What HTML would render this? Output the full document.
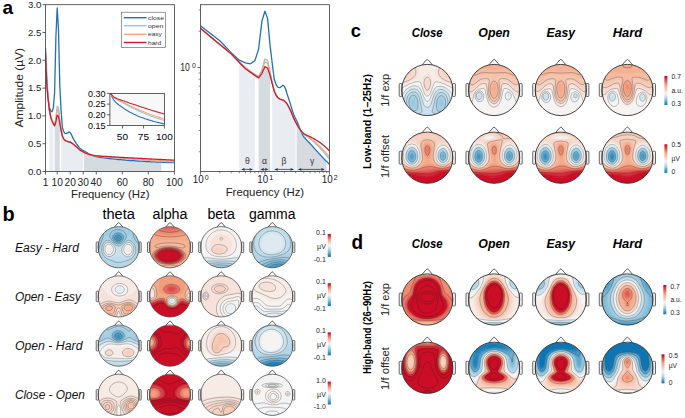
<!DOCTYPE html><html><head><meta charset="utf-8"><style>html,body{margin:0;padding:0;background:#fff;overflow:hidden;}svg{display:block;}text{font-family:"Liberation Sans", sans-serif;}</style></head><body>
<svg width="685" height="418" viewBox="0 0 685 418">
<rect width="685" height="418" fill="#fff"/>
<defs><filter id="sm" x="-10%" y="-10%" width="120%" height="120%"><feGaussianBlur stdDeviation="0.7"/></filter><linearGradient id="cbg" x1="0" y1="1" x2="0" y2="0"><stop offset="0.0" stop-color="#0571b0"/><stop offset="0.1" stop-color="#3d93c2"/><stop offset="0.2" stop-color="#76b4d5"/><stop offset="0.3" stop-color="#a6cfe3"/><stop offset="0.4" stop-color="#cfe3ed"/><stop offset="0.5" stop-color="#f7f7f7"/><stop offset="0.6" stop-color="#f6d6c8"/><stop offset="0.7" stop-color="#f5b599"/><stop offset="0.8" stop-color="#ec846e"/><stop offset="0.9" stop-color="#db4247"/><stop offset="1.0" stop-color="#ca0020"/></linearGradient><linearGradient id="cbg2" x1="0" y1="1" x2="0" y2="0"><stop offset="0.00" stop-color="#0571b0"/><stop offset="0.10" stop-color="#4f9dc8"/><stop offset="0.20" stop-color="#97c8df"/><stop offset="0.30" stop-color="#cce2ec"/><stop offset="0.40" stop-color="#f7f2ef"/><stop offset="0.50" stop-color="#f6d7ca"/><stop offset="0.60" stop-color="#f5bda4"/><stop offset="0.70" stop-color="#f3a07f"/><stop offset="0.80" stop-color="#e56a5f"/><stop offset="0.90" stop-color="#d83540"/><stop offset="1.00" stop-color="#ca0020"/></linearGradient></defs>
<path d="M49.4 110.1 L49.5 110.4 L49.5 110.8 L49.6 111.2 L49.7 111.5 L49.7 111.9 L49.8 112.3 L49.9 112.6 L49.9 113.0 L50.0 113.4 L50.1 113.7 L50.1 114.1 L50.2 114.5 L50.3 114.8 L50.3 115.2 L50.4 115.6 L50.5 115.9 L50.5 116.3 L50.6 116.7 L50.7 117.0 L50.7 117.4 L50.8 117.5 L50.9 117.7 L50.9 117.9 L51.0 118.1 L51.1 118.3 L51.1 118.5 L51.2 118.6 L51.3 118.8 L51.3 119.0 L51.4 119.2 L51.5 119.4 L51.5 119.6 L51.6 119.7 L51.7 119.9 L51.7 120.1 L51.8 120.3 L51.9 120.5 L51.9 120.7 L52.0 120.8 L52.1 121.0 L52.1 121.1 L52.2 121.3 L52.3 121.4 L52.3 121.6 L52.4 121.7 L52.5 121.8 L52.5 122.0 L52.6 122.1 L52.7 122.3 L52.7 122.4 L52.8 122.6 L52.8 122.7 L52.9 122.8 L53.0 123.0 L53.0 123.1 L53.1 123.3 L53.2 123.4 L53.2 123.5 L53.3 123.7 L53.3 171.5 L49.4 171.5 Z" fill="#e9edf1"/>
<path d="M54.6 125.9 L54.7 125.6 L54.8 125.3 L54.9 125.1 L55.0 124.8 L55.1 124.5 L55.1 124.2 L55.2 123.9 L55.3 123.6 L55.4 123.4 L55.5 123.1 L55.6 122.8 L55.7 122.5 L55.8 122.2 L55.8 122.0 L55.9 121.6 L56.0 121.2 L56.1 120.7 L56.2 120.3 L56.3 119.8 L56.4 119.4 L56.5 118.9 L56.6 118.5 L56.6 118.0 L56.7 117.6 L56.8 117.1 L56.9 116.6 L57.0 116.2 L57.1 115.7 L57.2 115.3 L57.3 115.1 L57.4 115.2 L57.4 115.3 L57.5 115.4 L57.6 115.5 L57.7 115.6 L57.8 115.7 L57.9 115.8 L58.0 115.9 L58.1 116.0 L58.1 116.1 L58.2 116.1 L58.3 116.2 L58.4 116.3 L58.5 116.4 L58.6 116.8 L58.7 117.3 L58.8 117.8 L58.9 118.2 L58.9 118.7 L59.0 119.2 L59.1 119.6 L59.2 120.1 L59.3 120.6 L59.4 121.1 L59.5 121.5 L59.6 122.0 L59.6 122.5 L59.7 122.9 L59.8 123.4 L59.8 171.5 L54.6 171.5 Z" fill="#d6dbe0"/>
<path d="M61.1 130.5 L61.5 132.2 L61.9 133.8 L62.2 135.4 L62.6 136.6 L63.0 137.4 L63.4 138.2 L63.8 138.9 L64.1 139.4 L64.5 139.8 L64.9 140.2 L65.3 140.5 L65.6 140.7 L66.0 140.9 L66.4 141.0 L66.8 141.2 L67.1 141.3 L67.5 141.4 L67.9 141.5 L68.3 141.6 L68.6 141.7 L69.0 141.8 L69.4 141.9 L69.8 142.0 L70.1 142.1 L70.5 142.3 L70.9 142.5 L71.3 142.7 L71.6 142.9 L72.0 143.2 L72.4 143.4 L72.8 143.6 L73.1 143.9 L73.5 144.3 L73.9 144.6 L74.3 144.9 L74.6 145.2 L75.0 145.6 L75.4 145.9 L75.8 146.2 L76.1 146.6 L76.5 146.9 L76.9 147.3 L77.3 147.6 L77.6 147.9 L78.0 148.3 L78.4 148.6 L78.8 148.9 L79.1 149.2 L79.5 149.5 L79.9 149.8 L80.3 150.1 L80.6 150.3 L81.0 150.6 L81.4 150.8 L81.8 151.1 L82.1 151.3 L82.5 151.5 L82.9 151.7 L83.3 151.9 L83.3 171.5 L61.1 171.5 Z" fill="#e9edf1"/>
<path d="M84.0 152.3 L85.4 152.9 L86.7 153.4 L88.0 153.9 L89.3 154.3 L90.6 154.7 L91.9 155.2 L93.2 155.8 L94.5 156.2 L95.8 156.5 L97.1 156.8 L98.5 157.1 L99.8 157.3 L101.1 157.5 L102.4 157.7 L103.7 157.8 L105.0 158.0 L106.3 158.1 L107.6 158.3 L108.9 158.4 L110.3 158.6 L111.6 158.7 L112.9 158.9 L114.2 159.0 L115.5 159.2 L116.8 159.3 L118.1 159.4 L119.4 159.6 L120.7 159.7 L122.1 159.8 L123.4 159.9 L124.7 160.0 L126.0 160.1 L127.3 160.2 L128.6 160.3 L129.9 160.4 L131.2 160.5 L132.5 160.6 L133.9 160.7 L135.2 160.8 L136.5 160.9 L137.8 161.0 L139.1 161.1 L140.4 161.2 L141.7 161.2 L143.0 161.3 L144.3 161.4 L145.6 161.5 L147.0 161.5 L148.3 161.6 L149.6 161.7 L150.9 161.7 L152.2 161.8 L153.5 161.9 L154.8 161.9 L156.1 162.0 L157.4 162.1 L158.8 162.1 L160.1 162.2 L161.4 162.2 L161.4 171.5 L84.0 171.5 Z" fill="#d6dbe0"/>
<clipPath id="clA"><rect x="45.5" y="4.7" width="128.9" height="166.8"/></clipPath>
<g clip-path="url(#clA)" fill="none" stroke-linejoin="round">
<path d="M45.5 48.1 L46.8 78.9 L48.1 97.6 L49.4 107.6 L50.7 110.7 L52.0 111.8 L53.3 108.1 L54.6 92.5 L55.9 36.9 L57.2 8.0 L58.5 29.7 L59.8 85.9 L61.1 110.9 L62.4 127.6 L63.7 131.7 L65.0 133.4 L66.3 133.7 L67.6 132.9 L68.9 131.9 L70.2 132.6 L71.5 134.8 L72.8 137.9 L74.1 140.1 L75.4 142.1 L76.7 144.2 L78.1 146.0 L79.4 147.6 L80.7 148.9 L82.0 149.8 L83.3 150.6 L84.6 151.4 L85.9 152.1 L87.2 152.8 L88.5 153.5 L89.8 154.2 L91.1 154.9 L92.4 155.4 L93.7 155.9 L95.0 156.3 L96.3 156.6 L97.6 156.9 L98.9 157.1 L100.2 157.3 L101.5 157.5 L102.8 157.7 L104.1 157.9 L105.4 158.0 L106.7 158.2 L108.0 158.3 L109.3 158.5 L110.6 158.6 L111.9 158.8 L113.2 158.9 L114.5 159.1 L115.8 159.2 L117.1 159.3 L118.4 159.5 L119.7 159.6 L121.0 159.7 L122.3 159.8 L123.6 159.9 L124.9 160.0 L126.2 160.2 L127.5 160.3 L128.8 160.4 L130.1 160.5 L131.4 160.6 L132.7 160.7 L134.0 160.7 L135.3 160.8 L136.6 160.9 L137.9 161.0 L139.2 161.1 L140.5 161.2 L141.8 161.2 L143.2 161.3 L144.5 161.4 L145.8 161.5 L147.1 161.5 L148.4 161.6 L149.7 161.7 L151.0 161.8 L152.3 161.8 L153.6 161.9 L154.9 161.9 L156.2 162.0 L157.5 162.1 L158.8 162.1 L160.1 162.2 L161.4 162.2 L162.7 162.3 L164.0 162.4 L165.3 162.4 L166.6 162.5 L167.9 162.5 L169.2 162.6 L170.5 162.6 L171.8 162.7 L173.1 162.7 L174.4 162.8" stroke="#1f71b5" stroke-width="1.3"/>
<path d="M45.5 53.6 L46.8 85.0 L48.1 99.2 L49.4 110.1 L50.7 116.0 L52.0 119.7 L53.3 122.6 L54.6 124.8 L55.9 118.2 L57.2 106.1 L58.5 107.7 L59.8 120.0 L61.1 129.6 L62.4 136.2 L63.7 138.9 L65.0 140.4 L66.3 141.0 L67.6 141.5 L68.9 141.8 L70.2 142.1 L71.5 142.9 L72.8 143.7 L74.1 144.8 L75.4 145.9 L76.7 147.1 L78.1 148.3 L79.4 149.4 L80.7 150.4 L82.0 151.2 L83.3 151.9 L84.6 152.5 L85.9 153.1 L87.2 153.6 L88.5 154.0 L89.8 154.5 L91.1 154.8 L92.4 155.2 L93.7 155.5 L95.0 155.7 L96.3 155.9 L97.6 156.1 L98.9 156.2 L100.2 156.4 L101.5 156.5 L102.8 156.6 L104.1 156.7 L105.4 156.9 L106.7 157.0 L108.0 157.1 L109.3 157.2 L110.6 157.3 L111.9 157.4 L113.2 157.6 L114.5 157.7 L115.8 157.8 L117.1 157.9 L118.4 158.0 L119.7 158.1 L121.0 158.3 L122.3 158.4 L123.6 158.5 L124.9 158.6 L126.2 158.7 L127.5 158.8 L128.8 158.9 L130.1 159.0 L131.4 159.1 L132.7 159.2 L134.0 159.3 L135.3 159.4 L136.6 159.5 L137.9 159.6 L139.2 159.7 L140.5 159.8 L141.8 159.9 L143.2 160.0 L144.5 160.1 L145.8 160.2 L147.1 160.3 L148.4 160.4 L149.7 160.4 L151.0 160.5 L152.3 160.6 L153.6 160.7 L154.9 160.8 L156.2 160.9 L157.5 160.9 L158.8 161.0 L160.1 161.1 L161.4 161.2 L162.7 161.2 L164.0 161.3 L165.3 161.4 L166.6 161.5 L167.9 161.5 L169.2 161.6 L170.5 161.7 L171.8 161.7 L173.1 161.8 L174.4 161.9" stroke="#92c5de" stroke-width="1.3"/>
<path d="M45.5 53.6 L46.8 85.0 L48.1 99.2 L49.4 110.1 L50.7 116.7 L52.0 120.3 L53.3 123.1 L54.6 125.4 L55.9 119.8 L57.2 109.5 L58.5 111.0 L59.8 121.5 L61.1 130.0 L62.4 136.2 L63.7 138.9 L65.0 140.4 L66.3 141.0 L67.6 141.5 L68.9 141.8 L70.2 142.1 L71.5 142.9 L72.8 143.7 L74.1 144.8 L75.4 145.9 L76.7 147.1 L78.1 148.3 L79.4 149.4 L80.7 150.4 L82.0 151.2 L83.3 151.9 L84.6 152.5 L85.9 153.1 L87.2 153.6 L88.5 154.0 L89.8 154.5 L91.1 154.8 L92.4 155.2 L93.7 155.5 L95.0 155.7 L96.3 155.9 L97.6 156.0 L98.9 156.2 L100.2 156.3 L101.5 156.4 L102.8 156.5 L104.1 156.7 L105.4 156.8 L106.7 156.9 L108.0 157.0 L109.3 157.1 L110.6 157.2 L111.9 157.3 L113.2 157.4 L114.5 157.5 L115.8 157.6 L117.1 157.7 L118.4 157.8 L119.7 157.9 L121.0 158.0 L122.3 158.1 L123.6 158.2 L124.9 158.3 L126.2 158.4 L127.5 158.5 L128.8 158.6 L130.1 158.7 L131.4 158.8 L132.7 158.9 L134.0 159.0 L135.3 159.1 L136.6 159.2 L137.9 159.3 L139.2 159.4 L140.5 159.5 L141.8 159.6 L143.2 159.6 L144.5 159.7 L145.8 159.8 L147.1 159.9 L148.4 160.0 L149.7 160.1 L151.0 160.2 L152.3 160.2 L153.6 160.3 L154.9 160.4 L156.2 160.5 L157.5 160.5 L158.8 160.6 L160.1 160.7 L161.4 160.8 L162.7 160.8 L164.0 160.9 L165.3 161.0 L166.6 161.1 L167.9 161.1 L169.2 161.2 L170.5 161.3 L171.8 161.3 L173.1 161.4 L174.4 161.4" stroke="#f4a582" stroke-width="1.3"/>
<path d="M45.5 53.6 L46.8 85.0 L48.1 99.2 L49.4 110.1 L50.7 117.3 L52.0 120.9 L53.3 123.7 L54.6 125.9 L55.9 121.7 L57.2 115.1 L58.5 116.5 L59.8 123.4 L61.1 130.5 L62.4 136.2 L63.7 138.9 L65.0 140.4 L66.3 141.0 L67.6 141.5 L68.9 141.8 L70.2 142.1 L71.5 142.9 L72.8 143.7 L74.1 144.8 L75.4 145.9 L76.7 147.1 L78.1 148.3 L79.4 149.4 L80.7 150.4 L82.0 151.2 L83.3 151.9 L84.6 152.6 L85.9 153.1 L87.2 153.6 L88.5 154.1 L89.8 154.5 L91.1 154.8 L92.4 155.1 L93.7 155.4 L95.0 155.6 L96.3 155.8 L97.6 155.9 L98.9 156.0 L100.2 156.1 L101.5 156.2 L102.8 156.3 L104.1 156.4 L105.4 156.4 L106.7 156.5 L108.0 156.6 L109.3 156.7 L110.6 156.7 L111.9 156.8 L113.2 156.9 L114.5 157.0 L115.8 157.1 L117.1 157.1 L118.4 157.2 L119.7 157.3 L121.0 157.4 L122.3 157.4 L123.6 157.5 L124.9 157.6 L126.2 157.6 L127.5 157.7 L128.8 157.8 L130.1 157.9 L131.4 157.9 L132.7 158.0 L134.0 158.1 L135.3 158.2 L136.6 158.2 L137.9 158.3 L139.2 158.4 L140.5 158.4 L141.8 158.5 L143.2 158.6 L144.5 158.7 L145.8 158.7 L147.1 158.8 L148.4 158.9 L149.7 158.9 L151.0 159.0 L152.3 159.1 L153.6 159.1 L154.9 159.2 L156.2 159.3 L157.5 159.3 L158.8 159.4 L160.1 159.5 L161.4 159.5 L162.7 159.6 L164.0 159.7 L165.3 159.7 L166.6 159.8 L167.9 159.9 L169.2 159.9 L170.5 160.0 L171.8 160.1 L173.1 160.1 L174.4 160.2" stroke="#ca1c2c" stroke-width="1.3"/>
</g>
<rect x="45.5" y="4.7" width="128.9" height="166.8" fill="none" stroke="#3a3a3a" stroke-width="0.8"/>
<line x1="42.5" y1="171.5" x2="45.5" y2="171.5" stroke="#3a3a3a" stroke-width="0.8"/>
<text x="41.3" y="174.8" font-size="9.3" text-anchor="end" textLength="13.4" lengthAdjust="spacingAndGlyphs" fill="#222">0.0</text>
<line x1="42.5" y1="143.7" x2="45.5" y2="143.7" stroke="#3a3a3a" stroke-width="0.8"/>
<text x="41.3" y="147" font-size="9.3" text-anchor="end" textLength="13.4" lengthAdjust="spacingAndGlyphs" fill="#222">0.5</text>
<line x1="42.5" y1="115.9" x2="45.5" y2="115.9" stroke="#3a3a3a" stroke-width="0.8"/>
<text x="41.3" y="119.2" font-size="9.3" text-anchor="end" textLength="13.4" lengthAdjust="spacingAndGlyphs" fill="#222">1.0</text>
<line x1="42.5" y1="88.1" x2="45.5" y2="88.1" stroke="#3a3a3a" stroke-width="0.8"/>
<text x="41.3" y="91.4" font-size="9.3" text-anchor="end" textLength="13.4" lengthAdjust="spacingAndGlyphs" fill="#222">1.5</text>
<line x1="42.5" y1="60.3" x2="45.5" y2="60.3" stroke="#3a3a3a" stroke-width="0.8"/>
<text x="41.3" y="63.6" font-size="9.3" text-anchor="end" textLength="13.4" lengthAdjust="spacingAndGlyphs" fill="#222">2.0</text>
<line x1="42.5" y1="32.5" x2="45.5" y2="32.5" stroke="#3a3a3a" stroke-width="0.8"/>
<text x="41.3" y="35.8" font-size="9.3" text-anchor="end" textLength="13.4" lengthAdjust="spacingAndGlyphs" fill="#222">2.5</text>
<line x1="42.5" y1="4.7" x2="45.5" y2="4.7" stroke="#3a3a3a" stroke-width="0.8"/>
<text x="41.3" y="8" font-size="9.3" text-anchor="end" textLength="13.4" lengthAdjust="spacingAndGlyphs" fill="#222">3.0</text>
<line x1="45.5" y1="171.5" x2="45.5" y2="174.5" stroke="#3a3a3a" stroke-width="0.8"/>
<text x="45.5" y="185.8" font-size="10" text-anchor="middle" textLength="5.65" lengthAdjust="spacingAndGlyphs" fill="#222">1</text>
<line x1="57.22" y1="171.5" x2="57.22" y2="174.5" stroke="#3a3a3a" stroke-width="0.8"/>
<text x="57.22" y="185.8" font-size="10" text-anchor="middle" textLength="11.3" lengthAdjust="spacingAndGlyphs" fill="#222">10</text>
<line x1="70.24" y1="171.5" x2="70.24" y2="174.5" stroke="#3a3a3a" stroke-width="0.8"/>
<text x="70.24" y="185.8" font-size="10" text-anchor="middle" textLength="11.3" lengthAdjust="spacingAndGlyphs" fill="#222">20</text>
<line x1="83.26" y1="171.5" x2="83.26" y2="174.5" stroke="#3a3a3a" stroke-width="0.8"/>
<text x="83.26" y="185.8" font-size="10" text-anchor="middle" textLength="11.3" lengthAdjust="spacingAndGlyphs" fill="#222">30</text>
<line x1="96.28" y1="171.5" x2="96.28" y2="174.5" stroke="#3a3a3a" stroke-width="0.8"/>
<text x="96.28" y="185.8" font-size="10" text-anchor="middle" textLength="11.3" lengthAdjust="spacingAndGlyphs" fill="#222">40</text>
<line x1="122.32" y1="171.5" x2="122.32" y2="174.5" stroke="#3a3a3a" stroke-width="0.8"/>
<text x="122.32" y="185.8" font-size="10" text-anchor="middle" textLength="11.3" lengthAdjust="spacingAndGlyphs" fill="#222">60</text>
<line x1="148.36" y1="171.5" x2="148.36" y2="174.5" stroke="#3a3a3a" stroke-width="0.8"/>
<text x="148.36" y="185.8" font-size="10" text-anchor="middle" textLength="11.3" lengthAdjust="spacingAndGlyphs" fill="#222">80</text>
<line x1="174.4" y1="171.5" x2="174.4" y2="174.5" stroke="#3a3a3a" stroke-width="0.8"/>
<text x="174.4" y="185.8" font-size="10" text-anchor="middle" textLength="16.95" lengthAdjust="spacingAndGlyphs" fill="#222">100</text>
<text x="110.2" y="197.9" font-size="10.6" text-anchor="middle" textLength="78.5" lengthAdjust="spacingAndGlyphs" fill="#222">Frequency (Hz)</text>
<text x="23.2" y="87.7" font-size="10.6" text-anchor="middle" textLength="79.5" lengthAdjust="spacingAndGlyphs" transform="rotate(-90 23.2 87.7)" fill="#222">Amplitude (µV)</text>
<rect x="109.9" y="93.4" width="54.5" height="32.1" fill="#f8f8f8"/>
<clipPath id="clI"><rect x="109.9" y="93.4" width="54.5" height="32.1"/></clipPath>
<g clip-path="url(#clI)" fill="none">
<path d="M109.9 91.1 L110.7 93.6 L111.6 95.8 L112.4 97.7 L113.3 99.2 L114.1 100.4 L114.9 101.4 L115.8 102.3 L116.6 103.1 L117.4 103.8 L118.3 104.5 L119.1 105.1 L120.0 105.7 L120.8 106.3 L121.6 106.9 L122.5 107.4 L123.3 108.0 L124.2 108.6 L125.0 109.2 L125.8 109.7 L126.7 110.2 L127.5 110.7 L128.3 111.2 L129.2 111.7 L130.0 112.2 L130.9 112.6 L131.7 113.1 L132.5 113.5 L133.4 113.9 L134.2 114.3 L135.1 114.7 L135.9 115.1 L136.7 115.5 L137.6 115.9 L138.4 116.2 L139.2 116.5 L140.1 116.9 L140.9 117.2 L141.8 117.5 L142.6 117.8 L143.4 118.1 L144.3 118.4 L145.1 118.7 L146.0 119.0 L146.8 119.3 L147.6 119.6 L148.5 119.8 L149.3 120.1 L150.1 120.3 L151.0 120.6 L151.8 120.8 L152.7 121.1 L153.5 121.3 L154.3 121.5 L155.2 121.7 L156.0 122.0 L156.9 122.2 L157.7 122.4 L158.5 122.6 L159.4 122.8 L160.2 123.0 L161.0 123.2 L161.9 123.4 L162.7 123.6 L163.6 123.8 L164.4 123.9" stroke="#1f71b5" stroke-width="1.1"/>
<path d="M109.9 92.0 L110.7 93.5 L111.6 94.8 L112.4 96.0 L113.3 96.9 L114.1 97.6 L114.9 98.3 L115.8 98.9 L116.6 99.4 L117.4 99.9 L118.3 100.4 L119.1 100.8 L120.0 101.2 L120.8 101.7 L121.6 102.1 L122.5 102.5 L123.3 103.0 L124.2 103.4 L125.0 103.9 L125.8 104.4 L126.7 104.8 L127.5 105.3 L128.3 105.7 L129.2 106.2 L130.0 106.6 L130.9 107.1 L131.7 107.5 L132.5 107.9 L133.4 108.3 L134.2 108.7 L135.1 109.1 L135.9 109.5 L136.7 109.9 L137.6 110.3 L138.4 110.7 L139.2 111.1 L140.1 111.5 L140.9 111.9 L141.8 112.2 L142.6 112.6 L143.4 113.0 L144.3 113.3 L145.1 113.7 L146.0 114.0 L146.8 114.4 L147.6 114.7 L148.5 115.0 L149.3 115.4 L150.1 115.7 L151.0 116.0 L151.8 116.3 L152.7 116.6 L153.5 116.9 L154.3 117.2 L155.2 117.5 L156.0 117.8 L156.9 118.1 L157.7 118.4 L158.5 118.7 L159.4 118.9 L160.2 119.2 L161.0 119.5 L161.9 119.7 L162.7 120.0 L163.6 120.2 L164.4 120.5" stroke="#92c5de" stroke-width="1.1"/>
<path d="M109.9 92.0 L110.7 93.5 L111.6 94.8 L112.4 95.9 L113.3 96.8 L114.1 97.5 L114.9 98.1 L115.8 98.7 L116.6 99.2 L117.4 99.6 L118.3 100.0 L119.1 100.4 L120.0 100.8 L120.8 101.2 L121.6 101.6 L122.5 102.0 L123.3 102.4 L124.2 102.8 L125.0 103.3 L125.8 103.7 L126.7 104.1 L127.5 104.5 L128.3 104.9 L129.2 105.4 L130.0 105.8 L130.9 106.1 L131.7 106.5 L132.5 106.9 L133.4 107.3 L134.2 107.7 L135.1 108.1 L135.9 108.4 L136.7 108.8 L137.6 109.2 L138.4 109.5 L139.2 109.9 L140.1 110.3 L140.9 110.6 L141.8 111.0 L142.6 111.3 L143.4 111.6 L144.3 112.0 L145.1 112.3 L146.0 112.6 L146.8 113.0 L147.6 113.3 L148.5 113.6 L149.3 113.9 L150.1 114.2 L151.0 114.5 L151.8 114.8 L152.7 115.1 L153.5 115.4 L154.3 115.7 L155.2 116.0 L156.0 116.3 L156.9 116.6 L157.7 116.8 L158.5 117.1 L159.4 117.4 L160.2 117.6 L161.0 117.9 L161.9 118.2 L162.7 118.4 L163.6 118.7 L164.4 118.9" stroke="#f4a582" stroke-width="1.1"/>
<path d="M109.9 92.1 L110.7 93.5 L111.6 94.7 L112.4 95.7 L113.3 96.4 L114.1 97.1 L114.9 97.6 L115.8 98.0 L116.6 98.4 L117.4 98.8 L118.3 99.1 L119.1 99.4 L120.0 99.7 L120.8 99.9 L121.6 100.2 L122.5 100.5 L123.3 100.8 L124.2 101.1 L125.0 101.4 L125.8 101.7 L126.7 102.0 L127.5 102.3 L128.3 102.6 L129.2 102.9 L130.0 103.2 L130.9 103.5 L131.7 103.7 L132.5 104.0 L133.4 104.3 L134.2 104.6 L135.1 104.8 L135.9 105.1 L136.7 105.4 L137.6 105.7 L138.4 105.9 L139.2 106.2 L140.1 106.5 L140.9 106.8 L141.8 107.1 L142.6 107.3 L143.4 107.6 L144.3 107.9 L145.1 108.2 L146.0 108.4 L146.8 108.7 L147.6 109.0 L148.5 109.2 L149.3 109.5 L150.1 109.8 L151.0 110.0 L151.8 110.3 L152.7 110.6 L153.5 110.8 L154.3 111.1 L155.2 111.3 L156.0 111.6 L156.9 111.8 L157.7 112.1 L158.5 112.3 L159.4 112.6 L160.2 112.8 L161.0 113.1 L161.9 113.3 L162.7 113.6 L163.6 113.8 L164.4 114.0" stroke="#ca1c2c" stroke-width="1.1"/>
</g>
<rect x="109.9" y="93.4" width="54.5" height="32.1" fill="none" stroke="#3a3a3a" stroke-width="0.8"/>
<line x1="106.9" y1="125.5" x2="109.9" y2="125.5" stroke="#3a3a3a" stroke-width="0.8"/>
<text x="105.4" y="128.6" font-size="8.4" text-anchor="end" textLength="17.4" lengthAdjust="spacingAndGlyphs">0.15</text>
<line x1="106.9" y1="114.8" x2="109.9" y2="114.8" stroke="#3a3a3a" stroke-width="0.8"/>
<text x="105.4" y="117.9" font-size="8.4" text-anchor="end" textLength="17.4" lengthAdjust="spacingAndGlyphs">0.20</text>
<line x1="106.9" y1="104.1" x2="109.9" y2="104.1" stroke="#3a3a3a" stroke-width="0.8"/>
<text x="105.4" y="107.2" font-size="8.4" text-anchor="end" textLength="17.4" lengthAdjust="spacingAndGlyphs">0.25</text>
<line x1="106.9" y1="93.4" x2="109.9" y2="93.4" stroke="#3a3a3a" stroke-width="0.8"/>
<text x="105.4" y="96.5" font-size="8.4" text-anchor="end" textLength="17.4" lengthAdjust="spacingAndGlyphs">0.30</text>
<line x1="122.48" y1="125.5" x2="122.48" y2="128.5" stroke="#3a3a3a" stroke-width="0.8"/>
<text x="122.48" y="139.6" font-size="8.6" text-anchor="middle" textLength="11.2" lengthAdjust="spacingAndGlyphs">50</text>
<line x1="143.44" y1="125.5" x2="143.44" y2="128.5" stroke="#3a3a3a" stroke-width="0.8"/>
<text x="143.44" y="139.6" font-size="8.6" text-anchor="middle" textLength="11.2" lengthAdjust="spacingAndGlyphs">75</text>
<line x1="164.4" y1="125.5" x2="164.4" y2="128.5" stroke="#3a3a3a" stroke-width="0.8"/>
<text x="164.4" y="139.6" font-size="8.6" text-anchor="middle" textLength="16.8" lengthAdjust="spacingAndGlyphs">100</text>
<rect x="121.4" y="12.2" width="44.2" height="35.4" fill="#fff" stroke="#555" stroke-width="0.6"/>
<line x1="123.8" y1="17.7" x2="146.5" y2="17.7" stroke="#1f71b5" stroke-width="1.4"/>
<text x="148" y="19.8" font-size="6.2" textLength="16" lengthAdjust="spacingAndGlyphs" fill="#333">close</text>
<line x1="123.8" y1="25.7" x2="146.5" y2="25.7" stroke="#92c5de" stroke-width="1.4"/>
<text x="148" y="27.8" font-size="6.2" textLength="15.5" lengthAdjust="spacingAndGlyphs" fill="#333">open</text>
<line x1="123.8" y1="34.3" x2="146.5" y2="34.3" stroke="#f4a582" stroke-width="1.4"/>
<text x="148" y="36.4" font-size="6.2" textLength="13.8" lengthAdjust="spacingAndGlyphs" fill="#333">easy</text>
<line x1="123.8" y1="42.5" x2="146.5" y2="42.5" stroke="#ca1c2c" stroke-width="1.4"/>
<text x="148" y="44.6" font-size="6.2" textLength="13.2" lengthAdjust="spacingAndGlyphs" fill="#333">hard</text>
<path d="M239.2 62.3 L239.6 62.6 L239.9 62.9 L240.3 63.2 L240.6 63.5 L241.0 63.9 L241.3 64.2 L241.6 64.5 L241.9 64.8 L242.3 65.2 L242.6 65.5 L242.9 65.8 L243.2 66.2 L243.5 66.5 L243.8 66.9 L244.1 67.2 L244.4 67.5 L244.7 67.9 L245.0 68.2 L245.3 68.6 L245.6 68.9 L245.9 69.1 L246.1 69.2 L246.4 69.4 L246.7 69.6 L247.0 69.8 L247.2 70.0 L247.5 70.1 L247.8 70.3 L248.0 70.5 L248.3 70.7 L248.5 70.9 L248.8 71.1 L249.0 71.2 L249.3 71.4 L249.5 71.6 L249.8 71.8 L250.0 72.0 L250.3 72.2 L250.5 72.4 L250.7 72.5 L251.0 72.7 L251.2 72.8 L251.4 73.0 L251.7 73.1 L251.9 73.3 L252.1 73.4 L252.4 73.6 L252.6 73.7 L252.8 73.9 L253.0 74.0 L253.2 74.2 L253.4 74.3 L253.7 74.5 L253.9 74.6 L254.1 74.8 L254.3 74.9 L254.5 75.1 L254.7 75.2 L254.9 75.4 L254.9 171.5 L239.2 171.5 Z" fill="#e9edf1"/>
<path d="M258.6 77.9 L258.9 77.6 L259.1 77.2 L259.4 76.9 L259.6 76.6 L259.8 76.3 L260.0 76.0 L260.3 75.7 L260.5 75.4 L260.7 75.0 L260.9 74.7 L261.1 74.4 L261.4 74.1 L261.6 73.8 L261.8 73.5 L262.0 73.2 L262.2 72.7 L262.4 72.2 L262.6 71.8 L262.8 71.3 L263.0 70.9 L263.2 70.4 L263.4 70.0 L263.6 69.5 L263.8 69.1 L264.0 68.6 L264.2 68.2 L264.4 67.8 L264.6 67.4 L264.8 66.9 L265.0 66.8 L265.2 66.9 L265.4 66.9 L265.6 67.0 L265.7 67.1 L265.9 67.2 L266.1 67.3 L266.3 67.4 L266.5 67.5 L266.6 67.6 L266.8 67.6 L267.0 67.7 L267.2 67.8 L267.4 67.9 L267.5 68.0 L267.7 68.4 L267.9 68.8 L268.0 69.3 L268.2 69.7 L268.4 70.2 L268.5 70.7 L268.7 71.1 L268.9 71.6 L269.0 72.1 L269.2 72.6 L269.4 73.1 L269.5 73.6 L269.7 74.1 L269.8 74.6 L270.0 75.1 L270.0 171.5 L258.6 171.5 Z" fill="#d6dbe0"/>
<path d="M272.2 83.5 L272.9 85.6 L273.5 87.8 L274.1 90.1 L274.6 91.9 L275.2 93.1 L275.7 94.3 L276.3 95.5 L276.8 96.2 L277.3 96.9 L277.9 97.6 L278.4 98.0 L278.9 98.4 L279.3 98.7 L279.8 99.0 L280.3 99.2 L280.8 99.4 L281.2 99.7 L281.7 99.8 L282.1 100.0 L282.5 100.1 L283.0 100.3 L283.4 100.5 L283.8 100.7 L284.2 100.9 L284.6 101.2 L285.0 101.6 L285.4 101.9 L285.8 102.3 L286.2 102.8 L286.5 103.2 L286.9 103.7 L287.3 104.2 L287.6 104.8 L288.0 105.4 L288.3 106.0 L288.7 106.7 L289.0 107.4 L289.4 108.1 L289.7 108.8 L290.0 109.5 L290.4 110.2 L290.7 110.9 L291.0 111.7 L291.3 112.4 L291.6 113.2 L291.9 113.9 L292.2 114.6 L292.5 115.4 L292.8 116.1 L293.1 116.7 L293.4 117.4 L293.7 118.1 L294.0 118.7 L294.3 119.3 L294.6 119.9 L294.9 120.5 L295.1 121.0 L295.4 121.6 L295.7 122.2 L295.7 171.5 L272.2 171.5 Z" fill="#e9edf1"/>
<path d="M296.6 123.9 L297.5 125.4 L298.3 126.9 L299.2 128.2 L300.0 129.5 L300.8 130.7 L301.5 132.5 L302.3 134.1 L303.0 135.5 L303.7 136.6 L304.4 137.5 L305.1 138.3 L305.8 139.1 L306.4 139.8 L307.0 140.4 L307.6 141.1 L308.3 141.7 L308.8 142.2 L309.4 142.8 L310.0 143.4 L310.5 144.0 L311.1 144.6 L311.6 145.2 L312.1 145.8 L312.7 146.4 L313.2 147.0 L313.7 147.5 L314.1 148.1 L314.6 148.6 L315.1 149.2 L315.6 149.7 L316.0 150.2 L316.5 150.7 L316.9 151.2 L317.3 151.6 L317.8 152.1 L318.2 152.6 L318.6 153.0 L319.0 153.5 L319.4 153.9 L319.8 154.3 L320.2 154.8 L320.6 155.2 L321.0 155.6 L321.3 156.0 L321.7 156.4 L322.1 156.8 L322.4 157.1 L322.8 157.5 L323.1 157.9 L323.5 158.2 L323.8 158.6 L324.2 159.0 L324.5 159.3 L324.8 159.7 L325.2 160.0 L325.5 160.3 L325.8 160.7 L326.1 161.0 L326.4 161.3 L326.4 171.5 L296.6 171.5 Z" fill="#d6dbe0"/>
<clipPath id="clB"><rect x="200.4" y="4.7" width="128.99999999999997" height="166.8"/></clipPath>
<g clip-path="url(#clB)" fill="none" stroke-linejoin="round">
<path d="M200.4 25.8 L219.8 40.8 L231.2 52.6 L239.2 60.2 L245.5 62.8 L250.6 63.8 L254.9 60.6 L258.6 49.1 L261.9 21.3 L264.9 11.1 L267.6 18.5 L270.0 44.9 L272.2 63.0 L274.3 79.8 L276.3 85.1 L278.1 87.3 L279.8 87.7 L281.4 86.5 L282.9 85.3 L284.3 86.2 L285.7 89.2 L287.0 93.8 L288.2 97.4 L289.4 100.9 L290.6 104.6 L291.7 108.4 L292.7 111.7 L293.7 114.5 L294.7 116.8 L295.7 118.8 L296.6 120.7 L297.5 122.5 L298.3 124.5 L299.2 126.6 L300.0 128.7 L300.8 130.7 L301.5 132.5 L302.3 134.1 L303.0 135.5 L303.7 136.6 L304.4 137.5 L305.1 138.3 L305.8 139.1 L306.4 139.8 L307.0 140.4 L307.6 141.1 L308.3 141.7 L308.8 142.2 L309.4 142.8 L310.0 143.4 L310.5 144.0 L311.1 144.6 L311.6 145.2 L312.1 145.8 L312.7 146.4 L313.2 147.0 L313.7 147.5 L314.1 148.1 L314.6 148.6 L315.1 149.2 L315.6 149.7 L316.0 150.2 L316.5 150.7 L316.9 151.2 L317.3 151.6 L317.8 152.1 L318.2 152.6 L318.6 153.0 L319.0 153.5 L319.4 153.9 L319.8 154.3 L320.2 154.8 L320.6 155.2 L321.0 155.6 L321.3 156.0 L321.7 156.4 L322.1 156.8 L322.4 157.1 L322.8 157.5 L323.1 157.9 L323.5 158.2 L323.8 158.6 L324.2 159.0 L324.5 159.3 L324.8 159.7 L325.2 160.0 L325.5 160.3 L325.8 160.7 L326.1 161.0 L326.4 161.3 L326.8 161.6 L327.1 161.9 L327.4 162.2 L327.7 162.6 L328.0 162.9 L328.3 163.1 L328.5 163.4 L328.8 163.7 L329.1 164.0 L329.4 164.3" stroke="#1f71b5" stroke-width="1.3"/>
<path d="M200.4 28.2 L219.8 44.4 L231.2 53.8 L239.2 62.3 L245.5 67.6 L250.6 71.2 L254.9 74.2 L258.6 76.7 L261.9 69.7 L264.9 59.0 L267.6 60.3 L270.0 71.5 L272.2 82.3 L274.3 91.3 L276.3 95.5 L278.1 97.8 L279.8 99.0 L281.4 99.7 L282.9 100.2 L284.3 100.9 L285.7 102.2 L287.0 103.8 L288.2 105.9 L289.4 108.2 L290.6 110.7 L291.7 113.3 L292.7 115.8 L293.7 118.1 L294.7 120.2 L295.7 122.1 L296.6 123.8 L297.5 125.3 L298.3 126.7 L299.2 128.1 L300.0 129.4 L300.8 130.6 L301.5 131.7 L302.3 132.6 L303.0 133.4 L303.7 134.1 L304.4 134.7 L305.1 135.2 L305.8 135.7 L306.4 136.1 L307.0 136.5 L307.6 136.9 L308.3 137.3 L308.8 137.7 L309.4 138.1 L310.0 138.5 L310.5 139.0 L311.1 139.4 L311.6 139.9 L312.1 140.3 L312.7 140.8 L313.2 141.2 L313.7 141.7 L314.1 142.1 L314.6 142.6 L315.1 143.0 L315.6 143.5 L316.0 143.9 L316.5 144.3 L316.9 144.8 L317.3 145.2 L317.8 145.7 L318.2 146.1 L318.6 146.5 L319.0 147.0 L319.4 147.4 L319.8 147.8 L320.2 148.3 L320.6 148.7 L321.0 149.1 L321.3 149.5 L321.7 149.9 L322.1 150.4 L322.4 150.8 L322.8 151.2 L323.1 151.6 L323.5 152.0 L323.8 152.4 L324.2 152.8 L324.5 153.2 L324.8 153.6 L325.2 154.0 L325.5 154.4 L325.8 154.8 L326.1 155.2 L326.4 155.5 L326.8 155.9 L327.1 156.3 L327.4 156.7 L327.7 157.0 L328.0 157.4 L328.3 157.8 L328.5 158.1 L328.8 158.5 L329.1 158.8 L329.4 159.2" stroke="#92c5de" stroke-width="1.3"/>
<path d="M200.4 28.2 L219.8 44.4 L231.2 53.8 L239.2 62.3 L245.5 68.2 L250.6 71.8 L254.9 74.8 L258.6 77.3 L261.9 71.3 L264.9 61.8 L267.6 63.1 L270.0 73.0 L272.2 82.9 L274.3 91.3 L276.3 95.5 L278.1 97.8 L279.8 99.0 L281.4 99.7 L282.9 100.2 L284.3 100.9 L285.7 102.2 L287.0 103.8 L288.2 105.9 L289.4 108.2 L290.6 110.7 L291.7 113.3 L292.7 115.8 L293.7 118.1 L294.7 120.2 L295.7 122.1 L296.6 123.8 L297.5 125.3 L298.3 126.7 L299.2 128.1 L300.0 129.4 L300.8 130.6 L301.5 131.6 L302.3 132.6 L303.0 133.3 L303.7 134.0 L304.4 134.5 L305.1 135.0 L305.8 135.4 L306.4 135.8 L307.0 136.2 L307.6 136.6 L308.3 137.0 L308.8 137.3 L309.4 137.7 L310.0 138.0 L310.5 138.4 L311.1 138.8 L311.6 139.3 L312.1 139.7 L312.7 140.1 L313.2 140.5 L313.7 140.9 L314.1 141.3 L314.6 141.7 L315.1 142.1 L315.6 142.5 L316.0 142.9 L316.5 143.3 L316.9 143.7 L317.3 144.1 L317.8 144.5 L318.2 144.9 L318.6 145.3 L319.0 145.7 L319.4 146.0 L319.8 146.4 L320.2 146.8 L320.6 147.2 L321.0 147.6 L321.3 148.0 L321.7 148.4 L322.1 148.8 L322.4 149.2 L322.8 149.5 L323.1 149.9 L323.5 150.3 L323.8 150.7 L324.2 151.0 L324.5 151.4 L324.8 151.8 L325.2 152.1 L325.5 152.5 L325.8 152.9 L326.1 153.2 L326.4 153.6 L326.8 153.9 L327.1 154.3 L327.4 154.6 L327.7 155.0 L328.0 155.3 L328.3 155.7 L328.5 156.0 L328.8 156.3 L329.1 156.7 L329.4 157.0" stroke="#f4a582" stroke-width="1.3"/>
<path d="M200.4 28.2 L219.8 44.4 L231.2 53.8 L239.2 62.3 L245.5 68.8 L250.6 72.4 L254.9 75.4 L258.6 77.9 L261.9 73.3 L264.9 66.7 L267.6 68.0 L270.0 75.1 L272.2 83.5 L274.3 91.3 L276.3 95.5 L278.1 97.8 L279.8 99.0 L281.4 99.7 L282.9 100.2 L284.3 100.9 L285.7 102.2 L287.0 103.8 L288.2 105.9 L289.4 108.2 L290.6 110.7 L291.7 113.3 L292.7 115.8 L293.7 118.1 L294.7 120.2 L295.7 122.2 L296.6 123.9 L297.5 125.4 L298.3 126.9 L299.2 128.2 L300.0 129.5 L300.8 130.6 L301.5 131.5 L302.3 132.4 L303.0 133.0 L303.7 133.6 L304.4 134.0 L305.1 134.4 L305.8 134.8 L306.4 135.1 L307.0 135.4 L307.6 135.6 L308.3 135.9 L308.8 136.1 L309.4 136.4 L310.0 136.6 L310.5 136.9 L311.1 137.2 L311.6 137.5 L312.1 137.8 L312.7 138.0 L313.2 138.3 L313.7 138.6 L314.1 138.9 L314.6 139.1 L315.1 139.4 L315.6 139.7 L316.0 140.0 L316.5 140.2 L316.9 140.5 L317.3 140.8 L317.8 141.1 L318.2 141.3 L318.6 141.6 L319.0 141.9 L319.4 142.2 L319.8 142.5 L320.2 142.7 L320.6 143.0 L321.0 143.3 L321.3 143.6 L321.7 143.9 L322.1 144.2 L322.4 144.5 L322.8 144.8 L323.1 145.0 L323.5 145.3 L323.8 145.6 L324.2 145.9 L324.5 146.2 L324.8 146.5 L325.2 146.8 L325.5 147.1 L325.8 147.4 L326.1 147.7 L326.4 147.9 L326.8 148.2 L327.1 148.5 L327.4 148.8 L327.7 149.1 L328.0 149.4 L328.3 149.7 L328.5 150.0 L328.8 150.2 L329.1 150.5 L329.4 150.8" stroke="#ca1c2c" stroke-width="1.3"/>
</g>
<rect x="200.4" y="4.7" width="129" height="166.8" fill="none" stroke="#3a3a3a" stroke-width="0.8"/>
<line x1="197.4" y1="67.5" x2="200.4" y2="67.5" stroke="#3a3a3a" stroke-width="0.8"/>
<line x1="198.6" y1="151.73" x2="200.4" y2="151.73" stroke="#3a3a3a" stroke-width="0.6"/>
<line x1="198.6" y1="130.51" x2="200.4" y2="130.51" stroke="#3a3a3a" stroke-width="0.6"/>
<line x1="198.6" y1="115.45" x2="200.4" y2="115.45" stroke="#3a3a3a" stroke-width="0.6"/>
<line x1="198.6" y1="103.77" x2="200.4" y2="103.77" stroke="#3a3a3a" stroke-width="0.6"/>
<line x1="198.6" y1="94.23" x2="200.4" y2="94.23" stroke="#3a3a3a" stroke-width="0.6"/>
<line x1="198.6" y1="86.17" x2="200.4" y2="86.17" stroke="#3a3a3a" stroke-width="0.6"/>
<line x1="198.6" y1="79.18" x2="200.4" y2="79.18" stroke="#3a3a3a" stroke-width="0.6"/>
<line x1="198.6" y1="73.01" x2="200.4" y2="73.01" stroke="#3a3a3a" stroke-width="0.6"/>
<line x1="198.6" y1="31.23" x2="200.4" y2="31.23" stroke="#3a3a3a" stroke-width="0.6"/>
<line x1="198.6" y1="10.01" x2="200.4" y2="10.01" stroke="#3a3a3a" stroke-width="0.6"/>
<text x="189.8" y="71.4" font-size="10" text-anchor="end" textLength="9.6" lengthAdjust="spacingAndGlyphs" fill="#222">10</text>
<text x="192.1" y="67.9" font-size="6.8" textLength="3.9" lengthAdjust="spacingAndGlyphs" fill="#222">0</text>
<line x1="200.4" y1="171.5" x2="200.4" y2="174.5" stroke="#3a3a3a" stroke-width="0.8"/>
<line x1="264.9" y1="171.5" x2="264.9" y2="174.5" stroke="#3a3a3a" stroke-width="0.8"/>
<line x1="329.4" y1="171.5" x2="329.4" y2="174.5" stroke="#3a3a3a" stroke-width="0.8"/>
<line x1="219.82" y1="171.5" x2="219.82" y2="173.3" stroke="#3a3a3a" stroke-width="0.6"/>
<line x1="231.17" y1="171.5" x2="231.17" y2="173.3" stroke="#3a3a3a" stroke-width="0.6"/>
<line x1="239.23" y1="171.5" x2="239.23" y2="173.3" stroke="#3a3a3a" stroke-width="0.6"/>
<line x1="245.48" y1="171.5" x2="245.48" y2="173.3" stroke="#3a3a3a" stroke-width="0.6"/>
<line x1="250.59" y1="171.5" x2="250.59" y2="173.3" stroke="#3a3a3a" stroke-width="0.6"/>
<line x1="254.91" y1="171.5" x2="254.91" y2="173.3" stroke="#3a3a3a" stroke-width="0.6"/>
<line x1="258.65" y1="171.5" x2="258.65" y2="173.3" stroke="#3a3a3a" stroke-width="0.6"/>
<line x1="261.95" y1="171.5" x2="261.95" y2="173.3" stroke="#3a3a3a" stroke-width="0.6"/>
<line x1="284.32" y1="171.5" x2="284.32" y2="173.3" stroke="#3a3a3a" stroke-width="0.6"/>
<line x1="295.67" y1="171.5" x2="295.67" y2="173.3" stroke="#3a3a3a" stroke-width="0.6"/>
<line x1="303.73" y1="171.5" x2="303.73" y2="173.3" stroke="#3a3a3a" stroke-width="0.6"/>
<line x1="309.98" y1="171.5" x2="309.98" y2="173.3" stroke="#3a3a3a" stroke-width="0.6"/>
<line x1="315.09" y1="171.5" x2="315.09" y2="173.3" stroke="#3a3a3a" stroke-width="0.6"/>
<line x1="319.41" y1="171.5" x2="319.41" y2="173.3" stroke="#3a3a3a" stroke-width="0.6"/>
<line x1="323.15" y1="171.5" x2="323.15" y2="173.3" stroke="#3a3a3a" stroke-width="0.6"/>
<line x1="326.45" y1="171.5" x2="326.45" y2="173.3" stroke="#3a3a3a" stroke-width="0.6"/>
<text x="192.8" y="183.3" font-size="10" textLength="10.9" lengthAdjust="spacingAndGlyphs" fill="#222">10</text>
<text x="204.8" y="179.9" font-size="6.8" textLength="3.9" lengthAdjust="spacingAndGlyphs" fill="#222">0</text>
<text x="257.3" y="183.3" font-size="10" textLength="10.9" lengthAdjust="spacingAndGlyphs" fill="#222">10</text>
<text x="269.3" y="179.9" font-size="6.8" textLength="3.9" lengthAdjust="spacingAndGlyphs" fill="#222">1</text>
<text x="321.8" y="183.3" font-size="10" textLength="10.9" lengthAdjust="spacingAndGlyphs" fill="#222">10</text>
<text x="333.8" y="179.9" font-size="6.8" textLength="3.9" lengthAdjust="spacingAndGlyphs" fill="#222">2</text>
<text x="264.9" y="195.7" font-size="10.6" text-anchor="middle" textLength="78.5" lengthAdjust="spacingAndGlyphs" fill="#222">Frequency (Hz)</text>
<line x1="242.7" y1="169.4" x2="251.5" y2="169.4" stroke="#2a2a2a" stroke-width="0.7"/>
<path d="M241.2 169.4 l3.6 -1.4 l-0.6 1.4 l0.6 1.4z M253.0 169.4 l-3.6 -1.4 l0.6 1.4 l-0.6 1.4z" fill="#1b3350"/>
<text x="247.4" y="164" font-size="8.6" text-anchor="middle" fill="#333">θ</text>
<line x1="261.9" y1="169.4" x2="267.1" y2="169.4" stroke="#2a2a2a" stroke-width="0.7"/>
<path d="M260.4 169.4 l3.6 -1.4 l-0.6 1.4 l0.6 1.4z M268.6 169.4 l-3.6 -1.4 l0.6 1.4 l-0.6 1.4z" fill="#1b3350"/>
<text x="264.6" y="164" font-size="8.6" text-anchor="middle" fill="#333">α</text>
<line x1="275.8" y1="169.4" x2="292.5" y2="169.4" stroke="#2a2a2a" stroke-width="0.7"/>
<path d="M274.3 169.4 l3.6 -1.4 l-0.6 1.4 l0.6 1.4z M294.0 169.4 l-3.6 -1.4 l0.6 1.4 l-0.6 1.4z" fill="#1b3350"/>
<text x="284.1" y="164" font-size="8.6" text-anchor="middle" fill="#333">β</text>
<line x1="299.4" y1="169.4" x2="323.3" y2="169.4" stroke="#2a2a2a" stroke-width="0.7"/>
<path d="M297.9 169.4 l3.6 -1.4 l-0.6 1.4 l0.6 1.4z M324.8 169.4 l-3.6 -1.4 l0.6 1.4 l-0.6 1.4z" fill="#1b3350"/>
<text x="312.2" y="164" font-size="8.6" text-anchor="middle" fill="#333">γ</text>
<text x="2.6" y="14.4" font-size="19" font-weight="bold" fill="#000">a</text>
<text x="2.5" y="221" font-size="20.8" font-weight="bold" textLength="12.2" lengthAdjust="spacingAndGlyphs" fill="#000">b</text>
<text x="350.7" y="37.4" font-size="18.4" font-weight="bold" fill="#000">c</text>
<text x="351.4" y="249" font-size="20.8" font-weight="bold" textLength="11.6" lengthAdjust="spacingAndGlyphs" fill="#000">d</text>
<text x="118.7" y="219" font-size="14" text-anchor="middle" textLength="32.6" lengthAdjust="spacingAndGlyphs" fill="#000">theta</text>
<text x="170" y="219" font-size="14" text-anchor="middle" textLength="35" lengthAdjust="spacingAndGlyphs" fill="#000">alpha</text>
<text x="221.2" y="219" font-size="14" text-anchor="middle" textLength="27.6" lengthAdjust="spacingAndGlyphs" fill="#000">beta</text>
<text x="272.2" y="219" font-size="14" text-anchor="middle" textLength="46.6" lengthAdjust="spacingAndGlyphs" fill="#000">gamma</text>
<text x="14.9" y="251.5" font-size="12" font-style="italic" textLength="64" lengthAdjust="spacingAndGlyphs" fill="#111">Easy - Hard</text>
<text x="14.9" y="300.7" font-size="12" font-style="italic" textLength="66" lengthAdjust="spacingAndGlyphs" fill="#111">Open - Easy</text>
<text x="14.9" y="349.9" font-size="12" font-style="italic" textLength="67.6" lengthAdjust="spacingAndGlyphs" fill="#111">Open - Hard</text>
<text x="14.9" y="399.1" font-size="12" font-style="italic" textLength="70" lengthAdjust="spacingAndGlyphs" fill="#111">Close - Open</text>
<text x="427.2" y="36.6" font-size="12.8" text-anchor="middle" font-weight="bold" font-style="italic" textLength="30.8" lengthAdjust="spacingAndGlyphs" fill="#000">Close</text>
<text x="427.2" y="247.8" font-size="12.8" text-anchor="middle" font-weight="bold" font-style="italic" textLength="30.8" lengthAdjust="spacingAndGlyphs" fill="#000">Close</text>
<text x="494.1" y="36.6" font-size="12.8" text-anchor="middle" font-weight="bold" font-style="italic" textLength="31.5" lengthAdjust="spacingAndGlyphs" fill="#000">Open</text>
<text x="494.1" y="247.8" font-size="12.8" text-anchor="middle" font-weight="bold" font-style="italic" textLength="31.5" lengthAdjust="spacingAndGlyphs" fill="#000">Open</text>
<text x="560.8" y="36.6" font-size="12.8" text-anchor="middle" font-weight="bold" font-style="italic" textLength="28.5" lengthAdjust="spacingAndGlyphs" fill="#000">Easy</text>
<text x="560.8" y="247.8" font-size="12.8" text-anchor="middle" font-weight="bold" font-style="italic" textLength="28.5" lengthAdjust="spacingAndGlyphs" fill="#000">Easy</text>
<text x="627.4" y="36.6" font-size="12.8" text-anchor="middle" font-weight="bold" font-style="italic" textLength="29.5" lengthAdjust="spacingAndGlyphs" fill="#000">Hard</text>
<text x="627.4" y="247.8" font-size="12.8" text-anchor="middle" font-weight="bold" font-style="italic" textLength="29.5" lengthAdjust="spacingAndGlyphs" fill="#000">Hard</text>
<text x="371" y="121.5" font-size="10.8" text-anchor="middle" font-weight="bold" textLength="95" lengthAdjust="spacingAndGlyphs" transform="rotate(-90 371 121.5)" fill="#000">Low-band (1–25Hz)</text>
<text x="371" y="327.5" font-size="10.8" text-anchor="middle" font-weight="bold" textLength="93" lengthAdjust="spacingAndGlyphs" transform="rotate(-90 371 327.5)" fill="#000">High-band (26–90Hz)</text>
<text x="388.6" y="90.3" font-size="10.4" text-anchor="middle" textLength="33" lengthAdjust="spacingAndGlyphs" transform="rotate(-90 388.6 90.3)" fill="#222">1/f exp</text>
<text x="388.6" y="156.4" font-size="10.4" text-anchor="middle" textLength="43" lengthAdjust="spacingAndGlyphs" transform="rotate(-90 388.6 156.4)" fill="#222">1/f offset</text>
<text x="388.6" y="299.5" font-size="10.4" text-anchor="middle" textLength="33" lengthAdjust="spacingAndGlyphs" transform="rotate(-90 388.6 299.5)" fill="#222">1/f exp</text>
<text x="388.6" y="368.5" font-size="10.4" text-anchor="middle" textLength="43" lengthAdjust="spacingAndGlyphs" transform="rotate(-90 388.6 368.5)" fill="#222">1/f offset</text>
<g transform="translate(118.7 247.2)"><clipPath id="cpb00"><circle r="20.6"/></clipPath><g clip-path="url(#cpb00)"><g filter="url(#sm)"><rect x="-24.7" y="-24.7" width="49.4" height="49.4" fill="#368ec0"/><path d="M23.1 23.1 -23.1 23.1 -23.1 -23.1 23.1 -23.1 23.1 23.1ZM0.1 -8.1 0.7 -8.8 0.3 -10.1 -1.0 -10.3 -1.6 -10.0 -2.0 -9.4 -1.6 -8.3 -1.0 -8.0 0.1 -8.1Z" fill="#4497c5"/><path d="M23.1 23.1 -23.1 23.1 -23.1 -23.1 23.1 -23.1 23.1 23.1ZM0.9 -7.5 1.8 -8.8 1.7 -10.1 1.2 -10.7 -0.3 -11.4 -2.4 -10.7 -3.1 -9.4 -2.9 -8.4 -2.3 -7.5 -1.0 -7.0 0.9 -7.5Z" fill="#539fc9"/><path d="M23.1 23.1 -23.1 23.1 -23.1 -23.1 23.1 -23.1 23.1 23.1ZM1.2 -6.8 2.0 -7.5 2.7 -8.8 2.6 -10.1 1.7 -11.4 -0.3 -12.2 -1.6 -12.1 -2.9 -11.4 -4.0 -9.4 -3.2 -7.5 -2.3 -6.7 -1.0 -6.3 1.2 -6.8Z" fill="#61a8ce"/><path d="M23.1 23.1 -23.1 23.1 -23.1 -23.1 23.1 -23.1 23.1 23.1ZM1.3 -6.2 2.9 -7.5 3.4 -8.8 3.4 -10.1 2.7 -11.4 1.6 -12.3 -0.3 -12.9 -2.3 -12.6 -3.6 -11.8 -4.4 -10.7 -4.7 -9.4 -4.4 -8.1 -3.6 -6.9 -2.3 -6.1 -1.0 -5.7 1.3 -6.2Z" fill="#6fb0d2"/><path d="M23.1 23.1 -23.1 23.1 -23.1 -23.1 23.1 -23.1 23.1 23.1ZM1.3 -5.5 2.9 -6.6 4.0 -8.1 4.1 -10.1 3.6 -11.4 2.3 -12.8 0.3 -13.6 -1.6 -13.6 -3.6 -12.8 -4.9 -11.5 -5.4 -10.1 -5.4 -8.8 -4.8 -7.5 -3.6 -6.2 -2.3 -5.5 -0.3 -5.2 1.3 -5.5Z" fill="#7db8d7"/><path d="M23.1 23.1 -23.1 23.1 -23.1 -23.1 23.1 -23.1 23.1 23.1ZM1.1 -4.9 2.9 -5.8 4.4 -7.5 5.0 -9.4 4.6 -11.4 2.9 -13.3 1.0 -14.2 -1.6 -14.4 -3.6 -13.7 -5.0 -12.7 -5.9 -11.4 -6.2 -10.1 -5.9 -8.1 -4.4 -6.2 -2.9 -5.2 -1.0 -4.6 1.1 -4.9Z" fill="#8bc1dc"/><path d="M23.1 23.1 -23.1 23.1 -23.1 -23.1 23.1 -23.1 23.1 23.1ZM0.8 -4.2 2.9 -5.1 4.7 -6.8 5.8 -9.4 5.6 -11.4 4.4 -13.3 2.3 -14.8 -0.3 -15.4 -2.9 -15.1 -4.9 -14.0 -6.2 -12.7 -7.1 -10.7 -6.9 -8.8 -5.7 -6.8 -3.6 -4.9 -1.6 -4.2 0.8 -4.2Z" fill="#97c8df"/><path d="M23.1 23.1 -23.1 23.1 -23.1 3.3 -21.8 2.0 -19.8 -1.7 -18.2 -6.2 -17.7 -9.4 -18.1 -13.3 -19.2 -16.8 -21.1 -19.0 -23.1 -19.2 -23.1 -23.1 23.1 -23.1 23.1 -17.4 20.5 -17.6 18.6 -16.6 17.4 -14.6 16.9 -12.0 17.3 -9.4 18.5 -7.3 20.5 -5.8 23.1 -5.4 23.1 23.1ZM0.4 -3.6 2.9 -4.5 5.5 -6.8 6.9 -9.4 6.9 -11.4 5.6 -14.0 3.6 -15.7 0.3 -16.7 -2.9 -16.5 -4.9 -15.7 -7.0 -14.0 -8.1 -12.0 -8.2 -10.1 -7.0 -7.5 -4.2 -4.8 -2.3 -3.8 0.4 -3.6Z" fill="#a1cde2"/><path d="M9.4 23.1 -9.5 23.1 -13.3 21.2 -16.2 18.5 -17.3 15.9 -17.5 11.4 -18.8 5.5 -18.8 1.6 -18.0 -1.6 -16.7 -4.9 -14.6 -8.4 -12.7 -10.6 -11.4 -11.0 -10.7 -10.6 -4.2 -4.2 -2.3 -3.2 -0.3 -2.9 2.3 -3.4 4.2 -4.7 6.9 -7.5 10.1 -11.9 10.7 -11.9 12.7 -10.1 18.5 -2.7 23.1 1.4 23.1 8.1 19.5 16.6 17.8 18.5 15.3 20.4 12.0 22.1 9.4 23.1Z" fill="#abd2e4"/><path d="M1.0 19.8 -4.9 19.3 -9.4 17.5 -12.0 15.0 -16.2 8.8 -17.7 4.2 -17.4 -0.3 -15.5 -4.9 -14.0 -6.9 -12.7 -7.9 -11.4 -8.2 -9.4 -7.8 -3.6 -3.1 -2.3 -2.5 -0.3 -2.2 1.6 -2.5 2.9 -3.1 8.1 -7.4 9.4 -8.1 10.7 -8.2 12.0 -7.8 14.0 -6.3 15.7 -4.2 17.6 -1.0 18.8 2.9 18.6 5.5 16.9 9.4 14.0 13.5 11.4 16.3 8.8 18.0 4.9 19.3 1.0 19.8Z" fill="#b5d6e7"/><path d="M2.9 15.3 -0.3 15.7 -3.0 15.3 -11.4 12.0 -14.6 9.3 -16.5 5.5 -16.9 1.6 -15.8 -2.9 -13.3 -6.1 -11.4 -7.1 -9.4 -6.8 -2.9 -2.0 -0.3 -1.3 2.3 -1.9 7.5 -6.0 9.4 -6.9 10.7 -7.0 12.0 -6.5 14.6 -4.1 16.4 -1.0 17.2 2.3 16.9 5.5 15.8 8.1 14.0 10.5 11.4 12.4 2.9 15.3Z" fill="#bfdce9"/><path d="M10.1 11.4 7.5 11.5 2.3 10.0 -2.9 9.9 -8.8 11.1 -12.0 10.3 -14.6 7.9 -16.1 4.2 -16.2 0.3 -15.0 -2.9 -12.7 -5.6 -11.4 -6.2 -10.1 -6.2 -7.5 -5.0 -2.3 -0.6 -1.0 -0.0 0.3 0.1 2.3 -0.8 8.1 -5.6 10.1 -6.1 12.0 -5.5 14.0 -3.8 15.3 -1.6 16.2 1.0 16.3 3.6 15.7 6.2 14.2 8.8 12.0 10.6 10.1 11.4Z" fill="#cae0ec"/><path d="M-6.8 9.6 -9.4 10.0 -12.0 9.3 -14.1 7.5 -15.4 4.9 -15.7 1.6 -15.0 -1.6 -13.3 -4.2 -11.4 -5.4 -9.4 -5.3 -6.8 -3.9 -3.3 -0.3 -1.8 2.3 -1.7 4.2 -2.6 6.2 -4.5 8.1 -6.8 9.6ZM10.7 10.2 8.1 10.4 4.9 8.9 2.4 6.2 1.5 3.6 1.9 1.6 4.2 -1.6 6.8 -4.1 9.4 -5.3 11.4 -5.0 13.3 -3.6 14.9 -1.0 15.6 1.6 15.5 4.2 14.6 6.8 12.7 9.1 10.7 10.2Z" fill="#d4e6ee"/><path d="M-7.5 8.8 -10.1 9.1 -12.0 8.4 -13.7 6.8 -14.9 4.2 -15.2 1.6 -14.6 -1.1 -13.3 -3.3 -11.4 -4.6 -9.4 -4.7 -7.5 -3.7 -5.1 -1.6 -3.6 1.0 -3.3 2.9 -4.0 5.5 -5.5 7.5 -7.5 8.8ZM10.1 9.5 7.5 9.2 5.5 8.0 3.7 5.5 3.2 2.9 3.7 0.3 5.0 -1.6 7.5 -3.9 9.4 -4.6 11.4 -4.2 13.3 -2.6 14.6 -0.3 15.0 2.3 14.7 4.9 13.8 6.8 12.0 8.7 10.1 9.5Z" fill="#deeaf1"/><path d="M-8.8 8.3 -10.7 8.2 -12.7 7.0 -14.0 5.1 -14.6 2.9 -14.4 0.3 -13.7 -1.6 -12.7 -3.0 -10.7 -4.0 -8.8 -3.8 -6.8 -2.5 -5.0 -0.3 -4.3 1.6 -4.5 4.2 -5.5 6.2 -6.8 7.5 -8.8 8.3ZM11.4 8.2 9.4 8.7 7.1 8.1 5.5 6.8 4.3 4.2 4.2 1.6 4.8 -0.3 6.8 -2.7 8.8 -3.8 10.7 -3.7 12.0 -3.0 13.3 -1.5 14.3 1.0 14.4 2.9 14.0 5.0 13.0 6.8 11.4 8.2Z" fill="#e8f0f3"/><path d="M-9.4 7.5 -11.4 7.0 -12.7 5.9 -13.6 4.2 -14.0 2.3 -13.8 0.3 -12.9 -1.6 -11.5 -2.9 -10.1 -3.3 -8.5 -2.9 -6.8 -1.8 -5.7 -0.3 -5.1 1.6 -5.2 3.6 -6.2 5.7 -7.5 6.9 -9.4 7.5ZM10.7 7.6 8.8 7.9 6.8 7.0 5.6 5.5 5.0 3.6 4.9 1.6 5.6 -0.3 6.8 -1.9 8.8 -3.0 10.1 -3.1 11.7 -2.3 12.9 -1.0 13.6 1.0 13.8 2.9 13.3 4.9 12.0 6.8 10.7 7.6Z" fill="#f2f4f6"/><path d="M-8.1 6.3 -9.4 6.6 -11.1 6.2 -12.0 5.4 -13.0 3.6 -13.2 1.6 -12.7 -0.3 -11.7 -1.6 -10.7 -2.3 -9.4 -2.4 -8.1 -1.9 -6.8 -0.7 -6.0 1.0 -5.8 2.3 -6.2 4.0 -6.8 5.2 -8.1 6.3ZM10.1 6.9 8.8 6.9 7.2 6.2 6.2 4.8 5.6 2.9 5.8 1.0 6.4 -0.3 7.7 -1.6 9.4 -2.2 10.7 -1.9 12.0 -0.8 12.7 0.4 13.0 2.3 12.7 4.2 12.0 5.5 10.1 6.9Z" fill="#f7f3f1"/><path d="M-8.1 5.0 -10.1 5.3 -10.9 4.9 -11.8 3.6 -11.9 1.0 -11.2 -0.3 -10.1 -1.1 -8.1 -0.7 -6.9 1.0 -6.8 3.0 -8.1 5.0ZM10.1 5.6 8.1 5.5 7.0 4.2 6.6 2.9 6.8 0.9 7.5 -0.1 8.8 -0.9 10.7 -0.4 11.9 1.6 11.9 2.9 11.5 4.2 10.1 5.6Z" fill="#f7ebe5"/></g><path d="M1.5 -6.8 2.3 -7.6 2.8 -8.8 2.7 -10.1 1.9 -11.4 1.0 -12.0 -0.3 -12.3 -1.6 -12.2 -3.1 -11.4 -3.7 -10.7 -4.1 -9.4 -3.4 -7.5 -2.3 -6.6 -1.0 -6.2 0.3 -6.3 1.5 -6.8M0.6 -4.9 2.3 -5.5 3.8 -6.8 4.7 -8.8 4.6 -10.7 3.6 -12.5 1.6 -13.8 -0.3 -14.3 -2.9 -13.8 -4.7 -12.7 -5.7 -11.4 -6.1 -10.1 -5.7 -8.1 -4.3 -6.2 -2.9 -5.3 -1.0 -4.8 0.6 -4.9M-20.0 23.1 -22.5 19.2 -22.9 16.6 -20.5 10.7 -20.1 2.9 -18.9 -1.6 -15.9 -9.4 -14.6 -18.5 -13.7 -21.1 -12.5 -23.1M13.1 -23.1 14.2 -20.5 14.5 -12.7 15.7 -8.8 17.2 -6.4 18.6 -4.9 20.5 -3.6 23.1 -2.6M1.6 -3.6 2.9 -4.2 4.7 -5.5 7.2 -8.8 7.7 -10.7 7.1 -13.3 4.9 -15.9 1.6 -17.5 -1.6 -17.8 -4.9 -16.9 -7.1 -15.3 -8.5 -13.3 -9.1 -11.4 -8.6 -9.4 -6.1 -6.2 -3.6 -4.1 -1.0 -3.3 1.6 -3.6M23.1 22.5 22.4 23.1M1.6 15.3 -2.3 15.2 -6.8 13.3 -10.7 12.2 -13.3 10.6 -15.3 8.3 -16.3 6.2 -16.8 4.2 -16.8 0.3 -16.3 -1.6 -15.3 -3.7 -14.0 -5.5 -12.7 -6.5 -11.4 -7.0 -9.4 -6.8 -7.5 -5.6 -2.9 -2.0 -1.0 -1.2 1.0 -1.3 2.3 -1.8 7.5 -6.0 9.4 -6.9 10.7 -6.9 12.0 -6.4 13.3 -5.5 15.0 -3.6 16.6 -0.3 17.2 2.9 16.8 5.5 15.3 8.8 13.3 11.0 11.4 12.3 1.6 15.3M-9.4 9.4 -11.4 9.0 -13.3 7.6 -14.7 5.5 -15.3 2.9 -15.2 0.3 -14.3 -2.3 -12.7 -4.2 -10.7 -5.0 -8.8 -4.7 -6.2 -2.9 -3.9 -0.3 -3.0 2.3 -3.3 4.9 -4.9 7.3 -6.8 8.8 -9.4 9.4M10.7 9.6 8.1 9.7 5.5 8.4 3.7 6.2 2.9 3.6 3.2 1.0 4.7 -1.6 6.8 -3.7 9.4 -4.8 11.4 -4.5 13.3 -2.9 14.5 -1.0 15.2 1.6 15.0 4.2 14.0 6.8 12.7 8.5 10.7 9.6M-8.1 7.0 -10.1 7.2 -11.4 6.7 -12.7 5.5 -13.6 3.6 -13.7 1.6 -13.3 -0.4 -12.0 -2.3 -10.7 -3.0 -9.2 -2.9 -7.5 -2.1 -6.2 -0.7 -5.4 1.0 -5.3 2.3 -5.6 4.2 -6.8 6.1 -8.1 7.0M10.1 7.6 8.1 7.4 6.8 6.6 5.6 4.9 5.1 2.9 5.3 1.0 6.2 -0.9 7.7 -2.3 9.4 -2.8 10.7 -2.6 12.1 -1.6 13.2 0.3 13.6 2.3 13.3 4.2 12.7 5.6 11.4 7.0 10.1 7.6" fill="none" stroke="#222" stroke-opacity="0.62" stroke-width="0.45"/></g><path d="M-4.2 -20.2 L-0.8 -24.1 Q0 -25.0 0.8 -24.1 L4.2 -20.2" fill="#fff" stroke="#333" stroke-width="0.8"/><rect x="-22.5" y="-5.2" width="2.3" height="10.5" rx="0.7" fill="#f0f0f0" stroke="#3a3a3a" stroke-width="0.75"/><rect x="20.2" y="-5.2" width="2.3" height="10.5" rx="0.7" fill="#f0f0f0" stroke="#3a3a3a" stroke-width="0.75"/><circle r="20.6" fill="none" stroke="#454545" stroke-width="0.75"/></g><g transform="translate(170.0 247.2)"><clipPath id="cpb01"><circle r="20.6"/></clipPath><g clip-path="url(#cpb01)"><g filter="url(#sm)"><rect x="-24.7" y="-24.7" width="49.4" height="49.4" fill="#f5c2ab"/><path d="M23.1 23.1 -23.1 23.1 -23.1 -23.1 23.1 -23.1 23.1 23.1ZM1.0 22.4 4.3 21.8 5.3 21.1 5.6 20.5 5.1 19.8 3.6 19.2 0.3 18.8 -3.5 19.2 -5.0 19.8 -5.6 20.5 -5.3 21.1 -3.6 22.0 1.0 22.4Z" fill="#f5ba9f"/><path d="M23.1 23.1 5.4 23.1 8.5 21.8 9.0 21.1 8.9 19.8 6.2 18.4 1.6 18.0 -5.5 18.3 -7.5 18.9 -8.9 19.8 -9.0 21.1 -8.5 21.8 -5.4 23.1 -23.1 23.1 -23.1 -23.1 23.1 -23.1 23.1 23.1ZM12.6 0.3 13.5 -0.3 13.7 -1.0 12.4 -2.3 8.1 -3.5 2.9 -4.0 -2.9 -4.0 -8.1 -3.5 -12.4 -2.3 -13.7 -1.0 -13.3 -0.3 -12.0 -0.2 -4.2 -1.2 0.3 -1.3 5.5 -0.7 10.3 0.3 12.6 0.3Z" fill="#f4b194"/><path d="M23.1 -7.0 -23.1 -7.0 -23.1 -23.1 23.1 -23.1 23.1 -7.0ZM3.6 17.3 -6.8 17.3 -10.7 16.9 -15.9 15.7 -19.2 14.3 -20.2 13.3 -20.9 11.4 -20.7 8.8 -18.7 5.5 -14.6 2.5 -10.1 0.6 -3.6 -0.5 1.6 -0.5 8.1 0.7 13.2 2.9 15.1 4.2 17.1 6.2 18.3 8.1 18.8 10.7 18.3 12.7 17.2 14.0 15.3 15.0 10.7 16.3 3.6 17.3Z" fill="#f4a988"/><path d="M5.5 -10.0 -1.6 -9.8 -8.8 -10.4 -14.6 -11.5 -19.2 -13.2 -23.1 -15.6 -23.1 -23.1 23.1 -23.1 23.1 -15.6 22.4 -15.1 19.2 -13.2 15.3 -11.7 10.7 -10.7 5.5 -10.0ZM4.9 16.6 0.3 17.0 -4.9 16.9 -8.8 16.3 -12.0 15.1 -15.3 13.0 -17.1 10.7 -17.7 8.1 -17.1 6.2 -15.6 4.2 -13.3 2.6 -10.1 1.2 -5.5 0.1 -1.6 -0.2 2.9 0.0 6.2 0.7 10.1 2.0 12.7 3.6 14.6 5.5 15.5 7.5 15.3 10.1 14.0 12.2 11.4 14.4 8.8 15.6 4.9 16.6Z" fill="#f29d7d"/><path d="M5.5 -12.6 1.0 -12.3 -4.2 -12.5 -8.8 -13.1 -12.7 -14.2 -16.2 -15.9 -18.5 -17.9 -19.4 -19.8 -19.3 -21.8 -18.7 -23.1 18.7 -23.1 19.3 -21.8 19.4 -19.8 18.5 -17.9 17.1 -16.6 15.0 -15.3 12.0 -14.0 5.5 -12.6ZM1.6 16.6 -2.9 16.7 -6.8 16.2 -9.4 15.6 -12.7 14.1 -15.2 12.0 -16.4 10.1 -16.8 8.1 -16.2 6.2 -14.6 4.2 -11.4 2.1 -7.5 0.8 -2.9 0.2 1.6 0.3 6.2 1.1 10.1 2.5 12.6 4.2 14.2 6.2 14.7 8.1 14.4 10.1 13.1 12.0 11.4 13.6 8.8 15.0 4.9 16.2 1.6 16.6Z" fill="#ee8c73"/><path d="M3.6 -14.5 -3.6 -14.5 -6.8 -15.1 -10.1 -16.1 -12.3 -17.2 -13.7 -18.5 -14.5 -19.8 -14.3 -21.8 -13.4 -23.1 13.4 -23.1 13.9 -22.4 14.5 -21.1 14.5 -19.8 13.7 -18.5 12.7 -17.5 8.8 -15.6 3.6 -14.5ZM4.2 15.9 0.3 16.4 -4.2 16.2 -8.1 15.5 -11.4 14.3 -13.8 12.7 -15.4 10.7 -16.1 8.1 -15.6 6.2 -14.0 4.2 -11.4 2.6 -8.1 1.3 -4.9 0.7 -1.0 0.4 2.9 0.7 6.2 1.4 9.4 2.6 11.9 4.2 13.5 6.2 14.0 8.1 13.7 10.1 12.4 12.0 10.1 13.8 7.5 15.1 4.2 15.9Z" fill="#ea7c69"/><path d="M1.6 -16.5 -2.9 -16.7 -6.8 -17.7 -9.0 -19.2 -9.5 -19.8 -9.6 -21.1 -8.8 -22.3 -7.7 -23.1 7.7 -23.1 9.2 -21.8 9.6 -21.1 9.5 -19.8 8.3 -18.5 5.5 -17.2 1.6 -16.5ZM1.6 16.0 -5.5 15.8 -8.8 14.9 -11.4 13.8 -13.8 12.0 -15.1 10.1 -15.5 8.1 -14.9 6.2 -13.3 4.2 -10.7 2.6 -7.5 1.5 -2.9 0.8 1.0 0.8 4.9 1.4 8.8 2.7 11.2 4.2 12.4 5.5 13.3 7.5 13.3 9.4 12.3 11.4 10.7 12.9 8.1 14.4 4.9 15.5 1.6 16.0Z" fill="#e56b60"/><path d="M4.2 15.3 0.3 15.8 -3.6 15.7 -6.8 15.2 -10.1 14.0 -12.4 12.7 -14.2 10.7 -14.9 8.8 -14.7 6.8 -13.4 4.9 -11.7 3.6 -8.9 2.3 -5.5 1.4 -1.6 1.0 1.6 1.2 4.9 1.7 8.1 2.8 10.5 4.2 11.8 5.5 12.8 7.5 12.7 9.4 11.7 11.4 10.1 12.8 7.5 14.3 4.2 15.3Z" fill="#e15b56"/><path d="M2.3 15.3 -4.6 15.3 -7.6 14.6 -10.7 13.3 -12.5 12.0 -14.0 10.1 -14.4 8.1 -13.8 6.2 -12.0 4.3 -10.1 3.1 -7.5 2.2 -4.2 1.5 -1.0 1.3 2.8 1.6 5.7 2.3 8.8 3.6 10.7 5.0 12.0 6.8 12.3 8.8 11.5 10.7 10.1 12.3 8.1 13.6 5.5 14.6 2.3 15.3Z" fill="#dd4a4c"/><path d="M4.2 14.6 -2.3 15.2 -6.2 14.7 -8.8 13.8 -10.9 12.7 -13.0 10.7 -13.8 8.8 -13.5 6.8 -12.0 4.9 -10.1 3.6 -4.9 2.0 -1.6 1.7 1.6 1.8 4.4 2.3 7.5 3.3 9.9 4.9 11.1 6.2 11.6 7.5 11.6 9.4 10.4 11.4 8.9 12.7 4.2 14.6Z" fill="#d93a42"/><path d="M2.3 14.6 -1.0 14.9 -4.4 14.6 -7.2 14.0 -10.1 12.7 -11.7 11.4 -12.7 10.1 -13.1 8.1 -12.7 6.5 -11.2 4.9 -9.4 3.7 -4.2 2.3 2.3 2.3 5.2 2.9 8.1 4.2 9.9 5.5 10.8 6.8 11.1 8.1 10.6 10.1 9.7 11.4 8.0 12.7 5.1 14.0 2.3 14.6Z" fill="#d42938"/><path d="M2.9 14.1 -0.3 14.4 -3.6 14.3 -5.6 14.0 -8.8 12.8 -10.9 11.4 -11.9 10.1 -12.4 8.8 -12.0 6.8 -11.1 5.5 -9.2 4.2 -4.2 2.8 2.3 2.8 7.1 4.2 9.0 5.5 10.0 6.8 10.3 8.1 10.1 9.6 9.4 10.7 8.0 12.0 5.6 13.3 2.9 14.1Z" fill="#d0192f"/><path d="M3.6 13.4 -2.3 13.9 -5.5 13.4 -7.6 12.7 -9.7 11.4 -10.7 10.3 -11.4 8.8 -11.3 7.5 -10.5 6.2 -8.9 4.9 -5.1 3.6 0.3 3.3 5.3 4.2 8.4 6.2 9.2 7.5 9.3 8.8 8.8 10.1 7.7 11.4 5.6 12.7 3.6 13.4Z" fill="#cc0825"/></g><path d="M14.2 0.3 14.9 -0.3 15.1 -1.0 14.8 -1.6 13.3 -2.6 9.9 -3.6 3.6 -4.3 -3.6 -4.3 -9.9 -3.6 -13.9 -2.3 -14.8 -1.6 -15.1 -1.0 -14.6 -0.1 -13.3 0.3 -6.8 -0.8 -1.0 -1.2 4.9 -0.7 12.0 0.8 13.3 0.7 14.2 0.3M6.0 23.1 8.9 21.8 9.4 21.1 9.5 20.5 9.3 19.8 8.1 18.9 6.2 18.2 1.6 17.9 -5.5 18.2 -8.5 19.2 -9.3 19.8 -9.5 20.5 -9.4 21.1 -8.1 22.3 -6.0 23.1M23.1 -17.0 19.8 -14.4 14.6 -12.2 8.1 -10.8 0.3 -10.3 -7.5 -10.7 -14.0 -12.0 -19.2 -14.0 -21.2 -15.3 -23.1 -17.0M4.2 16.6 -0.3 17.0 -4.9 16.8 -8.8 16.2 -12.0 15.0 -15.3 12.8 -16.9 10.7 -17.5 8.1 -17.0 6.2 -15.4 4.2 -12.7 2.3 -10.1 1.2 -5.5 0.2 -1.6 -0.1 2.9 0.1 6.2 0.7 10.1 2.1 12.5 3.6 14.5 5.5 15.4 8.1 15.1 10.1 13.9 12.0 11.4 14.2 8.1 15.7 4.2 16.6M12.1 -23.1 13.1 -21.8 13.4 -20.5 12.9 -19.2 11.4 -17.6 9.5 -16.6 6.8 -15.7 0.3 -14.9 -6.2 -15.5 -9.4 -16.5 -11.4 -17.6 -12.9 -19.2 -13.4 -20.5 -13.1 -21.8 -12.1 -23.1M3.6 16.0 -0.3 16.3 -4.9 16.1 -8.1 15.4 -11.4 14.1 -14.0 12.3 -15.6 10.1 -15.9 8.1 -15.4 6.2 -13.8 4.2 -11.4 2.7 -8.1 1.4 -4.9 0.8 -1.0 0.5 2.9 0.8 6.2 1.5 9.4 2.7 11.7 4.2 13.3 6.2 13.9 8.1 13.5 10.1 12.2 12.0 10.1 13.7 7.5 15.0 3.6 16.0M3.6 15.3 -0.3 15.7 -4.2 15.5 -8.1 14.7 -10.7 13.6 -12.9 12.0 -14.4 10.1 -14.7 8.1 -14.2 6.2 -12.4 4.2 -10.2 2.9 -7.5 1.9 -4.2 1.3 -1.0 1.1 2.9 1.4 6.2 2.2 8.8 3.3 10.7 4.6 12.1 6.2 12.7 8.1 12.3 10.1 10.9 12.0 9.1 13.3 6.2 14.6 3.6 15.3M2.9 14.7 -0.3 15.1 -3.6 14.9 -6.8 14.3 -9.5 13.3 -11.5 12.0 -13.1 10.1 -13.5 8.8 -13.2 6.8 -12.0 5.2 -10.1 3.8 -8.1 2.9 -4.9 2.1 -1.6 1.8 1.6 2.0 4.9 2.6 7.6 3.6 9.6 4.9 11.1 6.8 11.4 8.8 11.0 10.1 10.1 11.4 8.1 12.9 5.9 14.0 2.9 14.7M1.6 14.0 -4.2 14.0 -8.4 12.7 -10.4 11.4 -11.4 10.1 -11.9 8.1 -11.5 6.8 -10.5 5.5 -8.5 4.2 -6.7 3.6 -3.2 2.9 0.3 2.9 2.9 3.2 4.9 3.7 7.6 4.9 9.0 6.2 9.7 7.5 9.8 8.8 9.4 10.1 8.3 11.4 6.4 12.7 1.6 14.0" fill="none" stroke="#222" stroke-opacity="0.62" stroke-width="0.45"/></g><path d="M-4.2 -20.2 L-0.8 -24.1 Q0 -25.0 0.8 -24.1 L4.2 -20.2" fill="#fff" stroke="#333" stroke-width="0.8"/><rect x="-22.5" y="-5.2" width="2.3" height="10.5" rx="0.7" fill="#f0f0f0" stroke="#3a3a3a" stroke-width="0.75"/><rect x="20.2" y="-5.2" width="2.3" height="10.5" rx="0.7" fill="#f0f0f0" stroke="#3a3a3a" stroke-width="0.75"/><circle r="20.6" fill="none" stroke="#454545" stroke-width="0.75"/></g><g transform="translate(221.2 247.2)"><clipPath id="cpb02"><circle r="20.6"/></clipPath><g clip-path="url(#cpb02)"><g filter="url(#sm)"><rect x="-24.7" y="-24.7" width="49.4" height="49.4" fill="#8bc1dc"/><path d="M23.1 23.1 9.5 23.1 8.7 21.8 6.2 20.6 2.3 19.9 -1.6 19.7 -4.9 19.8 -7.8 20.5 -9.8 21.8 -9.7 23.1 -23.1 23.1 -23.1 -23.1 23.1 -23.1 23.1 23.1Z" fill="#97c8df"/><path d="M23.1 23.1 13.6 23.1 13.0 21.8 12.2 21.1 9.2 19.8 4.2 18.8 -1.6 18.4 -6.8 18.7 -11.0 19.8 -12.9 21.1 -13.2 21.8 -13.1 23.1 -23.1 23.1 -23.1 -23.1 23.1 -23.1 23.1 23.1Z" fill="#a1cce2"/><path d="M23.1 23.1 16.9 23.1 16.5 21.8 14.9 20.5 9.6 18.5 4.2 17.7 -2.3 17.4 -8.1 17.8 -12.7 18.9 -15.3 20.5 -16.0 21.8 -15.9 23.1 -23.1 23.1 -23.1 -23.1 23.1 -23.1 23.1 23.1Z" fill="#abd2e4"/><path d="M23.1 23.1 20.0 23.1 19.6 21.8 17.9 20.1 15.3 18.8 12.2 17.9 5.5 16.8 -2.9 16.5 -8.8 16.8 -13.6 17.9 -16.4 19.2 -17.9 20.4 -18.5 21.8 -18.4 23.1 -23.1 23.1 -23.1 -23.1 23.1 -23.1 23.1 23.1Z" fill="#b5d6e7"/><path d="M23.1 23.1 22.3 21.1 20.9 19.8 18.5 18.5 14.7 17.2 7.5 16.0 -4.2 15.6 -10.7 16.0 -15.9 17.4 -18.3 18.5 -19.9 19.8 -20.8 21.1 -20.9 23.1 -23.1 23.1 -23.1 -23.1 23.1 -23.1 23.1 23.1Z" fill="#bfdce9"/><path d="M-23.1 20.6 -23.1 -23.1 23.1 -23.1 23.1 18.9 17.9 16.7 10.7 15.2 -8.1 14.7 -13.3 15.4 -17.6 16.6 -21.2 18.5 -23.1 20.6Z" fill="#cae0ec"/><path d="M-23.1 17.6 -23.1 -23.1 23.1 -23.1 23.1 16.9 17.2 15.1 11.4 14.1 -8.8 13.7 -12.7 14.0 -16.6 14.8 -20.5 16.2 -23.1 17.6Z" fill="#d4e6ee"/><path d="M-23.1 15.4 -23.1 -23.1 23.1 -23.1 23.1 14.9 17.9 13.6 12.7 12.8 0.3 13.1 -10.7 12.6 -17.2 13.5 -23.1 15.4Z" fill="#deeaf1"/><path d="M-21.8 12.7 -23.1 13.1 -23.1 -23.1 23.1 -23.1 23.1 12.6 14.6 11.2 0.3 12.3 -13.3 11.2 -17.2 11.6 -21.8 12.7Z" fill="#e8f0f3"/><path d="M6.8 10.7 1.6 11.3 -3.6 11.1 -16.6 8.6 -23.1 9.7 -23.1 -23.1 23.1 -23.1 23.1 9.1 18.5 8.4 15.9 8.4 6.8 10.7Z" fill="#f2f4f6"/><path d="M2.9 10.1 -4.2 9.9 -10.1 8.4 -12.7 6.9 -14.2 5.5 -15.6 3.6 -16.4 1.6 -16.8 -1.0 -16.7 -4.2 -16.0 -7.5 -14.5 -10.7 -12.6 -13.3 -10.1 -15.6 -6.8 -17.5 -4.2 -18.4 -1.0 -18.9 2.3 -18.8 5.5 -18.0 8.8 -16.5 11.4 -14.5 13.6 -12.0 15.5 -8.8 16.4 -6.2 16.9 -2.9 16.7 -0.3 16.1 2.3 14.6 4.9 12.6 6.8 10.1 8.3 6.8 9.5 2.9 10.1Z" fill="#f7f3f1"/><path d="M1.6 8.8 -4.9 8.5 -9.4 6.9 -12.2 4.2 -13.1 2.3 -13.8 -0.3 -13.9 -2.9 -13.5 -5.5 -11.4 -10.1 -9.7 -12.0 -7.5 -13.8 -4.9 -15.1 -2.3 -15.8 0.3 -16.0 2.9 -15.6 5.5 -14.8 8.1 -13.3 10.1 -11.6 11.8 -9.4 13.1 -6.8 13.7 -4.2 13.9 -1.6 13.5 1.0 12.7 2.9 11.4 4.9 10.0 6.2 7.7 7.5 4.9 8.3 1.6 8.8Z" fill="#f7ebe5"/><path d="M0.3 7.5 -4.2 7.5 -8.0 6.2 -10.1 4.2 -10.7 2.9 -10.9 1.0 -10.6 -4.2 -10.1 -6.2 -8.8 -8.5 -6.8 -10.5 -4.9 -11.8 -2.3 -12.7 -0.3 -12.9 2.3 -12.7 4.2 -12.1 7.5 -9.9 9.0 -8.1 10.1 -6.2 10.8 -2.3 10.1 1.5 8.1 4.2 4.9 6.3 0.3 7.5Z" fill="#f6e2da"/><path d="M0.3 -8.1 -0.4 -8.1 -0.3 -9.0 0.5 -8.8 0.3 -8.1ZM1.0 6.2 -2.9 6.6 -6.8 5.5 -8.7 3.6 -8.9 2.3 -8.5 1.0 -6.8 -0.7 -4.2 -1.5 -0.3 -1.5 2.3 -0.7 4.4 1.0 4.9 2.9 3.7 4.9 1.0 6.2Z" fill="#f6dace"/><path d="M-1.6 5.6 -4.2 5.3 -6.2 4.3 -7.0 2.9 -6.7 1.6 -4.9 0.3 -2.9 -0.0 -0.3 0.2 1.3 1.0 2.4 2.3 2.3 3.6 1.0 4.9 -1.6 5.6Z" fill="#f6d2c2"/></g><path d="M15.9 23.1 15.4 21.8 14.8 21.1 12.7 19.9 10.5 19.2 4.9 18.1 -2.3 17.7 -7.5 18.0 -12.1 19.2 -13.4 19.8 -14.9 21.1 -15.2 21.8 -15.1 23.1M22.7 23.1 21.9 21.1 20.5 19.8 18.1 18.5 14.6 17.4 7.5 16.1 -3.6 15.7 -10.7 16.1 -16.6 17.8 -18.9 19.2 -20.2 20.5 -20.7 21.8 -20.6 23.1M23.1 16.7 17.2 14.9 11.4 14.0 -9.4 13.7 -13.3 14.0 -17.2 14.9 -20.5 16.0 -23.1 17.4M23.1 11.8 15.3 10.6 12.7 10.7 4.9 11.8 0.3 12.0 -4.9 11.7 -14.0 10.6 -17.9 11.0 -23.1 12.3M2.9 9.4 -1.0 9.6 -4.2 9.3 -6.8 8.8 -9.4 7.8 -11.4 6.6 -13.1 4.9 -14.2 2.9 -14.9 1.0 -15.2 -1.6 -15.0 -4.9 -14.3 -7.5 -13.0 -10.1 -11.0 -12.7 -8.8 -14.5 -6.2 -16.0 -3.6 -16.9 -0.3 -17.3 2.3 -17.1 5.5 -16.3 8.1 -15.0 10.7 -12.9 12.5 -10.7 14.0 -8.1 14.9 -5.5 15.2 -2.3 15.0 0.3 14.2 2.9 13.0 4.9 10.9 6.8 8.8 8.0 6.2 8.9 2.9 9.4M0.3 -7.1 -0.3 -7.1 -1.4 -8.1 -1.4 -8.8 -0.3 -9.8 1.0 -9.4 1.4 -8.8 1.4 -8.1 0.3 -7.1M-0.3 6.8 -2.9 6.9 -4.9 6.6 -6.8 5.9 -8.3 4.9 -9.2 3.6 -9.5 2.3 -9.2 1.0 -8.1 -0.7 -6.2 -2.0 -4.2 -2.6 -2.3 -2.7 2.3 -1.9 4.9 -0.3 5.9 1.6 5.8 2.9 5.1 4.2 2.9 5.9 -0.3 6.8" fill="none" stroke="#222" stroke-opacity="0.62" stroke-width="0.45"/></g><path d="M-4.2 -20.2 L-0.8 -24.1 Q0 -25.0 0.8 -24.1 L4.2 -20.2" fill="#fff" stroke="#333" stroke-width="0.8"/><rect x="-22.5" y="-5.2" width="2.3" height="10.5" rx="0.7" fill="#f0f0f0" stroke="#3a3a3a" stroke-width="0.75"/><rect x="20.2" y="-5.2" width="2.3" height="10.5" rx="0.7" fill="#f0f0f0" stroke="#3a3a3a" stroke-width="0.75"/><circle r="20.6" fill="none" stroke="#454545" stroke-width="0.75"/></g><g transform="translate(272.3 247.2)"><clipPath id="cpb03"><circle r="20.6"/></clipPath><g clip-path="url(#cpb03)"><g filter="url(#sm)"><rect x="-24.7" y="-24.7" width="49.4" height="49.4" fill="#4497c5"/><path d="M23.1 23.1 9.7 23.1 11.3 21.8 11.5 20.5 11.3 19.8 9.4 18.5 6.2 18.1 3.2 18.5 0.4 19.8 -0.3 20.6 -0.6 21.8 0.7 23.1 -23.1 23.1 -23.1 -23.1 23.1 -23.1 23.1 23.1Z" fill="#539fc9"/><path d="M23.1 23.1 12.7 23.1 13.9 21.1 13.3 19.1 10.7 17.4 6.8 16.8 2.3 17.4 -1.7 19.2 -3.5 21.1 -3.4 22.4 -2.9 23.1 -23.1 23.1 -23.1 -23.1 23.1 -23.1 23.1 23.1Z" fill="#61a8ce"/><path d="M23.1 23.1 15.0 23.1 15.8 21.8 16.0 20.5 15.6 19.2 14.5 17.9 11.4 16.3 6.8 15.7 1.6 16.4 -3.5 18.5 -5.2 19.8 -6.1 21.1 -6.2 22.4 -5.8 23.1 -23.1 23.1 -23.1 -23.1 23.1 -23.1 23.1 23.1Z" fill="#6fb0d2"/><path d="M23.1 23.1 17.1 23.1 17.7 21.8 17.8 19.8 17.2 18.5 16.0 17.2 12.2 15.3 7.5 14.6 1.6 15.3 -4.2 17.4 -7.0 19.2 -8.3 20.5 -8.8 21.8 -8.6 23.1 -23.1 23.1 -23.1 -23.1 23.1 -23.1 23.1 23.1Z" fill="#7db8d7"/><path d="M23.1 23.1 19.1 23.1 19.7 21.1 19.5 19.2 18.3 17.2 16.6 15.8 12.7 14.2 7.5 13.5 0.3 14.5 -6.2 17.0 -10.3 19.8 -11.4 21.8 -11.3 23.1 -23.1 23.1 -23.1 -23.1 23.1 -23.1 23.1 23.1Z" fill="#8bc1dc"/><path d="M23.1 23.1 21.2 23.1 21.8 21.1 21.6 19.2 20.5 17.2 18.5 15.3 14.0 13.2 8.8 12.5 0.3 13.5 -3.6 14.5 -7.1 15.9 -10.7 17.9 -13.1 19.8 -14.2 21.8 -14.1 23.1 -23.1 23.1 -23.1 -23.1 23.1 -23.1 23.1 23.1Z" fill="#97c8df"/><path d="M-17.9 23.1 -23.1 23.1 -23.1 -23.1 23.1 -23.1 23.1 17.3 21.8 15.7 19.8 14.1 15.3 12.1 10.7 11.3 4.9 11.7 -4.2 13.4 -10.7 15.9 -15.7 19.2 -17.0 21.1 -17.2 23.1 -17.9 23.1Z" fill="#a1cde2"/><path d="M-21.1 23.1 -23.1 23.1 -23.1 -23.1 23.1 -23.1 23.1 13.7 17.9 10.9 12.7 9.8 9.4 10.0 -6.8 12.5 -12.0 14.3 -17.9 17.6 -20.5 20.5 -21.1 23.1Z" fill="#abd2e4"/><path d="M-22.4 16.0 -23.1 16.5 -23.1 -23.1 23.1 -23.1 23.1 9.5 18.5 7.8 15.3 7.4 1.6 10.3 -11.4 11.0 -16.6 12.8 -22.4 16.0Z" fill="#b5d6e7"/><path d="M1.0 9.4 -2.9 9.7 -6.2 9.4 -9.4 8.6 -12.0 7.3 -14.0 5.5 -15.8 2.9 -16.8 0.3 -17.3 -2.9 -17.1 -6.2 -16.2 -9.4 -14.9 -12.0 -12.8 -14.6 -10.1 -16.9 -7.5 -18.4 -4.2 -19.5 -1.0 -19.9 2.9 -19.7 6.2 -18.9 8.8 -17.7 11.4 -15.9 14.0 -13.3 15.6 -10.7 16.9 -7.5 17.3 -4.9 17.2 -1.6 16.5 1.0 15.4 2.9 13.6 4.9 11.8 6.2 8.8 7.6 4.9 8.8 1.0 9.4Z" fill="#bfdce9"/><path d="M2.3 8.1 -4.2 8.3 -8.8 6.9 -10.8 5.5 -12.5 3.6 -13.7 1.6 -14.5 -1.0 -14.8 -3.6 -14.6 -6.2 -13.8 -8.8 -12.3 -11.4 -8.8 -14.9 -6.2 -16.3 -3.6 -17.2 -1.0 -17.5 2.3 -17.4 4.9 -16.8 7.5 -15.7 10.0 -14.0 11.9 -12.0 13.5 -9.4 14.4 -6.8 14.8 -3.6 14.5 -1.0 13.5 1.6 12.2 3.6 10.7 4.9 8.1 6.5 2.3 8.1Z" fill="#cae0ec"/><path d="M1.6 6.9 -3.6 6.9 -7.7 5.5 -10.7 2.8 -12.0 0.4 -12.6 -1.6 -12.8 -4.2 -12.5 -6.2 -11.6 -8.8 -10.4 -10.7 -6.8 -13.9 -2.3 -15.5 0.3 -15.7 2.9 -15.4 5.3 -14.6 7.5 -13.5 9.2 -12.0 10.9 -10.1 12.0 -7.9 12.7 -5.5 12.8 -2.9 12.4 -1.0 11.7 1.0 10.3 2.9 8.8 4.3 6.6 5.5 1.6 6.9Z" fill="#d4e6ee"/><path d="M3.6 4.2 -0.3 4.8 -4.2 4.4 -7.1 2.9 -9.2 0.3 -10.2 -2.9 -9.6 -6.8 -7.6 -10.1 -5.0 -12.0 -1.0 -13.2 2.9 -12.8 6.2 -11.3 7.6 -10.1 9.0 -8.1 9.8 -6.2 10.2 -4.2 10.1 -2.3 9.4 -0.3 7.4 2.3 3.6 4.2Z" fill="#deeaf1"/></g><path d="M12.8 23.1 14.0 21.1 13.9 19.8 13.3 19.0 12.0 17.9 10.7 17.3 6.8 16.7 2.3 17.3 -1.8 19.2 -3.6 21.1 -3.5 22.4 -3.0 23.1M17.0 23.1 17.6 21.8 17.7 19.8 17.1 18.5 15.9 17.2 14.0 16.0 12.0 15.3 7.5 14.6 1.6 15.3 -4.2 17.5 -6.9 19.2 -8.2 20.5 -8.7 21.8 -8.5 23.1M20.9 23.1 21.5 21.1 21.3 19.2 20.3 17.2 19.0 15.9 17.1 14.6 14.6 13.6 12.0 12.9 8.8 12.6 4.9 12.8 0.3 13.6 -3.5 14.6 -6.8 15.9 -10.4 17.9 -12.8 19.8 -13.9 21.8 -13.8 23.1M23.1 14.3 21.1 12.9 18.5 11.6 15.3 10.5 12.7 10.1 8.8 10.3 -5.5 12.5 -10.7 14.2 -16.6 17.3 -19.3 19.8 -20.0 21.1 -20.2 23.1M2.3 9.5 -1.6 9.9 -5.5 9.9 -8.8 9.3 -12.1 8.1 -14.1 6.8 -16.0 4.9 -17.5 2.3 -18.3 -0.3 -18.7 -3.6 -18.2 -7.5 -17.1 -10.7 -15.6 -13.3 -13.3 -15.9 -10.7 -18.0 -8.1 -19.4 -4.2 -20.7 -0.3 -21.2 2.9 -21.0 6.2 -20.2 9.4 -18.8 12.7 -16.5 15.1 -14.0 17.1 -10.7 18.2 -7.5 18.6 -4.2 18.4 -1.0 17.4 1.6 16.0 3.6 13.8 5.5 10.7 7.2 6.8 8.5 2.3 9.5M0.3 7.5 -2.3 7.6 -4.9 7.2 -7.5 6.3 -9.4 5.1 -11.4 3.0 -12.5 1.0 -13.2 -1.0 -13.5 -3.6 -13.2 -6.2 -12.4 -8.8 -11.2 -10.7 -9.5 -12.7 -7.5 -14.2 -5.4 -15.3 -2.9 -16.0 -0.3 -16.3 2.3 -16.1 4.9 -15.5 7.5 -14.2 9.4 -12.7 11.2 -10.7 12.4 -8.8 13.1 -6.8 13.5 -4.2 13.3 -1.6 12.7 0.3 11.7 2.3 10.1 4.0 8.1 5.4 6.2 6.3 0.3 7.5" fill="none" stroke="#222" stroke-opacity="0.62" stroke-width="0.45"/></g><path d="M-4.2 -20.2 L-0.8 -24.1 Q0 -25.0 0.8 -24.1 L4.2 -20.2" fill="#fff" stroke="#333" stroke-width="0.8"/><rect x="-22.5" y="-5.2" width="2.3" height="10.5" rx="0.7" fill="#f0f0f0" stroke="#3a3a3a" stroke-width="0.75"/><rect x="20.2" y="-5.2" width="2.3" height="10.5" rx="0.7" fill="#f0f0f0" stroke="#3a3a3a" stroke-width="0.75"/><circle r="20.6" fill="none" stroke="#454545" stroke-width="0.75"/></g><g transform="translate(118.7 296.4)"><clipPath id="cpb10"><circle r="20.6"/></clipPath><g clip-path="url(#cpb10)"><g filter="url(#sm)"><rect x="-24.7" y="-24.7" width="49.4" height="49.4" fill="#deeaf1"/><path d="M23.1 23.1 -23.1 23.1 -23.1 -23.1 23.1 -23.1 23.1 23.1ZM1.7 -5.5 2.9 -6.8 2.3 -8.1 1.0 -8.6 -0.3 -8.1 -0.7 -7.5 -0.5 -6.2 0.3 -5.5 1.7 -5.5Z" fill="#e8f0f3"/><path d="M23.1 23.1 -23.1 23.1 -23.1 -23.1 23.1 -23.1 23.1 23.1ZM3.2 -4.2 4.5 -5.5 4.9 -6.8 4.6 -8.1 3.6 -9.4 2.3 -10.0 0.3 -10.1 -1.0 -9.7 -2.2 -8.8 -2.8 -6.8 -2.5 -5.5 -1.6 -4.5 -0.3 -3.9 1.0 -3.6 3.2 -4.2Z" fill="#f2f4f6"/><path d="M23.1 23.1 -23.1 23.1 -23.1 -23.1 23.1 -23.1 23.1 23.1ZM2.6 -2.3 4.9 -3.3 6.3 -4.9 6.8 -6.8 6.3 -8.8 4.9 -10.3 2.3 -11.4 -0.3 -11.4 -2.3 -10.6 -3.7 -9.4 -4.5 -8.1 -4.7 -6.2 -4.3 -4.9 -3.2 -3.6 -1.6 -2.6 0.3 -2.1 2.6 -2.3Z" fill="#f7f3f1"/><path d="M23.1 23.1 1.6 23.1 1.3 21.8 0.3 21.0 -1.0 21.4 -1.6 22.4 -1.6 23.1 -23.1 23.1 -23.1 -23.1 23.1 -23.1 23.1 23.1ZM3.9 -1.0 6.8 -2.5 8.6 -4.9 8.8 -7.5 7.6 -10.1 4.9 -12.1 1.6 -12.9 -2.3 -12.3 -4.9 -10.7 -6.3 -8.8 -6.8 -6.8 -6.5 -4.9 -5.2 -2.9 -3.5 -1.6 -1.0 -0.7 1.6 -0.5 3.9 -1.0Z" fill="#f7ebe5"/><path d="M23.1 23.1 5.0 23.1 2.9 21.4 0.3 18.7 -0.3 18.7 -2.9 21.4 -5.0 23.1 -23.1 23.1 -23.1 -23.1 -17.9 -23.1 -21.1 -19.8 -21.8 -18.5 -21.6 -16.6 -18.9 -12.0 -15.9 -8.6 -13.0 -4.2 -9.1 -1.0 -0.5 3.6 9.0 -0.3 13.3 -2.9 15.8 -5.5 17.2 -8.0 20.2 -11.4 23.1 -15.9 23.1 23.1ZM23.1 -19.8 19.8 -23.1 23.1 -23.1 23.1 -19.8Z" fill="#f6e2da"/><path d="M9.4 21.2 6.2 21.4 3.6 20.5 1.9 18.5 1.0 15.3 0.3 14.4 -0.3 14.4 -1.0 15.2 -2.3 19.2 -3.6 20.5 -4.9 21.1 -7.5 21.4 -11.4 21.0 -19.2 19.2 -23.1 17.6 -23.1 10.4 -15.3 6.3 -12.0 5.2 -8.1 5.1 -1.6 6.4 0.3 6.5 8.1 4.1 10.1 3.8 12.0 4.0 14.0 4.6 23.1 10.4 23.1 17.6 17.9 19.6 9.4 21.2Z" fill="#f6dace"/><path d="M10.7 19.9 6.8 20.3 4.2 19.8 2.9 18.5 1.6 14.0 0.3 12.6 -1.0 13.0 -1.6 13.9 -2.7 17.9 -3.4 19.2 -4.9 20.1 -6.2 20.3 -12.7 19.6 -18.5 17.9 -21.6 15.9 -22.5 14.6 -22.5 13.3 -21.7 12.0 -19.2 10.1 -15.3 7.7 -12.0 6.5 -8.1 6.3 0.3 7.8 7.5 5.6 11.4 5.4 14.6 6.6 19.5 10.1 21.7 12.0 22.6 14.0 21.6 15.9 19.2 17.5 15.3 19.0 10.7 19.9Z" fill="#f6d2c2"/><path d="M8.1 19.2 5.5 19.2 4.2 18.5 3.5 17.2 2.3 13.1 0.3 10.2 -0.1 10.1 2.8 8.1 6.8 6.7 10.1 6.2 12.7 6.7 15.2 8.1 18.2 10.7 19.5 12.7 19.6 14.6 18.5 15.9 15.9 17.4 12.5 18.5 8.1 19.2ZM-5.5 19.2 -10.7 18.9 -16.4 17.2 -19.1 15.3 -19.7 14.0 -19.4 12.7 -18.5 11.4 -16.2 9.4 -14.0 8.1 -11.4 7.3 -6.8 7.3 -1.9 8.8 -0.4 10.1 -2.4 13.3 -3.7 17.9 -4.2 18.5 -5.5 19.2Z" fill="#f5cab7"/><path d="M9.4 17.9 6.2 18.0 4.9 17.3 2.6 11.4 2.5 10.1 3.6 8.8 5.5 7.8 8.1 7.1 10.7 7.0 13.3 7.9 15.5 9.4 17.0 11.4 17.4 13.3 16.9 14.6 15.3 16.1 12.7 17.2 9.4 17.9ZM-6.2 18.0 -8.1 18.1 -11.4 17.6 -15.5 15.9 -17.1 14.0 -17.1 12.7 -16.5 11.4 -14.0 9.1 -10.7 7.9 -6.8 8.1 -3.6 9.3 -2.8 10.1 -2.8 11.4 -4.5 16.6 -4.9 17.3 -6.2 18.0Z" fill="#f5c2ab"/><path d="M12.0 15.9 8.8 16.5 6.2 15.9 4.9 14.1 4.0 12.0 3.8 10.7 4.4 9.4 6.8 8.2 9.4 7.7 12.0 8.1 14.2 9.4 15.5 11.4 15.4 13.3 14.0 15.0 12.0 15.9ZM-6.8 16.2 -8.8 16.5 -10.7 16.2 -14.0 14.8 -14.7 14.0 -15.1 12.7 -14.4 10.7 -12.7 9.4 -10.1 8.6 -7.5 8.8 -4.9 9.9 -4.3 10.7 -4.5 12.7 -5.5 15.0 -6.8 16.2Z" fill="#f5ba9f"/><path d="M10.7 14.7 8.1 14.6 6.2 13.4 5.2 11.4 5.5 10.1 6.1 9.4 8.1 8.6 10.1 8.4 12.0 8.9 13.5 10.1 14.1 11.4 13.9 12.7 12.7 14.0 10.7 14.7ZM-8.1 14.2 -10.1 14.5 -12.0 13.8 -13.1 12.7 -13.1 11.4 -12.7 10.7 -11.8 10.1 -10.1 9.5 -8.1 9.6 -6.8 10.2 -6.2 10.7 -6.0 12.0 -6.8 13.4 -8.1 14.2Z" fill="#f4b194"/><path d="M11.4 12.9 10.1 13.2 8.1 12.8 7.2 12.0 6.9 10.7 7.5 9.9 8.8 9.3 10.1 9.2 11.4 9.6 12.0 10.1 12.6 11.4 12.4 12.0 11.4 12.9Z" fill="#f4a988"/></g><path d="M3.3 -3.6 4.9 -4.9 5.5 -6.2 5.3 -8.1 4.4 -9.4 2.9 -10.3 1.0 -10.7 -1.0 -10.3 -2.3 -9.4 -3.3 -8.1 -3.5 -6.8 -3.2 -5.5 -2.3 -4.3 -1.0 -3.5 0.3 -3.1 1.6 -3.1 3.3 -3.6M4.5 -1.0 6.2 -1.8 7.6 -2.9 8.5 -4.2 9.0 -5.5 8.9 -8.1 8.3 -9.4 7.2 -10.7 4.2 -12.5 1.0 -13.0 -2.3 -12.5 -5.2 -10.7 -6.6 -8.8 -7.1 -6.8 -6.7 -4.9 -5.5 -2.9 -3.6 -1.5 -1.0 -0.5 1.6 -0.4 4.5 -1.0M1.9 23.1 1.6 21.8 0.3 20.7 -1.0 21.1 -1.9 22.4 -1.9 23.1M-23.1 10.0 -14.6 5.7 -12.0 4.9 -8.8 4.8 -2.2 6.2 0.3 6.4 3.5 5.5 7.5 3.9 10.1 3.5 12.7 3.8 14.6 4.6 18.7 7.5 23.1 10.0M23.1 18.0 19.2 19.5 14.6 20.6 8.8 21.5 5.5 21.5 3.6 20.7 2.6 19.8 1.7 18.5 0.7 15.3 0.3 14.8 -0.3 14.8 -1.0 15.7 -1.7 18.5 -2.5 19.8 -4.2 21.1 -6.8 21.6 -10.7 21.3 -16.6 20.2 -23.1 18.0M11.4 19.2 6.8 19.7 5.5 19.6 4.2 19.1 3.3 17.9 2.0 13.3 1.0 11.9 0.3 11.5 -0.3 11.5 -1.0 11.8 -1.7 12.7 -3.7 18.5 -4.9 19.4 -6.2 19.7 -12.0 19.1 -17.2 17.5 -18.9 16.6 -20.3 15.3 -20.7 14.6 -20.7 13.3 -20.0 12.0 -17.8 10.1 -14.6 8.1 -12.0 7.1 -10.1 6.8 -7.5 6.9 -0.3 8.7 7.5 6.2 9.4 5.9 11.4 6.0 14.0 6.9 17.5 9.4 20.1 12.0 20.8 14.0 19.8 15.8 17.9 17.2 14.6 18.4 11.4 19.2M10.7 17.2 7.5 17.6 5.5 17.1 4.7 15.9 3.1 11.4 3.0 10.1 3.4 9.4 6.2 7.9 9.4 7.2 12.7 7.8 15.0 9.4 16.1 10.7 16.6 12.0 16.5 14.0 15.4 15.3 14.5 15.9 10.7 17.2M-6.2 17.4 -8.1 17.6 -10.7 17.3 -14.4 15.9 -15.3 15.3 -16.2 14.0 -16.4 12.7 -15.9 11.4 -13.9 9.4 -10.7 8.2 -7.5 8.3 -4.1 9.4 -3.3 10.7 -3.5 12.0 -4.9 16.2 -6.2 17.4M12.0 14.1 9.4 14.6 7.2 14.0 6.2 13.1 5.5 12.0 5.4 10.7 5.6 10.1 6.8 9.1 8.8 8.5 10.7 8.5 12.7 9.4 13.8 10.7 13.9 12.0 13.3 13.2 12.0 14.1M-8.1 14.0 -9.4 14.3 -11.4 13.9 -12.8 12.7 -12.9 11.4 -12.0 10.4 -10.7 9.8 -8.8 9.6 -7.3 10.1 -6.5 10.7 -6.3 12.0 -6.8 13.1 -8.1 14.0" fill="none" stroke="#222" stroke-opacity="0.62" stroke-width="0.45"/></g><path d="M-4.2 -20.2 L-0.8 -24.1 Q0 -25.0 0.8 -24.1 L4.2 -20.2" fill="#fff" stroke="#333" stroke-width="0.8"/><rect x="-22.5" y="-5.2" width="2.3" height="10.5" rx="0.7" fill="#f0f0f0" stroke="#3a3a3a" stroke-width="0.75"/><rect x="20.2" y="-5.2" width="2.3" height="10.5" rx="0.7" fill="#f0f0f0" stroke="#3a3a3a" stroke-width="0.75"/><circle r="20.6" fill="none" stroke="#454545" stroke-width="0.75"/></g><g transform="translate(170.0 296.4)"><clipPath id="cpb11"><circle r="20.6"/></clipPath><g clip-path="url(#cpb11)"><g filter="url(#sm)"><rect x="-24.7" y="-24.7" width="49.4" height="49.4" fill="#cae0ec"/><path d="M23.1 23.1 -23.1 23.1 -23.1 -23.1 23.1 -23.1 23.1 23.1ZM2.5 4.2 2.3 3.8 1.8 4.2 2.5 4.2Z" fill="#d4e6ee"/><path d="M23.1 23.1 -23.1 23.1 -23.1 -23.1 23.1 -23.1 23.1 23.1ZM3.7 4.9 3.9 4.2 3.7 3.6 2.7 2.9 1.0 3.2 0.3 4.2 0.7 4.9 1.6 5.2 3.7 4.9Z" fill="#deeaf1"/><path d="M23.1 23.1 -23.1 23.1 -23.1 -23.1 23.1 -23.1 23.1 23.1ZM4.0 5.5 4.6 4.2 3.6 2.8 1.6 2.5 0.5 2.9 -0.1 3.6 -0.2 4.9 0.4 5.5 2.3 5.9 4.0 5.5Z" fill="#e8f0f3"/><path d="M23.1 23.1 -23.1 23.1 -23.1 -23.1 23.1 -23.1 23.1 23.1ZM4.1 6.2 4.9 5.3 5.1 4.2 4.4 2.9 3.6 2.4 1.0 2.2 -0.6 3.6 -0.7 4.9 0.3 6.2 2.3 6.6 4.1 6.2Z" fill="#f2f4f6"/><path d="M23.1 23.1 -23.1 23.1 -23.1 -23.1 23.1 -23.1 23.1 23.1ZM4.0 6.8 4.9 6.1 5.5 4.9 5.3 3.6 4.2 2.3 1.6 1.8 0.3 2.2 -0.6 2.9 -1.2 4.9 -0.3 6.4 1.6 7.2 4.0 6.8Z" fill="#f7f3f1"/><path d="M23.1 23.1 -23.1 23.1 -23.1 -23.1 23.1 -23.1 23.1 23.1ZM3.7 7.5 4.9 6.7 5.6 5.5 5.8 4.2 5.3 2.9 4.2 2.0 2.9 1.5 1.0 1.6 -0.4 2.3 -1.5 4.2 -1.0 6.3 1.0 7.6 3.7 7.5Z" fill="#f7ebe5"/><path d="M23.1 23.1 -23.1 23.1 -23.1 -23.1 23.1 -23.1 23.1 23.1ZM-17.6 -0.3 -17.1 -1.0 -17.1 -2.3 -17.2 -3.3 -17.9 -4.2 -18.5 -4.1 -19.2 -1.6 -18.7 -0.3 -17.6 -0.3ZM3.0 8.1 4.5 7.5 5.5 6.5 6.1 4.9 6.0 3.6 5.2 2.3 3.6 1.4 1.6 1.2 0.3 1.5 -0.9 2.3 -1.6 3.3 -1.9 4.2 -1.6 5.7 -1.0 6.8 0.3 7.8 3.0 8.1Z" fill="#f6e2da"/><path d="M23.1 23.1 -23.1 23.1 -23.1 -23.1 23.1 -23.1 23.1 23.1ZM-17.2 1.0 -15.9 -0.9 -15.9 -4.1 -17.1 -6.8 -18.5 -7.3 -19.6 -6.2 -20.1 -4.9 -20.3 -1.0 -19.9 0.3 -19.2 1.0 -17.9 1.2 -17.2 1.0ZM4.0 8.1 5.5 7.0 6.3 5.5 6.3 3.6 5.6 2.3 4.2 1.3 2.3 0.9 0.3 1.2 -1.0 1.9 -1.8 2.9 -2.2 4.2 -2.0 5.5 -1.4 6.8 -0.3 7.8 1.0 8.4 2.3 8.5 4.0 8.1Z" fill="#f6dace"/><path d="M23.1 23.1 -23.1 23.1 -23.1 -23.1 23.1 -23.1 23.1 23.1ZM-16.9 1.6 -15.9 0.7 -15.4 -0.3 -15.3 -4.3 -15.7 -6.2 -16.6 -7.7 -17.2 -8.3 -18.5 -8.5 -19.8 -7.5 -20.5 -6.2 -21.0 -3.6 -21.0 -1.0 -20.5 0.7 -19.6 1.6 -18.5 2.0 -16.9 1.6ZM19.7 1.0 20.1 -0.3 19.9 -2.3 19.2 -3.3 18.5 -3.6 17.9 -3.3 17.2 -2.4 17.1 0.3 17.9 1.3 18.5 1.5 19.7 1.0ZM3.0 8.8 4.9 8.0 6.2 6.5 6.7 4.9 6.4 2.9 5.4 1.6 3.6 0.8 1.6 0.7 -0.3 1.1 -1.6 2.1 -2.2 2.9 -2.4 4.2 -2.1 6.2 -0.3 8.2 1.2 8.8 3.0 8.8Z" fill="#f6d2c2"/><path d="M23.1 23.1 -23.1 23.1 -23.1 -23.1 23.1 -23.1 23.1 23.1ZM-17.0 2.3 -15.9 1.5 -15.1 0.3 -14.7 -1.6 -14.7 -4.2 -15.3 -6.7 -16.0 -8.1 -17.2 -9.3 -18.5 -9.5 -19.8 -8.7 -21.1 -6.2 -21.6 -3.6 -21.5 -1.0 -21.0 1.0 -19.8 2.2 -18.5 2.6 -17.0 2.3ZM19.0 2.3 19.8 1.9 20.5 1.1 20.8 -1.0 20.5 -2.8 19.8 -4.2 18.5 -4.9 17.9 -4.7 16.9 -3.6 16.3 -0.3 17.2 1.7 19.0 2.3ZM3.9 8.8 5.5 7.8 6.6 6.2 7.0 4.2 6.4 2.3 5.5 1.3 3.6 0.5 1.0 0.4 -1.0 1.1 -2.2 2.3 -2.7 3.6 -2.6 5.5 -2.0 6.8 -1.0 8.0 0.3 8.8 2.3 9.1 3.9 8.8Z" fill="#f5cab7"/><path d="M23.1 23.1 -23.1 23.1 -23.1 -23.1 23.1 -23.1 23.1 23.1ZM-17.3 2.9 -15.9 2.2 -14.5 0.3 -14.2 -1.6 -14.3 -4.2 -14.8 -6.8 -15.9 -9.2 -17.2 -10.2 -18.5 -10.4 -19.8 -9.7 -21.3 -7.5 -22.0 -4.2 -22.0 -1.0 -21.6 1.0 -20.5 2.4 -19.2 3.0 -17.3 2.9ZM20.3 2.3 21.2 0.3 21.0 -2.9 19.8 -5.3 19.2 -5.7 17.9 -5.7 17.0 -4.9 16.3 -3.6 15.8 -1.6 15.9 0.3 16.6 1.7 17.9 2.7 19.2 2.9 20.3 2.3ZM4.5 8.8 6.1 7.5 7.1 5.5 7.3 3.6 6.4 1.6 4.9 0.6 2.9 0.1 0.3 0.2 -1.6 1.1 -2.6 2.3 -3.0 4.2 -2.6 6.2 -1.9 7.5 -0.3 8.8 1.0 9.2 2.9 9.3 4.5 8.8Z" fill="#f5c2ab"/><path d="M23.1 23.1 -23.1 23.1 -23.1 -23.1 23.1 -23.1 23.1 23.1ZM-18.4 3.6 -16.6 3.1 -14.8 1.6 -14.0 0.3 -13.7 -1.6 -13.8 -4.9 -14.7 -8.1 -15.9 -10.2 -17.9 -11.3 -19.8 -10.7 -21.1 -9.1 -22.2 -6.2 -22.6 -2.9 -22.4 -0.3 -21.8 1.6 -20.5 3.0 -18.4 3.6ZM20.3 2.9 21.6 1.0 21.5 -2.9 20.8 -4.9 19.8 -6.2 19.2 -6.6 17.9 -6.6 16.7 -5.5 15.9 -4.1 15.4 -1.6 15.4 0.3 16.0 1.6 17.3 2.9 18.5 3.4 20.3 2.9ZM3.5 9.4 5.8 8.1 7.2 6.2 7.6 3.6 6.9 1.6 5.5 0.4 3.6 -0.2 0.3 -0.1 -1.6 0.6 -2.7 1.6 -3.2 2.9 -3.2 4.9 -2.6 6.8 -1.6 8.1 -0.3 9.0 1.6 9.6 3.5 9.4Z" fill="#f5ba9f"/><path d="M23.1 23.1 -23.1 23.1 -23.1 -0.7 -22.8 1.0 -21.8 2.6 -20.5 3.6 -18.5 4.0 -16.6 3.5 -14.8 2.3 -13.4 0.3 -13.1 -1.6 -13.5 -6.2 -14.2 -8.8 -15.9 -11.4 -17.9 -12.4 -19.8 -11.8 -21.4 -10.1 -22.6 -6.8 -23.1 -3.4 -23.1 -23.1 23.1 -23.1 23.1 23.1ZM20.1 3.6 21.5 2.3 22.1 1.0 22.1 -2.3 20.7 -6.2 19.8 -7.1 18.5 -7.6 17.2 -7.1 16.0 -5.5 15.1 -2.9 14.8 -0.3 15.5 1.6 16.6 2.9 18.5 3.8 20.1 3.6ZM4.2 9.4 6.2 8.1 7.4 6.2 7.9 3.6 7.8 2.3 7.1 1.0 5.5 -0.1 2.9 -0.7 -0.3 -0.4 -2.3 0.4 -3.2 1.6 -3.6 3.6 -3.3 5.5 -2.4 7.5 -1.2 8.8 0.3 9.5 2.3 9.8 4.2 9.4Z" fill="#f4b194"/><path d="M23.1 23.1 -23.1 23.1 -23.1 2.1 -21.8 3.4 -20.5 4.2 -19.2 4.4 -17.2 4.2 -15.3 3.1 -13.6 1.6 -12.6 0.3 -12.2 -1.0 -13.2 -8.1 -14.2 -10.7 -15.9 -12.9 -17.9 -13.7 -19.8 -13.2 -21.7 -11.4 -23.1 -8.2 -23.1 -23.1 23.1 -23.1 23.1 23.1ZM19.5 4.2 21.0 3.6 22.3 2.3 22.9 1.0 22.9 -1.0 22.2 -4.9 21.3 -6.8 19.8 -8.3 18.5 -8.7 16.6 -7.8 15.5 -6.2 14.4 -2.9 14.1 -0.3 14.9 1.6 16.1 2.9 17.9 4.1 19.5 4.2ZM4.7 9.4 6.8 7.7 7.9 5.5 8.3 2.3 7.7 0.3 6.2 -0.6 2.9 -1.1 -1.0 -0.8 -2.9 -0.1 -3.7 1.0 -3.9 3.6 -3.4 6.2 -2.3 8.1 -1.0 9.2 1.0 9.9 2.9 10.0 4.7 9.4Z" fill="#f4a988"/><path d="M6.8 -1.6 -4.2 -1.5 -8.4 -2.9 -10.3 -4.2 -11.1 -7.5 -11.0 -11.4 -9.4 -17.6 -7.3 -21.8 -8.1 -23.1 23.1 -23.1 23.1 -19.8 21.8 -21.0 19.8 -21.7 17.2 -21.7 15.3 -21.0 14.9 -19.8 15.3 -15.9 15.2 -12.0 13.3 -4.6 12.7 -3.6 11.7 -2.9 8.8 -1.9 6.8 -1.6ZM23.1 23.1 -23.1 23.1 -23.1 3.5 -20.5 4.7 -17.9 4.8 -15.3 3.6 -11.4 0.8 -8.1 0.2 -6.2 0.2 -4.9 1.1 -3.9 5.5 -2.5 8.1 -0.3 9.7 2.3 10.2 4.9 9.6 6.8 8.0 7.9 6.2 9.2 1.6 10.1 0.8 12.0 0.6 13.3 1.0 16.6 3.8 18.5 4.6 20.5 4.4 23.1 2.8 23.1 23.1Z" fill="#f29d7d"/><path d="M4.2 -2.2 -1.6 -2.3 -5.3 -3.6 -6.8 -4.9 -7.5 -6.2 -7.7 -7.5 -6.9 -9.4 -4.2 -11.6 0.3 -12.8 4.9 -12.5 8.8 -10.8 10.2 -9.4 10.9 -8.1 11.0 -6.8 10.6 -5.5 9.5 -4.2 8.1 -3.3 4.2 -2.2ZM23.1 23.1 -23.1 23.1 -23.1 4.6 -19.8 5.3 -17.9 5.2 -11.4 1.8 -8.1 1.5 -6.2 1.6 -4.9 2.8 -3.9 6.2 -2.3 8.7 -0.3 9.9 2.3 10.4 4.9 9.8 6.8 8.3 8.2 6.2 9.4 2.9 10.7 2.0 13.3 2.1 17.2 4.6 18.5 5.1 19.8 5.1 23.1 4.2 23.1 23.1Z" fill="#ee8c73"/><path d="M4.2 -2.9 -0.3 -2.8 -2.3 -3.2 -4.2 -4.1 -6.0 -6.2 -6.2 -7.5 -5.8 -8.8 -3.6 -10.7 -0.3 -11.8 3.6 -11.8 6.9 -10.7 9.1 -8.8 9.5 -7.5 9.3 -6.2 7.5 -4.1 4.2 -2.9ZM23.1 23.1 -23.1 23.1 -23.1 5.6 -17.9 5.6 -12.0 2.7 -6.8 2.3 -5.5 2.9 -3.9 6.8 -2.3 8.9 -0.3 10.2 2.3 10.6 4.7 10.1 6.7 8.8 8.2 6.8 9.4 4.0 10.7 2.8 12.0 2.7 14.0 3.1 18.5 5.5 23.1 5.4 23.1 23.1Z" fill="#ea7c6a"/><path d="M3.6 -3.5 -0.3 -3.5 -3.6 -4.8 -4.4 -5.5 -5.0 -6.8 -4.5 -8.8 -2.3 -10.4 0.3 -11.1 3.6 -11.0 6.3 -10.1 8.1 -8.1 8.1 -6.2 6.2 -4.3 3.6 -3.5ZM21.1 23.1 -21.8 23.1 -23.1 22.5 -23.1 6.5 -17.9 6.0 -11.4 3.2 -6.8 2.9 -5.5 3.7 -3.8 7.5 -2.3 9.2 -0.3 10.4 2.3 10.8 4.2 10.5 6.2 9.4 8.1 7.5 10.1 4.0 11.4 3.4 14.0 3.7 18.5 5.9 22.4 6.2 23.1 6.4 23.1 22.5 21.1 23.1Z" fill="#e56b60"/><path d="M3.6 -4.2 0.3 -4.1 -2.1 -4.9 -3.5 -6.2 -3.5 -8.1 -2.3 -9.4 0.3 -10.3 2.9 -10.4 5.5 -9.5 6.8 -8.1 6.8 -6.3 5.5 -5.0 3.6 -4.2ZM19.2 23.1 -19.6 23.1 -23.1 21.4 -23.1 7.5 -17.2 6.2 -12.0 3.9 -8.1 3.4 -6.8 3.5 -5.8 4.2 -4.0 7.5 -2.4 9.4 -1.0 10.3 1.0 10.9 3.6 10.9 6.2 9.7 7.9 8.1 10.1 4.7 11.4 4.0 14.0 4.3 17.9 6.1 21.8 6.8 23.1 7.4 23.1 21.4 19.2 23.1Z" fill="#e15b56"/><path d="M3.6 -5.3 1.6 -5.0 -0.8 -5.5 -2.0 -6.8 -1.8 -8.1 -1.0 -8.8 1.0 -9.4 2.4 -9.4 4.2 -8.8 5.1 -8.1 5.3 -6.8 4.9 -6.1 3.6 -5.3ZM17.2 23.1 -17.9 23.0 -23.1 20.4 -23.1 8.5 -21.1 7.6 -17.2 6.7 -12.0 4.4 -7.5 3.9 -6.2 4.5 -3.9 8.1 -2.3 9.8 0.3 11.0 2.9 11.2 4.9 10.7 6.8 9.5 10.7 4.8 12.0 4.5 14.6 5.1 17.9 6.6 21.3 7.5 23.1 8.4 23.1 20.4 19.8 22.2 17.2 23.1Z" fill="#dd4a4c"/><path d="M15.3 23.1 -15.5 23.1 -16.6 22.7 -20.3 21.1 -23.1 19.3 -23.1 9.6 -21.1 8.4 -17.2 7.2 -12.7 5.2 -8.1 4.4 -6.2 5.1 -3.7 8.8 -1.6 10.5 0.3 11.2 2.9 11.4 4.9 10.9 6.8 9.8 10.7 5.5 12.0 5.1 14.6 5.6 20.9 8.1 23.1 9.5 23.1 19.3 19.8 21.4 15.3 23.1Z" fill="#d93a42"/><path d="M12.7 23.1 -13.3 23.1 -15.4 22.4 -19.9 20.5 -23.1 18.0 -23.1 10.9 -20.1 8.8 -12.7 5.7 -9.4 5.0 -6.8 5.2 -2.6 10.1 -1.0 11.0 1.6 11.6 4.2 11.3 6.2 10.5 8.1 9.0 10.1 6.7 11.4 5.8 12.7 5.7 14.6 6.2 20.5 8.8 23.1 10.9 23.1 18.0 20.9 19.8 18.6 21.1 15.3 22.5 12.7 23.1Z" fill="#d42938"/><path d="M10.7 23.1 -10.7 23.1 -13.3 22.4 -17.9 20.7 -21.1 18.5 -23.0 15.9 -23.1 13.1 -21.8 11.0 -19.7 9.4 -13.3 6.5 -10.1 5.7 -8.1 5.5 -6.8 5.9 -2.9 10.2 -1.0 11.3 1.6 11.9 4.2 11.6 6.2 10.8 11.4 6.4 14.0 6.7 18.8 8.8 21.6 10.7 23.1 13.1 23.1 15.8 21.8 17.9 19.2 20.0 15.3 21.8 10.7 23.1Z" fill="#d0192f"/><path d="M6.8 23.1 -7.4 23.1 -13.3 21.7 -17.8 19.8 -20.4 17.9 -21.7 15.9 -21.8 13.3 -20.7 11.4 -18.0 9.4 -12.7 7.0 -8.8 6.1 -6.8 6.5 -2.3 11.0 1.0 12.1 2.9 12.1 5.5 11.4 7.5 10.3 10.7 7.4 12.0 7.0 14.3 7.5 17.2 8.8 20.7 11.4 21.8 13.3 21.9 15.3 20.9 17.2 19.7 18.5 17.2 20.1 14.0 21.5 6.8 23.1Z" fill="#cc0825"/></g><path d="M3.9 6.8 4.9 6.1 5.4 4.9 5.3 3.6 4.9 2.9 3.6 2.0 2.3 1.8 0.3 2.2 -0.6 2.9 -1.0 3.6 -1.1 4.9 -0.3 6.3 1.6 7.2 3.9 6.8M-17.0 1.6 -15.9 0.7 -15.4 -0.3 -15.3 -4.2 -15.8 -6.2 -16.6 -7.7 -17.2 -8.2 -18.5 -8.5 -19.8 -7.5 -20.5 -6.2 -21.0 -3.6 -20.9 -1.0 -20.5 0.6 -19.6 1.6 -18.5 2.0 -17.0 1.6M19.6 1.0 20.1 -0.3 20.0 -1.6 19.2 -3.3 18.5 -3.5 17.9 -3.2 17.2 -2.3 17.0 -1.0 17.1 0.3 17.9 1.2 18.5 1.4 19.6 1.0M3.0 8.8 4.9 7.9 6.2 6.5 6.7 4.9 6.4 2.9 5.3 1.6 3.6 0.8 1.6 0.7 -0.3 1.2 -1.6 2.1 -2.3 3.3 -2.4 4.9 -2.1 6.2 -0.3 8.2 1.3 8.8 3.0 8.8M-23.1 -1.3 -22.8 1.0 -22.1 2.3 -21.1 3.2 -19.8 3.8 -18.5 4.0 -16.6 3.5 -14.8 2.3 -13.8 1.0 -13.1 -1.6 -13.6 -6.8 -14.9 -10.1 -16.6 -11.8 -17.9 -12.3 -19.2 -12.1 -21.1 -10.4 -22.6 -6.8 -23.1 -2.6M20.0 3.6 21.5 2.3 22.1 1.0 22.1 -2.3 21.4 -4.9 20.7 -6.2 19.8 -7.1 18.5 -7.5 17.2 -7.1 16.0 -5.5 15.1 -2.9 14.8 -0.3 15.5 1.6 16.6 2.9 18.5 3.8 20.0 3.6M4.2 9.4 6.1 8.1 7.4 6.2 7.9 3.6 7.7 2.3 7.1 1.0 5.5 -0.1 2.9 -0.6 -0.3 -0.4 -2.3 0.5 -3.2 1.6 -3.6 3.6 -3.3 5.5 -2.4 7.5 -1.1 8.8 0.3 9.5 2.3 9.8 4.2 9.4M4.2 -2.9 -0.3 -2.8 -2.3 -3.2 -4.2 -4.1 -5.2 -4.9 -6.1 -6.2 -6.2 -7.5 -5.8 -8.8 -4.9 -9.9 -3.6 -10.8 -0.3 -11.8 3.6 -11.8 7.0 -10.7 9.1 -8.8 9.5 -7.5 9.4 -6.2 8.5 -4.9 7.5 -4.0 4.2 -2.9M-23.1 5.5 -19.8 5.8 -17.9 5.6 -12.0 2.7 -6.8 2.2 -5.5 2.9 -3.8 6.8 -2.3 8.9 -0.3 10.2 2.3 10.6 4.7 10.1 6.7 8.8 8.2 6.8 9.4 3.9 10.7 2.8 12.0 2.7 14.0 3.0 17.2 5.0 18.5 5.4 23.1 5.3M-23.1 9.5 -21.1 8.4 -17.2 7.2 -12.7 5.1 -8.1 4.4 -6.8 4.6 -6.2 5.1 -3.7 8.8 -2.3 10.0 -1.0 10.8 1.0 11.3 3.6 11.3 6.2 10.2 7.9 8.8 10.1 6.0 10.7 5.5 12.0 5.1 14.6 5.6 20.5 7.9 23.1 9.5M-15.6 23.1 -19.8 21.4 -23.1 19.3M23.1 19.3 19.8 21.4 15.6 23.1M7.5 22.4 2.3 23.0 -2.9 22.9 -7.5 22.4 -12.9 21.1 -16.0 19.8 -18.8 17.9 -20.2 15.9 -20.5 14.6 -20.4 13.3 -19.2 11.4 -16.4 9.4 -12.7 7.7 -8.8 6.7 -6.8 7.2 -3.9 10.1 -2.3 11.3 1.0 12.3 3.6 12.3 5.5 11.7 7.5 10.7 10.7 8.0 12.0 7.7 15.5 8.8 17.7 10.1 19.2 11.4 20.1 12.7 20.5 14.6 19.9 16.6 18.8 17.9 17.1 19.2 14.6 20.5 10.7 21.8 7.5 22.4" fill="none" stroke="#222" stroke-opacity="0.62" stroke-width="0.45"/></g><path d="M-4.2 -20.2 L-0.8 -24.1 Q0 -25.0 0.8 -24.1 L4.2 -20.2" fill="#fff" stroke="#333" stroke-width="0.8"/><rect x="-22.5" y="-5.2" width="2.3" height="10.5" rx="0.7" fill="#f0f0f0" stroke="#3a3a3a" stroke-width="0.75"/><rect x="20.2" y="-5.2" width="2.3" height="10.5" rx="0.7" fill="#f0f0f0" stroke="#3a3a3a" stroke-width="0.75"/><circle r="20.6" fill="none" stroke="#454545" stroke-width="0.75"/></g><g transform="translate(221.2 296.4)"><clipPath id="cpb12"><circle r="20.6"/></clipPath><g clip-path="url(#cpb12)"><g filter="url(#sm)"><rect x="-24.7" y="-24.7" width="49.4" height="49.4" fill="#e8f0f3"/><path d="M23.1 23.1 -23.1 23.1 -23.1 -23.1 23.1 -23.1 23.1 23.1ZM10.8 15.3 11.7 14.6 12.5 13.3 12.7 12.0 12.4 10.7 10.7 9.2 9.4 9.0 7.8 9.4 6.8 10.1 6.1 11.4 6.0 12.7 6.4 14.0 8.1 15.5 9.4 15.7 10.8 15.3Z" fill="#f2f4f6"/><path d="M23.1 23.1 -23.1 23.1 -23.1 -23.1 23.1 -23.1 23.1 23.1ZM11.9 18.5 14.5 16.6 15.9 14.0 16.4 9.4 15.9 6.2 14.6 5.6 10.7 5.6 6.8 6.1 4.7 7.5 3.3 9.4 2.6 12.0 3.0 14.6 4.2 16.8 6.7 18.5 9.4 19.0 11.9 18.5Z" fill="#f7f3f1"/><path d="M23.1 23.1 -23.1 23.1 -23.1 -23.1 23.1 -23.1 23.1 23.1ZM-14.2 1.6 -13.6 0.3 -13.8 -1.6 -14.6 -2.8 -15.9 -3.0 -17.2 -1.6 -17.2 0.6 -16.7 1.6 -15.9 2.2 -15.3 2.3 -14.2 1.6ZM11.8 21.8 14.6 20.5 16.6 18.8 18.1 16.6 19.0 14.0 19.8 7.5 19.8 4.2 18.7 1.6 17.2 0.7 15.9 0.7 12.0 2.1 7.5 2.7 4.9 3.6 1.6 6.3 0.5 8.1 -0.2 10.1 -0.5 12.7 -0.0 15.3 0.8 17.2 2.3 19.2 4.2 20.7 6.8 21.8 9.4 22.1 11.8 21.8Z" fill="#f7ebe5"/><path d="M-0.3 23.1 -23.1 23.1 -23.1 -23.1 23.1 -23.1 23.1 5.2 22.5 2.3 21.4 -0.3 19.8 -2.1 17.9 -3.0 15.9 -3.1 11.4 -2.0 6.2 -1.3 3.3 -0.3 1.0 1.0 -1.1 2.9 -3.0 5.5 -4.1 8.1 -4.7 11.4 -4.6 14.6 -3.9 17.2 -2.2 20.5 0.2 23.1 -0.3 23.1ZM-15.0 3.6 -14.0 3.1 -13.3 2.3 -12.5 -0.3 -13.2 -2.9 -14.0 -3.9 -15.3 -4.5 -16.6 -4.2 -17.3 -3.6 -18.0 -2.3 -18.4 -0.3 -18.0 1.6 -17.2 2.8 -15.9 3.6 -15.0 3.6ZM23.1 23.1 18.4 23.1 21.6 19.2 23.1 15.1 23.1 23.1Z" fill="#f6e2da"/><path d="M-1.0 -2.9 -4.9 -3.2 -7.9 -4.9 -8.9 -6.2 -9.1 -7.5 -8.8 -8.8 -7.9 -10.1 -4.9 -11.8 -1.0 -12.3 2.3 -11.8 5.3 -10.1 6.3 -8.1 6.2 -6.8 5.4 -5.5 2.9 -3.9 -1.0 -2.9Z" fill="#f6dace"/><path d="M0.3 -4.9 -2.3 -4.7 -4.8 -5.5 -5.9 -6.8 -5.5 -8.7 -4.2 -9.7 -2.3 -10.3 0.3 -10.2 2.1 -9.4 3.2 -8.1 3.2 -6.8 1.9 -5.5 0.3 -4.9Z" fill="#f6d2c2"/></g><path d="M10.4 17.2 12.0 16.5 13.8 14.6 14.4 12.7 14.3 10.1 13.7 8.8 12.0 7.7 10.1 7.3 8.1 7.5 6.6 8.1 5.2 9.4 4.4 11.4 4.4 13.3 5.2 15.3 6.6 16.6 8.1 17.2 10.4 17.2M-14.7 0.3 -14.6 -1.0 -15.3 -1.7 -15.9 -1.5 -16.3 -0.3 -15.9 0.6 -15.3 0.8 -14.7 0.3M10.7 19.8 12.7 19.2 14.5 17.9 15.6 16.6 16.6 14.6 17.2 12.0 17.7 6.2 17.3 4.2 16.6 3.7 15.9 3.6 12.7 4.4 8.1 4.8 6.2 5.4 3.6 7.3 2.0 10.1 1.7 12.0 1.8 14.0 2.6 15.9 3.6 17.4 4.9 18.6 6.8 19.6 8.8 20.0 10.7 19.8M-14.7 2.3 -13.6 1.0 -13.4 -1.0 -13.9 -2.3 -14.4 -2.9 -15.3 -3.3 -15.9 -3.2 -16.6 -2.8 -17.2 -1.9 -17.4 0.3 -16.6 2.0 -15.9 2.4 -14.7 2.3M11.5 22.4 14.0 21.5 16.6 19.6 18.4 17.2 19.4 14.6 20.2 8.1 20.3 4.2 19.2 1.4 18.5 0.7 17.2 0.1 15.3 0.3 11.7 1.6 6.8 2.3 4.2 3.4 2.3 4.8 1.0 6.2 -0.1 8.1 -0.8 10.1 -1.0 12.7 -0.6 15.3 0.6 17.9 2.2 19.8 4.2 21.3 6.2 22.2 8.8 22.7 11.5 22.4M-14.9 3.6 -13.8 2.9 -12.9 1.6 -12.5 -1.0 -12.8 -2.3 -13.6 -3.6 -14.6 -4.3 -15.9 -4.5 -17.2 -3.6 -17.7 -2.9 -18.3 -1.6 -18.3 0.3 -18.0 1.6 -17.2 2.8 -15.9 3.6 -14.9 3.6M23.1 4.8 22.3 1.6 21.1 -0.8 19.2 -2.6 17.2 -3.2 15.3 -3.1 12.0 -2.2 5.5 -1.2 2.9 -0.2 0.3 1.4 -1.8 3.6 -3.4 6.2 -4.4 8.8 -4.8 12.0 -4.6 15.3 -3.7 17.9 -2.3 20.5 0.1 23.1M18.5 23.1 21.3 19.8 22.3 17.9 23.1 15.4M0.3 -2.8 -2.3 -2.6 -4.2 -2.7 -6.2 -3.3 -7.9 -4.2 -9.2 -5.5 -9.7 -6.8 -9.7 -8.1 -9.1 -9.4 -7.9 -10.7 -6.2 -11.7 -2.9 -12.6 1.6 -12.4 4.9 -11.0 6.0 -10.1 6.7 -8.8 6.9 -7.5 6.4 -6.2 4.2 -4.2 0.3 -2.8M-0.3 -4.2 -2.9 -4.2 -5.5 -5.3 -6.8 -6.8 -6.7 -8.1 -6.4 -8.8 -4.8 -10.1 -2.3 -10.8 0.3 -10.7 2.9 -9.7 4.1 -8.1 4.0 -6.8 3.7 -6.2 2.0 -4.9 -0.3 -4.2" fill="none" stroke="#222" stroke-opacity="0.62" stroke-width="0.45"/></g><path d="M-4.2 -20.2 L-0.8 -24.1 Q0 -25.0 0.8 -24.1 L4.2 -20.2" fill="#fff" stroke="#333" stroke-width="0.8"/><rect x="-22.5" y="-5.2" width="2.3" height="10.5" rx="0.7" fill="#f0f0f0" stroke="#3a3a3a" stroke-width="0.75"/><rect x="20.2" y="-5.2" width="2.3" height="10.5" rx="0.7" fill="#f0f0f0" stroke="#3a3a3a" stroke-width="0.75"/><circle r="20.6" fill="none" stroke="#454545" stroke-width="0.75"/></g><g transform="translate(272.3 296.4)"><clipPath id="cpb13"><circle r="20.6"/></clipPath><g clip-path="url(#cpb13)"><g filter="url(#sm)"><rect x="-24.7" y="-24.7" width="49.4" height="49.4" fill="#deeaf1"/><path d="M23.1 23.1 -23.1 23.1 -23.1 -23.1 23.1 -23.1 23.1 23.1ZM5.2 22.4 8.1 21.1 8.7 19.8 8.2 19.2 5.0 17.9 1.0 17.6 -3.1 18.5 -4.6 19.8 -4.0 21.1 -1.1 22.4 2.3 22.8 5.2 22.4Z" fill="#e8f0f3"/><path d="M23.1 23.1 13.5 23.1 16.2 21.1 17.2 19.2 16.9 16.6 16.0 15.3 15.3 14.9 10.1 15.3 2.3 14.9 -7.7 15.3 -10.1 14.5 -14.0 10.8 -15.9 9.9 -17.9 10.5 -19.0 12.0 -19.4 14.6 -18.9 17.2 -17.9 18.9 -16.1 20.5 -10.1 23.1 -23.1 23.1 -23.1 -23.1 23.1 -23.1 23.1 23.1Z" fill="#f2f4f6"/><path d="M23.1 23.1 20.8 23.1 22.3 20.5 22.2 17.2 19.8 9.4 18.5 7.4 17.2 6.5 15.9 6.4 15.0 6.8 11.2 10.7 8.8 11.9 -3.6 12.2 -5.5 12.0 -7.5 11.3 -13.3 6.0 -15.3 5.2 -17.2 5.1 -19.2 5.8 -21.1 7.5 -22.3 9.4 -23.1 12.0 -23.1 -23.1 23.1 -23.1 23.1 23.1ZM-19.8 23.1 -23.1 23.1 -23.1 17.5 -21.9 20.5 -19.6 23.1 -19.8 23.1Z" fill="#f7f3f1"/><path d="M6.2 5.6 2.3 6.1 -2.3 5.5 -4.9 4.3 -9.1 1.0 -12.7 -1.0 -17.9 -2.8 -23.1 -3.7 -23.1 -23.1 23.1 -23.1 23.1 -2.4 19.8 -2.7 16.6 -1.8 13.3 0.1 8.1 4.6 6.2 5.6Z" fill="#f7ebe5"/><path d="M-1.0 -4.8 -6.2 -5.2 -10.7 -6.8 -13.0 -8.8 -13.4 -10.1 -13.1 -11.4 -11.0 -13.3 -7.5 -14.4 -3.6 -14.3 0.3 -12.9 2.2 -11.4 3.1 -10.1 3.5 -8.8 3.5 -7.5 2.7 -6.2 1.8 -5.5 -1.0 -4.8Z" fill="#f6e2da"/></g><path d="M7.4 23.1 9.1 22.4 11.2 21.1 12.0 19.8 11.9 19.2 10.7 18.2 8.8 17.5 5.5 16.8 2.3 16.6 -3.5 17.2 -6.8 18.3 -8.2 19.2 -8.3 19.8 -7.3 21.1 -5.1 22.4 -3.3 23.1M14.1 23.1 16.6 21.1 17.6 19.2 17.4 16.6 16.8 15.3 15.9 14.5 14.6 14.3 9.4 15.0 2.3 14.7 -7.5 15.0 -10.2 14.0 -14.6 10.0 -15.9 9.5 -17.2 9.7 -18.6 10.7 -19.5 12.7 -19.7 15.3 -18.9 17.9 -17.9 19.4 -16.6 20.5 -14.3 21.8 -10.9 23.1M19.4 23.1 20.5 21.8 21.2 20.5 21.3 17.9 19.2 10.5 18.5 9.3 17.2 8.0 16.6 7.9 15.3 8.1 11.8 11.4 9.4 12.5 6.8 12.8 -4.9 12.8 -8.1 11.9 -13.3 7.0 -14.6 6.3 -16.6 6.0 -18.5 6.4 -20.6 8.1 -22.0 10.7 -22.5 13.3 -22.4 16.6 -21.6 19.2 -20.4 21.1 -18.1 23.1M23.1 10.3 21.9 6.8 20.5 4.3 19.2 3.1 17.2 2.5 15.3 2.8 13.9 3.6 8.8 9.0 7.5 9.5 5.5 9.8 -1.6 9.9 -4.9 9.4 -7.1 8.1 -12.0 3.4 -15.3 2.0 -17.9 2.0 -19.8 2.6 -21.8 3.8 -23.1 5.2M6.2 1.8 2.3 2.2 -1.6 1.4 -15.7 -4.9 -18.2 -6.8 -19.5 -8.8 -19.7 -10.7 -19.1 -12.7 -17.4 -14.6 -14.6 -16.4 -11.4 -17.5 -8.1 -18.0 -4.9 -18.1 -1.0 -17.6 2.3 -16.6 5.5 -15.1 9.0 -12.7 11.6 -10.1 13.0 -8.1 13.7 -6.2 13.4 -4.2 11.5 -1.6 8.8 0.6 6.2 1.8M-1.6 -4.8 -6.8 -5.4 -10.7 -6.8 -12.9 -8.8 -13.3 -10.1 -13.0 -11.4 -12.0 -12.6 -10.9 -13.3 -7.5 -14.3 -3.6 -14.2 0.3 -12.8 2.1 -11.4 3.0 -10.1 3.4 -8.8 3.3 -7.5 2.5 -6.2 1.6 -5.6 -1.6 -4.8" fill="none" stroke="#222" stroke-opacity="0.62" stroke-width="0.45"/></g><path d="M-4.2 -20.2 L-0.8 -24.1 Q0 -25.0 0.8 -24.1 L4.2 -20.2" fill="#fff" stroke="#333" stroke-width="0.8"/><rect x="-22.5" y="-5.2" width="2.3" height="10.5" rx="0.7" fill="#f0f0f0" stroke="#3a3a3a" stroke-width="0.75"/><rect x="20.2" y="-5.2" width="2.3" height="10.5" rx="0.7" fill="#f0f0f0" stroke="#3a3a3a" stroke-width="0.75"/><circle r="20.6" fill="none" stroke="#454545" stroke-width="0.75"/></g><g transform="translate(118.7 345.6)"><clipPath id="cpb20"><circle r="20.6"/></clipPath><g clip-path="url(#cpb20)"><g filter="url(#sm)"><rect x="-24.7" y="-24.7" width="49.4" height="49.4" fill="#368ec0"/><path d="M23.1 23.1 -23.1 23.1 -23.1 -23.1 23.1 -23.1 23.1 23.1ZM0.8 -8.1 1.4 -9.4 1.0 -10.3 -0.3 -10.9 -2.0 -10.1 -2.2 -8.8 -1.7 -8.1 -0.3 -7.8 0.8 -8.1Z" fill="#4497c5"/><path d="M23.1 23.1 -23.1 23.1 -23.1 -23.1 23.1 -23.1 23.1 23.1ZM1.1 -7.5 2.3 -8.8 2.2 -10.1 1.6 -10.9 -0.3 -11.7 -1.6 -11.4 -2.6 -10.7 -3.0 -10.1 -3.1 -8.8 -2.3 -7.7 -0.3 -7.1 1.1 -7.5Z" fill="#539fc9"/><path d="M23.1 23.1 -23.1 23.1 -23.1 -23.1 23.1 -23.1 23.1 23.1ZM1.0 -6.8 2.3 -7.6 3.1 -8.8 3.0 -10.1 2.3 -11.3 1.0 -12.1 -0.3 -12.4 -1.6 -12.2 -2.9 -11.4 -3.8 -10.1 -3.6 -8.1 -1.6 -6.8 1.0 -6.8Z" fill="#61a8ce"/><path d="M23.1 23.1 -23.1 23.1 -23.1 -23.1 23.1 -23.1 23.1 23.1ZM0.0 -6.2 1.6 -6.6 3.0 -7.5 3.8 -8.8 3.7 -10.1 2.3 -12.2 1.0 -12.8 -1.0 -13.0 -2.9 -12.3 -3.9 -11.4 -4.6 -10.1 -4.6 -8.8 -3.9 -7.5 -3.0 -6.8 -1.6 -6.3 0.0 -6.2Z" fill="#6fb0d2"/><path d="M23.1 23.1 -23.1 23.1 -23.1 -23.1 23.1 -23.1 23.1 23.1ZM1.8 -6.2 3.8 -7.5 4.5 -8.8 4.3 -10.7 3.4 -12.0 1.6 -13.3 -0.3 -13.7 -2.3 -13.4 -4.2 -12.1 -5.1 -10.7 -5.4 -9.4 -4.6 -7.5 -3.6 -6.6 -1.6 -5.9 0.3 -5.8 1.8 -6.2Z" fill="#7db8d7"/><path d="M23.1 23.1 -23.1 23.1 -23.1 -23.1 23.1 -23.1 23.1 23.1ZM1.1 -5.5 3.6 -6.6 4.9 -8.1 5.3 -9.4 4.8 -11.4 3.6 -12.9 1.6 -14.1 -1.0 -14.4 -2.9 -13.9 -4.7 -12.7 -5.6 -11.4 -6.1 -9.4 -5.8 -8.1 -4.7 -6.8 -2.9 -5.8 -1.0 -5.4 1.1 -5.5Z" fill="#8bc1dc"/><path d="M23.1 23.1 -23.1 23.1 -23.1 -23.1 23.1 -23.1 23.1 23.1ZM2.4 -5.5 4.7 -6.8 6.0 -8.8 5.7 -11.4 4.3 -13.3 2.3 -14.6 -0.3 -15.2 -2.9 -14.7 -5.1 -13.3 -6.2 -12.0 -6.9 -10.1 -6.9 -8.8 -6.2 -7.5 -4.6 -6.2 -2.3 -5.2 0.3 -5.0 2.4 -5.5Z" fill="#97c8df"/><path d="M23.1 23.1 -23.1 23.1 -23.1 -6.3 -21.8 -5.9 -19.8 -6.2 -18.0 -7.5 -17.5 -8.8 -18.0 -10.7 -19.8 -12.3 -21.8 -12.1 -23.1 -10.9 -23.1 -23.1 23.1 -23.1 23.1 23.1ZM1.6 -4.9 4.7 -6.2 6.7 -8.1 7.1 -10.1 6.1 -12.7 3.6 -15.1 1.0 -16.0 -2.3 -15.9 -4.9 -14.8 -6.5 -13.3 -7.7 -11.4 -8.0 -9.4 -7.6 -8.1 -6.4 -6.8 -3.6 -5.2 -1.0 -4.7 1.6 -4.9ZM20.7 -6.2 21.8 -6.5 22.6 -7.5 22.8 -9.4 21.4 -12.0 20.5 -12.7 19.2 -12.9 17.9 -12.2 17.2 -11.4 16.6 -10.1 16.5 -8.8 17.1 -7.5 17.9 -6.8 19.2 -6.3 20.7 -6.2Z" fill="#a1cde2"/><path d="M23.1 23.1 -23.1 23.1 -23.1 -4.2 -19.8 -4.6 -16.7 -6.2 -14.6 -8.1 -14.1 -10.1 -15.6 -14.0 -17.9 -16.7 -20.5 -17.7 -23.1 -16.9 -23.1 -23.1 23.1 -23.1 23.1 -15.2 21.8 -16.3 20.5 -16.9 19.2 -17.0 17.8 -16.6 16.6 -15.7 15.1 -14.0 14.1 -12.0 13.7 -10.1 13.9 -8.8 14.7 -7.5 17.2 -5.6 20.5 -4.7 23.1 -5.1 23.1 23.1ZM3.0 -4.9 6.6 -6.8 7.9 -8.1 8.6 -9.4 8.6 -10.7 7.8 -12.7 6.3 -14.6 4.9 -15.8 1.6 -17.2 -2.3 -17.2 -5.5 -15.9 -8.4 -13.3 -9.7 -10.7 -9.7 -9.4 -9.0 -8.1 -7.5 -6.8 -4.9 -5.3 -2.3 -4.5 0.3 -4.3 3.0 -4.9Z" fill="#abd2e4"/><path d="M10.1 -17.2 8.8 -17.3 4.2 -19.6 0.3 -20.4 -2.9 -20.2 -8.8 -18.3 -10.1 -18.3 -11.4 -19.4 -13.9 -23.1 16.1 -23.1 14.0 -21.5 11.4 -18.3 10.1 -17.2ZM23.1 23.1 -23.1 23.1 -23.1 -3.0 -19.2 -3.7 -12.0 -7.2 -10.1 -7.2 -4.2 -4.6 -0.3 -3.9 3.6 -4.7 8.8 -7.2 10.7 -7.7 12.0 -7.4 18.5 -4.1 20.5 -3.7 23.1 -3.8 23.1 23.1Z" fill="#b5d6e7"/><path d="M1.0 21.8 -2.3 21.7 -5.6 21.1 -7.2 20.5 -11.3 17.9 -23.1 14.8 -23.1 -1.9 -19.8 -2.5 -13.3 -5.5 -10.7 -6.0 -8.8 -5.7 -3.6 -3.9 -0.3 -3.5 2.9 -4.0 8.8 -6.1 10.7 -6.3 12.7 -5.8 18.5 -3.2 23.1 -2.7 23.1 15.3 11.8 17.9 6.2 20.9 1.0 21.8Z" fill="#bfdce9"/><path d="M2.9 17.2 -1.6 17.4 -9.4 16.3 -15.9 15.0 -23.1 13.2 -23.1 -0.8 -19.8 -1.5 -13.3 -4.5 -10.7 -5.1 -8.1 -4.8 -2.9 -3.4 -0.3 -3.1 2.9 -3.6 8.1 -5.2 10.7 -5.3 19.2 -2.2 23.1 -1.7 23.1 13.6 14.0 15.7 2.9 17.2Z" fill="#cae0ec"/><path d="M10.1 15.3 0.3 15.8 -8.1 15.3 -14.6 14.3 -23.1 11.8 -23.1 0.4 -19.8 -0.5 -13.3 -3.6 -10.1 -4.3 -0.3 -2.7 2.9 -3.1 8.1 -4.4 10.1 -4.5 12.7 -3.9 19.2 -1.3 23.1 -0.7 23.1 12.3 15.9 14.3 10.1 15.3Z" fill="#d4e6ee"/><path d="M8.1 14.7 -1.6 14.8 -10.1 14.3 -15.3 13.2 -22.1 10.7 -23.1 10.3 -23.1 2.0 -19.8 0.8 -13.3 -2.7 -9.4 -3.6 -0.3 -2.2 2.3 -2.5 7.5 -3.7 10.1 -3.7 12.7 -3.1 19.2 -0.3 23.1 0.5 23.1 11.1 14.6 13.8 8.1 14.7Z" fill="#deeaf1"/><path d="M13.3 13.3 8.8 13.9 -0.3 13.9 -8.8 13.6 -12.7 13.0 -18.7 10.7 -22.9 8.1 -23.1 4.5 -14.6 -1.1 -10.7 -2.6 -8.1 -2.8 -0.3 -1.7 8.1 -3.0 11.4 -2.6 19.2 0.8 23.1 2.0 23.1 9.6 17.5 12.0 13.3 13.3Z" fill="#e8f0f3"/><path d="M12.7 12.8 8.1 13.3 -11.4 12.6 -14.6 11.5 -17.1 10.1 -19.2 8.1 -19.7 6.2 -18.6 4.2 -15.5 1.0 -13.3 -0.6 -10.9 -1.6 -8.1 -1.9 -0.3 -1.0 7.5 -2.1 10.1 -2.0 14.0 -0.6 21.7 3.6 23.1 4.7 23.1 7.0 21.2 8.8 16.7 11.4 12.7 12.8Z" fill="#f2f4f6"/><path d="M12.7 12.2 8.8 12.7 0.3 12.0 -8.8 12.1 -11.4 11.9 -14.0 10.9 -15.8 9.4 -16.6 8.1 -16.9 6.2 -16.1 4.2 -14.0 1.7 -12.2 0.3 -10.1 -0.6 -7.5 -0.8 -0.3 -0.1 6.8 -1.1 10.1 -0.9 13.3 0.3 16.3 2.3 18.6 4.2 19.7 6.2 19.4 7.5 17.9 9.4 15.3 11.2 12.7 12.2Z" fill="#f7f3f1"/><path d="M9.4 12.0 -1.0 10.4 -3.6 10.4 -8.8 11.4 -11.4 11.1 -12.7 10.6 -14.2 9.4 -15.0 8.1 -15.0 6.2 -14.0 4.2 -12.7 2.8 -10.7 1.6 -9.0 1.0 -6.8 0.8 -0.3 1.4 6.8 0.3 10.1 0.5 12.7 1.5 15.3 3.3 16.7 4.9 17.4 6.8 16.7 8.8 14.6 10.7 12.0 11.7 9.4 12.0Z" fill="#f7ebe5"/><path d="M10.1 11.4 8.1 11.3 5.8 10.7 2.9 8.8 2.3 7.5 2.5 6.2 3.1 4.9 4.9 3.2 7.5 2.2 10.7 2.3 13.3 3.4 15.4 5.5 15.8 7.5 14.9 9.4 12.7 10.8 10.1 11.4ZM-7.5 10.2 -10.7 10.5 -12.9 9.4 -13.8 7.5 -13.6 6.2 -12.7 4.8 -10.7 3.6 -8.8 3.3 -6.8 3.9 -5.7 4.9 -4.7 6.8 -4.9 8.1 -6.0 9.4 -7.5 10.2Z" fill="#f6e2da"/><path d="M10.1 10.8 6.7 10.1 5.7 9.4 4.9 8.1 4.9 6.8 5.5 5.5 6.8 4.3 8.1 3.7 10.1 3.5 12.0 4.0 14.0 5.5 14.6 6.8 14.5 8.1 13.6 9.4 12.0 10.4 10.1 10.8ZM-8.8 9.6 -10.7 9.6 -12.1 8.8 -12.5 8.1 -12.5 6.8 -11.4 5.4 -9.4 5.0 -8.1 5.5 -7.4 6.2 -7.1 8.1 -7.5 8.8 -8.8 9.6Z" fill="#f6dace"/><path d="M12.0 9.5 9.4 10.1 7.5 9.4 6.5 8.1 6.8 6.2 8.1 5.1 9.4 4.7 12.0 5.2 13.1 6.2 13.5 7.5 13.0 8.8 12.0 9.5ZM-9.4 8.3 -10.8 8.1 -11.0 7.5 -10.7 6.9 -10.1 6.7 -9.3 6.8 -9.0 7.5 -9.4 8.3Z" fill="#f6d2c2"/><path d="M11.4 8.8 10.1 9.1 8.6 8.8 8.0 8.1 8.1 6.8 9.4 5.9 11.4 6.2 12.2 7.5 11.4 8.8Z" fill="#f5cab7"/></g><path d="M1.4 -6.8 2.5 -7.5 3.3 -8.8 3.2 -10.1 2.3 -11.6 1.0 -12.4 -0.3 -12.6 -2.3 -12.2 -3.3 -11.4 -4.2 -9.4 -3.8 -8.1 -3.3 -7.5 -2.3 -6.8 -1.0 -6.5 1.4 -6.8M1.9 -5.5 4.3 -6.8 5.6 -8.8 5.5 -10.7 4.4 -12.7 2.3 -14.3 0.3 -14.8 -2.3 -14.6 -4.6 -13.3 -5.8 -12.0 -6.5 -10.1 -6.5 -8.8 -5.8 -7.5 -4.2 -6.2 -2.3 -5.4 -0.3 -5.2 1.9 -5.5M-22.9 -23.1 -23.1 -23.0M23.1 -20.4 20.5 -21.5 18.5 -21.4 17.2 -21.0 14.6 -19.2 11.4 -14.9 10.7 -14.5 9.4 -14.8 6.8 -16.8 4.2 -18.4 0.3 -19.3 -1.6 -19.2 -4.2 -18.7 -9.4 -15.9 -10.7 -15.5 -12.0 -16.3 -15.5 -21.1 -18.3 -23.1M-23.1 -3.2 -20.5 -3.5 -18.5 -4.2 -12.0 -7.7 -10.1 -7.5 -3.6 -4.5 -0.3 -4.0 3.6 -4.8 9.4 -7.9 10.7 -8.2 12.0 -7.9 15.8 -5.5 18.5 -4.3 20.5 -3.9 23.1 -4.0M-23.1 0.5 -19.8 -0.4 -13.3 -3.6 -10.1 -4.3 -8.1 -4.2 -2.9 -2.9 -0.3 -2.7 2.9 -3.1 8.1 -4.4 10.1 -4.5 12.7 -3.9 19.2 -1.3 23.1 -0.6M23.1 12.3 16.6 14.1 12.0 15.0 6.8 15.6 -0.3 15.8 -6.2 15.5 -12.0 14.8 -17.2 13.6 -23.1 11.8M12.0 12.8 8.1 13.1 -11.4 12.4 -14.4 11.4 -17.4 9.4 -18.8 7.5 -18.9 6.2 -17.9 4.2 -15.6 1.6 -13.2 -0.3 -10.7 -1.4 -7.5 -1.7 -0.3 -0.8 7.5 -1.9 10.7 -1.6 13.9 -0.3 20.5 3.6 22.1 4.9 22.4 5.5 22.5 6.2 21.8 7.5 19.6 9.4 15.9 11.5 12.0 12.8M12.0 10.8 10.1 11.1 8.1 11.0 6.2 10.4 4.7 9.4 3.8 7.5 4.0 6.2 4.7 4.9 6.8 3.3 8.8 2.8 11.4 3.1 13.6 4.2 15.1 6.2 15.1 8.1 14.0 9.7 12.0 10.8M-8.8 10.1 -11.4 9.9 -12.2 9.4 -13.2 8.1 -13.2 6.8 -12.7 5.7 -10.7 4.3 -9.4 4.2 -8.1 4.4 -6.7 5.5 -6.0 6.8 -6.1 8.1 -6.5 8.8 -7.5 9.6 -8.8 10.1" fill="none" stroke="#222" stroke-opacity="0.62" stroke-width="0.45"/></g><path d="M-4.2 -20.2 L-0.8 -24.1 Q0 -25.0 0.8 -24.1 L4.2 -20.2" fill="#fff" stroke="#333" stroke-width="0.8"/><rect x="-22.5" y="-5.2" width="2.3" height="10.5" rx="0.7" fill="#f0f0f0" stroke="#3a3a3a" stroke-width="0.75"/><rect x="20.2" y="-5.2" width="2.3" height="10.5" rx="0.7" fill="#f0f0f0" stroke="#3a3a3a" stroke-width="0.75"/><circle r="20.6" fill="none" stroke="#454545" stroke-width="0.75"/></g><g transform="translate(170.0 345.6)"><clipPath id="cpb21"><circle r="20.6"/></clipPath><g clip-path="url(#cpb21)"><g filter="url(#sm)"><rect x="-24.7" y="-24.7" width="49.4" height="49.4" fill="#f4b194"/><path d="M23.1 23.1 -23.1 23.1 -23.1 -23.1 23.1 -23.1 23.1 23.1ZM-18.9 -1.0 -17.9 -1.9 -17.6 -3.6 -18.5 -5.1 -19.8 -5.4 -21.3 -4.2 -21.4 -2.3 -20.5 -1.1 -18.9 -1.0ZM20.7 -1.6 21.0 -2.3 20.6 -3.6 19.4 -3.6 19.0 -2.9 19.2 -1.7 19.8 -1.2 20.7 -1.6Z" fill="#f4a988"/><path d="M23.1 23.1 -23.1 23.1 -23.1 -23.1 23.1 -23.1 23.1 23.1ZM-18.0 -0.3 -16.8 -2.3 -16.7 -3.6 -17.1 -4.9 -18.5 -6.3 -20.5 -6.3 -21.6 -5.5 -22.3 -4.2 -22.5 -2.9 -22.2 -1.6 -20.5 0.0 -19.2 0.2 -18.0 -0.3ZM21.1 -0.3 22.0 -1.6 21.9 -3.6 20.8 -4.9 19.2 -4.9 18.1 -3.6 18.0 -1.6 19.2 -0.2 19.8 0.0 21.1 -0.3Z" fill="#f29d7d"/><path d="M23.1 23.1 -23.1 23.1 -23.1 -2.1 -21.8 0.2 -20.5 0.9 -19.2 1.0 -17.9 0.5 -16.9 -0.3 -16.0 -2.9 -16.6 -5.5 -17.9 -6.8 -19.2 -7.3 -20.5 -7.2 -21.8 -6.4 -23.1 -4.1 -23.1 -23.1 23.1 -23.1 23.1 23.1ZM21.6 0.3 22.7 -1.6 22.4 -4.2 21.1 -5.7 19.2 -5.8 17.9 -4.9 17.3 -3.6 17.5 -1.0 18.4 0.3 19.2 0.8 20.5 0.9 21.6 0.3Z" fill="#ee8c73"/><path d="M23.1 23.1 -23.1 23.1 -23.1 -0.3 -21.1 1.4 -19.8 1.7 -18.5 1.6 -17.2 0.9 -16.1 -0.3 -15.3 -2.9 -15.6 -4.9 -16.2 -6.2 -17.2 -7.2 -18.5 -7.9 -19.8 -8.0 -21.1 -7.7 -23.1 -5.9 -23.1 -23.1 23.1 -23.1 23.1 -4.3 21.6 -6.2 20.5 -6.6 19.2 -6.6 17.2 -5.0 16.6 -2.3 17.2 -0.1 19.2 1.5 20.5 1.6 21.8 1.0 23.1 -0.8 23.1 23.1Z" fill="#ea7c69"/><path d="M23.1 23.1 -23.1 23.1 -23.1 0.7 -21.8 1.8 -20.5 2.3 -17.9 2.0 -15.8 0.3 -15.1 -1.0 -14.7 -2.9 -15.5 -6.2 -16.6 -7.5 -17.9 -8.4 -20.5 -8.6 -21.8 -8.1 -23.1 -7.0 -23.1 -23.1 23.1 -23.1 23.1 -5.5 21.1 -7.1 19.8 -7.3 18.5 -7.0 17.4 -6.2 16.6 -5.0 16.0 -2.3 16.8 0.3 18.5 1.9 19.8 2.3 21.1 2.1 23.1 0.5 23.1 23.1Z" fill="#e56b60"/><path d="M23.1 23.1 -23.1 23.1 -23.1 1.6 -20.5 3.0 -18.5 2.9 -17.2 2.4 -15.1 0.3 -14.2 -2.9 -14.9 -6.2 -15.9 -7.7 -17.2 -8.7 -18.5 -9.3 -20.5 -9.3 -23.1 -7.9 -23.1 -23.1 23.1 -23.1 23.1 -6.4 21.8 -7.5 20.5 -7.9 18.2 -7.5 16.3 -5.5 15.5 -2.3 15.9 -0.3 16.6 0.9 18.5 2.6 19.8 2.9 21.1 2.7 23.1 1.4 23.1 23.1Z" fill="#e15b56"/><path d="M23.1 23.1 -23.1 23.1 -23.1 2.4 -20.5 3.6 -18.5 3.5 -17.2 3.0 -15.9 2.1 -14.6 0.5 -13.6 -2.9 -14.2 -6.2 -15.3 -7.9 -16.6 -9.1 -17.9 -9.7 -19.8 -10.0 -21.8 -9.5 -23.1 -8.7 -23.1 -23.1 23.1 -23.1 23.1 -7.2 21.8 -8.2 20.5 -8.5 17.9 -8.0 16.6 -6.9 15.7 -5.5 15.0 -2.3 15.9 0.8 17.9 2.8 20.5 3.4 21.8 3.1 23.1 2.2 23.1 23.1Z" fill="#dd4a4c"/><path d="M23.1 23.1 -23.1 23.1 -23.1 3.1 -21.8 3.8 -19.8 4.2 -17.9 3.9 -16.6 3.3 -15.3 2.3 -14.0 0.5 -13.1 -2.9 -13.2 -4.9 -13.9 -6.8 -15.3 -8.7 -16.6 -9.8 -17.9 -10.4 -19.8 -10.6 -21.8 -10.2 -23.1 -9.4 -23.1 -23.1 23.1 -23.1 23.1 -8.0 20.5 -9.1 18.5 -8.9 17.2 -8.2 15.9 -6.9 15.1 -5.5 14.5 -2.3 15.4 1.0 16.6 2.5 17.9 3.5 20.5 4.0 23.1 2.9 23.1 23.1Z" fill="#d93a42"/><path d="M23.1 23.1 -23.1 23.1 -23.1 3.8 -21.8 4.5 -19.8 4.8 -17.9 4.5 -16.0 3.6 -13.6 1.0 -12.8 -1.0 -12.5 -2.9 -12.6 -4.9 -13.3 -6.8 -14.5 -8.8 -15.9 -10.1 -17.2 -10.8 -19.2 -11.2 -21.1 -11.1 -23.1 -10.2 -23.1 -23.1 23.1 -23.1 23.1 -8.7 20.5 -9.7 18.5 -9.5 17.2 -8.9 15.9 -7.8 14.9 -6.2 14.1 -2.9 14.2 -1.0 14.9 1.0 17.1 3.6 19.8 4.6 21.8 4.3 23.1 3.6 23.1 23.1Z" fill="#d42938"/><path d="M23.1 23.1 -23.1 23.1 -23.1 4.5 -21.1 5.3 -19.2 5.4 -17.2 4.9 -15.3 3.7 -13.8 2.3 -12.7 0.3 -11.9 -3.6 -12.9 -7.5 -14.3 -9.4 -15.9 -10.8 -19.2 -11.9 -21.1 -11.7 -23.1 -10.9 -23.1 -23.1 23.1 -23.1 23.1 -9.4 21.8 -10.0 19.8 -10.4 17.0 -9.4 14.6 -6.8 13.8 -4.9 13.5 -2.9 13.7 -1.0 14.3 1.0 16.6 3.9 17.9 4.6 19.8 5.1 21.8 4.9 23.1 4.3 23.1 23.1Z" fill="#d0192f"/><path d="M23.1 23.1 -23.1 23.1 -23.1 5.2 -21.1 5.9 -19.2 6.0 -17.2 5.5 -15.3 4.4 -13.7 2.9 -12.3 1.0 -11.6 -1.0 -11.3 -3.6 -11.7 -6.2 -12.6 -8.1 -15.3 -11.2 -17.2 -12.2 -19.2 -12.6 -21.1 -12.4 -23.1 -11.7 -23.1 -23.1 23.1 -23.1 23.1 -10.1 21.8 -10.7 19.8 -11.0 17.9 -10.6 16.6 -9.9 15.3 -8.7 14.0 -6.8 13.0 -2.9 13.8 1.0 14.9 2.9 16.2 4.2 17.9 5.2 19.8 5.7 21.8 5.5 23.1 4.9 23.1 23.1Z" fill="#cc0825"/></g><path d="M-23.1 -0.9 -22.2 0.3 -21.1 1.1 -19.8 1.5 -18.5 1.3 -17.2 0.6 -16.4 -0.3 -15.6 -2.9 -15.9 -4.9 -16.6 -6.2 -18.5 -7.6 -19.8 -7.7 -21.1 -7.4 -22.4 -6.4 -23.1 -5.3M23.1 -3.4 22.5 -4.9 21.8 -5.7 19.8 -6.4 18.5 -6.0 17.5 -4.9 16.9 -3.6 16.8 -2.3 17.1 -1.0 17.8 0.3 18.7 1.0 19.8 1.3 21.8 0.7 22.6 -0.3 23.1 -1.6M-23.1 2.5 -21.8 3.3 -19.8 3.7 -18.5 3.6 -16.9 2.9 -15.3 1.6 -14.4 0.3 -13.5 -2.9 -14.1 -6.2 -15.3 -8.0 -16.6 -9.2 -17.9 -9.8 -19.8 -10.1 -21.8 -9.6 -23.1 -8.8M23.1 -7.3 21.8 -8.2 20.5 -8.6 19.2 -8.6 17.9 -8.1 16.6 -7.0 15.6 -5.5 15.0 -2.3 15.3 -0.3 15.9 1.0 17.9 2.9 19.2 3.4 20.5 3.5 21.8 3.2 23.1 2.3M-23.1 5.0 -21.1 5.7 -19.2 5.8 -17.2 5.3 -15.3 4.2 -13.9 2.9 -12.5 1.0 -11.8 -1.0 -11.5 -3.6 -11.7 -5.5 -12.4 -7.5 -13.7 -9.4 -15.3 -10.9 -17.2 -12.0 -19.2 -12.4 -21.1 -12.2 -23.1 -11.4M23.1 -9.9 21.8 -10.5 19.8 -10.8 17.9 -10.4 16.6 -9.7 15.3 -8.5 14.2 -6.8 13.5 -4.9 13.2 -2.9 13.3 -1.0 13.9 1.0 15.1 2.9 16.4 4.2 17.9 5.1 19.8 5.5 21.8 5.3 23.1 4.7M-23.1 7.7 -21.1 8.2 -18.5 8.0 -15.9 7.0 -14.0 5.8 -11.6 3.6 -9.8 1.0 -8.9 -1.0 -8.5 -3.6 -8.9 -6.2 -10.1 -8.8 -12.0 -11.4 -14.0 -13.2 -15.9 -14.3 -18.5 -15.0 -21.1 -15.0 -23.1 -14.4M23.1 -12.6 21.1 -13.2 19.2 -13.3 17.2 -12.8 15.3 -11.7 13.6 -10.1 12.3 -8.1 11.3 -5.5 10.9 -2.9 11.1 -1.0 12.0 1.6 13.1 3.6 14.9 5.5 17.2 7.1 19.2 7.7 21.1 7.8 23.1 7.3M23.1 -17.4 19.2 -17.8 15.9 -17.1 13.3 -15.6 8.8 -11.8 7.5 -11.3 6.2 -11.6 2.9 -13.2 1.0 -13.7 -1.0 -13.9 -4.9 -13.5 -6.2 -13.7 -8.1 -14.7 -12.7 -18.1 -15.9 -19.5 -19.8 -20.0 -23.1 -19.5M-23.1 11.7 -19.8 11.5 -16.6 10.3 -8.1 4.2 -6.2 3.2 -4.2 2.9 1.0 3.0 6.2 1.8 8.1 2.5 13.2 7.5 16.6 9.7 19.8 10.9 23.1 11.0M3.6 21.8 -0.3 22.1 -4.2 21.9 -8.1 21.3 -10.7 20.4 -12.7 19.3 -14.1 17.9 -14.7 15.9 -14.4 14.0 -13.2 12.0 -11.3 10.1 -9.4 8.7 -6.8 7.7 -4.2 7.5 4.2 8.1 7.5 8.9 10.1 10.4 12.6 12.7 13.8 14.6 13.9 16.6 12.7 18.4 10.6 19.8 7.5 21.0 3.6 21.8" fill="none" stroke="#222" stroke-opacity="0.62" stroke-width="0.45"/></g><path d="M-4.2 -20.2 L-0.8 -24.1 Q0 -25.0 0.8 -24.1 L4.2 -20.2" fill="#fff" stroke="#333" stroke-width="0.8"/><rect x="-22.5" y="-5.2" width="2.3" height="10.5" rx="0.7" fill="#f0f0f0" stroke="#3a3a3a" stroke-width="0.75"/><rect x="20.2" y="-5.2" width="2.3" height="10.5" rx="0.7" fill="#f0f0f0" stroke="#3a3a3a" stroke-width="0.75"/><circle r="20.6" fill="none" stroke="#454545" stroke-width="0.75"/></g><g transform="translate(221.2 345.6)"><clipPath id="cpb22"><circle r="20.6"/></clipPath><g clip-path="url(#cpb22)"><g filter="url(#sm)"><rect x="-24.7" y="-24.7" width="49.4" height="49.4" fill="#6fb0d2"/><path d="M23.1 23.1 7.9 23.1 8.4 22.4 8.3 21.8 6.8 20.7 4.2 20.0 1.0 19.7 -2.9 20.1 -5.5 21.1 -6.1 21.8 -6.0 22.4 -5.2 23.1 -23.1 23.1 -23.1 -23.1 23.1 -23.1 23.1 23.1Z" fill="#7db8d7"/><path d="M23.1 23.1 11.0 23.1 11.3 22.4 10.8 21.1 8.8 19.9 5.5 19.1 1.0 18.8 -3.6 19.2 -6.8 20.1 -8.4 21.1 -8.7 21.8 -8.0 23.1 -23.1 23.1 -23.1 -23.1 23.1 -23.1 23.1 23.1Z" fill="#8bc1dc"/><path d="M23.1 23.1 13.4 23.1 13.5 21.8 13.2 21.1 10.7 19.5 6.8 18.4 1.6 18.0 -4.6 18.5 -8.8 19.7 -10.5 21.1 -10.7 21.9 -10.2 23.1 -23.1 23.1 -23.1 -23.1 23.1 -23.1 23.1 23.1Z" fill="#97c8df"/><path d="M23.1 23.1 15.5 23.1 15.6 21.8 15.3 21.1 14.0 19.8 12.7 19.1 8.1 17.8 1.6 17.3 -4.9 17.8 -9.9 19.2 -11.4 20.0 -12.4 21.1 -12.5 21.8 -12.1 23.1 -23.1 23.1 -23.1 -23.1 23.1 -23.1 23.1 23.1Z" fill="#a1cce2"/><path d="M23.1 23.1 17.4 23.1 17.5 21.8 16.6 20.2 14.6 18.9 12.1 17.9 7.5 16.9 2.3 16.6 -4.9 17.1 -10.6 18.5 -13.7 20.5 -14.2 21.8 -13.8 23.1 -23.1 23.1 -23.1 -23.1 23.1 -23.1 23.1 23.1Z" fill="#abd2e4"/><path d="M23.1 23.1 19.3 23.1 19.2 21.1 18.2 19.8 16.4 18.5 14.0 17.5 8.8 16.4 2.3 16.0 -6.2 16.7 -12.0 18.2 -13.9 19.2 -15.3 20.5 -15.8 21.8 -15.4 23.1 -23.1 23.1 -23.1 -23.1 23.1 -23.1 23.1 23.1Z" fill="#b5d6e7"/><path d="M23.1 23.1 21.2 23.1 21.1 21.1 20.2 19.8 18.6 18.5 16.0 17.2 10.1 15.8 2.9 15.3 -4.9 15.8 -11.4 17.1 -14.6 18.4 -16.5 19.8 -17.3 21.1 -17.0 23.1 -23.1 23.1 -23.1 -23.1 23.1 -23.1 23.1 23.1Z" fill="#bfdce9"/><path d="M-19.2 23.1 -23.1 23.1 -23.1 -23.1 23.1 -23.1 23.1 21.4 22.3 19.8 20.9 18.5 15.9 16.2 8.8 14.8 1.0 14.6 -8.1 15.6 -14.2 17.2 -16.7 18.5 -18.2 19.8 -18.9 21.1 -18.7 23.1 -19.2 23.1Z" fill="#cae0ec"/><path d="M-20.5 23.1 -23.1 23.1 -23.1 -23.1 23.1 -23.1 23.1 18.5 18.5 16.0 12.0 14.4 4.9 13.8 -3.6 14.3 -11.4 15.5 -16.6 17.3 -18.6 18.5 -20.0 19.8 -20.6 21.1 -20.5 23.1Z" fill="#d4e6ee"/><path d="M-22.4 23.1 -23.1 23.1 -23.1 -23.1 23.1 -23.1 23.1 16.7 17.2 14.4 9.4 13.1 1.6 13.1 -8.8 14.1 -15.3 15.7 -19.8 17.9 -21.3 19.2 -22.2 20.5 -22.4 23.1Z" fill="#deeaf1"/><path d="M-23.1 18.6 -23.1 -23.1 23.1 -23.1 23.1 15.1 18.5 13.5 12.7 12.4 7.5 12.0 1.6 12.2 -9.4 13.3 -14.0 14.2 -19.8 16.3 -23.1 18.6Z" fill="#e8f0f3"/><path d="M-22.4 16.0 -23.1 16.4 -23.1 -23.1 23.1 -23.1 23.1 13.3 14.6 11.3 6.8 10.9 -12.0 12.5 -17.2 13.8 -22.4 16.0Z" fill="#f2f4f6"/><path d="M-21.8 13.4 -23.1 14.0 -23.1 -23.1 23.1 -23.1 23.1 11.0 16.6 9.6 10.7 9.1 -3.6 11.1 -12.7 10.9 -16.6 11.7 -21.8 13.4Z" fill="#f7f3f1"/><path d="M-2.9 10.1 -7.5 9.9 -14.6 7.0 -17.2 7.3 -23.1 8.9 -23.1 -23.1 23.1 -23.1 23.1 6.0 14.6 5.0 6.8 8.1 -2.9 10.1Z" fill="#f7ebe5"/><path d="M-1.0 8.8 -3.6 9.3 -5.5 9.3 -7.5 8.7 -9.4 7.5 -10.9 5.5 -11.7 3.6 -12.4 0.3 -12.4 -2.9 -11.9 -6.2 -11.1 -8.8 -9.6 -11.4 -8.1 -13.1 -4.2 -15.7 -1.6 -16.4 1.0 -16.5 2.9 -16.1 5.5 -15.1 9.1 -12.0 10.4 -10.1 11.6 -7.5 12.1 -4.9 12.2 -2.3 11.3 1.6 8.9 4.9 5.6 6.8 -1.0 8.8Z" fill="#f6e2da"/><path d="M-2.9 8.3 -4.9 8.4 -6.8 7.9 -8.3 6.8 -9.3 5.5 -10.6 1.6 -10.3 -3.6 -8.8 -8.4 -6.2 -11.9 -4.2 -13.2 -2.3 -14.0 1.6 -14.1 3.6 -13.5 5.5 -12.4 8.4 -9.4 10.0 -5.5 10.1 -1.6 8.9 1.6 6.8 3.7 -0.6 7.5 -2.9 8.3Z" fill="#f6dace"/><path d="M-2.3 6.9 -4.9 7.4 -6.2 7.0 -7.5 6.2 -8.4 4.9 -9.2 2.9 -9.2 -1.0 -7.2 -6.8 -5.3 -10.1 -2.3 -12.0 1.0 -12.3 4.2 -11.1 6.8 -8.6 8.5 -5.5 8.7 -2.3 7.9 -0.3 6.8 0.9 5.5 1.5 2.3 2.2 -0.4 5.5 -2.3 6.9Z" fill="#f6d2c2"/><path d="M-4.2 6.2 -6.2 5.8 -7.6 4.2 -8.1 1.6 -7.7 -1.0 -4.9 -7.5 -3.6 -9.4 -1.0 -10.7 1.6 -10.5 3.7 -9.4 6.2 -6.8 7.3 -4.2 7.1 -2.3 5.5 -0.8 1.6 -1.1 0.3 -0.6 -0.4 0.3 -1.2 3.6 -1.9 4.9 -2.9 5.8 -4.2 6.2Z" fill="#f5cab7"/><path d="M-1.0 -2.9 -2.3 -2.7 -3.0 -2.9 -3.5 -4.9 -3.2 -6.8 -2.5 -8.1 -1.0 -9.1 0.3 -9.2 1.6 -8.8 2.9 -7.9 4.3 -6.2 5.0 -4.9 4.9 -3.7 4.2 -3.4 -1.0 -2.9ZM-4.2 4.6 -5.8 4.2 -6.7 2.3 -6.2 0.0 -4.2 -1.5 -3.6 -1.5 -3.3 -1.0 -2.7 1.6 -3.1 3.6 -4.2 4.6Z" fill="#f5c2ab"/></g><path d="M13.8 23.1 13.9 21.8 13.6 21.1 12.0 19.8 10.7 19.2 6.8 18.3 1.6 17.9 -4.2 18.3 -8.8 19.5 -10.9 21.1 -11.0 22.4 -10.6 23.1M19.3 23.1 19.4 21.8 18.8 20.5 17.4 19.2 14.9 17.9 9.4 16.5 2.3 16.0 -6.2 16.7 -12.0 18.2 -13.9 19.2 -15.3 20.5 -15.8 21.8 -15.4 23.1M23.1 18.9 21.7 17.9 19.2 16.5 13.3 14.8 6.2 14.0 -2.3 14.3 -10.7 15.5 -16.6 17.5 -18.5 18.8 -19.8 20.3 -20.3 21.8 -20.0 23.1M23.1 14.1 18.5 12.7 13.3 11.8 8.8 11.4 4.2 11.5 -12.7 13.2 -18.5 14.9 -23.1 17.3M-1.0 9.5 -4.2 9.9 -6.8 9.7 -9.2 8.8 -11.7 6.8 -13.1 4.9 -14.2 1.6 -14.6 -1.0 -14.5 -4.2 -14.1 -6.8 -13.0 -10.1 -11.6 -12.7 -9.4 -15.2 -7.5 -16.7 -4.9 -18.1 -2.3 -18.8 1.0 -19.0 4.2 -18.3 6.2 -17.5 8.8 -15.8 11.1 -13.3 12.4 -11.4 13.8 -8.1 14.3 -5.5 14.4 -2.3 14.2 -0.3 13.2 2.3 11.9 4.2 10.5 5.5 8.4 6.8 6.2 7.7 -1.0 9.5M-2.9 7.0 -4.9 7.2 -6.2 6.9 -8.1 5.1 -9.1 2.3 -8.8 -1.6 -6.6 -7.5 -4.9 -10.1 -3.6 -11.1 -1.6 -11.9 1.6 -11.9 4.2 -10.7 6.8 -8.1 8.2 -5.5 8.6 -3.6 8.4 -2.3 8.0 -1.0 6.8 0.5 5.5 1.1 2.0 1.6 -0.7 5.5 -2.9 7.0" fill="none" stroke="#222" stroke-opacity="0.62" stroke-width="0.45"/></g><path d="M-4.2 -20.2 L-0.8 -24.1 Q0 -25.0 0.8 -24.1 L4.2 -20.2" fill="#fff" stroke="#333" stroke-width="0.8"/><rect x="-22.5" y="-5.2" width="2.3" height="10.5" rx="0.7" fill="#f0f0f0" stroke="#3a3a3a" stroke-width="0.75"/><rect x="20.2" y="-5.2" width="2.3" height="10.5" rx="0.7" fill="#f0f0f0" stroke="#3a3a3a" stroke-width="0.75"/><circle r="20.6" fill="none" stroke="#454545" stroke-width="0.75"/></g><g transform="translate(272.3 345.6)"><clipPath id="cpb23"><circle r="20.6"/></clipPath><g clip-path="url(#cpb23)"><g filter="url(#sm)"><rect x="-24.7" y="-24.7" width="49.4" height="49.4" fill="#0c75b2"/><path d="M23.1 23.1 -23.1 23.1 -23.1 -23.1 23.1 -23.1 23.1 23.1ZM5.8 22.4 6.4 21.8 6.2 21.1 3.6 20.3 0.3 20.6 -0.9 21.1 -1.1 21.8 -0.4 22.4 1.6 22.9 3.6 22.9 5.8 22.4Z" fill="#1a7eb7"/><path d="M23.1 23.1 9.5 23.1 10.1 22.4 10.3 21.1 9.0 19.8 6.2 19.0 2.9 18.7 -1.3 19.2 -4.2 20.4 -5.0 21.8 -4.0 23.1 -23.1 23.1 -23.1 -23.1 23.1 -23.1 23.1 23.1Z" fill="#2886bc"/><path d="M23.1 23.1 12.3 23.1 12.7 22.4 12.8 21.1 12.0 19.9 11.0 19.2 7.5 18.0 3.6 17.6 -1.0 18.0 -5.1 19.2 -6.2 19.8 -7.2 21.1 -7.1 22.4 -6.6 23.1 -23.1 23.1 -23.1 -23.1 23.1 -23.1 23.1 23.1Z" fill="#368ec0"/><path d="M23.1 23.1 14.4 23.1 14.9 21.8 14.6 20.5 12.6 18.5 9.0 17.2 4.2 16.7 -1.6 17.2 -6.3 18.5 -8.8 20.5 -9.1 21.8 -8.6 23.1 -23.1 23.1 -23.1 -23.1 23.1 -23.1 23.1 23.1Z" fill="#4497c5"/><path d="M23.1 23.1 16.3 23.1 16.7 21.8 16.4 20.5 15.6 19.2 13.9 17.9 9.4 16.3 4.2 15.9 -2.3 16.4 -7.5 18.0 -9.4 19.2 -10.4 20.5 -10.7 21.8 -10.2 23.1 -23.1 23.1 -23.1 -23.1 23.1 -23.1 23.1 23.1Z" fill="#539fc9"/><path d="M23.1 23.1 18.1 23.1 18.3 21.1 17.9 19.8 16.1 17.9 14.0 16.7 10.1 15.5 4.9 15.1 -2.3 15.6 -8.1 17.3 -10.3 18.5 -11.5 19.8 -12.1 21.1 -11.8 23.1 -23.1 23.1 -23.1 -23.1 23.1 -23.1 23.1 23.1Z" fill="#61a8ce"/><path d="M23.1 23.1 19.8 23.1 20.0 21.1 19.3 19.2 18.1 17.9 15.9 16.4 11.4 14.8 5.5 14.2 -2.9 14.9 -6.8 15.8 -9.4 16.8 -11.4 18.0 -13.0 19.8 -13.5 21.1 -13.2 23.1 -23.1 23.1 -23.1 -23.1 23.1 -23.1 23.1 23.1Z" fill="#6fb0d3"/><path d="M23.1 23.1 21.5 23.1 21.7 21.1 21.1 19.2 19.4 17.2 17.5 15.9 12.7 14.1 6.2 13.4 -3.6 14.2 -10.1 16.1 -12.7 17.7 -14.1 19.2 -14.9 21.1 -14.7 23.1 -23.1 23.1 -23.1 -23.1 23.1 -23.1 23.1 23.1Z" fill="#7db8d7"/><path d="M-16.6 23.1 -23.1 23.1 -23.1 -23.1 23.1 -23.1 23.1 19.4 22.1 17.9 20.5 16.4 17.9 14.8 15.3 13.8 8.8 12.6 2.3 12.8 -6.2 13.9 -12.0 16.0 -14.0 17.3 -15.7 19.2 -16.4 21.1 -16.2 23.1 -16.6 23.1Z" fill="#8bc1dc"/><path d="M-17.9 23.1 -23.1 23.1 -23.1 -23.1 23.1 -23.1 23.1 16.6 20.5 14.7 17.9 13.4 11.4 11.8 6.2 11.7 -6.2 13.0 -11.4 14.5 -15.3 16.8 -16.9 18.5 -17.6 19.8 -17.9 23.1Z" fill="#97c8df"/><path d="M-19.8 23.1 -23.1 23.1 -23.1 -23.1 23.1 -23.1 23.1 14.4 20.5 13.0 17.2 11.7 10.7 10.5 -8.8 12.4 -13.3 14.0 -17.2 16.6 -18.4 17.9 -19.4 19.8 -19.7 21.1 -19.6 23.1 -19.8 23.1Z" fill="#a1cde2"/><path d="M-21.8 23.1 -23.1 23.1 -23.1 -23.1 23.1 -23.1 23.1 12.2 17.9 10.2 12.0 9.1 0.3 10.9 -8.8 11.3 -11.4 11.7 -15.9 13.6 -19.8 16.6 -21.7 19.8 -21.8 23.1Z" fill="#abd2e4"/><path d="M-23.1 16.2 -23.1 -23.1 23.1 -23.1 23.1 9.2 17.9 7.6 14.0 7.1 4.9 9.4 0.3 10.2 -4.2 10.4 -12.7 10.0 -15.3 10.7 -18.5 12.4 -21.1 14.2 -23.1 16.2Z" fill="#b5d7e7"/><path d="M1.0 9.5 -6.2 9.5 -12.0 7.9 -16.9 4.9 -18.9 2.9 -20.7 0.3 -22.2 -2.9 -22.9 -5.5 -23.0 -13.3 -21.4 -18.5 -18.5 -23.1 15.8 -23.1 17.6 -20.5 19.6 -15.9 20.3 -11.4 20.1 -7.5 19.5 -4.9 18.2 -1.6 15.6 2.3 11.9 5.5 6.7 8.1 1.0 9.5Z" fill="#bfdce9"/><path d="M0.3 8.8 -2.9 9.0 -6.2 8.6 -8.8 7.9 -11.4 6.6 -13.3 4.9 -14.7 2.9 -15.8 0.3 -16.4 -2.3 -16.5 -5.5 -15.8 -8.8 -14.7 -11.4 -13.0 -14.0 -11.1 -15.9 -8.8 -17.5 -6.2 -18.7 -2.9 -19.5 0.3 -19.6 3.6 -18.9 6.2 -17.8 8.8 -16.1 10.7 -14.2 12.3 -12.0 13.5 -9.4 14.3 -6.2 14.4 -2.9 13.9 -0.3 12.7 2.3 11.2 4.2 9.4 5.7 6.8 7.2 3.6 8.3 0.3 8.8Z" fill="#cae1ec"/><path d="M-0.3 8.1 -3.6 8.1 -6.2 7.7 -8.7 6.8 -10.8 5.5 -12.7 3.6 -13.8 1.6 -14.7 -1.0 -15.1 -3.6 -15.0 -6.2 -14.3 -8.8 -13.1 -11.4 -11.4 -13.7 -9.4 -15.4 -6.8 -16.9 -4.2 -17.8 -1.6 -18.2 1.0 -18.0 3.6 -17.4 6.2 -16.2 8.3 -14.6 10.1 -12.7 11.7 -10.1 12.6 -7.5 13.0 -4.9 12.9 -2.3 12.2 0.3 11.2 2.3 9.6 4.2 8.0 5.5 5.5 6.8 -0.3 8.1Z" fill="#d4e6ee"/><path d="M2.3 6.9 -2.9 7.3 -5.5 6.9 -7.7 6.2 -9.4 5.2 -11.2 3.6 -13.3 -0.3 -13.8 -2.9 -13.8 -5.5 -12.4 -10.1 -11.2 -12.0 -9.3 -14.0 -7.5 -15.3 -4.9 -16.4 -2.3 -16.9 0.3 -16.9 4.9 -15.6 6.8 -14.3 8.8 -12.5 10.1 -10.6 11.2 -8.1 11.8 -5.5 11.8 -2.9 11.2 -0.3 10.3 1.6 8.8 3.6 7.2 4.9 4.9 6.1 2.3 6.9Z" fill="#deebf1"/><path d="M0.3 6.2 -4.9 6.0 -8.7 4.2 -11.4 1.1 -12.6 -2.9 -12.2 -7.5 -10.1 -11.4 -6.8 -14.2 -4.3 -15.3 -2.3 -15.7 2.3 -15.3 6.2 -13.3 9.0 -10.1 10.1 -7.6 10.5 -5.5 10.5 -2.9 10.1 -1.0 8.3 2.3 5.0 4.9 0.3 6.2Z" fill="#e8f0f3"/><path d="M-1.0 4.9 -4.9 4.5 -8.1 2.7 -10.3 -0.3 -11.1 -4.2 -10.3 -8.1 -8.1 -11.3 -4.9 -13.4 -1.0 -14.2 2.9 -13.4 6.2 -11.2 8.2 -8.1 9.0 -4.2 8.2 -0.3 6.2 2.3 2.9 4.2 -1.0 4.9Z" fill="#f2f5f6"/><path d="M1.6 1.1 -1.6 1.6 -4.2 1.1 -6.2 -0.0 -7.3 -1.6 -7.9 -4.2 -7.5 -6.6 -6.2 -8.8 -4.5 -10.1 -1.6 -11.0 1.0 -10.7 3.4 -9.4 5.0 -7.5 5.8 -4.9 5.4 -2.3 4.1 -0.3 1.6 1.1Z" fill="#f7f3f1"/></g><path d="M13.8 23.1 14.2 21.8 13.9 20.5 12.0 18.7 8.1 17.4 3.6 17.0 -2.3 17.6 -6.2 18.9 -7.6 19.8 -8.5 21.1 -8.4 22.4 -8.0 23.1M18.8 23.1 19.1 21.1 18.6 19.8 17.7 18.5 16.1 17.2 14.0 16.2 11.4 15.4 4.9 14.7 -2.9 15.4 -6.2 16.2 -9.0 17.2 -11.0 18.5 -12.2 19.8 -12.7 21.1 -12.4 23.1M23.1 18.8 21.8 17.1 19.3 15.3 16.6 14.0 13.3 13.0 7.5 12.4 -1.6 13.1 -8.1 14.2 -11.0 15.3 -13.4 16.6 -14.9 17.9 -16.3 19.8 -16.6 21.1 -16.4 23.1M23.1 12.3 17.9 10.3 12.0 9.2 9.4 9.4 0.3 10.9 -10.7 11.6 -13.3 12.5 -15.9 13.7 -19.6 16.6 -20.6 17.9 -21.5 19.8 -21.8 21.1 -21.6 23.1M1.6 8.9 -2.3 9.2 -5.5 9.0 -8.8 8.2 -11.4 7.0 -13.4 5.5 -15.0 3.6 -16.2 1.0 -16.9 -1.6 -17.1 -4.9 -16.8 -7.5 -15.7 -10.7 -14.2 -13.3 -12.0 -15.8 -9.4 -17.8 -6.2 -19.4 -3.6 -20.0 -0.3 -20.2 2.9 -19.7 5.5 -18.8 8.1 -17.3 10.5 -15.3 12.6 -12.7 14.1 -9.4 14.8 -6.8 15.0 -4.2 14.8 -1.6 13.7 1.6 12.4 3.6 10.3 5.5 8.1 6.8 4.9 8.1 1.6 8.9M-0.3 6.9 -2.9 6.9 -5.5 6.5 -7.5 5.8 -9.4 4.5 -11.0 2.9 -12.2 1.0 -12.9 -1.0 -13.4 -3.6 -13.2 -6.2 -12.7 -8.2 -11.5 -10.7 -10.1 -12.5 -8.1 -14.2 -6.2 -15.3 -4.2 -16.0 -1.6 -16.4 1.0 -16.3 2.9 -15.8 5.4 -14.6 7.2 -13.3 8.8 -11.6 10.1 -9.4 10.8 -7.5 11.3 -4.9 11.1 -2.3 10.6 -0.3 9.7 1.6 8.1 3.5 4.9 5.6 2.3 6.5 -0.3 6.9" fill="none" stroke="#222" stroke-opacity="0.62" stroke-width="0.45"/></g><path d="M-4.2 -20.2 L-0.8 -24.1 Q0 -25.0 0.8 -24.1 L4.2 -20.2" fill="#fff" stroke="#333" stroke-width="0.8"/><rect x="-22.5" y="-5.2" width="2.3" height="10.5" rx="0.7" fill="#f0f0f0" stroke="#3a3a3a" stroke-width="0.75"/><rect x="20.2" y="-5.2" width="2.3" height="10.5" rx="0.7" fill="#f0f0f0" stroke="#3a3a3a" stroke-width="0.75"/><circle r="20.6" fill="none" stroke="#454545" stroke-width="0.75"/></g><g transform="translate(118.7 394.8)"><clipPath id="cpb30"><circle r="20.6"/></clipPath><g clip-path="url(#cpb30)"><g filter="url(#sm)"><rect x="-24.7" y="-24.7" width="49.4" height="49.4" fill="#f7f3f1"/><path d="M23.1 23.1 -23.1 23.1 -23.1 -23.1 23.1 -23.1 23.1 23.1ZM0.6 18.5 1.2 16.6 1.1 14.0 0.3 12.1 -0.3 12.1 -1.0 14.0 -1.0 17.2 -0.3 18.8 0.3 18.9 0.6 18.5Z" fill="#f7ebe5"/><path d="M12.7 23.1 10.1 22.9 8.1 22.3 6.2 21.4 4.3 19.8 3.3 17.9 1.6 10.4 1.0 9.3 0.3 8.7 -0.3 8.7 -1.0 9.2 -1.8 10.7 -2.9 18.4 -4.2 21.2 -7.3 23.1 -15.9 22.8 -19.2 20.6 -21.5 17.2 -22.3 14.6 -23.1 9.0 -22.8 6.8 -21.7 5.5 -19.2 3.8 -16.6 2.6 -14.0 1.8 -9.4 1.9 -0.3 4.9 1.6 4.3 7.5 1.1 10.1 0.0 14.0 -0.3 17.2 0.6 19.8 2.0 23.1 4.7 23.1 16.2 21.1 19.2 18.5 21.3 15.3 22.7 12.7 23.1Z" fill="#f6e2da"/><path d="M15.3 19.3 12.7 19.8 10.1 19.5 7.5 18.3 5.7 16.6 4.3 14.0 3.2 8.8 3.6 6.8 4.9 5.5 8.8 3.4 12.7 2.7 16.6 3.6 18.5 4.9 19.9 6.2 20.6 7.5 21.0 9.4 20.4 14.0 18.4 17.2 15.3 19.3ZM-9.4 20.0 -12.0 20.2 -14.6 19.5 -16.8 17.9 -18.4 15.3 -18.9 12.0 -18.5 8.8 -17.3 6.8 -14.6 5.2 -11.4 4.6 -8.1 5.0 -4.9 6.6 -3.7 8.1 -4.0 13.3 -4.9 16.5 -6.8 18.7 -9.4 20.0Z" fill="#f6dace"/><path d="M12.7 17.9 10.1 17.5 7.7 15.9 6.3 14.0 5.5 10.7 5.4 8.8 6.4 6.8 8.8 5.1 11.4 4.4 14.0 4.6 16.6 5.7 18.3 7.5 19.1 10.1 18.8 12.7 17.6 15.3 15.3 17.2 12.7 17.9ZM-10.7 17.9 -12.7 17.8 -14.9 16.6 -16.2 14.6 -16.6 12.7 -16.2 10.1 -15.3 8.3 -13.3 7.0 -11.4 6.6 -9.4 6.8 -7.5 7.8 -6.4 9.4 -6.0 11.4 -6.2 14.0 -7.2 15.9 -8.8 17.3 -10.7 17.9Z" fill="#f6d2c2"/><path d="M14.0 16.0 12.0 16.3 10.1 15.7 8.6 14.6 7.5 12.7 7.1 10.7 7.3 8.8 8.1 7.4 10.1 6.2 12.0 5.8 14.4 6.2 15.9 7.1 17.1 8.8 17.5 10.7 16.9 13.3 15.9 14.8 14.0 16.0ZM-10.1 15.4 -11.4 15.7 -12.7 15.4 -13.6 14.6 -14.3 13.3 -13.9 10.7 -13.3 9.8 -12.0 9.1 -10.7 9.0 -9.6 9.4 -8.4 11.4 -8.6 14.0 -10.1 15.4Z" fill="#f5cab7"/><path d="M14.0 14.2 12.7 14.6 11.4 14.5 10.1 13.7 9.3 12.7 8.8 10.7 9.0 9.4 9.8 8.1 10.7 7.6 12.0 7.3 13.5 7.5 14.7 8.1 15.6 9.4 15.7 12.0 15.0 13.3 14.0 14.2Z" fill="#f5c2ab"/><path d="M12.7 12.1 12.0 12.1 11.3 11.4 11.4 10.2 12.0 9.7 13.1 10.1 13.4 10.7 13.3 11.5 12.7 12.1Z" fill="#f5ba9f"/></g><path d="M2.0 1.6 4.9 -0.3 7.9 -3.6 8.7 -5.5 8.5 -7.5 6.8 -10.1 5.5 -11.2 3.6 -12.2 0.3 -12.9 -1.6 -12.7 -3.6 -12.2 -6.2 -10.7 -8.4 -8.1 -9.2 -5.5 -8.9 -3.6 -7.0 -1.0 -3.0 1.6 -0.3 2.3 2.0 1.6M1.2 23.1 2.1 19.8 2.0 14.6 1.6 12.6 1.0 10.9 0.3 10.3 -0.3 10.3 -1.0 10.9 -1.4 12.0 -1.9 15.3 -1.8 19.8 -0.9 23.1M13.3 21.1 10.7 21.1 8.8 20.5 6.8 19.5 5.0 17.9 3.6 15.3 1.6 7.5 1.7 6.8 2.3 5.9 5.5 3.7 8.8 2.1 12.0 1.4 15.9 2.0 19.2 3.7 21.7 6.2 22.6 8.8 22.1 13.3 21.4 15.3 20.3 17.2 19.1 18.5 17.2 19.9 15.3 20.8 13.3 21.1M-11.4 21.8 -13.3 21.6 -15.3 20.9 -16.9 19.8 -18.3 18.5 -20.0 15.3 -20.5 10.7 -20.2 8.1 -19.6 6.8 -18.5 5.8 -15.3 4.0 -11.4 3.3 -8.1 3.7 -4.9 4.9 -2.5 6.2 -1.8 7.5 -3.4 15.9 -4.2 18.2 -5.5 19.7 -7.5 20.9 -9.4 21.6 -11.4 21.8M14.6 18.6 12.0 19.0 9.4 18.4 6.8 16.6 5.4 14.6 4.4 11.4 4.2 8.1 5.4 6.2 8.1 4.4 11.4 3.5 14.6 3.7 17.9 5.3 19.6 7.5 20.1 8.8 20.2 10.7 19.9 12.7 19.3 14.6 17.2 17.2 14.6 18.6M-10.7 19.3 -13.3 19.0 -15.4 17.9 -17.0 15.9 -17.9 13.3 -17.7 10.1 -17.0 8.1 -15.9 7.0 -14.7 6.2 -12.0 5.5 -9.4 5.6 -6.8 6.5 -5.5 7.5 -4.7 9.4 -4.8 13.3 -5.6 15.9 -7.5 18.0 -8.8 18.8 -10.7 19.3M13.3 17.3 10.7 17.1 8.8 16.2 7.3 14.6 6.2 12.0 6.0 9.4 6.6 7.5 8.1 6.0 10.7 5.0 13.3 4.9 15.9 5.8 17.7 7.5 18.4 9.4 18.4 12.0 17.4 14.6 15.9 16.2 13.3 17.3M-10.7 17.2 -12.7 17.1 -14.6 15.9 -15.4 14.6 -15.9 12.7 -15.7 10.7 -14.7 8.8 -13.3 7.8 -11.4 7.3 -9.4 7.5 -8.1 8.3 -7.3 9.4 -6.7 11.4 -6.8 13.3 -7.6 15.3 -8.9 16.6 -10.7 17.2M14.6 15.3 12.7 15.9 10.7 15.6 9.2 14.6 8.2 13.3 7.6 11.4 7.6 9.4 8.1 8.1 9.4 6.9 11.4 6.2 13.3 6.2 14.9 6.8 16.3 8.1 17.0 10.1 16.9 12.0 16.1 14.0 14.6 15.3M-10.7 14.9 -12.0 14.8 -12.7 14.5 -13.3 13.7 -13.6 12.7 -13.0 10.7 -12.3 10.1 -11.4 9.8 -10.1 10.2 -9.4 10.9 -9.0 12.0 -9.4 13.9 -10.7 14.9M13.3 14.1 12.0 14.3 11.1 14.0 10.1 13.2 9.4 12.0 9.1 10.7 9.3 9.4 10.1 8.4 11.4 7.7 12.7 7.6 14.0 8.0 14.8 8.8 15.4 10.1 15.5 11.4 15.0 12.7 13.3 14.1" fill="none" stroke="#222" stroke-opacity="0.62" stroke-width="0.45"/></g><path d="M-4.2 -20.2 L-0.8 -24.1 Q0 -25.0 0.8 -24.1 L4.2 -20.2" fill="#fff" stroke="#333" stroke-width="0.8"/><rect x="-22.5" y="-5.2" width="2.3" height="10.5" rx="0.7" fill="#f0f0f0" stroke="#3a3a3a" stroke-width="0.75"/><rect x="20.2" y="-5.2" width="2.3" height="10.5" rx="0.7" fill="#f0f0f0" stroke="#3a3a3a" stroke-width="0.75"/><circle r="20.6" fill="none" stroke="#454545" stroke-width="0.75"/></g><g transform="translate(170.0 394.8)"><clipPath id="cpb31"><circle r="20.6"/></clipPath><g clip-path="url(#cpb31)"><g filter="url(#sm)"><rect x="-24.7" y="-24.7" width="49.4" height="49.4" fill="#f4a988"/><path d="M23.1 23.1 -23.1 23.1 -23.1 -23.1 23.1 -23.1 23.1 23.1ZM16.6 -1.0 16.8 -1.6 15.9 -1.6 16.6 -1.0ZM-15.9 -1.0 -16.6 -1.4 -16.9 -1.0 -16.6 -0.7 -15.9 -1.0Z" fill="#f29d7d"/><path d="M23.1 23.1 -23.1 23.1 -23.1 -23.1 23.1 -23.1 23.1 23.1ZM18.2 1.0 19.2 0.1 19.7 -1.0 19.6 -2.3 18.7 -3.6 16.6 -4.3 15.3 -4.2 14.0 -3.4 13.1 -1.6 13.8 0.3 15.9 1.4 18.2 1.0ZM-15.3 1.6 -14.1 1.0 -13.3 -0.0 -13.1 -1.0 -13.4 -2.3 -15.3 -3.8 -16.6 -3.9 -18.0 -3.6 -18.9 -2.9 -19.6 -1.6 -19.3 0.3 -17.5 1.6 -15.3 1.6Z" fill="#ee8c73"/><path d="M23.1 23.1 -23.1 23.1 -23.1 -23.1 23.1 -23.1 23.1 23.1ZM18.1 2.3 19.8 1.4 20.9 -0.3 21.1 -1.6 20.5 -3.5 19.2 -4.8 17.2 -5.5 15.3 -5.5 13.8 -4.9 12.3 -3.6 11.7 -2.3 11.7 -1.0 12.1 0.3 13.3 1.6 14.6 2.2 18.1 2.3ZM-14.0 2.3 -12.3 1.0 -11.7 -0.3 -11.9 -2.3 -12.7 -3.6 -14.0 -4.6 -15.9 -5.2 -17.9 -5.0 -19.8 -3.9 -20.9 -2.3 -21.1 -1.0 -20.9 0.3 -20.0 1.6 -19.0 2.3 -17.2 2.7 -14.0 2.3Z" fill="#ea7c69"/><path d="M23.1 23.1 -23.1 23.1 -23.1 -23.1 23.1 -23.1 23.1 23.1ZM-13.6 2.9 -11.4 1.6 -10.7 0.3 -10.6 -2.3 -11.8 -4.2 -13.5 -5.5 -15.9 -6.2 -18.5 -5.8 -20.5 -4.7 -21.8 -3.1 -22.2 -1.6 -22.0 0.3 -21.1 1.9 -19.7 2.9 -17.9 3.3 -13.6 2.9ZM18.8 2.9 20.5 2.2 21.9 0.3 22.2 -2.3 21.3 -4.2 19.8 -5.6 17.2 -6.5 14.6 -6.3 12.7 -5.4 11.4 -4.2 10.5 -2.3 10.6 -0.3 11.2 1.0 12.7 2.3 14.4 2.9 16.6 3.2 18.8 2.9Z" fill="#e56b60"/><path d="M23.1 23.1 -23.1 23.1 -23.1 0.4 -22.1 2.3 -20.5 3.3 -17.9 3.9 -15.3 3.8 -12.7 3.2 -10.9 2.3 -9.8 1.0 -9.4 -1.0 -9.7 -2.9 -11.0 -4.9 -12.8 -6.2 -15.3 -7.0 -17.9 -6.9 -20.0 -6.2 -21.8 -4.8 -23.1 -2.5 -23.1 -23.1 23.1 -23.1 23.1 -2.9 22.1 -4.9 20.5 -6.3 18.5 -7.2 15.9 -7.5 13.3 -6.9 11.4 -5.6 9.8 -3.6 9.4 -1.6 9.7 0.3 10.7 1.9 12.4 2.9 15.3 3.6 18.5 3.6 20.8 2.9 22.3 1.6 23.1 -0.0 23.1 23.1Z" fill="#e15b56"/><path d="M23.1 23.1 -23.1 23.1 -23.1 2.4 -21.6 3.6 -19.3 4.2 -15.9 4.3 -13.3 3.9 -9.7 2.3 -8.7 1.0 -8.3 -1.0 -8.6 -2.9 -9.8 -4.9 -11.4 -6.4 -14.0 -7.6 -16.6 -7.9 -19.2 -7.5 -21.6 -6.2 -23.1 -4.6 -23.1 -23.1 23.1 -23.1 23.1 -5.0 21.3 -6.8 19.2 -7.9 17.2 -8.3 14.6 -8.2 12.0 -7.2 10.1 -5.6 8.7 -3.6 8.3 -1.6 8.6 0.3 9.3 1.6 11.0 2.9 12.7 3.6 15.9 4.1 19.2 4.0 21.1 3.5 23.1 2.1 23.1 23.1Z" fill="#dd4a4c"/><path d="M23.1 23.1 -23.1 23.1 -23.1 3.5 -21.4 4.2 -18.5 4.7 -12.7 4.2 -10.7 3.6 -8.6 2.3 -7.6 1.0 -7.3 -1.0 -7.8 -3.6 -9.1 -5.5 -10.7 -7.0 -13.3 -8.2 -15.9 -8.7 -18.5 -8.5 -21.1 -7.5 -23.1 -6.0 -23.1 -23.1 23.1 -23.1 23.1 -6.4 21.1 -7.9 18.5 -8.9 15.9 -9.1 13.3 -8.7 10.7 -7.4 8.8 -5.5 7.7 -3.6 7.3 -1.6 7.5 0.3 8.2 1.6 9.8 2.9 11.4 3.6 14.6 4.4 17.9 4.6 20.7 4.2 23.1 3.2 23.1 23.1Z" fill="#d93a42"/><path d="M23.1 23.1 -23.1 23.1 -23.1 4.2 -20.6 4.9 -17.9 5.1 -14.6 4.9 -11.4 4.2 -9.6 3.6 -7.4 2.3 -6.5 1.0 -6.2 -1.0 -6.7 -3.6 -7.9 -5.5 -10.1 -7.6 -12.7 -8.9 -15.3 -9.5 -18.0 -9.4 -20.5 -8.7 -23.1 -7.2 -23.1 -23.1 23.1 -23.1 23.1 -7.6 20.5 -9.2 17.9 -9.8 15.3 -9.9 12.7 -9.3 10.1 -7.9 8.1 -6.2 6.8 -4.2 6.2 -1.6 6.4 0.3 7.1 1.6 8.6 2.9 10.7 3.8 14.0 4.6 17.2 4.9 20.5 4.7 23.1 3.9 23.1 23.1Z" fill="#d42938"/><path d="M23.1 23.1 -23.1 23.1 -23.1 4.7 -20.5 5.3 -17.2 5.4 -13.3 5.0 -10.2 4.2 -6.3 2.3 -5.3 1.0 -4.9 -1.0 -5.5 -3.6 -7.2 -6.2 -9.4 -8.1 -12.0 -9.5 -14.6 -10.2 -17.9 -10.2 -20.5 -9.6 -23.1 -8.2 -23.1 -23.1 23.1 -23.1 23.1 -8.7 20.5 -10.0 17.9 -10.7 14.6 -10.6 12.0 -9.9 9.4 -8.5 6.9 -6.2 5.3 -3.6 4.9 -1.6 5.2 0.3 5.9 1.6 7.4 2.9 10.1 4.0 13.4 4.9 17.2 5.3 20.5 5.1 23.1 4.5 23.1 23.1Z" fill="#d0192f"/><path d="M23.1 23.1 -23.1 23.1 -23.1 5.2 -19.8 5.7 -16.6 5.8 -9.4 4.4 -5.0 2.3 -3.9 1.0 -3.4 -1.0 -4.0 -3.6 -5.8 -6.2 -8.1 -8.3 -11.4 -10.2 -14.0 -10.9 -17.2 -11.1 -20.5 -10.5 -23.1 -9.3 -23.1 -23.1 23.1 -23.1 23.1 -9.7 20.5 -10.9 17.2 -11.5 14.0 -11.3 11.4 -10.6 8.8 -9.2 6.1 -6.8 4.2 -4.2 3.4 -1.6 3.7 0.3 4.5 1.6 6.2 2.9 9.4 4.3 12.7 5.1 17.2 5.6 23.1 5.0 23.1 23.1Z" fill="#cc0825"/></g><path d="M23.1 -4.0 21.8 -5.8 19.8 -7.1 17.9 -7.7 15.3 -7.8 12.7 -7.0 10.7 -5.6 9.3 -3.6 8.9 -1.6 9.2 0.3 9.9 1.6 11.8 2.9 14.0 3.6 17.2 3.9 19.9 3.6 21.8 2.7 23.1 1.1M-23.1 1.5 -21.9 2.9 -20.5 3.6 -17.9 4.1 -14.6 3.9 -12.0 3.2 -10.3 2.3 -9.3 1.0 -8.9 -1.0 -9.2 -2.9 -10.4 -4.9 -12.0 -6.2 -14.6 -7.3 -17.2 -7.4 -19.6 -6.8 -21.6 -5.5 -23.1 -3.6M23.1 -9.6 20.5 -10.8 17.2 -11.5 14.0 -11.3 11.4 -10.5 8.8 -9.1 6.2 -6.8 4.3 -4.2 3.6 -1.6 3.9 0.3 4.6 1.6 6.3 2.9 9.5 4.2 12.7 5.0 16.6 5.5 19.8 5.5 23.1 5.0M-23.1 5.1 -19.8 5.6 -16.6 5.7 -12.7 5.2 -9.1 4.2 -5.1 2.3 -4.0 1.0 -3.6 -1.0 -4.2 -3.6 -5.9 -6.2 -8.8 -8.7 -11.4 -10.1 -14.0 -10.9 -17.2 -11.1 -20.5 -10.4 -23.1 -9.2M23.1 -14.7 18.5 -15.8 13.3 -15.7 8.8 -14.4 2.3 -11.2 -0.3 -10.7 -2.9 -11.3 -9.4 -14.3 -13.3 -15.3 -18.5 -15.4 -23.1 -14.3M-23.1 6.8 -18.5 7.1 -14.6 6.8 -3.6 4.3 0.3 3.9 3.6 4.3 14.6 6.6 18.5 6.9 23.1 6.7M-23.1 8.5 -15.3 8.3 -4.2 6.0 0.3 5.6 4.9 6.0 15.3 8.2 23.1 8.3M-10.5 23.1 -15.3 21.8 -23.1 20.3M23.1 20.4 15.6 21.8 10.7 23.1M-23.1 10.9 -15.3 10.5 -4.2 7.6 0.3 7.2 4.2 7.5 15.3 10.2 23.1 10.6M23.1 17.2 8.8 19.9 -0.3 20.6 -10.1 19.7 -23.1 17.1M5.5 18.6 -1.0 18.9 -6.8 18.4 -11.7 17.2 -14.2 15.9 -14.5 15.3 -14.2 14.6 -13.2 14.0 -10.0 12.7 -4.2 10.7 -0.3 9.9 2.3 10.1 5.0 10.7 12.5 13.3 14.9 14.6 15.2 15.3 14.7 15.9 13.6 16.6 9.6 17.9 5.5 18.6" fill="none" stroke="#222" stroke-opacity="0.62" stroke-width="0.45"/></g><path d="M-4.2 -20.2 L-0.8 -24.1 Q0 -25.0 0.8 -24.1 L4.2 -20.2" fill="#fff" stroke="#333" stroke-width="0.8"/><rect x="-22.5" y="-5.2" width="2.3" height="10.5" rx="0.7" fill="#f0f0f0" stroke="#3a3a3a" stroke-width="0.75"/><rect x="20.2" y="-5.2" width="2.3" height="10.5" rx="0.7" fill="#f0f0f0" stroke="#3a3a3a" stroke-width="0.75"/><circle r="20.6" fill="none" stroke="#454545" stroke-width="0.75"/></g><g transform="translate(221.2 394.8)"><clipPath id="cpb32"><circle r="20.6"/></clipPath><g clip-path="url(#cpb32)"><g filter="url(#sm)"><rect x="-24.7" y="-24.7" width="49.4" height="49.4" fill="#f7ebe5"/><path d="M23.1 23.1 -23.1 23.1 -23.1 6.2 -18.5 4.3 -12.7 2.7 -7.5 1.7 -1.0 1.1 6.2 1.0 11.4 1.4 17.2 2.5 21.8 3.9 23.1 4.4 23.1 23.1Z" fill="#f6e2da"/><path d="M21.1 23.1 -17.3 23.1 -18.7 21.8 -20.1 19.8 -20.6 17.9 -20.5 16.6 -19.3 14.0 -17.4 12.0 -14.3 10.1 -10.7 8.6 -5.5 7.3 3.6 6.1 8.1 5.8 11.4 6.0 14.6 6.8 17.9 8.4 21.0 10.7 23.1 12.9 23.1 21.6 21.1 23.1Z" fill="#f6dace"/><path d="M11.4 23.1 -7.1 23.1 -9.8 21.8 -11.4 20.5 -12.6 18.5 -12.6 16.6 -11.5 14.6 -10.1 13.5 -5.5 11.4 -0.3 10.6 2.6 9.4 6.2 8.6 9.4 8.4 12.0 8.8 14.8 10.1 16.9 12.0 18.0 14.0 18.4 16.6 17.8 18.5 16.3 20.5 14.0 22.1 11.4 23.1Z" fill="#f6d2c2"/><path d="M4.9 20.5 2.3 20.2 1.5 19.2 2.3 14.6 2.9 13.1 4.9 11.8 8.1 10.9 10.7 11.2 12.7 12.2 13.6 13.3 13.9 14.6 13.8 15.9 12.7 17.6 9.4 19.6 4.9 20.5Z" fill="#f5cab7"/></g><path d="M-23.1 8.5 -18.5 6.2 -13.3 4.5 -6.8 3.2 0.3 2.5 7.5 2.4 12.7 2.9 17.2 3.9 23.1 6.2M-19.7 23.1 -21.5 21.1 -22.4 19.2 -22.6 16.6 -21.9 14.6 -20.5 12.7 -17.9 10.6 -14.6 8.8 -10.7 7.5 -6.2 6.4 -1.0 5.7 6.2 5.1 10.7 5.2 14.0 5.8 17.2 7.0 20.3 8.8 23.1 10.9M-13.9 23.1 -16.7 20.5 -17.7 17.9 -17.2 15.3 -16.3 14.0 -14.6 12.5 -11.4 10.6 -6.8 9.1 4.2 7.1 8.8 6.8 12.7 7.3 15.9 8.6 18.9 10.7 21.0 13.3 22.1 15.9 22.0 18.5 20.5 21.1 18.1 23.1M-7.8 23.1 -11.3 21.1 -12.5 19.8 -13.1 18.5 -13.3 17.2 -12.9 15.9 -11.3 14.0 -8.8 12.4 -5.5 11.1 -0.3 10.3 4.9 8.7 8.8 8.2 12.0 8.6 15.1 10.1 17.2 12.0 18.5 14.6 18.6 17.2 17.8 19.2 15.9 21.2 12.4 23.1M5.5 22.5 -0.1 22.4 -2.9 22.0 -5.4 21.1 -8.0 19.2 -8.6 17.9 -8.4 16.6 -7.5 15.3 -6.2 14.3 -4.2 13.4 -2.9 13.2 -2.3 13.7 -1.2 16.6 -0.3 17.4 0.3 17.2 1.0 16.1 1.7 12.0 2.9 11.0 6.2 9.9 8.8 9.6 11.4 10.0 13.3 10.8 14.7 12.0 15.8 14.0 16.0 15.9 15.3 17.9 13.4 19.8 11.4 21.0 8.8 21.9 5.5 22.5M6.2 19.9 3.6 19.9 2.2 19.2 2.3 16.2 3.2 13.3 5.3 12.0 8.1 11.3 10.1 11.3 12.0 12.2 13.1 13.3 13.5 14.6 13.2 15.9 12.7 16.9 11.7 17.9 10.1 18.8 6.2 19.9" fill="none" stroke="#222" stroke-opacity="0.62" stroke-width="0.45"/></g><path d="M-4.2 -20.2 L-0.8 -24.1 Q0 -25.0 0.8 -24.1 L4.2 -20.2" fill="#fff" stroke="#333" stroke-width="0.8"/><rect x="-22.5" y="-5.2" width="2.3" height="10.5" rx="0.7" fill="#f0f0f0" stroke="#3a3a3a" stroke-width="0.75"/><rect x="20.2" y="-5.2" width="2.3" height="10.5" rx="0.7" fill="#f0f0f0" stroke="#3a3a3a" stroke-width="0.75"/><circle r="20.6" fill="none" stroke="#454545" stroke-width="0.75"/></g><g transform="translate(272.3 394.8)"><clipPath id="cpb33"><circle r="20.6"/></clipPath><g clip-path="url(#cpb33)"><g filter="url(#sm)"><rect x="-24.7" y="-24.7" width="49.4" height="49.4" fill="#f2f4f6"/><path d="M12.7 -14.6 2.9 -14.3 -7.9 -14.6 -12.8 -15.3 -13.9 -15.9 -13.9 -16.6 -13.0 -19.8 -11.5 -23.1 13.7 -23.1 15.3 -19.6 16.2 -15.9 15.9 -15.3 12.7 -14.6ZM3.6 8.8 0.3 9.1 -2.9 8.4 -5.5 7.2 -7.8 5.5 -11.4 1.3 -15.3 1.5 -17.9 0.7 -20.3 -1.6 -21.0 -3.6 -20.9 -6.2 -19.4 -7.5 -16.6 -8.0 -14.0 -7.6 -10.1 -6.0 1.6 -6.6 13.3 -6.2 16.6 -6.4 18.5 -6.0 19.2 -5.4 20.2 -3.6 20.4 -1.6 19.7 0.3 18.5 1.6 16.6 2.7 12.7 2.7 8.3 6.8 5.9 8.1 3.6 8.8Z" fill="#f7f3f1"/></g><path d="M3.6 -8.8 4.2 -9.4 1.6 -10.2 -2.3 -10.1 -4.3 -9.4 -3.7 -8.8 -1.6 -8.4 1.0 -8.4 3.6 -8.8M4.1 20.5 5.6 19.8 6.3 19.2 6.6 18.5 6.3 17.9 5.5 17.2 2.9 16.4 -0.3 16.2 -3.6 16.5 -5.5 17.2 -6.3 17.9 -6.6 18.5 -6.3 19.2 -5.6 19.8 -2.9 20.7 0.3 21.0 4.1 20.5M4.4 -8.1 6.4 -8.8 6.7 -9.4 5.9 -10.1 4.2 -10.5 -0.3 -10.9 -4.9 -10.4 -6.8 -9.4 -6.2 -8.6 -2.9 -7.9 1.0 -7.8 4.4 -8.1M13.3 23.1 16.6 21.1 17.9 19.2 17.6 17.2 16.5 15.9 15.3 15.0 12.0 13.6 8.2 12.7 -4.2 12.3 -8.1 12.6 -12.0 13.5 -15.3 15.0 -17.2 16.6 -17.9 17.9 -17.6 19.8 -15.7 21.8 -13.3 23.1M6.2 -7.5 9.0 -8.1 10.0 -8.8 10.2 -9.4 9.4 -10.2 6.8 -11.1 -0.3 -11.8 -3.6 -11.6 -7.5 -11.0 -9.7 -10.1 -10.3 -9.4 -10.1 -8.8 -9.1 -8.1 -5.5 -7.3 0.3 -7.1 6.2 -7.5M23.1 11.1 17.9 9.3 13.3 8.4 10.1 8.4 4.2 9.8 1.0 10.0 -2.3 9.7 -7.5 8.3 -10.1 8.0 -16.6 9.0 -23.1 11.1M-13.3 -1.0 -14.0 -0.6 -15.3 -0.5 -17.0 -1.6 -17.4 -3.6 -16.6 -5.0 -14.6 -5.7 -12.9 -4.9 -12.4 -4.2 -12.2 -2.9 -12.7 -1.6 -13.3 -1.0M2.3 8.1 -1.0 8.0 -3.6 6.9 -5.8 4.9 -6.7 2.9 -6.8 0.3 -5.8 -2.3 -4.1 -4.2 -1.6 -5.5 2.3 -5.7 4.9 -5.1 7.4 -2.9 8.7 -0.3 8.9 2.3 7.9 4.9 5.5 7.0 2.3 8.1M15.9 1.2 14.6 1.1 14.0 0.7 13.1 -1.0 13.5 -2.3 14.2 -2.9 15.3 -3.3 16.6 -3.0 17.7 -1.6 17.6 -0.3 17.3 0.3 15.9 1.2M-14.6 -2.2 -15.3 -2.2 -15.7 -2.9 -15.3 -3.9 -14.6 -4.0 -14.0 -3.6 -13.9 -2.9 -14.6 -2.2M2.9 6.3 1.0 6.6 -1.0 6.3 -2.9 5.0 -3.9 3.6 -4.3 1.6 -3.8 -0.3 -2.9 -1.6 -1.0 -3.0 1.0 -3.4 2.9 -3.0 4.9 -1.7 5.9 -0.3 6.3 1.6 6.0 3.6 4.9 5.1 2.9 6.3M15.3 -0.2 14.6 -1.0 15.3 -1.8 15.9 -1.7 16.2 -1.0 15.9 -0.4 15.3 -0.2M1.6 5.0 0.3 5.0 -1.0 4.4 -1.8 3.6 -2.3 2.3 -2.2 1.0 -1.6 -0.1 0.3 -1.3 1.6 -1.3 2.9 -0.8 4.3 1.0 4.4 2.3 3.9 3.6 2.9 4.5 1.6 5.0" fill="none" stroke="#222" stroke-opacity="0.62" stroke-width="0.45"/></g><path d="M-4.2 -20.2 L-0.8 -24.1 Q0 -25.0 0.8 -24.1 L4.2 -20.2" fill="#fff" stroke="#333" stroke-width="0.8"/><rect x="-22.5" y="-5.2" width="2.3" height="10.5" rx="0.7" fill="#f0f0f0" stroke="#3a3a3a" stroke-width="0.75"/><rect x="20.2" y="-5.2" width="2.3" height="10.5" rx="0.7" fill="#f0f0f0" stroke="#3a3a3a" stroke-width="0.75"/><circle r="20.6" fill="none" stroke="#454545" stroke-width="0.75"/></g><g transform="translate(427.3 90.0)"><clipPath id="cpc00"><circle r="25.6"/></clipPath><g clip-path="url(#cpc00)"><g filter="url(#sm)"><rect x="-30.7" y="-30.7" width="61.4" height="61.4" fill="#97c8df"/><path d="M28.7 28.7 -28.7 28.7 -28.7 -28.7 28.7 -28.7 28.7 28.7ZM-12.9 14.9 -12.3 13.3 -12.5 10.9 -13.3 9.7 -14.1 9.5 -14.9 9.9 -15.5 10.9 -15.5 13.3 -14.9 14.7 -14.1 15.4 -13.3 15.4 -12.9 14.9ZM14.8 15.7 15.6 14.1 15.7 12.3 14.9 10.3 14.1 9.9 13.3 10.1 12.5 11.2 12.1 14.1 12.5 15.7 13.3 16.4 14.8 15.7Z" fill="#a1cce2"/><path d="M28.7 28.7 -28.7 28.7 -28.7 -28.7 28.7 -28.7 28.7 28.7ZM-12.2 19.0 -11.3 18.2 -10.6 16.6 -10.6 10.9 -11.7 7.9 -12.5 7.1 -14.1 6.6 -15.7 7.3 -16.7 8.5 -17.4 10.9 -17.4 13.3 -16.8 15.7 -15.7 17.6 -14.1 19.0 -12.2 19.0ZM13.9 19.8 15.2 19.0 16.6 17.1 17.6 12.5 16.6 8.7 15.7 7.7 14.1 7.1 12.5 7.6 11.2 9.3 10.2 14.1 10.9 18.7 12.1 19.8 13.9 19.8Z" fill="#abd2e4"/><path d="M28.7 28.7 -28.7 28.7 -28.7 -28.7 28.7 -28.7 28.7 28.7ZM-11.2 21.4 -9.9 20.6 -9.0 18.2 -9.4 10.1 -10.1 7.7 -11.7 5.5 -13.3 4.7 -14.9 4.8 -16.8 6.1 -18.2 8.5 -18.8 11.7 -18.5 14.9 -17.4 18.1 -15.7 20.2 -13.3 21.5 -11.2 21.4ZM12.6 22.2 14.9 21.5 16.6 20.0 18.0 17.4 18.8 14.1 18.7 10.9 17.7 7.7 15.7 5.6 14.1 5.1 11.7 6.0 10.4 7.7 9.4 10.1 8.8 14.1 8.7 18.2 9.2 20.6 10.9 21.9 12.6 22.2Z" fill="#b5d6e7"/><path d="M28.7 28.7 -28.7 28.7 -28.7 -28.7 28.7 -28.7 28.7 28.7ZM-9.4 23.0 -7.7 21.6 -7.1 19.8 -8.5 8.5 -9.5 6.1 -10.9 4.2 -12.5 3.2 -14.9 3.1 -17.4 4.6 -19.2 7.7 -19.9 11.7 -19.3 16.6 -17.9 19.8 -15.7 22.3 -12.5 23.5 -9.4 23.0ZM13.4 23.8 15.7 22.8 17.8 20.6 19.3 17.4 20.0 13.3 19.6 9.3 18.2 6.1 16.6 4.3 14.1 3.5 11.7 4.1 9.3 6.9 8.1 10.9 6.8 19.8 7.0 21.4 8.5 23.0 10.9 23.9 13.4 23.8Z" fill="#bfdce9"/><path d="M28.7 28.7 -28.7 28.7 -28.7 -28.7 28.7 -28.7 28.7 28.7ZM-8.4 24.6 -5.3 23.0 -4.5 21.4 -6.1 16.0 -7.6 7.7 -8.5 5.2 -10.4 2.8 -12.5 1.7 -14.9 1.6 -18.2 3.6 -20.2 6.9 -21.0 11.7 -20.3 17.4 -18.5 21.4 -15.7 24.0 -12.5 25.1 -8.4 24.6ZM12.8 25.4 15.7 24.5 18.3 22.2 20.2 18.2 21.0 13.3 20.6 8.7 19.1 5.2 16.7 2.8 14.1 1.9 12.5 2.1 10.9 2.9 8.5 5.8 7.3 9.3 6.0 15.7 4.1 21.4 4.8 23.0 6.9 24.4 10.1 25.4 12.8 25.4Z" fill="#cae0ec"/><path d="M28.7 28.7 -28.7 28.7 -28.7 -28.7 28.7 -28.7 28.7 28.7ZM15.4 26.2 17.9 24.6 19.8 22.2 21.4 18.4 22.1 14.1 22.0 10.1 21.2 6.9 19.5 3.6 17.4 1.6 15.7 0.8 13.3 0.5 10.9 1.2 9.3 2.4 6.9 6.7 4.1 16.6 2.8 18.3 0.4 19.6 -2.0 19.1 -4.2 16.6 -7.0 6.1 -8.5 3.0 -10.1 1.2 -12.5 0.1 -15.7 0.4 -18.2 1.8 -20.3 4.4 -22.0 9.3 -21.8 15.7 -20.0 21.4 -18.2 23.8 -16.6 25.2 -14.1 26.3 -11.7 26.6 -0.4 24.6 10.1 26.9 13.3 26.8 15.4 26.2Z" fill="#d4e6ee"/><path d="M28.7 28.7 -28.7 28.7 -28.7 -28.7 28.7 -28.7 28.7 28.7ZM15.4 27.9 18.2 26.3 20.6 23.6 22.3 19.8 23.3 14.9 23.2 10.1 22.2 6.1 20.5 2.8 18.2 0.6 15.7 -0.6 13.3 -1.0 10.9 -0.5 9.3 0.5 6.6 4.4 3.4 14.1 2.0 16.1 0.4 16.8 -1.2 16.6 -3.0 14.9 -6.9 3.5 -8.5 0.8 -10.1 -0.5 -12.5 -1.4 -15.7 -1.0 -18.4 0.4 -20.8 2.8 -22.1 5.2 -23.0 8.5 -23.3 11.7 -23.1 15.7 -21.1 22.2 -19.5 24.6 -17.4 26.5 -14.9 27.6 -11.7 28.1 -0.4 26.8 10.9 28.4 15.4 27.9Z" fill="#deeaf1"/><path d="M28.7 28.7 17.7 28.7 20.6 26.2 22.7 23.0 24.0 19.0 24.7 14.1 24.5 9.3 23.4 5.2 21.6 2.0 19.1 -0.4 16.6 -1.8 14.1 -2.5 11.7 -2.4 9.3 -1.5 6.9 1.4 2.2 12.5 1.2 13.6 -0.4 14.0 -2.0 12.8 -2.8 11.4 -6.1 2.8 -7.7 -0.4 -10.1 -2.4 -13.3 -2.9 -17.4 -1.8 -21.2 1.2 -23.2 4.4 -24.5 9.3 -24.5 15.7 -23.1 21.4 -20.6 25.8 -16.9 28.7 -28.7 28.7 -28.7 -28.7 28.7 -28.7 28.7 28.7ZM2.0 28.7 -2.9 28.7 2.0 28.7Z" fill="#e8f0f3"/><path d="M28.7 28.7 21.1 28.7 23.5 25.4 25.0 22.2 26.1 17.4 26.4 12.5 26.1 8.5 24.8 4.4 22.9 1.2 20.6 -1.0 18.2 -2.6 14.9 -3.8 11.7 -4.2 9.3 -3.6 7.7 -2.3 6.9 -1.1 2.0 9.5 1.2 10.4 -0.4 10.8 -1.2 10.4 -2.8 8.1 -7.7 -2.8 -9.3 -4.0 -12.5 -4.6 -15.7 -4.0 -19.7 -2.0 -22.5 0.4 -24.6 3.6 -25.8 6.9 -26.3 10.1 -26.0 17.4 -24.1 23.8 -22.8 26.2 -20.6 28.7 -28.7 28.7 -28.7 -28.7 28.7 -28.7 28.7 28.7Z" fill="#f2f4f6"/><path d="M28.7 8.7 28.0 6.1 26.5 2.8 22.9 -1.2 19.8 -3.4 16.6 -4.9 10.9 -6.1 9.3 -6.0 7.7 -5.1 2.8 5.7 1.2 7.8 -0.4 8.2 -1.2 7.7 -2.8 5.5 -7.5 -5.2 -8.5 -6.1 -10.9 -6.5 -14.1 -6.0 -17.4 -4.9 -23.3 -1.2 -26.7 2.8 -28.7 8.4 -28.7 -28.7 28.7 -28.7 28.7 8.7ZM-25.4 28.7 -28.7 28.7 -28.7 17.6 -27.3 23.8 -24.7 28.7 -25.4 28.7ZM28.7 28.7 25.0 28.7 27.4 23.8 28.7 18.3 28.7 28.7Z" fill="#f7f3f1"/><path d="M1.2 5.4 -0.4 5.9 -2.0 4.5 -3.7 1.2 -6.5 -7.7 -7.7 -9.1 -10.1 -9.0 -16.6 -6.9 -28.7 -0.5 -28.7 -28.7 -1.5 -28.7 -0.4 -28.2 1.5 -28.7 28.7 -28.7 28.7 -0.4 16.6 -6.6 10.1 -8.7 7.7 -8.8 6.4 -6.9 3.6 1.5 1.2 5.4Z" fill="#f7ebe5"/><path d="M-26.2 -5.1 -28.7 -5.2 -28.7 -28.7 -13.8 -28.7 -10.4 -25.4 -8.5 -22.2 -7.7 -18.2 -8.4 -14.9 -10.2 -12.5 -13.8 -10.1 -21.4 -6.6 -26.2 -5.1ZM28.7 -5.1 26.2 -5.0 23.8 -5.5 16.6 -8.5 12.0 -10.9 8.7 -14.1 7.7 -17.4 8.2 -21.4 10.3 -25.4 13.8 -28.7 28.7 -28.7 28.7 -5.1ZM1.2 2.9 -0.4 3.3 -2.0 1.8 -3.6 -2.0 -4.6 -6.9 -4.6 -10.9 -3.9 -13.3 -2.7 -14.9 -0.4 -16.0 2.0 -15.5 3.5 -14.1 4.3 -12.5 4.8 -10.1 4.6 -6.1 3.7 -2.0 2.8 0.4 1.2 2.9Z" fill="#f6e2da"/><path d="M-23.0 -8.3 -26.2 -8.2 -28.7 -9.2 -28.7 -24.6 -24.6 -26.8 -20.6 -27.1 -17.4 -26.2 -14.2 -23.8 -12.2 -20.6 -11.8 -17.4 -13.0 -14.1 -14.9 -12.1 -19.0 -9.7 -23.0 -8.3ZM27.1 -8.3 23.8 -8.0 19.8 -9.1 15.1 -11.7 12.8 -14.1 11.7 -17.4 12.2 -20.6 14.1 -23.8 16.6 -25.8 19.8 -27.0 23.0 -27.1 26.2 -26.2 28.7 -24.6 28.7 -9.2 27.1 -8.3ZM1.2 -1.0 0.4 -0.5 -1.2 -1.1 -2.0 -2.3 -2.9 -5.2 -3.0 -7.7 -2.5 -10.1 -1.4 -11.7 -0.4 -12.3 1.2 -12.0 2.0 -11.1 3.0 -8.5 2.8 -4.3 1.2 -1.0Z" fill="#f6dace"/><path d="M-20.6 -11.5 -23.0 -11.0 -25.4 -11.3 -27.2 -12.5 -28.7 -15.3 -28.7 -18.3 -27.7 -20.6 -25.4 -22.7 -23.0 -23.6 -20.6 -23.6 -18.2 -22.7 -16.6 -21.2 -15.4 -19.0 -15.4 -16.6 -16.1 -14.9 -18.2 -12.8 -20.6 -11.5ZM23.8 -10.9 21.4 -11.1 19.0 -12.1 16.6 -14.1 15.6 -15.7 15.2 -18.2 16.1 -20.6 17.5 -22.2 19.8 -23.4 22.2 -23.7 24.9 -23.0 27.1 -21.4 28.5 -19.0 28.7 -15.3 27.9 -13.3 26.2 -11.7 23.8 -10.9Z" fill="#f6d2c2"/></g><path d="M-11.3 20.6 -10.1 19.4 -9.5 17.4 -9.4 13.3 -9.8 10.1 -10.6 7.7 -11.7 6.2 -13.3 5.3 -14.9 5.4 -16.9 6.9 -18.1 9.3 -18.4 11.7 -18.1 14.9 -17.2 17.4 -15.4 19.8 -13.3 20.8 -11.3 20.6M13.6 21.4 15.2 20.6 16.7 19.0 17.8 16.6 18.4 13.3 18.2 10.2 17.4 8.0 15.7 6.2 14.1 5.7 12.6 6.1 11.7 6.7 10.5 8.5 9.7 10.9 9.2 14.9 9.3 18.4 10.1 20.5 11.7 21.5 13.6 21.4M-10.8 24.6 -8.5 24.1 -6.5 23.0 -5.4 21.4 -5.5 19.8 -7.7 8.6 -9.0 5.2 -10.1 3.7 -11.7 2.4 -13.3 1.9 -14.9 2.0 -17.7 3.6 -19.8 6.8 -20.7 10.9 -20.5 14.9 -19.4 19.0 -17.3 22.2 -15.7 23.5 -14.1 24.3 -10.8 24.6M14.4 24.6 17.0 23.0 19.0 20.4 20.3 16.6 20.7 11.7 19.9 7.7 18.2 4.5 15.7 2.8 13.3 2.4 10.6 3.6 8.4 6.9 5.0 21.4 5.9 23.0 8.5 24.5 11.7 25.1 14.4 24.6M13.8 27.9 17.4 26.4 19.8 24.1 21.7 20.6 22.7 16.6 23.0 11.7 22.4 7.7 20.7 3.6 18.2 1.0 15.7 -0.3 13.3 -0.6 10.9 -0.1 9.3 1.0 7.7 3.0 6.6 5.2 3.5 14.9 2.0 16.8 0.4 17.5 -2.0 16.9 -3.6 14.9 -6.9 4.1 -8.5 1.4 -10.1 -0.1 -12.5 -1.0 -15.7 -0.7 -18.2 0.6 -20.4 2.8 -21.7 5.2 -22.7 8.5 -22.9 14.9 -22.2 18.2 -21.1 21.4 -19.6 23.8 -17.4 26.0 -14.9 27.2 -12.5 27.7 -9.3 27.6 -0.4 26.3 2.8 26.6 10.1 28.0 13.8 27.9M20.4 28.7 22.5 26.2 24.2 23.0 25.4 19.0 26.0 14.1 25.9 10.1 25.0 6.1 23.6 2.8 21.7 0.4 19.0 -1.8 15.7 -3.3 12.5 -3.8 9.3 -3.2 7.7 -1.8 6.9 -0.5 2.0 10.1 1.2 11.0 -0.4 11.5 -1.3 10.9 -2.8 8.7 -6.1 0.8 -7.7 -2.2 -9.5 -3.6 -12.5 -4.2 -14.9 -3.9 -17.4 -3.0 -21.2 -0.4 -24.2 3.6 -25.6 7.7 -26.0 13.3 -25.1 19.8 -23.2 24.6 -21.5 27.1 -19.9 28.7M28.7 0.6 23.5 -2.8 18.2 -5.6 13.3 -7.4 8.5 -8.3 7.7 -8.0 6.9 -7.1 2.8 3.7 1.2 5.9 -0.4 6.3 -1.7 5.2 -2.8 3.5 -6.9 -7.6 -8.5 -8.6 -12.5 -8.0 -18.2 -5.9 -22.5 -3.6 -28.7 0.5M-28.7 -25.2 -26.2 -26.7 -23.0 -27.6 -19.8 -27.5 -17.4 -26.7 -14.9 -25.2 -12.9 -23.0 -11.7 -20.6 -11.3 -18.2 -11.7 -15.7 -12.5 -14.1 -14.9 -11.7 -17.4 -10.2 -20.6 -8.7 -23.8 -7.8 -26.2 -7.8 -28.7 -8.6M28.7 -8.6 26.2 -7.7 23.8 -7.7 20.6 -8.5 17.1 -10.1 14.6 -11.7 12.9 -13.3 11.6 -15.7 11.2 -18.2 11.7 -20.6 12.9 -23.0 14.9 -25.3 17.4 -26.7 19.8 -27.5 23.0 -27.6 26.2 -26.7 28.7 -25.2M1.2 -0.3 0.4 0.2 -0.4 0.2 -1.2 -0.4 -2.5 -2.8 -3.1 -5.2 -3.3 -7.7 -2.8 -10.2 -2.0 -11.7 -0.4 -12.8 1.2 -12.5 2.0 -11.8 2.8 -10.3 3.3 -8.5 2.9 -3.6 1.2 -0.3" fill="none" stroke="#222" stroke-opacity="0.62" stroke-width="0.45"/></g><path d="M-5.2 -25.1 L-1.0 -30.0 Q0 -31.1 1.0 -30.0 L5.2 -25.1" fill="#fff" stroke="#333" stroke-width="0.8"/><rect x="-28.1" y="-6.5" width="2.9" height="13.0" rx="0.9" fill="#f0f0f0" stroke="#3a3a3a" stroke-width="0.75"/><rect x="25.2" y="-6.5" width="2.9" height="13.0" rx="0.9" fill="#f0f0f0" stroke="#3a3a3a" stroke-width="0.75"/><circle r="25.6" fill="none" stroke="#2e2e2e" stroke-width="0.9"/></g><g transform="translate(494.1 90.0)"><clipPath id="cpc01"><circle r="25.6"/></clipPath><g clip-path="url(#cpc01)"><g filter="url(#sm)"><rect x="-30.7" y="-30.7" width="61.4" height="61.4" fill="#bfdce9"/><path d="M28.7 28.7 -28.7 28.7 -28.7 -28.7 28.7 -28.7 28.7 28.7ZM-14.6 6.9 -14.1 5.7 -14.9 5.6 -15.2 6.9 -14.6 6.9Z" fill="#cae0ec"/><path d="M28.7 28.7 -28.7 28.7 -28.7 -28.7 28.7 -28.7 28.7 28.7ZM-14.2 8.5 -12.9 6.9 -12.8 5.2 -13.3 3.9 -14.9 3.1 -16.8 4.4 -17.1 6.9 -15.7 8.6 -14.2 8.5Z" fill="#d4e6ee"/><path d="M28.7 28.7 -28.7 28.7 -28.7 -28.7 28.7 -28.7 28.7 28.7ZM-13.8 9.3 -12.4 7.7 -12.0 5.2 -13.2 2.8 -14.9 2.2 -16.6 2.8 -17.4 3.8 -17.8 6.9 -16.6 9.1 -14.9 9.6 -13.8 9.3Z" fill="#deeaf1"/><path d="M28.7 28.7 -28.7 28.7 -28.7 -28.7 28.7 -28.7 28.7 28.7ZM-13.4 10.1 -11.5 7.7 -11.4 4.4 -12.2 2.8 -13.3 1.8 -15.7 1.6 -17.4 2.7 -18.2 4.1 -18.5 6.1 -18.3 7.7 -16.6 10.0 -14.9 10.5 -13.4 10.1ZM15.8 6.9 16.2 5.2 15.7 3.8 14.9 3.2 13.3 3.6 12.6 5.2 13.1 6.9 14.1 7.7 14.9 7.6 15.8 6.9Z" fill="#e8f0f3"/><path d="M28.7 28.7 -28.7 28.7 -28.7 -28.7 28.7 -28.7 28.7 28.7ZM-13.7 11.7 -12.1 10.9 -10.9 9.3 -10.4 7.7 -10.4 5.2 -11.8 2.0 -13.3 1.0 -14.9 0.7 -16.6 1.3 -18.1 2.8 -18.8 4.4 -19.1 6.9 -18.7 8.5 -17.4 10.6 -15.7 11.6 -13.7 11.7ZM15.6 9.3 17.1 6.9 17.0 4.4 15.7 2.5 14.9 2.1 13.3 2.2 12.3 2.8 11.3 4.4 11.2 7.7 12.2 9.3 13.3 9.9 15.6 9.3Z" fill="#f2f4f6"/><path d="M28.7 28.7 -28.7 28.7 -28.7 -28.7 28.7 -28.7 28.7 28.7ZM-12.6 17.4 -10.1 15.9 -8.8 14.1 -8.2 11.7 -8.5 8.2 -9.3 4.0 -10.1 2.0 -12.2 0.4 -14.9 -0.0 -17.4 1.1 -18.8 2.8 -19.6 5.2 -19.7 7.7 -16.6 15.7 -14.9 17.1 -12.6 17.4ZM14.2 17.4 15.8 16.6 17.4 14.1 18.2 6.1 17.6 3.6 16.6 2.0 14.9 1.0 13.3 0.7 10.9 1.4 9.8 2.8 8.5 8.1 8.2 11.7 8.8 14.1 10.1 15.9 11.7 17.1 14.2 17.4Z" fill="#f7f3f1"/><path d="M2.0 16.9 0.4 17.3 -2.0 16.9 -3.6 15.9 -5.1 14.1 -6.8 10.1 -9.3 -0.4 -10.9 -1.6 -15.7 -0.7 -18.4 1.2 -20.2 4.4 -21.4 10.9 -23.0 13.9 -23.8 14.4 -25.4 14.2 -28.7 11.6 -28.7 -28.7 28.7 -28.7 28.7 11.6 25.4 14.2 23.8 14.4 23.0 13.9 17.8 2.0 14.9 -0.4 10.9 -1.6 9.9 -1.2 9.0 0.4 7.2 8.5 5.5 13.3 3.6 15.9 2.0 16.9Z" fill="#f7ebe5"/><path d="M0.4 15.1 -1.2 14.9 -2.8 14.1 -5.2 11.2 -6.8 6.9 -8.5 -2.6 -9.3 -3.8 -10.1 -4.2 -13.2 -3.6 -17.4 -0.9 -19.4 1.2 -21.4 4.5 -23.0 6.3 -23.8 6.6 -25.4 6.2 -28.5 2.8 -28.7 -28.7 28.7 -28.7 28.7 2.5 25.4 6.2 23.8 6.6 23.0 6.3 21.4 4.8 18.1 0.4 14.9 -2.5 12.5 -3.9 10.1 -4.2 9.3 -3.8 8.5 -2.6 6.8 6.9 5.2 11.2 2.8 14.1 0.4 15.1Z" fill="#f6e2da"/><path d="M1.2 13.6 -0.4 13.8 -2.0 13.2 -3.6 11.9 -4.8 10.1 -6.4 5.2 -7.6 -4.4 -8.5 -6.1 -10.9 -6.6 -14.1 -5.4 -21.4 1.3 -23.0 2.2 -24.6 1.9 -26.9 -0.4 -28.7 -3.4 -28.7 -28.7 28.7 -28.7 28.7 -3.4 27.1 -0.7 24.6 1.9 23.0 2.2 20.6 0.7 14.1 -5.4 10.9 -6.6 8.5 -6.1 7.6 -4.4 6.7 3.6 5.6 8.5 3.6 11.9 1.2 13.6Z" fill="#f6dace"/><path d="M0.4 12.6 -1.2 12.4 -2.8 11.4 -5.1 7.7 -6.3 2.0 -6.7 -6.9 -7.7 -8.5 -10.1 -8.8 -13.3 -8.1 -15.7 -6.6 -20.6 -2.2 -22.2 -1.3 -23.8 -1.5 -25.4 -3.0 -28.7 -8.7 -28.7 -28.7 28.7 -28.7 28.7 -8.7 25.4 -3.0 23.8 -1.5 22.2 -1.3 20.6 -2.2 15.7 -6.6 13.3 -8.1 10.1 -8.8 7.7 -8.5 6.7 -6.9 6.3 2.0 5.2 7.2 3.3 10.9 2.0 12.0 0.4 12.6Z" fill="#f6d2c2"/><path d="M1.2 11.3 -0.4 11.5 -2.0 10.8 -3.6 9.0 -4.6 6.9 -5.8 -0.4 -5.1 -9.3 -5.2 -10.1 -6.1 -10.9 -10.1 -11.2 -13.3 -10.4 -21.4 -4.8 -23.0 -4.9 -24.6 -6.5 -28.7 -14.2 -28.7 -28.7 28.7 -28.7 28.7 -14.2 24.6 -6.5 23.0 -4.9 21.4 -4.8 13.3 -10.4 10.1 -11.2 6.1 -10.9 5.2 -10.1 5.1 -9.3 5.8 -2.0 5.2 4.6 3.6 9.0 1.2 11.3Z" fill="#f5cab7"/><path d="M0.4 10.2 -1.2 10.0 -2.9 8.5 -4.3 5.2 -5.0 1.2 -4.7 -5.2 -3.6 -8.3 -1.7 -11.7 -1.7 -12.5 -3.0 -13.3 -5.2 -13.8 -10.9 -13.7 -14.9 -12.2 -19.8 -8.8 -21.4 -8.5 -22.2 -8.8 -24.6 -12.2 -28.2 -21.4 -28.4 -25.4 -26.7 -28.7 26.7 -28.7 27.3 -27.9 28.5 -24.6 28.0 -20.6 24.6 -12.2 22.2 -8.8 21.4 -8.5 19.8 -8.8 14.9 -12.2 10.9 -13.7 5.2 -13.8 3.0 -13.3 1.7 -12.5 1.7 -11.7 4.5 -6.1 5.1 0.4 4.5 4.4 3.6 7.1 2.0 9.4 0.4 10.2Z" fill="#f5c2ab"/><path d="M20.6 -13.8 19.0 -13.8 14.1 -16.1 10.9 -16.8 -0.4 -16.5 -9.3 -16.9 -13.3 -16.4 -19.0 -13.8 -20.6 -13.8 -22.2 -15.5 -23.3 -18.2 -24.0 -21.4 -23.8 -23.8 -22.7 -26.2 -20.3 -28.7 20.3 -28.7 23.0 -25.8 24.0 -22.2 23.0 -17.2 21.8 -14.9 20.6 -13.8ZM0.4 8.6 -1.2 8.3 -2.8 6.3 -3.7 3.6 -4.3 -0.4 -4.1 -3.6 -3.4 -6.1 -2.0 -8.3 -0.4 -9.2 1.2 -8.9 2.8 -7.2 3.7 -5.2 4.3 -2.0 4.0 2.0 3.2 5.2 2.0 7.6 0.4 8.6Z" fill="#f5ba9f"/><path d="M6.1 -20.6 0.4 -20.0 -6.1 -20.6 -13.2 -22.2 -14.5 -23.0 -14.8 -23.8 -13.2 -26.2 -8.9 -28.7 8.9 -28.7 12.1 -27.1 14.6 -24.6 14.5 -23.0 13.2 -22.2 6.1 -20.6ZM0.4 6.2 -1.2 5.6 -2.0 4.3 -3.2 -0.4 -2.8 -4.4 -2.0 -6.1 -0.4 -7.3 1.2 -6.9 2.0 -6.0 2.8 -4.3 3.2 -2.0 2.3 3.6 1.2 5.6 0.4 6.2Z" fill="#f4b194"/><path d="M0.4 0.6 -0.4 0.6 -1.2 -1.2 -1.2 -3.1 -0.4 -4.4 0.4 -4.4 1.3 -2.8 1.2 -1.0 0.4 0.6Z" fill="#f4a988"/></g><path d="M-13.9 9.3 -12.4 7.7 -12.0 5.2 -12.5 3.7 -13.2 2.8 -14.9 2.2 -16.6 2.8 -17.4 3.8 -17.8 5.2 -17.8 6.9 -16.6 9.0 -14.9 9.6 -13.9 9.3M-13.7 11.7 -12.1 10.9 -10.9 9.3 -10.4 7.7 -10.3 5.2 -10.8 3.6 -11.8 2.0 -13.3 1.0 -14.9 0.7 -16.6 1.3 -18.1 2.8 -18.9 4.4 -19.1 6.9 -18.7 8.5 -17.4 10.6 -15.7 11.6 -13.7 11.7M15.6 9.3 16.6 8.2 17.1 6.9 17.0 4.4 15.7 2.5 14.9 2.1 13.3 2.1 12.3 2.8 11.3 4.4 11.2 7.7 12.2 9.3 13.3 10.0 14.9 9.8 15.6 9.3M28.7 10.9 25.4 13.6 23.8 13.8 23.0 13.3 21.4 10.5 18.8 3.6 17.4 1.4 14.1 -0.9 10.9 -1.7 10.1 -1.5 9.2 -0.4 7.2 8.5 5.5 13.3 3.6 15.7 1.2 17.0 -0.4 17.1 -2.0 16.7 -3.6 15.7 -5.0 14.1 -6.7 10.1 -9.2 -0.4 -10.1 -1.5 -10.9 -1.7 -15.7 -0.7 -18.4 1.2 -20.2 4.4 -21.4 10.4 -23.0 13.3 -23.8 13.8 -25.4 13.6 -28.7 10.9M28.7 -3.8 25.4 1.0 24.6 1.6 23.0 1.9 20.6 0.4 14.1 -5.6 10.9 -6.7 8.5 -6.3 7.5 -4.4 6.5 4.4 5.2 9.3 2.8 12.6 1.2 13.5 -0.4 13.7 -2.9 12.5 -4.3 10.9 -5.2 9.1 -6.5 4.4 -7.5 -4.4 -8.5 -6.3 -10.9 -6.7 -14.1 -5.6 -21.4 1.1 -23.0 1.9 -24.6 1.6 -25.4 1.0 -28.7 -3.8M28.7 -14.9 24.6 -7.1 23.8 -6.0 22.2 -5.1 19.8 -5.9 14.9 -9.8 12.5 -11.0 8.5 -11.6 5.4 -10.9 4.8 -9.3 5.7 -0.4 5.0 5.2 4.2 7.7 2.8 9.9 1.2 11.1 -0.4 11.3 -2.0 10.7 -3.3 9.3 -4.4 7.1 -5.2 4.4 -5.7 -2.0 -4.8 -9.3 -5.4 -10.9 -8.5 -11.6 -12.5 -11.0 -14.9 -9.8 -19.8 -5.9 -22.2 -5.1 -23.8 -6.0 -24.6 -7.1 -28.7 -14.9M19.0 -28.7 21.7 -26.2 23.1 -23.0 23.1 -20.6 22.6 -18.2 21.4 -15.8 20.4 -14.9 19.0 -14.8 14.1 -16.8 10.9 -17.4 -0.4 -17.0 -9.3 -17.4 -13.3 -17.0 -18.2 -15.0 -19.8 -14.7 -21.4 -15.7 -22.2 -17.2 -23.0 -19.8 -23.2 -22.2 -22.2 -25.6 -21.0 -27.1 -19.0 -28.7M1.2 8.0 -0.4 8.3 -2.0 7.2 -3.6 3.6 -4.1 0.4 -4.0 -2.8 -3.5 -5.2 -2.0 -7.9 -0.4 -8.9 1.2 -8.6 2.2 -7.7 3.5 -5.2 4.0 -2.8 4.1 0.4 3.6 3.4 2.7 6.1 1.2 8.0" fill="none" stroke="#222" stroke-opacity="0.62" stroke-width="0.45"/></g><path d="M-5.2 -25.1 L-1.0 -30.0 Q0 -31.1 1.0 -30.0 L5.2 -25.1" fill="#fff" stroke="#333" stroke-width="0.8"/><rect x="-28.1" y="-6.5" width="2.9" height="13.0" rx="0.9" fill="#f0f0f0" stroke="#3a3a3a" stroke-width="0.75"/><rect x="25.2" y="-6.5" width="2.9" height="13.0" rx="0.9" fill="#f0f0f0" stroke="#3a3a3a" stroke-width="0.75"/><circle r="25.6" fill="none" stroke="#2e2e2e" stroke-width="0.9"/></g><g transform="translate(560.8 90.0)"><clipPath id="cpc02"><circle r="25.6"/></clipPath><g clip-path="url(#cpc02)"><g filter="url(#sm)"><rect x="-30.7" y="-30.7" width="61.4" height="61.4" fill="#bfdce9"/><path d="M28.7 28.7 -28.7 28.7 -28.7 -28.7 28.7 -28.7 28.7 28.7ZM-14.2 6.9 -14.9 6.3 -15.3 6.9 -14.9 7.4 -14.2 6.9Z" fill="#cae0ec"/><path d="M28.7 28.7 -28.7 28.7 -28.7 -28.7 28.7 -28.7 28.7 28.7ZM-13.6 8.5 -12.8 6.9 -13.3 4.5 -14.1 3.8 -15.7 3.9 -16.9 5.2 -17.0 7.7 -15.7 9.0 -14.9 9.2 -13.6 8.5Z" fill="#d4e6ee"/><path d="M28.7 28.7 -28.7 28.7 -28.7 -28.7 28.7 -28.7 28.7 28.7ZM-14.8 10.1 -13.3 9.5 -12.5 8.5 -12.0 6.1 -13.0 3.6 -14.9 2.7 -16.6 3.4 -17.4 4.3 -17.9 6.9 -16.9 9.3 -14.8 10.1ZM15.3 7.7 16.2 6.9 16.4 5.2 15.7 4.2 14.1 4.0 13.0 5.2 13.2 6.9 14.1 7.7 15.3 7.7Z" fill="#deeaf1"/><path d="M28.7 28.7 -28.7 28.7 -28.7 -28.7 28.7 -28.7 28.7 28.7ZM-14.1 10.9 -12.1 9.3 -11.3 6.1 -12.5 3.0 -14.9 2.0 -16.6 2.5 -17.6 3.6 -18.5 6.9 -18.2 8.5 -17.1 10.1 -15.7 10.9 -14.1 10.9ZM16.4 8.5 17.3 6.9 17.0 4.4 15.7 3.1 13.3 3.1 11.8 5.2 12.1 7.7 14.1 9.2 16.4 8.5Z" fill="#e8f0f3"/><path d="M28.7 28.7 -28.7 28.7 -28.7 -28.7 28.7 -28.7 28.7 28.7ZM-12.6 11.7 -11.1 10.1 -10.5 8.5 -10.5 5.2 -11.1 3.6 -12.5 2.0 -14.1 1.3 -15.7 1.5 -17.4 2.4 -18.7 4.4 -19.1 6.1 -18.9 8.5 -17.4 11.1 -15.7 12.2 -14.1 12.3 -12.6 11.7ZM15.6 10.9 17.8 8.5 18.1 5.2 16.6 2.7 14.9 2.0 13.3 2.0 11.8 2.8 10.6 4.4 10.3 6.1 10.5 8.5 11.4 10.1 12.5 11.1 14.1 11.4 15.6 10.9Z" fill="#f2f4f6"/><path d="M28.7 28.7 -28.7 28.7 -28.7 -28.7 28.7 -28.7 28.7 28.7ZM-11.4 17.4 -9.6 15.7 -8.4 13.3 -8.3 10.1 -9.3 4.9 -10.2 2.8 -11.7 1.3 -13.3 0.6 -15.7 0.7 -17.8 2.0 -19.3 4.4 -19.7 6.9 -19.5 9.3 -16.4 16.6 -14.1 17.9 -11.4 17.4ZM15.4 17.4 16.6 16.4 17.7 14.1 19.1 8.5 19.2 6.1 18.4 3.6 16.6 1.7 14.9 1.0 12.5 0.9 10.3 2.0 9.3 4.0 8.3 9.3 8.4 13.3 9.6 15.7 11.7 17.5 13.3 18.0 15.4 17.4Z" fill="#f7f3f1"/><path d="M2.8 16.6 1.2 17.3 -1.2 17.3 -2.8 16.6 -4.4 15.2 -6.6 10.9 -9.3 0.6 -10.9 -0.6 -15.7 -0.1 -18.6 2.0 -20.3 5.2 -21.4 11.0 -23.0 14.0 -23.8 14.6 -25.4 14.5 -28.7 12.1 -28.7 -28.7 28.7 -28.7 28.7 12.1 25.4 14.5 23.8 14.6 23.0 14.0 21.4 10.7 20.1 5.2 18.2 2.0 14.9 -0.2 10.9 -0.9 10.0 -0.4 9.0 1.2 7.1 9.3 5.6 13.3 4.4 15.2 2.8 16.6Z" fill="#f7ebe5"/><path d="M1.2 15.0 -0.4 15.2 -2.0 14.7 -3.6 13.6 -5.1 11.7 -6.7 7.7 -8.5 -1.2 -9.3 -2.7 -10.1 -3.2 -12.5 -3.0 -17.4 -0.2 -19.6 2.0 -22.2 6.0 -23.8 7.0 -26.2 6.1 -28.7 3.3 -28.7 -28.7 28.7 -28.7 28.7 3.3 26.2 6.1 23.8 6.9 22.2 5.8 19.6 2.0 16.6 -0.8 12.5 -3.1 10.1 -3.2 9.3 -2.7 8.5 -1.2 6.8 6.9 5.5 10.9 3.6 13.6 1.2 15.0Z" fill="#f6e2da"/><path d="M2.0 13.4 0.4 13.9 -1.2 13.7 -2.8 12.8 -4.5 10.9 -6.4 6.1 -8.0 -3.6 -8.5 -4.8 -9.3 -5.4 -11.7 -5.5 -14.1 -4.5 -21.4 1.9 -23.0 2.8 -24.6 2.5 -27.1 0.2 -28.7 -2.3 -28.7 -28.7 28.7 -28.7 28.7 -2.3 28.0 -1.2 25.4 2.0 23.8 2.8 23.0 2.7 14.1 -4.5 11.7 -5.5 9.3 -5.4 8.5 -4.8 7.7 -2.8 6.7 4.4 5.7 8.5 3.9 11.7 2.0 13.4Z" fill="#f6dace"/><path d="M1.2 12.6 -0.4 12.8 -2.0 12.2 -4.5 9.3 -6.3 3.6 -7.2 -6.1 -7.7 -7.1 -8.5 -7.6 -10.9 -7.8 -13.8 -6.9 -20.6 -1.4 -22.2 -0.6 -23.8 -0.7 -26.0 -2.8 -28.7 -7.4 -28.7 -28.7 28.7 -28.7 28.7 -7.4 26.2 -3.2 24.6 -1.2 22.2 -0.6 20.6 -1.5 15.7 -5.6 13.3 -7.1 10.9 -7.8 8.5 -7.6 7.7 -7.1 7.2 -6.1 6.4 2.8 5.2 7.7 3.6 10.7 1.2 12.6Z" fill="#f6d2c2"/><path d="M2.0 11.0 0.4 11.7 -1.2 11.5 -2.8 10.3 -4.4 7.8 -6.0 1.2 -5.9 -8.5 -6.9 -9.8 -10.1 -10.1 -13.3 -9.3 -21.4 -3.8 -23.0 -3.9 -24.6 -5.2 -28.7 -12.6 -28.7 -28.7 28.7 -28.7 28.7 -12.6 25.2 -6.1 23.0 -3.9 21.4 -3.8 13.3 -9.3 10.1 -10.1 6.9 -9.8 5.9 -8.5 6.1 -0.4 5.3 5.2 3.7 9.3 2.0 11.0Z" fill="#f5cab7"/><path d="M1.2 10.3 -0.4 10.5 -2.0 9.8 -3.6 7.7 -4.8 4.4 -5.4 -2.8 -3.8 -10.1 -3.9 -11.7 -5.2 -12.5 -6.9 -12.7 -11.7 -12.3 -14.9 -11.0 -19.8 -7.5 -21.4 -7.1 -22.8 -7.7 -24.6 -10.2 -28.7 -19.3 -28.7 -28.0 -28.3 -28.7 28.3 -28.7 28.7 -28.0 28.7 -19.3 24.6 -10.2 22.8 -7.7 21.4 -7.1 19.8 -7.5 14.9 -11.0 11.7 -12.3 6.9 -12.7 5.2 -12.5 3.9 -11.7 3.8 -10.1 5.3 -3.6 5.2 1.8 3.6 7.7 1.2 10.3Z" fill="#f5c2ab"/><path d="M20.6 -11.5 19.0 -11.8 14.1 -14.6 10.9 -15.4 -0.4 -15.0 -8.5 -15.6 -13.3 -14.9 -19.0 -11.8 -20.6 -11.5 -22.2 -12.6 -24.1 -16.6 -25.3 -21.4 -25.0 -24.6 -23.9 -27.1 -22.5 -28.7 22.5 -28.7 24.8 -25.4 25.3 -21.4 24.6 -18.2 23.1 -14.1 22.1 -12.5 20.6 -11.5ZM1.2 8.8 0.4 9.1 -1.2 8.8 -2.8 7.1 -3.9 4.4 -4.6 0.4 -4.5 -3.6 -3.6 -6.8 -2.0 -9.4 -0.4 -10.3 1.2 -10.0 2.8 -8.4 3.9 -6.1 4.6 -2.8 4.5 1.2 3.6 5.2 2.8 7.0 1.2 8.8Z" fill="#f5ba9f"/><path d="M18.2 -18.9 10.9 -19.3 0.4 -18.4 -11.7 -19.3 -17.4 -18.8 -19.2 -19.8 -19.8 -22.2 -18.3 -25.4 -14.0 -28.7 14.0 -28.7 17.6 -26.2 19.3 -23.8 19.8 -22.2 19.6 -20.6 18.2 -18.9ZM0.4 7.1 -0.8 6.9 -2.0 5.7 -2.9 3.6 -3.7 -0.4 -3.6 -3.3 -2.8 -6.0 -2.0 -7.2 -0.4 -8.3 1.2 -7.9 2.3 -6.9 3.4 -4.4 3.7 -2.0 3.6 0.6 2.8 3.9 1.7 6.1 0.4 7.1Z" fill="#f4b194"/><path d="M0.4 3.4 -0.4 3.4 -1.2 2.5 -2.4 -1.2 -2.0 -4.4 -0.4 -6.2 1.2 -5.7 2.4 -2.8 2.0 0.7 0.4 3.4Z" fill="#f4a988"/></g><path d="M-14.6 10.1 -13.3 9.5 -12.5 8.5 -12.0 6.1 -12.9 3.6 -14.1 2.8 -14.9 2.7 -16.6 3.3 -17.4 4.3 -17.9 6.9 -16.9 9.3 -15.7 10.1 -14.6 10.1M15.5 7.7 16.3 6.9 16.5 5.2 15.7 4.2 14.1 3.9 13.3 4.4 12.9 5.2 13.1 6.9 14.1 7.8 15.5 7.7M-13.4 12.5 -11.7 11.5 -10.8 10.1 -10.3 8.5 -10.2 6.1 -10.6 4.4 -11.7 2.6 -13.3 1.4 -14.9 1.2 -16.6 1.7 -18.2 3.3 -19.0 5.2 -19.1 7.7 -18.7 9.3 -17.4 11.4 -15.7 12.4 -13.4 12.5M15.0 11.7 16.6 10.6 17.6 9.3 18.2 7.7 18.3 5.2 17.6 3.6 16.6 2.5 14.9 1.8 13.3 1.8 11.7 2.6 10.8 3.6 10.0 6.1 10.1 8.2 10.8 10.1 11.7 11.3 13.3 12.0 15.0 11.7M28.7 9.0 26.2 11.2 24.6 11.8 23.8 11.7 22.2 10.1 20.1 4.4 18.6 2.0 15.7 -0.2 11.7 -1.5 10.1 -1.2 9.3 -0.4 6.6 10.1 5.2 13.1 3.6 15.2 1.2 16.5 -0.4 16.6 -2.0 16.2 -3.6 15.2 -5.1 13.3 -6.6 10.1 -9.0 0.4 -10.1 -1.1 -10.9 -1.4 -14.9 -0.6 -16.6 0.0 -18.2 1.3 -20.2 4.4 -21.4 8.6 -22.2 10.2 -23.8 11.7 -24.6 11.8 -26.2 11.2 -28.7 9.0M28.7 -4.2 25.4 0.5 24.4 1.2 23.0 1.5 21.4 0.7 15.7 -4.2 13.3 -5.8 10.9 -6.4 8.5 -5.9 7.7 -4.4 6.5 4.4 5.1 9.3 2.8 12.4 1.2 13.3 -0.4 13.5 -2.8 12.4 -4.1 10.9 -5.2 8.8 -6.5 4.4 -7.7 -4.4 -8.5 -5.9 -10.9 -6.4 -13.3 -5.8 -15.7 -4.2 -20.6 0.3 -23.0 1.5 -24.4 1.2 -25.4 0.5 -28.7 -4.2M28.7 -15.3 24.6 -7.4 23.5 -6.1 22.2 -5.3 19.8 -5.9 14.9 -9.6 12.5 -10.8 8.5 -11.3 5.9 -10.9 5.2 -10.3 5.0 -9.3 5.8 -1.2 4.9 5.2 4.1 7.7 2.8 9.7 1.2 10.9 -0.4 11.1 -2.0 10.5 -3.1 9.3 -4.4 6.9 -5.2 4.4 -5.8 -2.0 -5.0 -9.3 -5.2 -10.3 -5.9 -10.9 -8.5 -11.3 -12.5 -10.8 -14.9 -9.6 -19.8 -5.9 -22.2 -5.3 -23.5 -6.1 -24.6 -7.4 -28.7 -15.3M18.2 -28.7 21.4 -25.7 22.6 -22.2 22.4 -19.8 21.7 -17.4 20.7 -15.7 19.8 -15.2 18.2 -15.3 14.1 -16.9 10.9 -17.5 -0.4 -16.9 -10.1 -17.5 -13.3 -17.1 -19.0 -15.2 -20.6 -15.7 -21.4 -16.7 -22.3 -19.0 -22.6 -22.2 -21.4 -25.7 -18.2 -28.7M1.2 7.7 -0.4 8.0 -2.0 6.9 -3.5 3.6 -4.1 0.4 -4.1 -2.8 -3.6 -5.2 -2.0 -8.1 -0.4 -9.1 1.2 -8.8 2.4 -7.7 3.6 -5.2 4.1 -2.8 3.6 3.1 2.8 5.5 1.2 7.7" fill="none" stroke="#222" stroke-opacity="0.62" stroke-width="0.45"/></g><path d="M-5.2 -25.1 L-1.0 -30.0 Q0 -31.1 1.0 -30.0 L5.2 -25.1" fill="#fff" stroke="#333" stroke-width="0.8"/><rect x="-28.1" y="-6.5" width="2.9" height="13.0" rx="0.9" fill="#f0f0f0" stroke="#3a3a3a" stroke-width="0.75"/><rect x="25.2" y="-6.5" width="2.9" height="13.0" rx="0.9" fill="#f0f0f0" stroke="#3a3a3a" stroke-width="0.75"/><circle r="25.6" fill="none" stroke="#2e2e2e" stroke-width="0.9"/></g><g transform="translate(627.4 90.0)"><clipPath id="cpc03"><circle r="25.6"/></clipPath><g clip-path="url(#cpc03)"><g filter="url(#sm)"><rect x="-30.7" y="-30.7" width="61.4" height="61.4" fill="#cae0ec"/><path d="M28.7 28.7 -28.7 28.7 -28.7 -28.7 28.7 -28.7 28.7 28.7ZM-14.1 8.5 -13.5 6.9 -13.7 6.1 -14.1 5.2 -14.9 5.1 -16.3 6.1 -16.6 7.7 -15.7 8.8 -14.9 8.9 -14.1 8.5ZM15.8 8.5 15.9 7.7 15.3 6.9 14.1 7.2 14.3 8.5 14.9 8.9 15.8 8.5Z" fill="#d4e6ee"/><path d="M28.7 28.7 -28.7 28.7 -28.7 -28.7 28.7 -28.7 28.7 28.7ZM-14.6 10.1 -13.3 9.3 -12.5 6.9 -13.2 4.4 -14.9 3.5 -16.8 4.4 -17.7 6.9 -17.4 8.5 -16.6 9.6 -15.7 10.1 -14.6 10.1ZM16.2 10.1 17.3 8.5 17.3 6.9 16.6 5.3 14.9 4.5 13.3 5.6 13.0 8.5 14.1 10.2 14.9 10.5 16.2 10.1Z" fill="#deeaf1"/><path d="M28.7 28.7 -28.7 28.7 -28.7 -28.7 28.7 -28.7 28.7 28.7ZM-13.9 10.9 -12.9 10.1 -12.0 8.5 -12.0 5.2 -13.3 3.1 -14.1 2.7 -15.7 2.7 -17.2 3.6 -18.1 5.2 -18.2 8.4 -16.6 10.8 -14.9 11.2 -13.9 10.9ZM16.7 10.9 18.0 8.5 17.8 6.1 16.6 4.1 15.6 3.6 14.1 3.7 13.2 4.4 12.3 6.1 12.4 9.3 14.1 11.3 15.7 11.4 16.7 10.9Z" fill="#e8f0f3"/><path d="M28.7 28.7 -28.7 28.7 -28.7 -28.7 28.7 -28.7 28.7 28.7ZM-13.1 11.7 -11.3 9.3 -11.2 5.2 -11.9 3.6 -13.3 2.2 -15.7 1.9 -17.4 2.9 -18.4 4.4 -18.9 6.1 -18.8 8.5 -18.2 10.3 -16.6 11.9 -14.9 12.4 -13.1 11.7ZM15.6 12.5 16.6 12.2 17.8 10.9 18.7 7.7 18.2 5.2 17.4 3.9 14.9 2.8 13.3 3.3 12.2 4.4 11.5 6.1 11.3 8.5 11.8 10.1 12.9 11.7 14.1 12.5 15.6 12.5Z" fill="#f2f4f6"/><path d="M28.7 28.7 -28.7 28.7 -28.7 -28.7 28.7 -28.7 28.7 28.7ZM-12.5 15.7 -10.9 14.9 -9.3 12.5 -9.2 10.1 -9.7 6.9 -10.4 4.4 -12.2 2.0 -14.1 1.1 -15.7 1.2 -17.4 2.0 -19.1 4.4 -19.7 6.9 -19.5 9.3 -18.6 11.7 -16.6 14.3 -14.9 15.5 -12.5 15.7ZM14.1 15.7 15.7 15.0 17.4 13.7 18.7 11.7 19.4 8.5 19.1 6.1 18.2 4.0 16.6 2.5 14.9 2.0 12.5 2.8 11.1 4.4 9.7 7.7 9.1 10.9 9.6 13.3 10.9 14.9 12.5 15.8 14.1 15.7Z" fill="#f7f3f1"/><path d="M1.2 16.6 -2.0 16.4 -4.4 14.7 -6.3 11.7 -9.6 2.8 -11.3 1.2 -13.3 0.4 -15.7 0.4 -18.3 2.0 -20.2 5.2 -21.4 10.1 -23.0 12.3 -23.8 12.8 -25.4 12.8 -28.7 11.1 -28.7 -28.7 28.7 -28.7 28.7 11.1 25.4 12.8 23.8 12.8 23.0 12.3 21.4 10.3 19.7 5.2 18.2 2.9 15.7 1.3 13.3 1.2 10.9 2.0 9.8 2.8 5.5 13.3 3.6 15.5 1.2 16.6Z" fill="#f7ebe5"/><path d="M2.0 14.4 -1.2 14.7 -2.8 14.0 -4.4 12.5 -6.6 8.5 -9.2 0.4 -10.1 -0.7 -13.3 -0.9 -16.6 -0.2 -18.6 1.2 -22.2 5.6 -23.8 6.2 -26.2 5.7 -28.7 3.7 -28.7 -28.7 28.7 -28.7 28.7 3.7 26.2 5.7 23.8 6.2 21.4 5.0 18.6 2.0 16.6 0.5 12.5 -0.7 10.1 -0.7 9.3 0.1 8.5 2.0 5.5 10.9 3.6 13.3 2.0 14.4Z" fill="#f6e2da"/><path d="M1.2 13.5 -0.4 13.6 -2.0 13.2 -4.5 10.9 -6.4 6.9 -8.5 -1.4 -9.3 -2.8 -10.1 -3.2 -12.5 -3.1 -14.9 -2.3 -21.4 1.9 -23.0 2.4 -25.4 1.9 -28.7 -1.3 -28.7 -28.7 28.7 -28.7 28.7 -1.3 25.4 1.9 23.0 2.4 20.6 1.5 13.3 -2.9 10.9 -3.3 9.4 -2.8 8.5 -1.4 6.7 6.1 5.4 9.3 3.6 11.9 1.2 13.5Z" fill="#f6dace"/><path d="M0.4 12.6 -2.0 12.1 -4.6 9.3 -6.5 4.4 -8.0 -3.6 -9.3 -5.4 -10.9 -5.5 -13.3 -5.1 -19.8 -1.5 -22.2 -0.7 -24.6 -1.2 -28.2 -5.2 -28.7 -6.0 -28.7 -28.7 28.7 -28.7 28.7 -6.0 25.4 -1.9 23.0 -0.7 20.6 -1.1 13.3 -5.1 10.9 -5.5 9.3 -5.4 8.0 -3.6 6.5 4.4 5.1 8.5 2.8 11.5 0.4 12.6Z" fill="#f6d2c2"/><path d="M2.0 11.1 0.4 11.7 -1.2 11.5 -2.8 10.5 -4.4 8.3 -6.3 2.8 -7.4 -6.1 -8.5 -7.6 -10.9 -7.8 -13.3 -7.3 -21.4 -3.5 -23.8 -4.2 -25.4 -5.8 -28.7 -10.9 -28.7 -28.7 28.7 -28.7 28.7 -10.9 26.2 -6.9 23.8 -4.2 21.4 -3.5 13.3 -7.3 10.9 -7.8 8.5 -7.6 7.4 -6.1 6.5 1.2 5.4 6.1 3.8 9.3 2.0 11.1Z" fill="#f5cab7"/><path d="M1.2 10.5 -0.4 10.7 -2.0 10.0 -3.6 8.3 -4.7 6.1 -6.1 0.4 -6.2 -8.5 -6.9 -10.0 -9.3 -10.4 -12.5 -10.0 -20.6 -6.6 -22.2 -6.8 -24.1 -8.5 -28.7 -17.7 -28.7 -28.0 -28.2 -28.7 28.2 -28.7 28.7 -28.0 28.7 -17.7 24.6 -9.2 23.0 -7.3 20.6 -6.6 12.5 -10.0 9.3 -10.4 6.9 -10.0 6.2 -8.5 6.2 -1.2 5.3 4.4 3.6 8.3 1.2 10.5Z" fill="#f5c2ab"/><path d="M1.2 9.4 -0.4 9.6 -2.0 8.9 -3.6 6.8 -4.8 3.6 -5.6 -2.8 -5.3 -6.1 -4.1 -10.9 -4.4 -12.5 -6.9 -13.3 -10.9 -13.3 -19.8 -10.4 -21.4 -10.9 -23.0 -12.7 -24.9 -17.4 -25.5 -22.2 -24.8 -25.4 -22.6 -28.7 22.6 -28.7 23.9 -27.1 25.3 -23.8 25.4 -19.8 23.8 -14.3 21.4 -10.9 19.0 -10.5 13.3 -12.8 10.9 -13.3 6.9 -13.3 4.4 -12.5 4.1 -10.9 5.6 -3.6 5.3 1.2 3.6 6.8 1.2 9.4Z" fill="#f5ba9f"/><path d="M4.4 -16.5 -0.4 -16.1 -11.7 -17.2 -18.2 -16.8 -19.2 -17.4 -20.1 -19.0 -20.2 -22.2 -18.7 -25.4 -14.8 -28.7 14.8 -28.7 18.0 -26.2 19.7 -23.8 20.4 -21.4 20.3 -19.8 19.8 -18.2 19.0 -17.2 17.4 -16.7 11.7 -17.2 4.4 -16.5ZM1.2 8.1 0.4 8.4 -1.2 8.1 -2.8 6.4 -4.3 2.8 -4.9 -0.4 -4.8 -4.4 -3.9 -7.7 -2.0 -10.6 -0.4 -11.5 1.2 -11.2 2.8 -9.6 4.2 -6.9 4.9 -3.6 4.9 -0.4 4.0 3.6 2.8 6.4 1.2 8.1Z" fill="#f4b194"/><path d="M2.0 -21.3 -1.2 -21.2 -4.4 -21.9 -6.3 -23.0 -6.8 -24.6 -5.2 -26.3 -1.2 -27.4 3.4 -27.1 6.4 -25.4 6.8 -23.8 6.3 -23.0 4.4 -21.9 2.0 -21.3ZM1.2 6.3 -0.4 6.7 -2.0 5.4 -3.5 2.0 -4.1 -1.2 -4.0 -4.4 -3.2 -6.9 -2.0 -8.6 -0.4 -9.5 1.2 -9.2 2.8 -7.7 4.1 -3.6 3.6 1.7 2.6 4.4 1.2 6.3Z" fill="#f4a988"/><path d="M0.4 4.1 -1.1 3.6 -2.0 2.3 -3.2 -2.0 -2.4 -6.1 -1.2 -7.6 -0.4 -7.9 1.0 -7.7 2.0 -6.7 2.8 -5.1 3.2 -2.8 2.9 -0.4 2.1 2.0 0.4 4.1Z" fill="#f29d7d"/><path d="M0.4 0.1 -0.4 0.1 -1.5 -2.0 -1.4 -4.4 -0.4 -5.7 1.0 -5.2 1.6 -3.6 1.3 -1.2 0.4 0.1Z" fill="#ee8c73"/></g><path d="M-14.5 10.9 -13.3 10.3 -12.5 9.3 -11.9 6.9 -12.5 4.3 -13.3 3.3 -14.9 2.7 -16.6 3.2 -17.4 4.1 -18.3 6.9 -18.0 8.5 -17.1 10.1 -15.7 10.9 -14.5 10.9M16.4 10.9 17.4 9.9 17.9 8.5 17.7 6.1 16.6 4.3 14.9 3.7 14.1 3.9 13.3 4.5 12.4 6.1 12.5 9.1 14.1 11.1 14.9 11.3 16.4 10.9M-10.9 15.7 -9.4 14.1 -8.8 12.5 -8.9 10.1 -9.7 6.1 -10.7 3.6 -12.1 2.0 -14.1 1.1 -15.7 1.1 -17.4 2.0 -19.1 4.4 -19.7 6.9 -19.4 10.1 -18.2 12.8 -15.7 15.6 -13.3 16.6 -10.9 15.7M15.6 15.7 17.4 14.1 18.8 11.7 19.3 10.1 19.5 7.7 18.9 5.2 18.0 3.6 16.6 2.4 14.9 1.9 12.5 2.8 11.0 4.4 9.5 7.7 8.8 11.7 9.3 13.9 10.9 15.8 13.3 16.6 15.6 15.7M28.7 1.9 26.2 4.1 23.8 4.8 21.4 3.9 18.2 1.1 15.7 -0.3 12.5 -1.5 10.1 -1.6 9.3 -0.9 8.5 0.9 6.6 7.7 5.1 10.9 2.8 13.5 0.4 14.4 -2.0 14.0 -4.6 11.7 -6.6 7.7 -8.7 0.4 -9.3 -0.9 -10.1 -1.6 -12.5 -1.6 -16.6 -0.6 -19.0 1.2 -21.4 3.7 -23.8 4.8 -26.2 4.1 -28.7 1.9M28.7 -8.8 25.0 -3.6 23.8 -2.8 22.2 -2.3 19.8 -2.9 13.3 -6.4 10.1 -6.9 8.5 -6.5 7.7 -5.2 6.5 2.8 5.0 7.7 2.8 10.9 0.4 12.1 -1.2 11.9 -2.8 10.9 -5.0 7.7 -6.5 2.8 -7.7 -5.2 -8.5 -6.5 -10.1 -6.9 -13.3 -6.4 -19.8 -2.9 -22.2 -2.3 -23.8 -2.8 -25.0 -3.6 -28.7 -8.8M23.5 -28.7 25.6 -25.4 26.2 -21.4 25.2 -16.6 23.1 -11.7 21.4 -10.1 19.8 -9.7 11.7 -12.7 7.7 -12.9 5.2 -12.4 4.5 -10.9 5.7 -3.6 5.2 2.3 4.4 5.2 3.2 7.7 2.0 9.1 0.4 9.8 -1.2 9.6 -2.8 8.2 -4.1 6.1 -5.1 2.8 -5.7 -3.6 -4.5 -10.9 -5.2 -12.4 -7.7 -12.9 -11.7 -12.7 -19.8 -9.7 -21.4 -10.1 -23.1 -11.7 -25.2 -16.6 -26.2 -21.4 -25.6 -25.4 -23.5 -28.7M0.4 -22.2 -1.2 -22.2 -3.6 -23.0 -4.5 -23.8 -4.5 -24.6 -2.8 -26.0 -0.4 -26.4 2.8 -26.0 4.5 -24.6 4.5 -23.8 3.7 -23.0 0.4 -22.2M1.2 6.1 -0.4 6.5 -2.0 5.2 -3.4 2.0 -4.0 -1.2 -3.9 -4.4 -3.1 -6.9 -2.0 -8.4 -0.4 -9.4 1.2 -9.1 2.6 -7.7 3.6 -5.5 4.0 -3.6 3.6 1.3 2.8 3.7 1.2 6.1" fill="none" stroke="#222" stroke-opacity="0.62" stroke-width="0.45"/></g><path d="M-5.2 -25.1 L-1.0 -30.0 Q0 -31.1 1.0 -30.0 L5.2 -25.1" fill="#fff" stroke="#333" stroke-width="0.8"/><rect x="-28.1" y="-6.5" width="2.9" height="13.0" rx="0.9" fill="#f0f0f0" stroke="#3a3a3a" stroke-width="0.75"/><rect x="25.2" y="-6.5" width="2.9" height="13.0" rx="0.9" fill="#f0f0f0" stroke="#3a3a3a" stroke-width="0.75"/><circle r="25.6" fill="none" stroke="#2e2e2e" stroke-width="0.9"/></g><g transform="translate(427.3 157.7)"><clipPath id="cpc10"><circle r="25.6"/></clipPath><g clip-path="url(#cpc10)"><g filter="url(#sm)"><rect x="-30.7" y="-30.7" width="61.4" height="61.4" fill="#539fc9"/><path d="M28.7 28.8 -28.8 28.7 -28.7 -28.8 28.8 -28.7 28.7 28.8ZM-15.3 1.2 -14.2 0.4 -13.9 -1.2 -14.4 -2.8 -15.7 -3.3 -16.7 -2.0 -16.8 -0.4 -16.6 0.4 -15.3 1.2Z" fill="#61a8ce"/><path d="M28.7 28.8 -28.8 28.7 -28.7 -28.7 28.7 -28.7 28.7 28.8ZM-14.6 2.0 -13.4 0.4 -13.3 -2.0 -14.1 -3.9 -15.7 -4.5 -17.3 -2.8 -17.5 -0.4 -16.6 1.7 -15.7 2.2 -14.6 2.0ZM16.1 -1.2 15.7 -2.3 15.2 -1.2 15.7 -0.6 16.1 -1.2Z" fill="#6fb0d2"/><path d="M28.7 28.8 -28.8 28.7 -28.7 -28.7 28.7 -28.7 28.7 28.8ZM-14.7 2.8 -13.1 1.2 -12.7 -2.0 -13.7 -4.4 -14.9 -5.3 -15.7 -5.3 -17.6 -3.6 -18.1 -0.4 -17.6 1.2 -16.6 2.6 -14.7 2.8ZM16.6 0.4 17.1 -1.2 16.9 -2.8 15.7 -3.9 14.9 -3.7 14.1 -2.1 14.3 -0.4 14.9 0.6 15.7 0.9 16.6 0.4Z" fill="#7db8d7"/><path d="M28.7 28.8 -28.8 28.7 -28.7 -28.7 28.7 -28.7 28.7 28.8ZM-13.6 2.8 -12.3 0.4 -12.3 -2.8 -13.6 -5.2 -15.7 -6.1 -17.2 -5.2 -18.2 -3.7 -18.6 -2.0 -18.4 0.4 -17.8 2.0 -16.6 3.2 -14.9 3.5 -13.6 2.8ZM16.7 1.2 17.6 -0.4 17.6 -2.8 16.6 -4.5 14.9 -4.7 13.7 -2.8 13.6 -0.4 14.9 1.5 15.7 1.7 16.7 1.2Z" fill="#8bc1dc"/><path d="M28.7 28.8 -28.8 28.7 -28.7 -28.7 28.7 -28.7 28.7 28.8ZM-13.8 3.6 -12.1 1.2 -11.9 -2.8 -13.3 -5.9 -14.1 -6.5 -15.7 -6.8 -17.4 -5.9 -18.4 -4.4 -19.0 -2.0 -18.9 0.4 -18.2 2.3 -16.9 3.6 -15.7 4.1 -13.8 3.6ZM16.7 2.0 18.1 -0.4 18.1 -2.8 16.7 -5.2 14.9 -5.5 13.4 -3.6 13.1 -0.4 14.6 2.0 15.7 2.3 16.7 2.0Z" fill="#97c8df"/><path d="M28.7 28.8 -28.8 28.7 -28.7 -28.7 28.7 -28.7 28.7 28.8ZM-14.4 4.4 -13.1 3.6 -12.0 2.0 -11.3 -2.0 -11.9 -4.4 -12.8 -6.1 -14.1 -7.2 -15.7 -7.4 -17.4 -6.7 -18.5 -5.2 -19.4 -2.8 -19.5 -0.4 -18.8 2.0 -17.6 3.6 -15.7 4.6 -14.4 4.4ZM16.1 2.8 18.0 1.2 18.7 -2.0 17.6 -5.2 15.7 -6.3 14.1 -5.8 13.3 -4.7 12.6 -1.2 13.8 2.0 14.9 2.8 16.1 2.8Z" fill="#a1cde2"/><path d="M28.7 28.8 -28.8 28.7 -28.7 -28.7 28.7 -28.7 28.7 28.8ZM-13.4 4.4 -11.9 2.8 -11.2 1.2 -11.0 -2.8 -12.5 -6.5 -14.1 -7.8 -15.7 -8.1 -17.4 -7.4 -19.1 -5.2 -19.8 -2.8 -19.8 0.4 -18.8 2.8 -17.4 4.4 -15.7 5.1 -13.4 4.4ZM17.2 2.8 18.8 0.4 18.9 -3.6 17.4 -6.3 16.6 -6.8 14.9 -6.9 13.3 -5.7 12.5 -4.0 12.2 -2.0 12.4 0.4 14.1 2.9 15.7 3.4 17.2 2.8Z" fill="#abd2e4"/><path d="M28.7 28.8 -28.8 28.7 -28.7 -28.7 28.7 -28.7 28.7 28.8ZM-14.0 5.2 -12.5 4.3 -11.1 2.0 -10.5 -0.4 -10.6 -2.8 -11.2 -5.2 -12.5 -7.3 -14.1 -8.4 -15.7 -8.7 -17.4 -8.1 -19.2 -6.1 -20.1 -3.6 -20.3 -0.4 -19.7 2.0 -18.2 4.3 -15.7 5.5 -14.0 5.2ZM16.7 3.6 17.8 2.8 18.9 1.2 19.5 -2.8 18.2 -6.2 16.6 -7.5 14.9 -7.5 13.3 -6.5 12.5 -5.2 11.8 -2.8 11.9 -0.4 13.3 2.8 14.9 3.8 16.7 3.6Z" fill="#b5d6e7"/><path d="M28.7 28.8 -28.8 28.7 -28.7 -28.7 28.7 -28.7 28.7 28.8ZM-13.1 5.2 -11.5 3.6 -10.4 1.2 -10.3 -3.6 -11.1 -6.1 -12.5 -8.0 -14.1 -9.1 -15.7 -9.3 -18.2 -8.1 -19.7 -6.1 -20.7 -2.8 -20.6 0.4 -19.3 3.6 -17.6 5.2 -14.9 5.9 -13.1 5.2ZM17.5 3.6 19.0 2.0 19.6 0.4 19.8 -3.6 18.2 -7.0 16.6 -8.1 14.9 -8.1 13.3 -7.2 12.0 -5.2 11.4 -2.8 11.6 0.4 12.5 2.4 14.1 3.9 15.7 4.3 17.5 3.6Z" fill="#bfdce9"/><path d="M28.7 28.7 -28.7 28.7 -28.7 -28.7 28.7 -28.7 28.7 28.7ZM-13.8 6.1 -11.7 4.6 -10.6 2.8 -9.8 0.4 -9.8 -2.8 -10.3 -5.2 -11.7 -7.9 -13.3 -9.3 -15.7 -9.9 -18.2 -8.8 -19.8 -6.9 -21.0 -3.6 -21.1 -0.4 -20.2 2.8 -18.3 5.2 -15.7 6.3 -13.8 6.1ZM16.9 4.4 18.2 3.6 19.8 1.2 20.3 -1.2 20.2 -3.6 19.4 -6.1 18.2 -7.7 16.6 -8.7 14.9 -8.7 13.1 -7.7 11.7 -5.6 11.0 -2.8 11.1 -0.4 11.8 2.0 13.3 3.9 14.9 4.6 16.9 4.4Z" fill="#cae0ec"/><path d="M28.7 28.7 -28.7 28.7 -28.7 -28.7 28.7 -28.7 28.7 28.7ZM-12.9 6.1 -11.1 4.4 -9.8 2.0 -9.3 -1.2 -9.6 -4.4 -10.9 -7.6 -12.5 -9.5 -14.1 -10.3 -16.6 -10.3 -19.0 -8.8 -20.8 -6.1 -21.6 -2.8 -21.4 0.4 -20.2 3.6 -18.2 5.8 -15.7 6.7 -12.9 6.1ZM17.7 4.4 19.0 3.3 20.2 1.2 20.7 -1.2 20.6 -3.6 19.8 -6.3 18.2 -8.4 16.6 -9.3 14.9 -9.3 13.2 -8.5 11.4 -6.1 10.7 -3.6 10.7 -0.4 11.7 2.5 13.3 4.4 15.7 5.1 17.7 4.4Z" fill="#d4e6ee"/><path d="M28.7 28.7 -28.7 28.7 -28.7 -28.7 28.7 -28.7 28.7 28.7ZM-13.8 6.9 -11.7 5.7 -10.1 3.6 -9.0 0.4 -9.0 -2.8 -10.0 -6.9 -11.6 -9.3 -13.3 -10.6 -15.7 -11.1 -18.2 -10.2 -20.5 -7.7 -21.8 -4.4 -22.0 -0.4 -21.1 2.8 -19.0 5.6 -16.6 7.0 -13.8 6.9ZM16.9 5.2 19.0 3.9 20.2 2.0 21.0 -0.4 21.1 -3.6 20.4 -6.1 19.0 -8.4 17.4 -9.6 14.9 -9.9 12.5 -8.6 11.3 -6.9 10.3 -3.6 10.3 -0.4 11.0 2.0 12.8 4.4 14.9 5.4 16.9 5.2Z" fill="#deeaf1"/><path d="M28.7 28.7 -28.7 28.7 -28.7 -28.7 28.7 -28.7 28.7 28.7ZM-12.8 6.9 -10.8 5.2 -9.0 2.0 -8.5 -1.2 -8.8 -4.4 -9.9 -7.7 -11.7 -10.2 -14.1 -11.6 -16.6 -11.6 -19.2 -10.1 -21.4 -7.0 -22.4 -3.6 -22.3 0.4 -21.1 3.6 -19.0 6.1 -15.7 7.5 -12.8 6.9ZM17.8 5.2 19.7 3.6 21.0 1.2 21.6 -1.2 21.4 -4.4 20.6 -6.9 19.0 -9.1 17.4 -10.2 14.9 -10.6 12.5 -9.3 10.9 -7.1 9.9 -3.6 9.9 -0.4 10.9 2.7 12.5 4.7 14.9 5.8 17.8 5.2Z" fill="#e8f0f3"/><path d="M28.7 28.7 -28.7 28.7 -28.7 -28.7 28.7 -28.7 28.7 28.7ZM-13.8 7.7 -11.0 6.1 -9.2 3.6 -8.2 0.4 -8.1 -2.8 -9.0 -6.9 -10.8 -10.1 -13.3 -12.0 -15.7 -12.4 -19.0 -11.1 -21.3 -8.5 -22.8 -4.4 -22.9 -0.4 -22.0 2.8 -19.7 6.1 -16.6 7.7 -13.8 7.7ZM16.7 6.1 19.0 4.9 20.7 2.8 21.9 -0.4 22.0 -3.6 21.2 -6.9 19.6 -9.3 17.4 -10.9 14.9 -11.2 12.5 -10.1 10.9 -8.1 9.7 -5.2 9.4 -1.2 10.1 2.0 11.7 4.4 14.1 6.0 16.7 6.1Z" fill="#f2f4f6"/><path d="M28.7 28.7 -28.7 28.7 -28.7 -28.7 28.7 -28.7 28.7 28.7ZM-12.7 7.7 -10.1 5.7 -8.4 2.8 -7.7 -0.4 -7.9 -4.4 -9.2 -8.5 -10.9 -11.1 -13.3 -12.8 -16.6 -13.0 -19.8 -11.3 -21.9 -8.5 -23.3 -4.4 -23.3 0.4 -21.6 4.4 -19.3 6.9 -15.7 8.2 -12.7 7.7ZM17.7 6.1 20.0 4.4 21.6 2.0 22.5 -1.2 22.4 -4.4 21.4 -7.7 19.8 -10.0 17.4 -11.6 14.9 -11.9 12.5 -10.9 10.5 -8.5 9.1 -4.4 9.0 -0.4 10.1 2.8 12.0 5.2 14.9 6.5 17.7 6.1Z" fill="#f7f3f1"/><path d="M28.7 28.7 -28.7 28.7 -28.7 -28.7 28.7 -28.7 28.7 28.7ZM-14.1 8.5 -10.9 7.0 -8.7 4.4 -7.5 1.2 -7.3 -2.8 -8.3 -7.7 -10.1 -11.1 -12.5 -13.2 -15.7 -13.9 -19.0 -12.8 -21.7 -10.1 -23.6 -6.1 -24.1 -1.2 -23.0 2.8 -20.8 6.1 -17.4 8.2 -14.1 8.5ZM16.1 6.9 19.0 5.8 21.2 3.6 22.7 0.4 23.1 -2.8 22.6 -6.1 21.1 -9.3 19.0 -11.5 15.7 -12.7 13.3 -12.2 10.9 -10.1 9.0 -6.1 8.5 -2.0 8.9 1.2 10.7 4.4 13.3 6.5 16.1 6.9Z" fill="#f7ebe5"/><path d="M28.7 28.7 -28.7 28.7 -28.7 -28.7 28.7 -28.7 28.7 28.7ZM-12.7 8.5 -10.1 6.8 -7.8 3.6 -6.9 0.4 -7.1 -4.4 -8.4 -9.3 -10.3 -12.5 -13.3 -14.5 -16.6 -14.7 -19.8 -13.1 -23.0 -9.3 -24.4 -5.2 -24.6 -0.4 -23.2 3.6 -20.5 6.9 -16.6 8.8 -12.7 8.5ZM17.6 6.9 20.3 5.2 22.7 2.0 23.6 -1.2 23.6 -4.4 22.8 -7.7 20.6 -11.1 18.2 -12.9 14.9 -13.5 11.7 -12.0 9.6 -9.3 8.3 -5.2 8.1 -0.4 9.1 2.8 11.7 6.0 14.9 7.2 17.6 6.9Z" fill="#f6e2da"/><path d="M28.7 28.7 -28.7 28.7 -28.7 -28.7 28.7 -28.7 28.7 28.7ZM-14.7 9.3 -11.7 8.5 -8.7 6.1 -6.9 2.8 -6.3 -1.2 -7.3 -7.7 -9.3 -12.5 -11.7 -15.0 -14.9 -15.9 -19.0 -14.8 -22.2 -12.0 -24.6 -7.7 -25.4 -2.8 -24.9 1.2 -22.7 5.2 -19.0 8.3 -16.6 9.2 -14.7 9.3ZM18.5 6.9 20.9 5.2 23.3 2.0 24.3 -1.2 24.2 -5.2 22.8 -9.3 20.6 -12.2 17.4 -14.2 14.1 -14.3 12.5 -13.7 10.9 -12.4 9.0 -9.3 7.7 -4.4 7.7 0.4 9.0 3.6 11.7 6.4 14.9 7.6 18.5 6.9Z" fill="#f6dace"/><path d="M28.7 28.7 -28.7 28.7 -28.7 -28.7 28.7 -28.7 28.7 28.7ZM-12.8 9.3 -9.8 7.7 -7.0 4.4 -6.0 1.2 -5.9 -2.0 -7.2 -9.3 -9.3 -14.4 -11.7 -16.9 -14.9 -17.4 -19.0 -16.2 -21.4 -14.4 -23.1 -12.5 -25.6 -7.7 -26.2 -2.0 -25.0 2.8 -21.9 6.9 -17.4 9.4 -14.9 9.7 -12.8 9.3ZM17.4 7.7 20.5 6.1 23.5 2.8 25.1 -1.2 25.1 -5.2 23.9 -9.3 21.4 -12.9 18.2 -15.1 14.1 -15.7 12.5 -15.1 10.9 -13.9 8.9 -10.9 7.3 -5.2 7.2 0.4 8.4 3.6 10.9 6.4 14.1 7.8 17.4 7.7Z" fill="#f6d2c2"/><path d="M28.7 28.7 -28.7 28.7 -28.7 -28.7 28.7 -28.7 28.7 28.7ZM-11.6 9.3 -9.3 7.9 -7.5 6.1 -5.5 2.0 -5.6 -3.6 -7.9 -15.7 -7.3 -17.4 -6.1 -18.4 -2.0 -20.0 0.4 -20.3 8.1 -18.2 9.6 -17.4 9.7 -15.7 6.9 -6.1 6.6 0.4 7.3 2.8 8.9 5.2 11.7 7.4 14.1 8.2 17.4 8.0 20.1 6.9 23.0 4.4 25.2 1.2 26.2 -2.0 26.2 -5.2 25.6 -8.5 24.1 -11.7 22.2 -14.1 19.8 -16.2 16.6 -17.8 12.0 -19.0 9.3 -21.7 5.3 -23.0 -6.9 -22.8 -19.0 -18.3 -23.1 -14.9 -26.2 -10.1 -27.5 -4.4 -26.9 0.4 -25.9 2.8 -24.2 5.2 -20.4 8.5 -15.7 10.0 -11.6 9.3Z" fill="#f5cab7"/><path d="M28.7 28.7 -28.7 28.7 -28.7 -0.4 -27.5 2.0 -25.2 5.2 -22.4 7.7 -19.8 9.2 -17.4 10.1 -14.9 10.4 -12.5 10.0 -10.1 9.0 -6.7 6.1 -5.7 4.4 -4.9 2.0 -4.9 -2.0 -6.5 -12.5 -6.2 -14.9 -4.4 -17.0 -0.4 -18.2 3.6 -17.5 6.1 -16.1 7.0 -14.9 7.4 -12.5 5.9 -2.8 6.1 1.2 7.0 3.6 8.2 5.2 11.7 7.8 14.1 8.6 16.6 8.6 19.4 7.7 22.0 6.1 24.7 3.6 26.4 1.2 28.2 -2.8 28.7 -5.5 28.7 28.7ZM28.7 -12.3 28.7 -16.4 28.7 -12.3Z" fill="#f5c2ab"/><path d="M28.7 28.7 -28.7 28.7 -28.7 3.3 -23.4 7.7 -18.2 10.3 -15.7 10.7 -13.3 10.6 -9.3 9.0 -5.9 6.1 -4.3 2.8 -4.1 -0.4 -5.6 -10.9 -5.1 -14.1 -3.8 -15.7 -2.0 -16.6 0.4 -16.9 2.8 -16.4 5.0 -14.9 6.1 -13.1 6.2 -10.1 5.3 -2.0 5.3 1.2 6.6 4.4 9.1 6.9 13.3 8.8 17.4 8.8 21.7 6.9 28.7 1.7 28.7 28.7Z" fill="#f5b99f"/><path d="M28.7 28.7 -28.7 28.7 -28.7 5.6 -20.6 9.8 -16.6 11.0 -11.7 10.7 -7.5 8.5 -4.8 6.1 -3.3 2.8 -3.3 0.4 -4.8 -9.3 -4.4 -12.9 -3.6 -14.3 -2.0 -15.4 -0.4 -15.8 2.0 -15.5 4.4 -13.7 5.4 -10.9 4.4 0.4 4.7 2.8 5.5 4.4 8.1 6.9 12.5 9.0 16.6 9.3 19.8 8.4 26.2 5.0 28.7 4.5 28.7 28.7Z" fill="#f4b194"/><path d="M28.7 28.7 -28.7 28.7 -28.7 7.5 -26.2 7.9 -19.0 10.9 -15.7 11.5 -11.0 10.9 -6.3 8.5 -2.8 5.2 -1.9 2.8 -4.0 -6.9 -3.9 -11.7 -3.1 -13.3 -2.0 -14.2 -0.4 -14.7 1.2 -14.6 3.3 -13.3 4.5 -10.9 4.5 -6.1 3.1 2.0 3.8 4.4 5.5 6.1 10.1 8.6 14.9 9.8 19.0 9.1 25.4 6.6 28.7 6.5 28.7 28.7Z" fill="#f4a988"/><path d="M1.2 0.7 0.4 1.0 -1.2 -0.2 -2.7 -3.6 -3.4 -6.9 -3.4 -9.3 -2.9 -11.7 -2.0 -12.9 -0.4 -13.6 1.2 -13.4 2.5 -12.5 3.5 -10.9 3.9 -9.3 3.3 -3.6 2.5 -1.2 1.2 0.7ZM28.7 28.7 -28.7 28.7 -28.7 9.2 -25.4 9.2 -18.2 11.5 -14.1 11.9 -9.3 10.8 0.4 5.9 2.8 6.3 10.9 9.5 14.1 10.1 18.2 9.7 24.6 7.7 27.9 7.9 28.7 8.2 28.7 28.7Z" fill="#f29d7d"/><path d="M1.2 -1.9 -0.4 -1.8 -1.2 -2.6 -2.6 -6.9 -2.6 -9.3 -2.1 -10.9 -0.4 -12.3 1.7 -11.7 3.0 -9.3 2.8 -5.1 1.2 -1.9ZM28.7 28.7 -28.7 28.7 -28.7 10.7 -25.4 10.2 -17.4 12.1 -14.1 12.4 -10.3 11.7 -2.8 8.9 0.4 8.3 4.4 8.4 14.1 10.5 17.4 10.3 23.8 8.7 27.1 9.0 28.7 9.8 28.7 28.7Z" fill="#ee8c73"/><path d="M1.2 -4.3 0.4 -3.8 -0.4 -4.0 -1.6 -6.1 -1.5 -9.3 -0.4 -10.7 1.2 -10.3 2.0 -8.7 2.0 -6.2 1.2 -4.3ZM28.7 28.7 -28.7 28.7 -28.7 12.3 -27.1 11.5 -24.6 11.2 -14.1 12.8 -0.4 10.1 6.1 9.8 14.9 10.9 23.0 9.6 25.4 9.7 28.7 11.3 28.7 28.7Z" fill="#e97c69"/><path d="M28.7 28.7 -28.7 28.7 -28.7 13.9 -26.4 12.5 -24.6 12.1 -13.3 13.2 -4.4 11.8 5.2 11.0 14.9 11.4 22.2 10.3 24.6 10.5 26.2 11.1 28.7 12.8 28.7 28.7Z" fill="#e56b60"/><path d="M28.7 28.7 -28.7 28.7 -28.7 15.6 -26.2 13.7 -23.8 12.9 -13.3 13.8 1.2 12.8 7.7 11.9 23.8 11.2 26.2 12.3 28.7 14.5 28.7 28.7Z" fill="#e15b56"/><path d="M28.7 28.7 -28.7 28.7 -28.7 17.9 -26.0 14.9 -23.0 13.7 -14.1 14.3 0.4 14.2 9.3 12.6 23.0 11.8 26.0 13.3 28.7 16.5 28.7 28.7Z" fill="#dd4a4c"/><path d="M25.4 28.7 -25.8 28.7 -28.1 25.4 -28.5 22.2 -27.6 19.0 -26.2 16.9 -24.6 15.4 -22.2 14.5 0.4 15.5 3.6 15.1 10.1 13.3 21.4 12.4 23.8 13.0 25.4 14.2 27.3 16.6 28.6 19.8 28.6 24.6 27.4 27.1 25.4 28.7Z" fill="#d93a42"/><path d="M22.2 28.7 -22.7 28.7 -24.6 27.0 -26.1 24.6 -26.6 23.0 -26.5 20.6 -24.6 17.0 -23.0 15.7 -21.4 15.2 -18.2 15.2 0.4 17.0 4.4 16.3 11.7 13.9 18.2 13.1 21.4 13.1 23.8 14.1 25.4 15.7 26.7 18.2 27.2 20.6 27.0 23.0 26.0 25.4 23.9 27.9 22.2 28.7Z" fill="#d42938"/><path d="M19.0 28.7 -19.0 28.7 -21.8 27.1 -23.4 25.4 -24.6 23.0 -24.7 20.6 -24.3 19.0 -23.2 17.4 -20.6 16.1 -12.5 16.5 -3.6 18.3 0.4 18.5 4.4 17.8 12.5 14.5 17.4 13.8 20.6 13.8 23.0 14.8 24.6 16.6 25.5 19.0 25.6 21.4 24.9 23.8 23.8 25.4 21.4 27.5 19.0 28.7Z" fill="#d0192f"/><path d="M12.5 28.7 -14.1 28.4 -18.2 27.0 -21.4 24.8 -22.8 22.2 -22.8 19.8 -21.8 18.2 -20.6 17.4 -17.4 16.9 -12.5 17.6 -3.6 20.2 1.2 20.4 5.2 19.4 10.9 16.2 14.3 14.9 19.0 14.5 22.2 15.6 23.6 17.4 24.2 19.8 23.8 22.0 22.9 23.8 21.3 25.4 19.0 26.9 12.5 28.7Z" fill="#cc0825"/></g><path d="M-13.5 3.6 -11.9 1.2 -11.6 -0.4 -11.7 -2.8 -12.2 -4.4 -13.3 -6.1 -14.1 -6.7 -15.7 -7.0 -17.4 -6.2 -18.6 -4.4 -19.2 -2.0 -19.1 0.4 -18.2 2.6 -16.6 4.0 -14.9 4.3 -13.5 3.6M17.0 2.0 18.3 -0.4 18.2 -3.4 17.4 -5.0 16.6 -5.7 14.9 -5.8 14.1 -5.2 13.2 -3.6 13.0 -0.4 14.2 2.0 15.7 2.6 17.0 2.0M-13.2 6.1 -11.3 4.4 -10.0 2.0 -9.5 -0.4 -9.6 -3.6 -10.3 -6.1 -11.8 -8.5 -13.3 -9.7 -15.7 -10.2 -18.2 -9.3 -20.2 -6.9 -21.3 -3.6 -21.3 0.4 -20.0 3.6 -18.2 5.6 -15.7 6.6 -13.2 6.1M17.4 4.4 19.0 3.1 20.0 1.2 20.6 -1.2 20.5 -3.6 19.7 -6.1 18.2 -8.1 16.6 -9.1 14.9 -9.1 13.3 -8.3 11.6 -6.1 10.9 -3.6 10.8 -0.4 11.6 2.0 13.3 4.2 15.7 4.9 17.4 4.4M-14.4 8.5 -11.7 7.5 -9.3 5.2 -7.7 2.0 -7.3 -2.0 -8.1 -6.9 -10.1 -11.0 -12.5 -13.1 -15.7 -13.8 -19.0 -12.6 -21.6 -10.1 -23.5 -6.1 -24.0 -1.2 -23.0 2.8 -20.7 6.1 -17.4 8.2 -14.4 8.5M18.4 6.1 20.6 4.2 22.4 1.2 23.0 -2.0 22.8 -5.2 21.5 -8.5 19.6 -10.9 17.4 -12.3 15.7 -12.6 14.1 -12.4 11.7 -10.9 9.6 -7.7 8.6 -3.6 8.8 0.4 10.1 3.6 12.5 6.0 14.1 6.7 15.7 6.9 18.4 6.1M-28.7 0.3 -26.7 3.6 -24.5 6.1 -21.4 8.4 -19.0 9.6 -16.6 10.3 -14.1 10.4 -11.7 9.8 -9.3 8.5 -6.0 5.2 -4.8 2.0 -4.8 -2.0 -6.3 -11.7 -6.1 -14.8 -5.2 -16.1 -3.6 -17.2 -0.4 -18.0 3.6 -17.3 6.1 -15.8 6.9 -14.7 7.2 -12.5 5.9 -2.8 6.0 1.2 7.4 4.4 8.9 6.1 11.3 7.7 13.3 8.5 15.7 8.7 18.2 8.2 21.0 6.9 23.2 5.2 25.5 2.8 27.5 -0.4 28.7 -3.2M1.2 -2.8 0.4 -2.4 -0.4 -2.6 -1.3 -3.6 -2.2 -6.1 -2.4 -8.5 -2.1 -10.1 -1.2 -11.4 -0.4 -11.8 0.7 -11.7 1.8 -10.9 2.7 -8.5 2.5 -5.2 1.2 -2.8M-28.7 11.3 -27.1 10.7 -24.6 10.6 -17.4 12.3 -13.3 12.5 -10.1 11.9 -2.8 9.5 2.0 8.9 5.2 9.0 11.7 10.4 14.9 10.7 24.6 9.0 26.5 9.3 28.7 10.3M-23.9 28.7 -25.6 27.1 -26.6 25.4 -27.3 22.2 -26.9 19.8 -26.1 18.2 -24.9 16.6 -23.0 15.3 -19.0 14.9 0.4 16.4 3.6 16.0 10.9 13.7 19.8 12.7 22.2 13.0 24.4 14.1 26.4 16.6 27.4 19.0 27.8 22.2 27.3 24.6 25.7 27.1 24.0 28.7" fill="none" stroke="#222" stroke-opacity="0.62" stroke-width="0.45"/></g><path d="M-5.2 -25.1 L-1.0 -30.0 Q0 -31.1 1.0 -30.0 L5.2 -25.1" fill="#fff" stroke="#333" stroke-width="0.8"/><rect x="-28.1" y="-6.5" width="2.9" height="13.0" rx="0.9" fill="#f0f0f0" stroke="#3a3a3a" stroke-width="0.75"/><rect x="25.2" y="-6.5" width="2.9" height="13.0" rx="0.9" fill="#f0f0f0" stroke="#3a3a3a" stroke-width="0.75"/><circle r="25.6" fill="none" stroke="#2e2e2e" stroke-width="0.9"/></g><g transform="translate(494.1 157.7)"><clipPath id="cpc11"><circle r="25.6"/></clipPath><g clip-path="url(#cpc11)"><g filter="url(#sm)"><rect x="-30.7" y="-30.7" width="61.4" height="61.4" fill="#368ec0"/><path d="M28.7 28.8 -28.8 28.7 -28.7 -28.8 28.8 -28.7 28.7 28.8ZM-14.7 -0.4 -14.8 -2.0 -15.7 -2.3 -16.2 -1.2 -15.7 0.2 -14.9 0.2 -14.7 -0.4Z" fill="#4497c5"/><path d="M28.7 28.8 -28.8 28.7 -28.7 -28.8 28.8 -28.7 28.7 28.8ZM-14.4 1.2 -13.7 -0.4 -13.8 -2.0 -14.7 -3.6 -15.7 -3.8 -16.7 -2.8 -17.0 -0.4 -16.6 1.0 -15.7 1.6 -14.4 1.2Z" fill="#539fc9"/><path d="M28.7 28.8 -28.8 28.7 -28.7 -28.8 28.8 -28.7 28.7 28.8ZM-14.1 2.0 -13.1 -0.4 -13.3 -2.8 -14.1 -4.3 -15.7 -4.8 -16.6 -4.3 -17.4 -2.8 -17.5 0.4 -16.6 2.0 -15.7 2.5 -14.1 2.0ZM16.4 -0.4 16.6 -2.2 15.7 -3.3 14.9 -3.3 14.1 -2.0 14.3 -0.4 14.9 0.4 15.7 0.4 16.4 -0.4Z" fill="#61a8ce"/><path d="M28.7 28.8 -28.8 28.7 -28.7 -28.7 28.7 -28.7 28.7 28.8ZM-14.2 2.8 -13.0 1.2 -12.6 -2.0 -13.5 -4.4 -14.3 -5.2 -15.7 -5.6 -16.6 -5.2 -17.7 -3.6 -18.2 -0.4 -17.4 2.0 -16.6 2.8 -15.7 3.2 -14.2 2.8ZM16.0 1.2 17.2 -0.4 17.3 -2.0 16.6 -3.9 14.9 -4.5 13.6 -2.8 13.6 -0.4 14.7 1.2 16.0 1.2Z" fill="#6fb0d2"/><path d="M28.7 28.8 -28.8 28.7 -28.7 -28.7 28.7 -28.7 28.7 28.8ZM-14.6 3.6 -13.3 2.7 -12.5 1.3 -12.1 -2.0 -13.3 -5.2 -14.4 -6.1 -15.7 -6.3 -16.6 -6.0 -17.9 -4.4 -18.5 -2.8 -18.6 -0.4 -17.3 2.8 -15.7 3.8 -14.6 3.6ZM15.9 2.0 17.5 0.4 17.8 -2.0 17.0 -4.4 15.7 -5.3 14.9 -5.3 13.3 -3.7 12.9 -1.2 13.2 0.4 14.1 1.7 15.9 2.0Z" fill="#7db8d7"/><path d="M28.7 28.8 -28.8 28.7 -28.7 -28.7 28.7 -28.7 28.7 28.8ZM-13.6 3.6 -12.1 1.2 -11.8 -2.8 -13.3 -6.0 -14.1 -6.6 -15.7 -6.9 -17.4 -6.1 -18.4 -4.4 -19.0 -2.0 -18.9 0.4 -18.2 2.4 -16.6 4.0 -14.9 4.3 -13.6 3.6ZM16.9 2.0 18.2 -0.4 18.2 -3.0 17.0 -5.2 15.7 -6.0 14.9 -6.0 13.7 -5.2 12.8 -3.6 12.5 -0.4 13.1 1.2 14.1 2.3 15.7 2.7 16.9 2.0Z" fill="#8bc1dc"/><path d="M28.7 28.8 -28.8 28.7 -28.7 -28.7 28.7 -28.7 28.7 28.8ZM-14.0 4.4 -12.5 3.1 -11.7 1.4 -11.4 -2.8 -12.2 -5.2 -13.3 -6.7 -15.7 -7.6 -17.4 -6.8 -18.5 -5.2 -19.3 -2.8 -19.4 -0.4 -18.8 2.0 -17.4 4.0 -15.7 4.8 -14.0 4.4ZM16.7 2.8 18.4 0.4 18.7 -2.8 17.4 -5.7 16.6 -6.4 14.9 -6.7 13.3 -5.7 12.5 -4.4 12.1 -0.4 12.6 1.2 14.0 2.8 14.9 3.2 16.7 2.8Z" fill="#97c8df"/><path d="M28.7 28.8 -28.8 28.7 -28.7 -28.7 28.7 -28.7 28.7 28.8ZM-13.2 4.4 -11.9 2.8 -11.2 1.2 -10.9 -1.2 -11.2 -3.6 -12.8 -6.9 -14.1 -7.9 -15.7 -8.1 -17.4 -7.5 -19.1 -5.2 -19.8 -2.8 -19.7 0.4 -18.8 2.8 -17.4 4.5 -14.9 5.2 -13.2 4.4ZM15.9 3.6 17.4 2.9 18.5 1.2 19.1 -2.8 18.3 -5.2 17.4 -6.5 14.9 -7.3 13.3 -6.5 12.4 -5.2 11.6 -1.2 12.2 1.2 13.3 2.8 14.7 3.6 15.9 3.6Z" fill="#a1cde2"/><path d="M28.7 28.8 -28.8 28.7 -28.7 -28.7 28.7 -28.7 28.7 28.8ZM-13.8 5.2 -12.5 4.3 -11.1 2.0 -10.6 -0.4 -10.6 -2.8 -11.3 -5.2 -12.5 -7.3 -14.1 -8.5 -15.7 -8.7 -17.9 -7.7 -19.5 -5.2 -20.2 -2.8 -20.1 0.4 -19.0 3.3 -17.4 5.0 -15.7 5.6 -13.8 5.2ZM17.0 3.6 18.2 2.6 19.3 0.4 19.4 -3.6 17.7 -6.9 16.6 -7.7 14.9 -7.9 13.3 -7.2 11.9 -5.2 11.3 -2.8 11.3 -0.4 12.1 2.0 13.3 3.4 14.9 4.1 17.0 3.6Z" fill="#abd2e4"/><path d="M28.7 28.8 -28.8 28.7 -28.7 -28.7 28.7 -28.7 28.7 28.8ZM-13.0 5.2 -11.5 3.6 -10.5 1.2 -10.4 -3.6 -11.2 -6.1 -12.5 -8.0 -14.1 -9.1 -15.7 -9.3 -18.2 -8.1 -19.6 -6.1 -20.6 -2.8 -20.5 0.4 -19.2 3.6 -17.4 5.5 -14.9 6.0 -13.0 5.2ZM16.2 4.4 17.7 3.6 19.0 2.0 19.8 -0.4 19.9 -2.8 19.3 -5.2 18.2 -7.1 16.6 -8.3 14.9 -8.5 13.3 -7.8 11.9 -6.1 11.0 -3.6 10.8 -1.2 11.3 1.2 12.5 3.2 14.1 4.4 16.2 4.4Z" fill="#b5d6e7"/><path d="M28.7 28.8 -28.8 28.7 -28.7 -28.7 28.7 -28.7 28.7 28.8ZM-13.6 6.1 -11.7 4.5 -10.7 2.8 -9.9 0.4 -9.9 -2.8 -10.4 -5.2 -11.7 -7.8 -13.3 -9.3 -15.7 -9.9 -18.2 -8.8 -19.7 -6.9 -20.9 -3.6 -21.0 -0.4 -20.1 2.8 -18.3 5.2 -15.7 6.4 -13.6 6.1ZM17.2 4.4 18.9 2.8 19.8 1.2 20.3 -1.2 20.2 -3.6 19.4 -6.1 18.2 -7.8 16.6 -8.9 14.9 -9.1 13.3 -8.5 11.4 -6.1 10.6 -3.6 10.6 -0.4 11.7 2.8 13.3 4.4 14.9 4.9 17.2 4.4Z" fill="#bfdce9"/><path d="M28.7 28.7 -28.7 28.7 -28.7 -28.7 28.7 -28.7 28.7 28.7ZM-12.9 6.1 -11.2 4.4 -10.0 2.0 -9.4 -1.2 -9.7 -4.4 -10.9 -7.4 -12.5 -9.4 -14.1 -10.2 -16.6 -10.3 -19.0 -8.7 -20.6 -6.1 -21.4 -2.8 -21.1 1.2 -19.8 4.1 -17.8 6.1 -14.9 6.8 -12.9 6.1ZM16.1 5.2 18.2 4.2 19.8 2.1 20.6 -0.4 20.7 -2.8 20.2 -5.2 19.0 -7.7 17.4 -9.1 14.9 -9.7 12.5 -8.5 11.3 -6.9 10.4 -4.4 10.1 -1.2 10.6 1.2 11.9 3.6 14.1 5.2 16.1 5.2Z" fill="#cae0ec"/><path d="M28.7 28.7 -28.7 28.7 -28.7 -28.7 28.7 -28.7 28.7 28.7ZM-13.6 6.9 -11.4 5.2 -9.9 2.8 -9.2 0.4 -9.1 -2.8 -9.8 -6.1 -11.0 -8.5 -13.3 -10.5 -15.7 -11.0 -18.2 -10.1 -20.3 -7.7 -21.5 -4.4 -21.8 -0.4 -20.9 2.8 -19.0 5.6 -16.6 7.0 -13.6 6.9ZM17.2 5.2 19.0 3.9 20.3 2.0 21.0 -0.4 21.0 -3.6 20.4 -6.1 18.9 -8.5 17.4 -9.7 14.9 -10.2 12.5 -9.2 10.8 -6.9 9.8 -3.6 9.8 -0.4 10.9 2.8 12.5 4.7 14.9 5.7 17.2 5.2Z" fill="#d4e6ee"/><path d="M28.7 28.7 -28.7 28.7 -28.7 -28.7 28.7 -28.7 28.7 28.7ZM-12.8 6.9 -10.9 5.2 -9.2 2.0 -8.6 -1.2 -8.9 -4.4 -10.0 -7.7 -11.7 -10.0 -14.1 -11.4 -16.6 -11.4 -19.0 -10.1 -21.2 -6.9 -22.1 -3.6 -22.1 0.4 -20.6 4.2 -18.2 6.7 -15.7 7.5 -12.8 6.9ZM15.7 6.1 18.2 5.1 20.3 2.8 21.2 0.4 21.5 -2.8 20.9 -6.1 19.6 -8.5 17.4 -10.4 14.9 -10.8 12.5 -9.8 10.7 -7.7 9.5 -4.4 9.3 -1.2 10.1 2.0 11.6 4.4 13.3 5.6 15.7 6.1Z" fill="#deeaf1"/><path d="M28.7 28.7 -28.7 28.7 -28.7 -28.7 28.7 -28.7 28.7 28.7ZM-13.8 7.7 -11.1 6.1 -9.4 3.6 -8.4 0.4 -8.3 -2.8 -9.2 -6.9 -10.9 -9.9 -13.3 -11.8 -15.7 -12.2 -18.8 -10.9 -20.9 -8.5 -22.5 -4.4 -22.6 -0.4 -21.8 2.8 -19.5 6.1 -16.6 7.7 -13.8 7.7ZM17.1 6.1 19.5 4.4 21.1 2.0 21.8 -0.4 21.9 -3.6 21.1 -6.9 19.6 -9.3 17.4 -11.0 14.9 -11.4 12.5 -10.5 10.2 -7.7 9.1 -4.4 9.0 -0.4 10.0 2.8 12.0 5.2 14.1 6.3 17.1 6.1Z" fill="#e8f0f3"/><path d="M28.7 28.7 -28.7 28.7 -28.7 -28.7 28.7 -28.7 28.7 28.7ZM-12.8 7.7 -10.6 6.1 -8.6 2.8 -7.9 -0.4 -8.1 -4.4 -9.3 -8.3 -11.1 -10.9 -13.3 -12.4 -16.6 -12.7 -19.7 -10.9 -22.0 -7.7 -23.1 -3.6 -23.0 0.4 -21.4 4.4 -19.0 7.0 -15.7 8.2 -12.8 7.7ZM17.9 6.1 20.0 4.4 21.9 1.2 22.4 -2.0 22.1 -5.2 20.8 -8.5 19.0 -10.7 16.6 -12.0 14.1 -11.9 11.7 -10.6 9.6 -7.7 8.6 -3.6 8.7 0.4 10.0 3.6 12.5 6.0 14.9 6.8 17.9 6.1Z" fill="#f2f4f6"/><path d="M28.7 28.7 -28.7 28.7 -28.7 -28.7 28.7 -28.7 28.7 28.7ZM-14.1 8.5 -10.9 6.9 -8.9 4.4 -7.7 1.2 -7.4 -2.8 -8.2 -6.9 -10.1 -10.6 -12.5 -12.8 -15.7 -13.5 -19.0 -12.3 -21.7 -9.3 -23.4 -5.2 -23.7 -1.2 -22.7 2.8 -20.6 6.1 -17.4 8.2 -14.1 8.5ZM16.9 6.9 19.7 5.2 21.6 2.8 22.8 -0.4 22.9 -3.6 22.2 -6.9 20.4 -10.1 18.2 -12.0 14.9 -12.8 12.1 -11.7 9.9 -9.3 8.4 -5.2 8.1 -1.2 8.8 2.0 10.9 5.3 13.5 6.9 16.9 6.9Z" fill="#f7f3f1"/><path d="M28.7 28.7 -28.7 28.7 -28.7 -28.7 28.7 -28.7 28.7 28.7ZM-3.9 -19.0 -2.1 -19.8 -2.1 -20.6 -3.6 -21.2 -5.2 -21.2 -7.1 -20.6 -7.5 -19.8 -6.3 -19.0 -3.9 -19.0ZM-12.9 8.5 -10.1 6.6 -8.0 3.6 -7.1 0.4 -7.1 -3.6 -8.3 -8.5 -10.1 -11.6 -12.5 -13.6 -15.7 -14.2 -19.0 -13.1 -22.2 -9.7 -23.9 -5.2 -24.1 -0.4 -22.8 3.6 -19.8 7.3 -16.6 8.8 -12.9 8.5ZM17.8 6.9 20.6 4.9 22.5 2.0 23.4 -1.2 23.2 -5.2 21.7 -9.3 19.8 -11.7 17.4 -13.1 14.1 -13.4 10.9 -11.5 8.9 -8.5 7.7 -3.6 7.8 0.4 9.1 3.6 11.7 6.4 14.9 7.5 17.8 6.9Z" fill="#f7ebe5"/><path d="M28.7 28.7 -28.7 28.7 -28.7 -28.7 28.7 -28.7 28.7 28.7ZM-4.0 -18.2 -1.3 -19.0 -0.2 -19.8 -0.1 -20.6 -2.0 -21.8 -5.2 -22.1 -8.1 -21.4 -9.5 -19.8 -9.2 -19.0 -7.7 -18.2 -4.0 -18.2ZM-12.0 8.5 -9.0 6.1 -7.2 2.8 -6.5 -0.4 -6.9 -5.2 -8.0 -9.3 -10.1 -12.7 -13.3 -14.9 -16.6 -15.0 -19.0 -14.0 -20.6 -12.8 -23.2 -9.3 -24.7 -4.4 -24.6 0.4 -22.9 4.4 -19.8 7.7 -15.7 9.3 -12.0 8.5ZM16.4 7.7 19.8 6.1 22.1 3.6 23.6 0.4 24.0 -3.6 23.2 -7.7 20.7 -11.7 18.2 -13.7 14.9 -14.3 11.7 -13.1 9.3 -10.5 7.6 -6.1 7.2 -1.2 8.1 2.8 10.1 5.6 13.3 7.5 16.4 7.7Z" fill="#f6e2da"/><path d="M28.7 28.7 -28.7 28.7 -28.7 -28.7 28.7 -28.7 28.7 28.7ZM-5.2 -17.4 0.6 -19.0 1.5 -19.8 1.6 -20.6 -0.4 -22.2 -5.2 -22.9 -9.3 -21.9 -11.4 -19.8 -11.1 -18.2 -10.1 -17.6 -5.2 -17.4ZM-13.0 9.3 -10.1 7.7 -7.4 4.4 -6.2 1.2 -6.1 -2.8 -7.2 -8.5 -9.3 -13.0 -11.7 -15.7 -13.3 -16.3 -14.9 -16.3 -19.0 -15.0 -22.6 -11.7 -25.0 -6.9 -25.5 -2.0 -24.4 2.8 -21.5 6.9 -17.4 9.3 -14.9 9.6 -13.0 9.3ZM17.7 7.7 20.6 6.0 23.2 2.8 24.6 -1.2 24.6 -5.2 23.3 -9.3 20.6 -13.0 17.4 -14.9 14.1 -15.1 10.9 -13.6 8.5 -10.4 7.0 -5.2 6.9 0.4 8.0 3.6 11.0 6.9 14.1 8.1 17.7 7.7Z" fill="#f6dace"/><path d="M28.7 28.7 -28.7 28.7 -28.7 -28.7 28.7 -28.7 28.7 28.7ZM-12.0 9.3 -10.1 8.2 -7.9 6.1 -6.4 3.6 -5.7 1.2 -5.5 -2.0 -6.3 -6.9 -8.9 -14.9 -8.5 -15.7 -7.7 -16.1 -0.4 -17.8 2.6 -19.0 3.4 -19.8 3.5 -20.6 3.1 -21.4 1.2 -22.6 -2.0 -23.5 -5.2 -23.7 -8.5 -23.2 -10.9 -22.3 -12.3 -21.4 -15.2 -18.2 -19.0 -16.4 -21.4 -14.6 -23.3 -12.5 -25.1 -9.3 -26.1 -6.1 -26.4 -2.0 -25.8 1.2 -24.2 4.4 -21.2 7.7 -18.2 9.4 -14.9 10.0 -12.0 9.3ZM15.0 8.5 18.6 7.7 22.0 5.2 24.3 2.0 25.5 -2.8 24.9 -7.7 22.5 -12.5 19.0 -15.5 15.7 -16.4 13.3 -16.1 11.7 -15.5 8.7 -12.5 7.1 -8.5 6.2 -2.0 6.7 2.0 8.6 5.2 11.6 7.7 15.0 8.5Z" fill="#f6d2c2"/><path d="M28.7 28.7 -28.7 28.7 -28.7 -28.7 28.7 -28.7 28.7 28.7ZM-13.2 10.1 -10.1 8.7 -7.9 6.9 -6.1 4.4 -5.2 2.0 -5.0 -2.0 -7.2 -13.3 -6.9 -14.9 -5.6 -15.7 3.9 -18.2 5.5 -19.0 6.0 -19.8 5.7 -21.4 3.6 -23.1 0.4 -24.2 -3.6 -24.8 -8.5 -24.4 -11.7 -23.5 -14.9 -21.7 -22.2 -16.0 -24.5 -13.3 -25.9 -10.9 -27.2 -6.9 -27.6 -3.6 -27.0 0.4 -25.5 3.6 -22.8 6.9 -19.8 9.0 -16.6 10.2 -13.2 10.1ZM17.4 8.5 21.8 6.1 24.7 2.8 26.3 -1.2 26.5 -6.1 25.1 -10.9 22.2 -15.0 18.2 -17.6 14.1 -18.0 12.5 -17.7 10.1 -16.4 8.0 -13.3 6.1 -6.1 5.7 0.4 7.3 4.4 10.1 7.2 13.3 8.6 17.4 8.5Z" fill="#f5cab7"/><path d="M-28.7 -20.3 -28.7 -28.7 -24.4 -28.7 -27.5 -23.8 -28.7 -20.3ZM28.7 -15.6 27.3 -19.8 25.0 -23.8 22.2 -26.9 19.6 -28.7 28.7 -28.7 28.7 -15.6ZM28.7 28.7 -28.7 28.7 -28.7 -0.2 -27.6 2.0 -25.3 5.2 -20.2 9.3 -15.7 10.7 -13.3 10.5 -10.9 9.7 -8.5 8.1 -6.5 6.1 -4.5 2.0 -4.5 -2.0 -6.0 -12.5 -5.8 -14.1 -3.6 -15.6 -0.4 -16.5 2.8 -16.9 5.5 -16.6 6.5 -15.7 6.7 -14.1 5.1 -2.8 5.2 1.2 6.5 4.4 10.1 7.8 12.5 8.8 14.9 9.2 17.4 8.8 20.6 7.5 23.6 5.2 25.7 2.8 27.6 -0.4 28.7 -3.6 28.7 28.7Z" fill="#f5c2ab"/><path d="M28.7 28.7 -28.7 28.7 -28.7 3.4 -23.6 7.7 -18.2 10.5 -14.1 11.0 -11.7 10.4 -9.4 9.3 -5.6 6.1 -3.8 2.8 -3.7 -0.4 -5.1 -10.1 -4.8 -13.3 -3.6 -14.7 -1.2 -15.7 1.2 -16.0 3.6 -15.5 5.1 -14.1 5.4 -12.5 4.3 -1.2 4.5 2.0 6.2 5.2 9.0 7.7 13.3 9.4 15.7 9.5 18.2 9.0 22.4 6.9 28.7 2.0 28.7 28.7Z" fill="#f5b99f"/><path d="M28.7 28.7 -28.7 28.7 -28.7 5.7 -20.4 10.1 -16.6 11.3 -12.5 11.1 -8.4 9.3 -4.6 6.1 -2.7 2.8 -2.7 0.4 -4.3 -8.5 -4.0 -12.5 -2.0 -14.5 -0.4 -15.0 2.0 -14.9 4.0 -13.3 4.6 -10.9 3.3 2.0 4.4 4.4 6.9 6.9 11.3 9.3 15.7 9.8 19.8 8.8 26.2 5.3 28.7 4.6 28.7 28.7Z" fill="#f4b194"/><path d="M28.7 28.7 -28.7 28.7 -28.7 7.5 -26.2 8.0 -19.0 11.1 -14.9 11.8 -10.1 10.7 -5.0 7.7 -1.3 4.4 -0.3 2.8 -3.2 -5.2 -3.6 -9.3 -3.2 -11.7 -2.1 -13.3 -1.2 -13.8 1.2 -14.0 3.1 -12.5 3.8 -10.1 3.4 -4.4 1.1 2.8 3.2 5.2 9.3 9.0 14.1 10.2 18.2 9.7 26.2 6.6 28.7 6.6 28.7 28.7Z" fill="#f4a988"/><path d="M1.2 -1.7 0.4 -1.3 -0.4 -1.5 -1.2 -2.2 -2.8 -6.9 -2.4 -10.9 -1.2 -12.5 -0.4 -12.8 1.2 -12.6 2.0 -11.9 3.0 -9.3 2.8 -5.2 1.2 -1.7ZM28.7 28.7 -28.7 28.7 -28.7 9.2 -25.4 9.3 -19.0 11.5 -14.9 12.2 -10.1 11.3 -2.0 7.3 0.4 6.7 3.6 7.2 10.8 10.1 14.1 10.6 18.2 10.1 25.4 7.9 28.7 8.3 28.7 28.7Z" fill="#f29d7d"/><path d="M0.4 -3.5 -0.4 -3.7 -1.2 -4.6 -1.9 -6.9 -1.8 -9.3 -1.2 -10.6 -0.4 -11.2 1.2 -10.7 2.2 -8.5 1.8 -5.2 0.4 -3.5ZM28.7 28.7 -28.7 28.7 -28.7 10.7 -25.4 10.2 -17.4 12.3 -14.1 12.6 -10.9 12.1 -3.6 9.3 -0.4 8.6 3.6 8.7 10.9 10.6 14.1 11.0 17.4 10.7 23.8 9.0 27.1 9.1 28.7 9.8 28.7 28.7Z" fill="#ee8c73"/><path d="M0.4 -6.7 -0.4 -7.7 0.4 -8.3 0.4 -6.7ZM28.7 28.7 -28.7 28.7 -28.7 12.3 -27.1 11.5 -24.6 11.2 -17.4 12.8 -14.1 13.0 -1.2 10.2 4.4 10.1 14.1 11.4 23.0 9.8 26.2 10.0 28.7 11.3 28.7 28.7Z" fill="#e97c69"/><path d="M28.7 28.7 -28.7 28.7 -28.7 13.9 -26.4 12.5 -24.6 12.1 -14.1 13.5 -2.8 11.7 6.1 11.2 14.1 11.9 22.2 10.6 25.4 10.8 28.7 12.8 28.7 28.7Z" fill="#e56b60"/><path d="M28.7 28.7 -28.7 28.7 -28.7 15.6 -26.2 13.7 -23.8 13.0 -13.3 13.9 -5.2 13.0 6.9 12.2 14.1 12.3 23.8 11.3 26.2 12.3 28.7 14.5 28.7 28.7Z" fill="#e15b56"/><path d="M28.7 28.7 -28.7 28.7 -28.7 17.9 -26.0 14.9 -23.0 13.7 -14.1 14.5 0.4 14.2 8.5 13.0 23.0 12.0 25.9 13.3 28.7 16.5 28.7 28.7Z" fill="#dd4a4c"/><path d="M25.4 28.7 -25.8 28.7 -28.1 25.4 -28.5 22.2 -27.6 19.0 -26.2 16.9 -24.6 15.4 -22.2 14.5 0.4 15.5 10.1 13.7 22.2 12.7 24.1 13.3 26.1 14.9 27.7 17.4 28.6 19.8 28.6 24.6 27.4 27.1 25.4 28.7Z" fill="#d93a42"/><path d="M22.2 28.7 -22.7 28.7 -24.6 27.0 -26.1 24.6 -26.6 23.0 -26.4 20.6 -24.6 17.0 -23.0 15.8 -21.4 15.3 0.4 17.0 3.6 16.5 11.7 14.2 21.4 13.4 23.6 14.1 25.4 15.7 26.7 18.2 27.2 20.6 27.0 23.0 26.0 25.4 23.9 27.9 22.2 28.7Z" fill="#d42938"/><path d="M19.0 28.7 -19.0 28.7 -21.8 27.1 -23.4 25.4 -24.6 23.0 -24.7 20.6 -24.3 19.0 -23.1 17.4 -20.6 16.2 -13.1 16.6 -3.6 18.3 0.4 18.5 4.4 17.8 12.2 14.9 17.4 14.1 21.1 14.1 23.0 14.9 24.5 16.6 25.5 19.0 25.6 21.4 24.9 23.8 23.8 25.4 21.4 27.5 19.0 28.7Z" fill="#d0192f"/><path d="M12.5 28.7 -14.1 28.4 -18.2 27.0 -21.4 24.8 -22.8 22.2 -22.8 19.8 -21.7 18.2 -20.6 17.4 -17.4 17.1 -11.7 17.9 -3.6 20.2 1.2 20.4 5.2 19.4 10.5 16.6 14.1 15.4 19.0 14.8 22.3 15.7 23.6 17.4 24.2 19.8 23.8 22.0 22.9 23.8 21.3 25.4 19.0 26.9 12.5 28.7Z" fill="#cc0825"/></g><path d="M-13.5 3.6 -12.0 1.2 -11.8 -2.8 -12.5 -5.0 -13.3 -6.1 -14.4 -6.9 -15.7 -7.0 -17.4 -6.2 -18.5 -4.4 -19.1 -2.0 -19.0 0.4 -18.2 2.5 -16.6 4.1 -14.9 4.4 -13.5 3.6M17.1 2.0 18.3 -0.4 18.2 -3.3 17.4 -5.0 16.6 -5.8 14.9 -6.1 13.6 -5.2 12.7 -3.6 12.5 -0.1 13.0 1.2 14.1 2.4 15.7 2.8 17.1 2.0M-13.1 6.1 -11.4 4.4 -10.1 2.0 -9.6 -0.4 -9.7 -3.6 -10.4 -6.1 -11.9 -8.5 -13.3 -9.7 -15.7 -10.2 -18.2 -9.1 -20.0 -6.9 -21.1 -3.6 -21.1 0.4 -19.9 3.6 -18.2 5.6 -15.7 6.7 -13.1 6.1M17.6 4.4 19.0 3.1 20.0 1.2 20.5 -1.2 20.4 -3.6 19.7 -6.1 18.2 -8.3 16.6 -9.3 14.9 -9.4 12.5 -8.2 11.1 -6.1 10.3 -2.8 10.5 0.4 11.5 2.8 13.3 4.7 15.7 5.2 17.6 4.4M-14.0 8.5 -10.9 6.9 -8.9 4.4 -7.7 1.2 -7.4 -2.8 -8.2 -6.9 -10.1 -10.7 -12.5 -12.8 -15.7 -13.5 -19.0 -12.3 -21.8 -9.3 -23.4 -5.2 -23.7 -1.2 -22.7 2.8 -20.6 6.1 -17.4 8.2 -14.0 8.5M16.9 6.9 19.7 5.2 21.6 2.8 22.8 -0.4 22.9 -3.6 22.2 -6.9 20.4 -10.1 18.2 -12.0 16.6 -12.7 14.9 -12.8 12.1 -11.7 9.9 -9.3 8.4 -5.2 8.1 -0.4 9.5 3.6 11.7 6.0 14.1 7.0 16.9 6.9M-12.5 10.1 -10.1 9.0 -7.6 6.9 -5.8 4.4 -4.9 2.0 -4.8 -2.0 -6.6 -13.3 -6.0 -14.9 -3.6 -16.0 1.2 -17.1 7.7 -17.9 8.3 -17.4 5.7 -5.2 5.3 -1.2 5.5 1.2 6.9 4.4 9.2 6.9 11.7 8.3 14.9 9.0 18.2 8.4 21.1 6.9 23.9 4.4 26.1 1.2 27.3 -2.8 27.4 -6.1 26.6 -10.1 25.0 -13.3 22.4 -16.6 19.8 -18.4 15.7 -19.5 9.3 -18.8 7.9 -21.4 6.9 -22.5 4.4 -24.0 1.2 -25.0 -3.6 -25.6 -8.5 -25.3 -12.5 -24.3 -15.7 -22.8 -22.2 -17.8 -26.0 -13.3 -27.5 -10.1 -28.1 -7.7 -28.3 -2.8 -27.6 0.4 -26.5 2.8 -24.8 5.2 -22.2 7.7 -19.8 9.3 -17.4 10.2 -14.9 10.5 -12.5 10.1M0.4 -3.4 -0.4 -3.5 -1.2 -4.4 -2.0 -6.9 -1.9 -9.3 -1.2 -10.7 -0.4 -11.3 1.2 -10.9 2.2 -8.5 1.9 -5.2 1.2 -4.0 0.4 -3.4M-28.7 10.7 -25.4 10.2 -18.2 12.2 -14.1 12.6 -10.1 11.8 -2.8 9.0 0.4 8.5 4.4 8.8 10.9 10.6 14.1 11.0 17.4 10.7 24.6 8.8 26.2 8.9 28.7 9.7M-24.6 28.7 -26.2 27.1 -27.2 25.4 -27.7 23.8 -27.7 21.4 -26.9 19.0 -26.0 17.4 -24.6 16.0 -23.0 15.1 -19.8 14.8 0.4 16.1 3.6 15.6 10.1 14.0 20.6 12.9 23.0 13.2 24.7 14.1 26.7 16.6 27.8 19.0 28.2 22.2 27.7 24.6 26.4 27.1 24.7 28.7" fill="none" stroke="#222" stroke-opacity="0.62" stroke-width="0.45"/></g><path d="M-5.2 -25.1 L-1.0 -30.0 Q0 -31.1 1.0 -30.0 L5.2 -25.1" fill="#fff" stroke="#333" stroke-width="0.8"/><rect x="-28.1" y="-6.5" width="2.9" height="13.0" rx="0.9" fill="#f0f0f0" stroke="#3a3a3a" stroke-width="0.75"/><rect x="25.2" y="-6.5" width="2.9" height="13.0" rx="0.9" fill="#f0f0f0" stroke="#3a3a3a" stroke-width="0.75"/><circle r="25.6" fill="none" stroke="#2e2e2e" stroke-width="0.9"/></g><g transform="translate(560.8 157.7)"><clipPath id="cpc12"><circle r="25.6"/></clipPath><g clip-path="url(#cpc12)"><g filter="url(#sm)"><rect x="-30.7" y="-30.7" width="61.4" height="61.4" fill="#368ec0"/><path d="M28.7 28.8 -28.8 28.7 -28.7 -28.8 28.8 -28.7 28.7 28.8ZM-14.5 0.4 -14.1 -0.4 -14.3 -2.0 -14.9 -3.0 -15.7 -3.0 -16.5 -2.0 -16.6 -0.3 -15.7 0.9 -14.5 0.4Z" fill="#4497c5"/><path d="M28.7 28.8 -28.8 28.7 -28.7 -28.8 28.8 -28.7 28.7 28.8ZM-14.0 1.2 -13.4 -0.4 -13.5 -2.0 -14.2 -3.6 -15.7 -4.1 -16.6 -3.6 -17.2 -2.0 -17.1 0.4 -15.7 2.0 -14.9 2.0 -14.0 1.2Z" fill="#539fc9"/><path d="M28.7 28.8 -28.8 28.7 -28.7 -28.8 28.8 -28.7 28.7 28.8ZM-13.9 2.0 -12.9 -0.4 -13.1 -2.8 -14.1 -4.6 -15.7 -5.0 -16.7 -4.4 -17.6 -2.8 -17.7 0.4 -16.8 2.0 -15.7 2.8 -14.9 2.7 -13.9 2.0ZM16.0 0.4 16.8 -1.2 16.6 -2.7 15.7 -3.6 14.9 -3.6 14.1 -2.6 14.1 -0.4 14.9 0.6 16.0 0.4Z" fill="#61a8ce"/><path d="M28.7 28.8 -28.8 28.7 -28.7 -28.7 28.7 -28.7 28.7 28.8ZM-13.9 2.8 -12.6 0.4 -12.6 -2.8 -14.0 -5.2 -15.7 -5.8 -16.8 -5.2 -17.9 -3.6 -18.3 -2.0 -18.2 0.4 -16.6 3.0 -14.9 3.4 -13.9 2.8ZM16.3 1.2 17.3 -0.4 17.4 -2.4 16.6 -4.1 14.9 -4.6 13.5 -2.8 13.4 -0.4 14.1 1.0 14.9 1.5 16.3 1.2Z" fill="#6fb0d2"/><path d="M28.7 28.8 -28.8 28.7 -28.7 -28.7 28.7 -28.7 28.7 28.8ZM-14.1 3.6 -12.4 1.2 -12.2 -2.8 -13.3 -5.4 -14.1 -6.1 -15.7 -6.5 -17.4 -5.5 -18.2 -4.2 -18.7 -2.0 -18.6 0.4 -18.0 2.0 -16.6 3.6 -15.7 3.9 -14.1 3.6ZM16.2 2.0 17.6 0.4 17.8 -2.8 16.6 -5.1 14.9 -5.4 13.2 -3.6 12.9 -0.4 14.1 1.8 14.9 2.2 16.2 2.0Z" fill="#7db8d7"/><path d="M28.7 28.8 -28.8 28.7 -28.7 -28.7 28.7 -28.7 28.7 28.8ZM-13.4 3.6 -11.7 0.4 -11.7 -2.8 -13.3 -6.2 -14.3 -6.9 -15.7 -7.1 -17.4 -6.2 -18.5 -4.4 -19.1 -2.0 -19.0 0.4 -18.2 2.6 -16.6 4.2 -14.9 4.4 -13.4 3.6ZM17.1 2.0 18.3 -0.4 18.2 -3.4 16.6 -5.8 14.9 -6.2 13.5 -5.2 12.6 -3.6 12.5 -0.1 14.1 2.5 15.7 2.8 17.1 2.0Z" fill="#8bc1dc"/><path d="M28.7 28.8 -28.8 28.7 -28.7 -28.7 28.7 -28.7 28.7 28.8ZM-13.8 4.4 -12.5 3.3 -11.5 1.2 -11.3 -2.8 -12.1 -5.2 -13.3 -6.9 -15.7 -7.7 -17.4 -6.9 -19.0 -4.5 -19.5 -2.0 -19.4 0.4 -18.5 2.8 -17.4 4.2 -15.7 4.9 -13.8 4.4ZM16.8 2.8 18.5 0.4 18.7 -2.8 17.4 -5.9 16.6 -6.5 14.9 -6.8 13.6 -6.1 12.5 -4.6 12.0 -2.8 12.0 -0.4 12.5 1.2 14.1 3.0 15.7 3.3 16.8 2.8Z" fill="#97c8df"/><path d="M28.7 28.8 -28.8 28.7 -28.7 -28.7 28.7 -28.7 28.7 28.8ZM-14.6 5.2 -13.1 4.4 -11.8 2.8 -11.0 0.4 -10.9 -2.0 -11.3 -4.4 -12.5 -6.7 -14.1 -8.0 -15.7 -8.3 -17.4 -7.6 -19.0 -5.6 -19.8 -2.8 -19.9 -0.4 -19.3 2.0 -18.2 3.9 -16.6 5.1 -14.6 5.2ZM16.2 3.6 17.5 2.8 18.6 1.2 19.2 -2.8 18.4 -5.2 17.4 -6.6 14.9 -7.4 13.3 -6.6 12.3 -5.2 11.6 -2.8 11.6 -0.4 12.1 1.2 13.3 3.0 14.9 3.8 16.2 3.6Z" fill="#a1cde2"/><path d="M28.7 28.8 -28.8 28.7 -28.7 -28.7 28.7 -28.7 28.7 28.8ZM-13.5 5.2 -11.9 3.6 -11.0 2.0 -10.5 -0.4 -10.6 -2.8 -11.2 -5.2 -12.5 -7.5 -14.1 -8.6 -15.7 -8.8 -17.4 -8.2 -19.2 -6.1 -20.2 -2.8 -20.2 0.4 -19.0 3.5 -17.4 5.1 -15.7 5.7 -13.5 5.2ZM17.2 3.6 18.6 2.0 19.3 0.4 19.4 -3.6 17.8 -6.9 16.6 -7.8 14.9 -8.0 13.3 -7.3 11.9 -5.2 11.2 -2.8 11.2 -0.4 12.1 2.0 13.3 3.5 14.9 4.2 17.2 3.6Z" fill="#abd2e4"/><path d="M28.7 28.8 -28.8 28.7 -28.7 -28.7 28.7 -28.7 28.7 28.8ZM-14.6 6.1 -12.9 5.2 -11.4 3.6 -10.4 1.2 -10.1 -2.0 -10.5 -4.4 -11.7 -7.2 -13.3 -8.8 -15.7 -9.4 -18.2 -8.2 -19.7 -6.1 -20.5 -3.6 -20.6 -0.4 -20.1 2.0 -18.7 4.4 -16.6 6.0 -14.6 6.1ZM16.4 4.4 17.8 3.6 19.1 2.0 19.9 -0.4 20.0 -2.8 19.4 -5.2 18.2 -7.2 16.6 -8.4 14.9 -8.6 13.3 -7.9 11.7 -6.0 10.9 -3.5 10.9 -0.4 11.6 2.0 12.9 3.6 14.9 4.6 16.4 4.4Z" fill="#b5d6e7"/><path d="M28.7 28.8 -28.8 28.7 -28.7 -28.7 28.7 -28.7 28.7 28.8ZM-13.4 6.1 -11.5 4.4 -10.3 2.0 -9.8 -0.4 -9.9 -3.6 -10.9 -6.6 -12.2 -8.5 -14.1 -9.7 -15.7 -9.9 -18.2 -8.8 -19.8 -6.8 -20.9 -3.6 -20.9 0.4 -19.8 3.5 -18.2 5.5 -15.7 6.5 -13.4 6.1ZM17.3 4.4 19.0 2.9 19.8 1.2 20.4 -1.2 20.3 -3.6 19.5 -6.1 18.2 -7.9 16.6 -9.0 14.9 -9.2 12.5 -7.9 11.3 -6.1 10.5 -3.6 10.5 -0.4 11.7 2.8 13.3 4.4 14.9 5.0 17.3 4.4Z" fill="#bfdce9"/><path d="M28.7 28.7 -28.7 28.7 -28.7 -28.7 28.7 -28.7 28.7 28.7ZM-14.8 6.9 -12.5 5.9 -10.9 4.1 -9.7 1.2 -9.4 -2.0 -10.1 -5.8 -11.6 -8.5 -13.3 -10.0 -15.7 -10.5 -18.2 -9.5 -19.8 -7.7 -21.2 -4.4 -21.5 -1.2 -20.9 2.0 -19.6 4.4 -17.4 6.4 -14.8 6.9ZM16.4 5.2 18.2 4.3 19.8 2.2 20.7 -0.4 20.8 -2.8 20.3 -5.2 19.0 -7.8 17.4 -9.2 14.9 -9.7 12.5 -8.6 11.2 -6.9 10.3 -4.4 10.0 -1.2 10.5 1.2 11.8 3.6 14.1 5.2 16.4 5.2Z" fill="#cae0ec"/><path d="M28.7 28.7 -28.7 28.7 -28.7 -28.7 28.7 -28.7 28.7 28.7ZM-13.4 6.9 -11.3 5.2 -9.8 2.8 -9.0 -0.4 -9.1 -3.6 -10.1 -6.9 -11.6 -9.3 -13.3 -10.6 -15.7 -11.0 -18.2 -10.1 -20.3 -7.7 -21.6 -4.4 -21.8 -0.4 -21.0 2.8 -19.0 5.7 -16.6 7.1 -13.4 6.9ZM17.4 5.2 19.0 4.0 20.3 2.0 21.1 -0.4 21.1 -3.6 20.5 -6.1 19.0 -8.5 17.4 -9.8 14.9 -10.3 12.5 -9.2 10.9 -7.2 9.7 -3.6 9.7 -0.4 10.8 2.8 12.5 4.8 14.9 5.8 17.4 5.2Z" fill="#d4e6ee"/><path d="M28.7 28.7 -28.7 28.7 -28.7 -28.7 28.7 -28.7 28.7 28.7ZM-12.7 6.9 -10.8 5.2 -9.1 2.0 -8.6 -1.2 -8.9 -4.4 -10.0 -7.7 -11.7 -10.1 -14.1 -11.5 -16.6 -11.5 -19.0 -10.1 -21.3 -6.9 -22.2 -3.6 -22.1 0.4 -20.6 4.3 -18.2 6.7 -15.7 7.6 -12.7 6.9ZM16.0 6.1 18.2 5.2 20.3 2.8 21.3 0.4 21.6 -2.8 20.9 -6.1 19.7 -8.5 17.4 -10.5 14.9 -10.9 12.5 -9.9 10.6 -7.7 9.5 -4.4 9.3 -1.2 10.0 2.0 11.6 4.4 13.3 5.7 16.0 6.1Z" fill="#deeaf1"/><path d="M28.7 28.7 -28.7 28.7 -28.7 -28.7 28.7 -28.7 28.7 28.7ZM-13.6 7.7 -11.1 6.1 -9.4 3.6 -8.3 0.4 -8.3 -2.8 -9.1 -6.9 -10.9 -10.0 -13.3 -11.8 -15.7 -12.2 -18.9 -10.9 -21.0 -8.5 -22.5 -4.4 -22.7 -0.4 -21.8 2.8 -19.6 6.1 -16.6 7.8 -13.6 7.7ZM17.3 6.1 19.6 4.4 21.2 2.0 21.9 -0.4 22.0 -3.6 21.1 -6.9 19.7 -9.3 17.4 -11.1 14.9 -11.5 12.5 -10.6 10.1 -7.7 9.1 -4.4 8.9 -0.4 10.0 2.8 11.9 5.2 14.1 6.4 17.3 6.1Z" fill="#e8f0f3"/><path d="M28.7 28.7 -28.7 28.7 -28.7 -28.7 28.7 -28.7 28.7 28.7ZM-12.7 7.7 -10.6 6.1 -8.6 2.8 -7.8 -0.4 -8.1 -4.4 -9.3 -8.3 -11.0 -10.9 -13.3 -12.5 -16.6 -12.7 -19.8 -10.9 -22.0 -7.7 -23.1 -3.6 -23.0 0.4 -21.4 4.4 -19.0 7.0 -15.7 8.3 -12.7 7.7ZM18.1 6.1 20.1 4.4 21.9 1.2 22.5 -2.0 22.2 -5.2 20.9 -8.5 19.0 -10.8 16.6 -12.0 14.1 -12.0 11.7 -10.7 9.6 -7.7 8.5 -3.6 8.7 0.4 10.0 3.6 12.4 6.1 14.9 6.8 18.1 6.1Z" fill="#f2f4f6"/><path d="M28.7 28.7 -28.7 28.7 -28.7 -28.7 28.7 -28.7 28.7 28.7ZM-13.9 8.5 -10.9 6.9 -8.9 4.4 -7.7 1.2 -7.4 -2.8 -8.2 -6.9 -10.1 -10.7 -12.5 -12.8 -15.7 -13.5 -19.0 -12.3 -21.8 -9.3 -23.4 -5.2 -23.7 -1.2 -22.7 2.8 -20.6 6.1 -17.4 8.3 -13.9 8.5ZM17.0 6.9 19.8 5.2 21.7 2.8 22.8 -0.4 22.9 -3.6 22.2 -6.9 20.5 -10.1 18.2 -12.1 14.9 -12.8 12.0 -11.7 9.8 -9.3 8.3 -5.2 8.1 -0.4 9.5 3.6 11.7 6.0 14.1 7.1 17.0 6.9Z" fill="#f7f3f1"/><path d="M28.7 28.7 -28.7 28.7 -28.7 -28.7 28.7 -28.7 28.7 28.7ZM3.3 -19.8 3.2 -20.6 -0.4 -21.0 -3.2 -20.6 -3.3 -19.8 -0.4 -19.5 3.3 -19.8ZM-12.7 8.5 -10.1 6.7 -8.0 3.6 -7.1 0.4 -7.1 -3.6 -8.3 -8.5 -10.1 -11.6 -12.5 -13.6 -15.7 -14.3 -19.0 -13.1 -22.2 -9.7 -24.0 -5.2 -24.1 -0.4 -22.9 3.6 -19.8 7.3 -16.6 8.9 -14.9 9.0 -12.7 8.5ZM18.0 6.9 20.6 5.0 22.6 2.0 23.4 -1.2 23.3 -5.2 21.8 -9.3 19.8 -11.7 17.4 -13.2 14.1 -13.5 10.9 -11.6 8.8 -8.5 7.7 -3.6 7.8 0.4 9.0 3.6 11.7 6.5 14.9 7.5 18.0 6.9Z" fill="#f7ebe5"/><path d="M28.7 28.7 -28.7 28.7 -28.7 -28.7 28.7 -28.7 28.7 28.7ZM6.0 -19.0 7.2 -19.8 6.9 -20.6 5.2 -21.4 1.2 -22.0 -5.2 -21.4 -7.0 -20.6 -7.3 -19.8 -6.2 -19.0 -3.6 -18.6 6.0 -19.0ZM-14.5 9.3 -11.7 8.4 -9.0 6.1 -7.2 2.8 -6.5 -1.2 -7.3 -6.9 -8.8 -10.9 -11.7 -14.1 -14.9 -15.2 -17.4 -14.8 -19.0 -14.0 -22.2 -10.9 -24.2 -6.9 -24.9 -2.0 -24.1 2.0 -21.7 6.1 -18.2 8.7 -14.5 9.3ZM16.6 7.7 19.8 6.2 22.2 3.6 23.7 0.4 24.1 -3.6 23.2 -7.7 20.8 -11.7 18.2 -13.7 14.9 -14.4 11.7 -13.3 9.3 -10.6 7.6 -6.1 7.1 -1.2 8.1 2.8 10.1 5.7 13.3 7.6 16.6 7.7Z" fill="#f6e2da"/><path d="M28.7 28.7 -28.7 28.7 -28.7 -28.7 28.7 -28.7 28.7 28.7ZM7.8 -18.2 9.6 -19.0 10.0 -19.8 9.6 -20.6 6.9 -22.0 2.8 -22.7 -2.0 -22.8 -6.1 -22.2 -8.6 -21.4 -10.4 -19.8 -10.3 -19.0 -9.3 -18.4 -6.9 -17.9 7.8 -18.2ZM-12.9 9.3 -10.0 7.7 -7.4 4.4 -6.2 1.2 -6.1 -2.8 -7.2 -8.5 -9.3 -13.0 -12.5 -16.1 -14.9 -16.5 -19.0 -15.1 -22.7 -11.7 -25.0 -6.9 -25.5 -1.2 -24.0 3.6 -20.6 7.6 -16.6 9.5 -12.9 9.3ZM17.8 7.7 20.6 6.0 23.3 2.8 24.6 -1.2 24.6 -5.2 23.4 -9.3 20.6 -13.1 17.4 -15.1 14.1 -15.5 10.9 -13.8 8.5 -10.5 7.0 -5.2 6.8 0.4 8.0 3.6 10.9 6.9 14.1 8.1 17.8 7.7Z" fill="#f6dace"/><path d="M28.7 28.7 -28.7 28.7 -28.7 -28.7 28.7 -28.7 28.7 28.7ZM-11.9 9.3 -9.4 7.7 -7.9 6.1 -6.4 3.6 -5.7 1.2 -5.6 -2.0 -6.3 -6.9 -7.4 -10.9 -9.1 -14.9 -9.1 -15.7 -8.5 -16.4 -0.4 -17.4 10.1 -16.5 10.4 -15.7 8.3 -11.7 6.9 -7.7 6.2 -2.8 6.3 0.4 7.4 3.6 9.3 6.1 11.7 7.7 14.1 8.5 17.4 8.2 20.1 6.9 22.8 4.4 24.4 2.0 25.4 -1.2 25.5 -4.4 25.0 -7.7 23.6 -10.9 20.6 -14.5 14.1 -18.1 12.6 -20.6 8.5 -22.7 3.6 -23.5 -2.8 -23.6 -7.7 -22.9 -11.8 -21.4 -20.6 -15.4 -23.0 -12.9 -25.7 -7.7 -26.4 -2.8 -26.0 0.4 -25.1 2.8 -23.6 5.2 -21.2 7.7 -19.0 9.1 -16.6 9.9 -14.1 10.0 -11.9 9.3Z" fill="#f6d2c2"/><path d="M28.7 28.7 -28.7 28.7 -28.7 -28.7 28.7 -28.7 28.7 28.7ZM-13.1 10.1 -10.1 8.7 -7.9 6.9 -6.1 4.4 -5.2 2.0 -5.1 -2.8 -7.4 -14.1 -7.2 -14.9 -6.4 -15.7 -2.8 -16.7 1.2 -16.8 6.1 -16.1 7.7 -15.2 8.0 -14.1 5.7 -3.6 5.8 1.2 6.7 3.6 8.6 6.1 10.9 7.8 14.1 8.8 17.4 8.5 20.8 6.9 23.6 4.4 25.6 1.2 26.5 -2.0 26.6 -5.2 25.8 -9.3 24.2 -12.5 22.2 -15.1 15.6 -21.4 12.5 -22.9 8.5 -24.0 1.2 -24.7 -6.1 -24.4 -11.7 -23.3 -16.2 -21.4 -22.2 -16.1 -25.1 -12.5 -27.3 -6.9 -27.5 -2.0 -26.0 2.8 -24.4 5.2 -21.9 7.7 -17.4 10.1 -14.9 10.4 -13.1 10.1Z" fill="#f5cab7"/><path d="M-27.9 -27.8 -28.7 -27.3 -28.7 -28.7 -26.2 -28.7 -27.9 -27.8ZM28.7 -27.2 25.5 -28.7 28.7 -28.7 28.7 -27.2ZM28.7 28.7 -28.7 28.7 -28.7 -0.2 -27.6 2.0 -25.3 5.2 -22.7 7.7 -19.8 9.5 -17.4 10.4 -14.9 10.7 -12.5 10.3 -10.2 9.3 -6.5 6.1 -4.5 2.0 -4.4 -1.2 -6.0 -11.7 -5.9 -14.1 -5.4 -14.9 -3.8 -15.7 -0.4 -16.3 4.0 -15.7 5.7 -14.9 6.4 -14.1 6.5 -12.5 5.0 -2.0 5.1 1.2 5.6 2.8 7.1 5.2 9.3 7.3 11.4 8.5 14.1 9.2 16.6 9.1 19.0 8.3 21.6 6.9 25.8 2.8 27.6 -0.4 28.7 -3.5 28.7 28.7Z" fill="#f5c2ab"/><path d="M28.7 28.7 -28.7 28.7 -28.7 3.4 -22.4 8.5 -18.2 10.6 -14.1 11.0 -10.1 9.7 -6.3 6.9 -5.0 5.2 -3.9 2.8 -3.7 -0.4 -5.2 -10.9 -4.5 -14.1 -3.5 -14.9 -1.2 -15.6 1.2 -15.6 3.7 -14.9 5.2 -13.3 5.5 -11.7 4.3 -1.2 4.5 2.0 6.2 5.2 9.0 7.7 13.3 9.4 15.7 9.5 18.2 9.0 22.5 6.9 28.7 2.0 28.7 28.7Z" fill="#f5b99f"/><path d="M28.7 28.7 -28.7 28.7 -28.7 5.7 -20.4 10.1 -16.6 11.3 -12.5 11.1 -8.4 9.3 -4.6 6.1 -2.7 2.8 -2.7 0.4 -4.3 -8.5 -4.1 -12.5 -3.0 -14.1 -2.0 -14.6 -0.4 -15.0 2.0 -14.6 3.9 -13.3 4.7 -10.9 4.5 -6.9 3.3 0.4 3.6 2.8 5.1 5.2 7.7 7.5 12.5 9.7 16.6 9.8 19.8 8.8 26.2 5.4 28.7 4.6 28.7 28.7Z" fill="#f4b194"/><path d="M28.7 28.7 -28.7 28.7 -28.7 7.5 -26.2 8.0 -19.0 11.1 -14.9 11.8 -10.1 10.8 -5.0 7.7 -1.3 4.4 -0.5 2.8 -3.3 -5.2 -3.7 -9.3 -3.3 -11.7 -2.0 -13.5 -0.4 -14.1 1.2 -13.9 3.1 -12.5 3.8 -10.9 4.0 -8.5 3.5 -4.4 1.3 2.8 2.3 4.4 4.3 6.1 9.3 9.0 14.1 10.3 18.2 9.8 26.2 6.6 28.7 6.6 28.7 28.7Z" fill="#f4a988"/><path d="M0.4 -1.0 -1.2 -2.0 -2.0 -3.4 -3.0 -7.7 -2.6 -10.9 -2.0 -12.0 -0.4 -12.9 1.2 -12.7 2.0 -12.1 2.8 -10.8 3.2 -8.5 2.4 -3.6 1.2 -1.5 0.4 -1.0ZM28.7 28.7 -28.7 28.7 -28.7 9.2 -25.4 9.3 -19.0 11.5 -14.9 12.2 -10.1 11.3 -2.0 7.3 0.4 6.7 3.6 7.3 10.7 10.1 14.1 10.7 18.2 10.2 25.4 7.9 28.7 8.3 28.7 28.7Z" fill="#f29d7d"/><path d="M0.4 -3.2 -0.4 -3.3 -1.2 -4.2 -2.1 -6.9 -2.0 -9.4 -1.3 -10.9 -0.4 -11.5 1.4 -10.9 2.3 -8.5 2.0 -5.2 1.2 -3.7 0.4 -3.2ZM28.7 28.7 -28.7 28.7 -28.7 10.7 -25.4 10.2 -18.2 12.2 -14.1 12.6 -10.9 12.1 -3.6 9.3 -0.4 8.6 3.6 8.7 10.9 10.7 14.1 11.0 17.4 10.7 23.8 9.0 27.1 9.1 28.7 9.8 28.7 28.7Z" fill="#ee8c73"/><path d="M0.4 -5.8 -0.4 -5.9 -0.9 -7.7 -0.4 -9.1 0.4 -9.3 1.1 -7.7 0.4 -5.8ZM28.7 28.7 -28.7 28.7 -28.7 12.3 -27.1 11.5 -24.6 11.2 -17.4 12.8 -14.1 13.0 -1.2 10.2 4.4 10.1 14.1 11.5 23.0 9.9 26.2 10.0 28.7 11.3 28.7 28.7Z" fill="#e97c69"/><path d="M28.7 28.7 -28.7 28.7 -28.7 13.9 -26.3 12.5 -24.6 12.1 -14.1 13.5 -2.8 11.7 6.1 11.2 14.1 11.9 22.2 10.6 25.4 10.8 28.7 12.8 28.7 28.7Z" fill="#e56b60"/><path d="M28.7 28.7 -28.7 28.7 -28.7 15.6 -26.2 13.7 -23.8 13.0 -13.3 14.0 -5.2 13.0 6.9 12.2 14.1 12.3 23.8 11.4 26.2 12.3 28.7 14.5 28.7 28.7Z" fill="#e15b56"/><path d="M28.7 28.7 -28.7 28.7 -28.7 17.9 -26.0 14.9 -23.0 13.8 -14.1 14.5 0.4 14.2 7.7 13.1 23.0 12.0 25.9 13.3 28.7 16.5 28.7 28.7Z" fill="#dd4a4c"/><path d="M25.4 28.7 -25.8 28.7 -28.1 25.4 -28.5 22.2 -27.6 19.0 -26.2 16.9 -24.6 15.4 -22.2 14.5 0.4 15.5 10.1 13.7 22.2 12.7 24.1 13.3 26.1 14.9 27.7 17.4 28.6 19.8 28.6 24.6 27.4 27.1 25.4 28.7Z" fill="#d93a42"/><path d="M22.2 28.7 -22.7 28.7 -24.6 27.0 -26.1 24.6 -26.5 23.0 -26.4 20.6 -24.6 17.0 -23.0 15.8 -21.4 15.3 0.4 17.0 3.6 16.5 11.7 14.3 21.4 13.4 23.6 14.1 25.4 15.7 26.7 18.2 27.2 20.6 27.0 23.0 26.0 25.4 23.9 27.9 22.2 28.7Z" fill="#d42938"/><path d="M19.0 28.7 -19.0 28.7 -21.8 27.1 -23.4 25.4 -24.6 23.0 -24.7 20.6 -24.3 19.0 -23.1 17.4 -20.6 16.2 -13.3 16.6 -3.6 18.3 0.4 18.5 4.4 17.8 12.2 14.9 17.4 14.1 21.0 14.1 23.0 14.9 24.5 16.6 25.5 19.0 25.6 21.4 24.9 23.8 23.8 25.4 21.4 27.5 19.0 28.7Z" fill="#d0192f"/><path d="M12.5 28.7 -14.1 28.4 -18.2 27.0 -21.4 24.8 -22.8 22.2 -22.8 19.8 -21.7 18.2 -20.6 17.5 -17.4 17.1 -11.7 17.9 -3.6 20.2 1.2 20.4 5.2 19.4 10.5 16.6 14.1 15.4 19.0 14.8 22.2 15.7 23.6 17.4 24.2 19.8 23.8 22.0 22.9 23.8 21.3 25.4 19.0 26.9 12.5 28.7Z" fill="#cc0825"/></g><path d="M-13.5 3.6 -12.0 1.2 -11.7 -0.4 -11.8 -2.8 -12.3 -4.4 -13.3 -6.1 -14.1 -6.7 -15.7 -7.0 -17.4 -6.1 -18.5 -4.4 -19.1 -2.0 -18.9 0.4 -18.2 2.5 -16.6 4.1 -14.9 4.3 -13.5 3.6M17.0 2.0 18.2 -0.4 18.2 -3.0 17.1 -5.2 15.7 -6.1 14.9 -6.0 13.7 -5.2 12.7 -3.6 12.5 -0.4 13.1 1.2 14.1 2.3 15.7 2.7 17.0 2.0M-13.2 6.1 -11.4 4.4 -10.2 2.0 -9.7 -0.4 -9.8 -3.6 -10.5 -6.1 -12.0 -8.5 -14.1 -9.9 -15.7 -10.1 -18.2 -9.0 -19.9 -6.9 -21.0 -3.6 -21.0 0.4 -19.9 3.6 -18.2 5.6 -15.7 6.6 -13.2 6.1M17.6 4.4 19.0 3.1 20.0 1.2 20.5 -1.2 20.4 -3.6 19.6 -6.1 18.2 -8.2 16.6 -9.2 14.9 -9.4 12.5 -8.1 11.1 -6.1 10.4 -3.6 10.4 -0.4 11.5 2.8 13.1 4.4 14.9 5.1 17.6 4.4M-14.1 8.5 -11.0 6.9 -9.0 4.4 -7.7 1.2 -7.5 -2.8 -8.3 -6.9 -10.1 -10.5 -12.5 -12.7 -14.1 -13.3 -15.7 -13.4 -19.0 -12.2 -21.6 -9.3 -23.3 -5.2 -23.6 -1.2 -22.7 2.8 -20.5 6.1 -17.4 8.2 -14.1 8.5M16.8 6.9 19.7 5.2 21.6 2.8 22.7 -0.4 22.9 -3.6 22.1 -6.9 20.3 -10.1 18.2 -11.9 16.6 -12.6 14.9 -12.7 12.5 -11.9 10.0 -9.3 8.4 -5.2 8.1 -1.2 8.8 2.0 10.9 5.3 13.6 6.9 16.8 6.9M-12.6 10.1 -10.1 8.9 -7.7 6.9 -5.9 4.4 -5.0 2.0 -5.0 -2.8 -6.9 -13.3 -6.6 -14.9 -5.5 -15.7 -2.0 -16.6 1.2 -16.6 5.2 -16.0 7.2 -14.9 7.4 -13.3 5.5 -2.8 5.8 2.0 7.0 4.4 9.3 6.9 11.7 8.3 14.1 8.9 17.4 8.6 21.1 6.9 23.8 4.4 26.0 1.2 27.0 -2.0 27.2 -5.2 26.7 -8.5 25.0 -12.5 23.0 -15.3 17.5 -21.4 14.1 -23.2 10.1 -24.3 3.6 -25.2 -5.2 -25.1 -11.7 -24.0 -17.4 -21.9 -20.6 -19.2 -24.3 -14.9 -25.9 -12.5 -27.7 -7.7 -28.1 -4.4 -27.9 -2.0 -27.4 0.4 -25.8 3.6 -22.1 7.7 -19.8 9.2 -17.4 10.2 -14.9 10.5 -12.6 10.1M1.2 -3.4 0.4 -2.8 -0.4 -3.0 -1.2 -3.8 -2.1 -6.1 -2.0 -10.0 -1.2 -11.3 -0.4 -11.8 1.2 -11.4 2.4 -9.3 2.4 -6.1 1.2 -3.4M-28.7 10.5 -25.4 10.1 -18.2 12.1 -14.9 12.5 -10.9 12.0 -2.8 8.8 0.4 8.3 3.6 8.5 10.9 10.6 14.1 11.0 17.4 10.7 24.6 8.7 27.1 8.9 28.7 9.5M-24.8 28.7 -26.4 27.1 -27.3 25.4 -27.8 23.8 -27.8 21.4 -27.0 19.0 -26.1 17.4 -24.6 15.9 -23.0 15.0 -19.8 14.8 0.4 16.0 10.1 14.0 20.6 12.8 23.0 13.2 24.8 14.1 26.8 16.6 27.9 19.0 28.3 22.2 27.9 24.6 26.5 27.1 24.9 28.7" fill="none" stroke="#222" stroke-opacity="0.62" stroke-width="0.45"/></g><path d="M-5.2 -25.1 L-1.0 -30.0 Q0 -31.1 1.0 -30.0 L5.2 -25.1" fill="#fff" stroke="#333" stroke-width="0.8"/><rect x="-28.1" y="-6.5" width="2.9" height="13.0" rx="0.9" fill="#f0f0f0" stroke="#3a3a3a" stroke-width="0.75"/><rect x="25.2" y="-6.5" width="2.9" height="13.0" rx="0.9" fill="#f0f0f0" stroke="#3a3a3a" stroke-width="0.75"/><circle r="25.6" fill="none" stroke="#2e2e2e" stroke-width="0.9"/></g><g transform="translate(627.4 157.7)"><clipPath id="cpc13"><circle r="25.6"/></clipPath><g clip-path="url(#cpc13)"><g filter="url(#sm)"><rect x="-30.7" y="-30.7" width="61.4" height="61.4" fill="#2886bc"/><path d="M28.7 28.8 -28.8 28.7 -28.7 -28.8 28.8 -28.7 28.7 28.8ZM-14.7 -0.4 -14.9 -2.0 -15.7 -2.2 -16.1 -1.2 -15.7 0.2 -14.9 0.2 -14.7 -0.4Z" fill="#368ec0"/><path d="M28.7 28.8 -28.8 28.7 -28.7 -28.8 28.8 -28.7 28.7 28.8ZM-14.5 1.2 -13.8 -0.4 -13.8 -2.0 -14.9 -3.6 -15.7 -3.7 -16.9 -2.0 -16.8 0.4 -15.7 1.6 -14.5 1.2Z" fill="#4497c5"/><path d="M28.7 28.8 -28.8 28.7 -28.7 -28.8 28.8 -28.7 28.7 28.8ZM-14.3 2.0 -13.3 0.4 -13.2 -2.0 -14.1 -4.1 -15.7 -4.6 -16.6 -4.1 -17.4 -2.7 -17.4 0.4 -16.6 2.0 -15.7 2.4 -14.3 2.0ZM16.0 0.4 16.6 -0.4 16.7 -2.0 15.7 -3.5 14.9 -3.5 14.1 -2.4 14.1 -0.4 14.9 0.6 16.0 0.4Z" fill="#539fc9"/><path d="M28.7 28.8 -28.8 28.7 -28.7 -28.8 28.8 -28.7 28.7 28.8ZM-14.4 2.8 -13.1 1.2 -12.7 -2.0 -13.7 -4.4 -14.9 -5.4 -15.7 -5.4 -17.6 -3.6 -18.1 -0.4 -17.6 1.2 -16.6 2.7 -15.7 3.1 -14.4 2.8ZM16.2 1.2 17.2 -0.4 17.4 -2.0 16.6 -3.9 14.9 -4.5 13.6 -2.8 13.5 -0.4 14.5 1.2 16.2 1.2Z" fill="#61a8ce"/><path d="M28.7 28.8 -28.8 28.7 -28.7 -28.7 28.7 -28.7 28.7 28.8ZM-14.9 3.6 -13.6 2.8 -12.6 1.2 -12.3 -2.0 -13.3 -4.9 -14.1 -5.7 -15.7 -6.1 -17.1 -5.2 -18.1 -3.6 -18.5 -0.4 -17.4 2.6 -15.8 3.6 -14.9 3.6ZM16.0 2.0 17.5 0.4 17.8 -2.0 16.9 -4.4 15.7 -5.3 14.9 -5.3 13.3 -3.6 13.0 -0.4 14.1 1.7 14.9 2.1 16.0 2.0Z" fill="#6fb0d3"/><path d="M28.7 28.8 -28.8 28.7 -28.7 -28.7 28.7 -28.7 28.7 28.8ZM-13.8 3.6 -12.2 1.2 -12.0 -2.8 -13.3 -5.7 -14.1 -6.4 -15.7 -6.7 -17.4 -5.8 -18.2 -4.4 -18.9 -2.0 -18.8 0.4 -18.2 2.1 -16.6 3.9 -14.9 4.2 -13.8 3.6ZM17.0 2.0 18.2 -0.3 18.2 -2.9 17.0 -5.2 14.9 -6.0 13.8 -5.2 12.8 -3.6 12.5 -0.4 13.1 1.2 14.1 2.4 15.7 2.7 17.0 2.0Z" fill="#7db8d7"/><path d="M28.7 28.8 -28.8 28.7 -28.7 -28.7 28.7 -28.7 28.7 28.8ZM-14.3 4.4 -13.1 3.6 -12.1 2.0 -11.5 -2.0 -12.0 -4.4 -13.0 -6.1 -14.1 -7.0 -15.7 -7.3 -17.4 -6.5 -18.3 -5.2 -19.2 -2.8 -19.3 -0.4 -18.7 2.0 -17.4 3.8 -15.7 4.6 -14.3 4.4ZM16.7 2.8 18.4 0.4 18.6 -2.8 17.4 -5.6 16.6 -6.3 14.9 -6.6 13.3 -5.6 12.6 -4.4 12.1 -2.8 12.1 -0.4 12.6 1.2 14.0 2.8 14.9 3.2 16.7 2.8Z" fill="#8bc1dc"/><path d="M28.7 28.8 -28.8 28.7 -28.7 -28.7 28.7 -28.7 28.7 28.8ZM-13.4 4.4 -12.1 2.8 -11.4 1.2 -11.2 -2.8 -11.9 -5.2 -13.1 -6.9 -14.1 -7.6 -15.7 -7.9 -17.4 -7.1 -19.0 -4.9 -19.7 -2.0 -19.5 0.4 -18.7 2.8 -17.3 4.4 -14.9 5.1 -13.4 4.4ZM15.9 3.6 17.4 2.9 18.2 1.8 19.1 -2.0 18.6 -4.4 17.6 -6.1 16.6 -6.9 14.9 -7.2 13.3 -6.3 12.5 -5.2 11.7 -1.2 12.2 1.2 13.3 2.8 14.8 3.6 15.9 3.6Z" fill="#97c8df"/><path d="M28.7 28.8 -28.8 28.7 -28.7 -28.7 28.7 -28.7 28.7 28.8ZM-14.0 5.2 -12.5 4.1 -11.3 2.0 -10.7 -0.4 -10.8 -2.8 -11.5 -5.2 -12.5 -7.0 -14.1 -8.2 -15.7 -8.4 -17.4 -7.8 -19.0 -5.8 -19.8 -3.6 -20.0 -0.4 -19.4 2.0 -17.9 4.4 -15.7 5.5 -14.0 5.2ZM16.9 3.6 18.2 2.5 19.2 0.4 19.3 -3.6 17.5 -6.9 16.6 -7.5 14.9 -7.8 13.3 -7.0 12.0 -5.2 11.3 -2.8 11.4 -0.4 12.2 2.0 13.3 3.4 14.9 4.1 16.9 3.6Z" fill="#a1cde2"/><path d="M28.7 28.8 -28.8 28.7 -28.7 -28.7 28.7 -28.7 28.7 28.8ZM-13.2 5.2 -11.7 3.6 -10.7 1.2 -10.6 -3.6 -11.4 -6.1 -12.5 -7.6 -14.1 -8.8 -15.7 -9.0 -17.4 -8.4 -19.3 -6.1 -20.3 -2.8 -20.3 0.4 -19.0 3.6 -17.4 5.3 -14.9 5.9 -13.2 5.2ZM16.0 4.4 17.6 3.6 18.9 2.0 19.7 -0.4 19.8 -2.8 19.2 -5.2 18.2 -6.9 16.6 -8.1 14.9 -8.3 13.3 -7.6 12.0 -6.1 11.1 -3.6 10.9 -1.2 11.4 1.2 12.5 3.1 14.1 4.3 16.0 4.4Z" fill="#abd2e4"/><path d="M28.7 28.8 -28.8 28.7 -28.7 -28.7 28.7 -28.7 28.7 28.8ZM-14.0 6.1 -12.5 5.1 -10.9 2.8 -10.1 0.4 -10.1 -2.8 -10.6 -5.2 -12.0 -7.7 -14.1 -9.3 -15.7 -9.5 -17.4 -8.9 -19.4 -6.9 -20.6 -3.6 -20.7 -0.4 -19.9 2.8 -18.2 5.1 -16.6 6.1 -14.0 6.1ZM17.1 4.4 18.8 2.8 19.7 1.2 20.2 -1.2 20.0 -3.6 19.2 -6.1 18.2 -7.6 16.6 -8.7 14.9 -8.9 13.3 -8.2 11.5 -6.1 10.7 -3.6 10.7 -0.4 11.7 2.6 13.3 4.3 14.9 4.9 17.1 4.4Z" fill="#b5d7e7"/><path d="M28.7 28.8 -28.8 28.7 -28.7 -28.7 28.7 -28.7 28.7 28.8ZM-13.2 6.1 -11.4 4.4 -10.2 2.0 -9.7 -0.4 -9.8 -3.6 -10.5 -6.1 -12.1 -8.5 -14.1 -9.9 -15.7 -10.0 -18.2 -9.0 -19.9 -6.9 -21.0 -3.6 -21.0 0.4 -19.8 3.6 -18.2 5.6 -15.7 6.6 -13.2 6.1ZM15.8 5.2 17.7 4.4 19.3 2.8 20.3 0.4 20.5 -2.8 20.0 -5.2 18.7 -7.7 16.6 -9.2 14.9 -9.4 13.3 -8.8 11.5 -6.9 10.5 -4.4 10.2 -1.2 10.7 1.2 12.0 3.6 14.1 5.1 15.8 5.2Z" fill="#bfdce9"/><path d="M28.7 28.7 -28.7 28.7 -28.7 -28.7 28.7 -28.7 28.7 28.7ZM-14.1 6.9 -12.5 6.1 -10.5 3.6 -9.4 0.4 -9.3 -2.8 -10.1 -6.1 -11.4 -8.5 -13.3 -10.1 -15.7 -10.6 -18.2 -9.6 -20.3 -6.9 -21.4 -3.6 -21.5 -0.4 -20.6 2.8 -19.0 5.3 -16.6 6.8 -14.1 6.9ZM17.0 5.2 19.0 3.8 20.1 2.0 20.8 -0.4 20.8 -3.6 20.2 -6.1 18.6 -8.5 16.6 -9.8 14.9 -10.0 12.5 -8.8 11.0 -6.9 9.9 -3.6 9.9 -0.4 10.9 2.6 12.5 4.6 14.9 5.6 17.0 5.2Z" fill="#cae1ec"/><path d="M28.7 28.7 -28.7 28.7 -28.7 -28.7 28.7 -28.7 28.7 28.7ZM-13.2 6.9 -11.2 5.2 -9.7 2.8 -8.9 -0.4 -9.0 -3.6 -9.9 -6.9 -11.5 -9.3 -13.3 -10.7 -15.7 -11.1 -18.3 -10.1 -20.6 -7.3 -21.8 -3.6 -21.8 0.4 -20.7 3.6 -18.7 6.1 -15.7 7.4 -13.2 6.9ZM17.7 5.2 19.5 3.6 20.8 1.2 21.3 -1.2 21.1 -4.4 20.3 -6.9 19.0 -8.8 17.4 -10.0 14.9 -10.5 12.5 -9.5 10.5 -6.9 9.5 -3.6 9.6 -0.4 10.6 2.8 12.5 5.0 14.9 6.0 17.7 5.2Z" fill="#d4e6ee"/><path d="M28.7 28.7 -28.7 28.7 -28.7 -28.7 28.7 -28.7 28.7 28.7ZM-14.7 7.7 -12.5 6.9 -10.1 4.4 -8.8 1.2 -8.5 -2.8 -9.3 -6.4 -10.9 -9.3 -13.3 -11.3 -15.7 -11.7 -18.2 -10.8 -20.5 -8.5 -21.9 -5.2 -22.3 -1.2 -21.8 2.0 -20.0 5.2 -17.4 7.3 -14.7 7.7ZM16.8 6.1 19.3 4.4 20.9 2.0 21.6 -0.4 21.7 -3.6 20.8 -6.9 19.2 -9.3 17.4 -10.6 14.9 -11.1 12.5 -10.1 10.4 -7.7 9.3 -4.4 9.1 -1.2 9.8 2.0 11.7 4.8 14.1 6.2 16.8 6.1Z" fill="#deebf1"/><path d="M28.7 28.7 -28.7 28.7 -28.7 -28.7 28.7 -28.7 28.7 28.7ZM-13.3 7.7 -10.9 6.0 -8.9 2.8 -8.1 -0.4 -8.2 -3.6 -9.3 -7.6 -10.9 -10.1 -13.3 -11.9 -15.7 -12.3 -19.0 -10.9 -21.0 -8.5 -22.5 -4.4 -22.7 -0.4 -21.5 3.6 -19.0 6.7 -16.6 7.9 -13.3 7.7ZM17.7 6.1 19.8 4.4 21.3 2.0 22.1 -1.2 22.0 -4.4 20.9 -7.7 19.0 -10.2 16.6 -11.5 14.1 -11.5 11.6 -10.1 9.5 -6.9 8.7 -3.6 8.9 0.4 10.3 3.6 12.5 5.9 14.9 6.7 17.7 6.1Z" fill="#e8f0f3"/><path d="M28.7 28.7 -28.7 28.7 -28.7 -28.7 28.7 -28.7 28.7 28.7ZM-12.5 7.7 -10.1 5.6 -8.5 2.8 -7.7 -0.4 -7.9 -4.4 -9.2 -8.5 -10.9 -10.9 -13.3 -12.5 -16.6 -12.8 -19.8 -10.9 -22.0 -7.7 -23.2 -3.6 -23.0 0.4 -21.5 4.4 -19.0 7.1 -15.7 8.4 -12.5 7.7ZM16.3 6.9 19.0 5.6 21.3 2.8 22.4 -0.4 22.6 -3.6 21.8 -6.9 19.9 -10.1 17.4 -11.9 14.9 -12.3 12.5 -11.5 10.1 -9.0 8.6 -5.2 8.3 -1.2 9.0 2.0 11.1 5.2 13.3 6.6 16.3 6.9Z" fill="#f2f5f6"/><path d="M28.7 28.7 -28.7 28.7 -28.7 -28.7 28.7 -28.7 28.7 28.7ZM-13.5 8.5 -10.8 6.9 -8.4 3.6 -7.4 0.4 -7.3 -3.6 -8.3 -7.7 -10.1 -10.8 -12.5 -12.9 -15.7 -13.6 -19.0 -12.4 -21.8 -9.3 -23.4 -5.2 -23.6 -0.4 -22.4 3.6 -19.9 6.9 -16.6 8.6 -13.5 8.5ZM17.5 6.9 20.0 5.2 21.8 2.8 22.9 -0.4 22.9 -4.4 22.0 -7.7 19.9 -10.9 17.4 -12.6 14.9 -13.0 11.8 -11.7 9.6 -9.3 8.1 -5.2 7.9 -0.4 9.4 3.6 11.5 6.1 14.1 7.2 17.5 6.9Z" fill="#f7f3f1"/><path d="M28.7 28.7 -28.7 28.7 -28.7 -28.7 28.7 -28.7 28.7 28.7ZM-12.6 8.5 -10.1 6.7 -7.9 3.6 -6.8 -0.4 -7.0 -4.4 -8.1 -8.5 -10.1 -11.8 -13.3 -14.0 -16.6 -14.2 -19.8 -12.6 -22.5 -9.3 -24.1 -4.4 -24.0 0.4 -22.4 4.4 -19.4 7.7 -15.7 9.1 -12.6 8.5ZM18.3 6.9 20.6 5.1 22.7 2.0 23.5 -1.2 23.4 -5.2 21.9 -9.3 19.8 -11.9 17.4 -13.3 14.1 -13.6 10.9 -11.8 8.6 -8.5 7.4 -3.6 7.6 0.4 8.9 3.6 11.7 6.6 14.9 7.6 18.3 6.9Z" fill="#f7ebe5"/><path d="M28.7 28.7 -28.7 28.7 -28.7 -28.7 28.7 -28.7 28.7 28.7ZM-14.0 9.3 -10.9 7.9 -8.3 5.2 -6.6 1.2 -6.3 -2.8 -7.5 -8.5 -9.3 -11.9 -12.5 -14.5 -15.7 -15.1 -19.0 -14.1 -22.3 -10.9 -24.4 -6.1 -24.8 -1.2 -23.4 3.6 -21.0 6.9 -17.4 9.1 -14.0 9.3ZM17.1 7.7 20.1 6.1 22.8 2.8 23.9 -0.4 24.1 -4.4 23.0 -8.5 20.9 -11.7 18.2 -13.8 14.9 -14.5 11.7 -13.4 8.8 -10.1 7.2 -5.2 7.0 -0.4 8.4 3.6 10.9 6.5 14.1 7.9 17.1 7.7Z" fill="#f6e2da"/><path d="M28.7 28.7 -28.7 28.7 -28.7 -28.7 28.7 -28.7 28.7 28.7ZM-12.7 9.3 -10.0 7.7 -7.3 4.4 -5.9 0.4 -5.9 -3.6 -7.2 -9.3 -9.3 -13.1 -12.5 -15.6 -15.7 -16.1 -19.8 -14.6 -23.2 -10.9 -25.2 -6.1 -25.5 -1.2 -24.0 3.6 -20.6 7.7 -16.6 9.6 -12.7 9.3ZM18.1 7.7 20.7 6.1 23.4 2.8 24.7 -1.2 24.7 -5.2 23.4 -9.3 20.6 -13.2 17.4 -15.1 14.1 -15.3 10.9 -13.9 9.3 -12.2 8.0 -10.1 6.5 -4.4 6.6 0.4 8.4 4.4 10.9 7.0 14.1 8.2 18.1 7.7Z" fill="#f6dace"/><path d="M28.7 28.7 -28.7 28.7 -28.7 -28.7 28.7 -28.7 28.7 28.7ZM-11.7 9.3 -8.5 6.9 -5.9 2.8 -5.3 -0.4 -5.7 -5.2 -7.1 -10.9 -9.3 -14.8 -12.5 -17.1 -16.6 -17.3 -20.6 -15.4 -22.7 -13.3 -24.4 -10.9 -26.1 -6.1 -26.2 -0.4 -24.2 4.4 -22.2 6.9 -20.1 8.5 -18.2 9.5 -15.7 10.1 -11.7 9.3ZM16.6 8.5 20.3 6.9 23.5 3.6 25.3 -0.4 25.6 -4.4 24.4 -9.3 21.9 -13.3 18.2 -16.0 14.1 -16.6 10.9 -15.3 8.0 -11.7 6.3 -6.1 5.9 -0.4 7.2 3.6 10.1 6.9 13.3 8.4 16.6 8.5Z" fill="#f6d2c2"/><path d="M28.7 28.7 -28.7 28.7 -28.7 -28.7 28.7 -28.7 28.7 28.7ZM-12.9 10.1 -10.1 8.8 -7.9 6.9 -5.6 3.6 -4.8 1.2 -5.1 -4.4 -7.7 -15.7 -7.2 -17.4 -3.6 -18.3 0.4 -18.7 7.7 -17.9 8.7 -17.4 8.8 -16.6 6.9 -11.4 5.8 -6.1 5.3 -2.0 5.5 1.2 6.6 3.6 8.5 6.1 10.9 7.9 14.1 8.9 17.4 8.6 21.0 6.9 23.6 4.4 25.7 1.2 26.6 -2.0 26.7 -5.2 25.8 -9.3 24.3 -12.5 21.4 -15.9 18.2 -17.9 10.9 -19.5 8.1 -21.4 3.6 -22.6 -1.2 -22.7 -5.2 -22.3 -10.9 -20.4 -16.6 -19.3 -19.8 -17.9 -23.3 -14.9 -25.9 -10.9 -27.5 -5.2 -27.2 -0.4 -25.0 4.4 -21.4 8.1 -17.4 10.1 -14.9 10.4 -12.9 10.1Z" fill="#f5cab7"/><path d="M-28.7 -23.4 -28.7 -28.7 -24.5 -28.7 -27.5 -25.4 -28.7 -23.4ZM28.7 -16.0 28.4 -22.2 28.0 -23.8 25.4 -26.7 22.0 -28.7 28.7 -28.7 28.7 -16.0ZM28.7 28.7 -28.7 28.7 -28.7 -0.2 -25.3 5.2 -20.3 9.3 -15.7 10.8 -13.3 10.6 -10.9 9.7 -6.4 6.1 -4.2 2.0 -4.0 -1.2 -5.7 -12.5 -5.2 -15.5 -3.9 -16.6 -1.2 -17.3 1.2 -17.3 4.1 -16.6 5.4 -15.7 6.1 -14.1 4.6 -2.0 4.8 1.2 7.0 5.2 10.9 8.3 13.3 9.2 16.6 9.2 19.0 8.4 21.7 6.9 25.8 2.8 27.7 -0.4 28.7 -3.4 28.7 28.7Z" fill="#f5c2ab"/><path d="M28.7 28.7 -28.7 28.7 -28.7 3.4 -22.5 8.5 -18.2 10.6 -15.7 11.1 -13.3 11.0 -9.3 9.3 -4.8 5.2 -3.2 2.0 -3.2 -0.4 -4.7 -9.3 -4.7 -12.5 -4.3 -14.1 -2.8 -15.6 -1.2 -16.2 0.4 -16.3 2.7 -15.7 4.5 -14.1 5.1 -11.7 4.9 -7.7 3.8 -0.4 4.0 2.0 5.3 4.4 8.9 7.7 13.3 9.5 17.4 9.3 22.6 6.9 28.7 2.1 28.7 28.7Z" fill="#f5b99f"/><path d="M28.7 28.7 -28.7 28.7 -28.7 5.7 -20.5 10.1 -16.6 11.4 -12.5 11.2 -8.3 9.3 -3.6 5.2 -2.3 3.6 -1.8 2.0 -3.9 -6.9 -4.1 -10.1 -3.6 -12.8 -2.8 -14.1 -1.6 -14.9 0.4 -15.3 1.7 -14.9 3.5 -13.3 4.4 -10.1 4.1 -6.1 2.5 2.0 4.0 4.4 6.7 6.9 11.0 9.3 15.7 10.0 19.8 8.9 26.2 5.4 28.7 4.6 28.7 28.7Z" fill="#f4b194"/><path d="M0.4 -0.2 -1.2 -1.1 -2.0 -2.4 -3.1 -5.2 -3.5 -8.5 -2.8 -12.3 -2.0 -13.4 -0.4 -14.2 1.2 -13.9 2.1 -13.3 3.2 -11.7 3.7 -9.3 2.8 -3.4 2.0 -1.6 0.4 -0.2ZM28.7 28.7 -28.7 28.7 -28.7 7.5 -26.2 8.0 -19.0 11.2 -14.9 11.9 -10.1 10.8 -2.0 5.8 0.4 4.8 2.8 5.5 9.7 9.3 14.1 10.3 18.2 9.8 26.2 6.6 28.7 6.6 28.7 28.7Z" fill="#f4a988"/><path d="M1.2 -2.6 -0.4 -2.3 -1.2 -2.9 -2.8 -6.9 -2.5 -10.9 -1.4 -12.5 -0.4 -13.0 1.2 -12.7 2.0 -12.0 3.0 -9.3 2.8 -5.9 1.2 -2.6ZM28.7 28.7 -28.7 28.7 -28.7 9.2 -25.4 9.3 -19.0 11.6 -14.9 12.3 -10.9 11.6 -2.8 7.8 0.4 7.1 3.6 7.4 10.1 10.0 14.1 10.7 18.2 10.2 25.4 7.9 28.7 8.3 28.7 28.7Z" fill="#f29d7d"/><path d="M1.2 -4.3 0.4 -3.7 -0.4 -3.8 -1.2 -4.6 -2.0 -6.5 -2.0 -9.7 -1.2 -11.2 -0.4 -11.7 1.2 -11.3 2.2 -9.3 2.1 -6.1 1.2 -4.3ZM28.7 28.7 -28.7 28.7 -28.7 10.7 -25.4 10.2 -18.2 12.2 -14.1 12.6 -10.9 12.1 -3.6 9.4 -0.4 8.8 4.4 8.9 10.9 10.7 14.1 11.1 17.4 10.8 23.8 9.0 27.1 9.1 28.7 9.8 28.7 28.7Z" fill="#ee8c73"/><path d="M0.4 -5.5 -0.4 -5.6 -1.2 -6.9 -1.2 -8.9 -0.4 -10.1 0.5 -10.1 1.4 -8.5 1.2 -6.4 0.4 -5.5ZM28.7 28.7 -28.7 28.7 -28.7 12.3 -27.1 11.5 -24.6 11.2 -17.4 12.8 -14.1 13.1 -1.2 10.3 5.2 10.2 14.1 11.5 23.0 9.9 26.2 10.0 28.7 11.3 28.7 28.7Z" fill="#e97c69"/><path d="M28.7 28.7 -28.7 28.7 -28.7 13.9 -26.3 12.5 -24.6 12.1 -14.1 13.5 -2.8 11.7 6.1 11.3 14.1 11.9 22.2 10.7 25.4 10.8 28.7 12.8 28.7 28.7Z" fill="#e56b60"/><path d="M28.7 28.7 -28.7 28.7 -28.7 15.6 -26.2 13.7 -23.8 13.0 -13.3 14.0 -5.2 13.0 6.9 12.2 14.9 12.3 23.8 11.4 26.2 12.3 28.7 14.5 28.7 28.7Z" fill="#e15b56"/><path d="M28.7 28.7 -28.7 28.7 -28.7 17.9 -26.0 14.9 -23.0 13.8 -14.1 14.5 0.4 14.2 7.7 13.1 23.0 12.1 25.9 13.3 28.7 16.5 28.7 28.7Z" fill="#dd4a4c"/><path d="M25.4 28.7 -25.8 28.7 -28.1 25.4 -28.5 22.2 -27.6 19.0 -26.2 16.9 -24.6 15.4 -22.2 14.5 0.4 15.6 9.3 13.8 22.2 12.7 24.1 13.3 26.1 14.9 27.7 17.4 28.6 19.8 28.6 24.6 27.4 27.1 25.4 28.7Z" fill="#d93a42"/><path d="M22.2 28.7 -22.7 28.7 -24.6 27.0 -26.1 24.6 -26.5 23.0 -26.4 20.6 -24.6 17.0 -23.0 15.8 -21.4 15.4 0.4 17.0 3.6 16.5 10.9 14.4 21.4 13.4 23.6 14.1 25.4 15.7 26.7 18.2 27.2 20.6 27.0 23.0 26.0 25.4 23.9 27.9 22.2 28.7Z" fill="#d42938"/><path d="M19.0 28.7 -19.0 28.7 -21.8 27.1 -23.4 25.4 -24.6 23.0 -24.7 20.6 -24.3 19.0 -23.1 17.4 -20.6 16.2 -13.4 16.6 -3.6 18.3 0.4 18.5 4.4 17.8 12.3 14.9 17.6 14.1 20.9 14.1 23.0 14.9 24.5 16.6 25.5 19.0 25.6 21.4 24.9 23.8 23.8 25.4 21.4 27.5 19.0 28.7Z" fill="#d0192f"/><path d="M12.5 28.7 -14.1 28.4 -18.2 27.0 -21.4 24.8 -22.8 22.2 -22.8 19.8 -21.7 18.2 -20.6 17.5 -17.4 17.1 -11.7 17.9 -3.6 20.2 1.2 20.4 5.2 19.4 10.5 16.6 14.1 15.4 19.0 14.8 22.2 15.7 23.6 17.4 24.2 19.8 23.8 22.0 22.9 23.8 21.3 25.4 19.0 26.9 12.5 28.7Z" fill="#cc0825"/></g><path d="M-13.6 3.6 -12.1 1.2 -11.7 -0.4 -11.8 -2.8 -13.3 -6.0 -14.1 -6.6 -15.7 -6.9 -17.4 -6.0 -18.4 -4.4 -19.0 -2.0 -18.9 0.4 -18.2 2.4 -16.6 4.0 -14.9 4.3 -13.6 3.6M15.9 2.8 17.7 1.2 18.4 -2.0 17.4 -5.1 16.6 -5.9 14.9 -6.2 14.1 -5.8 13.0 -4.4 12.3 -1.2 13.3 1.8 14.8 2.8 15.9 2.8M-13.2 6.1 -11.5 4.4 -10.2 2.0 -9.7 -0.4 -9.8 -3.6 -10.6 -6.1 -12.1 -8.5 -14.1 -9.8 -15.7 -10.0 -18.2 -8.9 -19.8 -6.9 -20.9 -3.6 -21.0 0.4 -19.8 3.6 -18.2 5.6 -15.7 6.6 -13.2 6.1M17.7 4.4 19.0 3.1 20.0 1.2 20.5 -1.2 20.4 -3.6 19.6 -6.1 18.2 -8.2 16.6 -9.2 14.9 -9.4 12.5 -8.1 11.1 -6.1 10.3 -2.8 10.5 0.4 11.5 2.8 13.3 4.7 15.7 5.2 17.7 4.4M-14.3 8.5 -11.7 7.4 -9.1 4.4 -7.8 1.2 -7.5 -2.8 -8.3 -6.9 -10.1 -10.4 -12.5 -12.5 -14.1 -13.1 -15.7 -13.2 -17.4 -12.9 -19.0 -12.0 -21.5 -9.3 -23.1 -5.2 -23.5 -1.2 -22.5 2.8 -20.5 6.1 -17.4 8.2 -14.3 8.5M17.0 6.9 19.7 5.2 21.6 2.8 22.7 -0.4 22.8 -3.6 22.1 -6.9 20.2 -10.1 17.4 -12.2 14.9 -12.6 12.5 -11.8 10.0 -9.3 8.4 -5.2 8.1 -1.2 8.8 2.0 10.9 5.3 12.5 6.5 14.1 7.0 17.0 6.9M-12.8 10.1 -10.1 8.8 -7.8 6.9 -6.0 4.4 -4.9 2.0 -4.6 -0.4 -4.9 -3.6 -7.5 -15.7 -7.4 -16.6 -6.7 -17.4 -2.8 -18.3 0.4 -18.6 7.9 -17.4 8.5 -16.6 8.4 -15.7 6.7 -10.9 5.5 -4.4 5.2 -1.2 5.5 1.2 6.5 3.6 8.5 6.1 10.9 7.9 14.1 8.9 17.4 8.7 21.0 6.9 23.7 4.4 25.7 1.2 26.7 -2.0 26.8 -5.2 26.0 -9.3 24.4 -12.5 22.2 -15.3 19.0 -17.7 16.6 -18.7 11.7 -19.7 6.9 -22.1 3.6 -22.8 -1.2 -22.9 -5.2 -22.5 -11.7 -20.5 -16.6 -19.5 -19.8 -18.1 -23.5 -14.9 -26.4 -10.1 -27.6 -5.2 -27.3 -0.4 -26.5 2.0 -25.1 4.4 -21.4 8.1 -17.4 10.1 -14.9 10.5 -12.8 10.1M0.4 -3.2 -0.4 -3.3 -1.2 -4.0 -2.0 -5.5 -2.4 -7.7 -2.0 -10.6 -1.2 -11.7 -0.4 -12.2 1.2 -11.8 2.0 -10.9 2.6 -8.5 2.0 -4.9 1.2 -3.7 0.4 -3.2M-28.7 10.2 -25.4 9.9 -18.2 12.1 -14.9 12.5 -10.9 11.9 -3.6 9.0 0.4 8.2 3.6 8.3 10.9 10.5 14.1 11.0 17.4 10.7 24.6 8.6 27.1 8.7 28.7 9.3M-25.1 28.7 -26.6 27.1 -27.5 25.4 -28.0 23.8 -27.9 21.4 -27.2 19.0 -26.2 17.4 -24.6 15.7 -23.0 14.9 -20.6 14.7 0.4 15.9 9.3 14.0 20.6 12.8 23.0 13.1 24.9 14.1 26.9 16.6 28.0 19.0 28.5 22.2 28.1 24.6 26.7 27.1 25.1 28.7" fill="none" stroke="#222" stroke-opacity="0.62" stroke-width="0.45"/></g><path d="M-5.2 -25.1 L-1.0 -30.0 Q0 -31.1 1.0 -30.0 L5.2 -25.1" fill="#fff" stroke="#333" stroke-width="0.8"/><rect x="-28.1" y="-6.5" width="2.9" height="13.0" rx="0.9" fill="#f0f0f0" stroke="#3a3a3a" stroke-width="0.75"/><rect x="25.2" y="-6.5" width="2.9" height="13.0" rx="0.9" fill="#f0f0f0" stroke="#3a3a3a" stroke-width="0.75"/><circle r="25.6" fill="none" stroke="#2e2e2e" stroke-width="0.9"/></g><g transform="translate(427.3 299.5)"><clipPath id="cpd00"><circle r="25.6"/></clipPath><g clip-path="url(#cpd00)"><g filter="url(#sm)"><rect x="-30.7" y="-30.7" width="61.4" height="61.4" fill="#f5c2ab"/><path d="M28.7 28.7 -28.7 28.7 -28.7 -28.7 28.7 -28.7 28.7 28.7ZM3.0 25.4 2.1 24.6 0.4 24.5 -2.1 24.6 -3.0 25.4 -0.4 25.9 3.0 25.4Z" fill="#f5ba9f"/><path d="M28.7 28.7 -28.7 28.7 -28.7 -28.7 28.7 -28.7 28.7 28.7ZM5.6 26.2 6.8 25.4 6.5 24.6 2.0 23.6 -4.2 23.8 -6.5 24.6 -6.8 25.4 -5.2 26.4 -1.2 27.0 2.0 26.9 5.6 26.2Z" fill="#f4b194"/><path d="M28.7 28.7 -28.7 28.7 -28.7 -28.7 28.7 -28.7 28.7 28.7ZM6.9 27.1 8.9 26.2 9.7 25.4 9.5 24.6 7.7 23.7 4.1 23.0 -1.2 22.9 -6.1 23.3 -8.5 24.0 -9.5 24.6 -9.7 25.4 -7.7 26.8 -3.6 27.6 2.0 27.7 6.9 27.1Z" fill="#f4a988"/><path d="M28.7 28.7 -28.7 28.7 -28.7 -28.7 28.7 -28.7 28.7 28.7ZM8.0 27.9 12.1 26.2 12.7 25.4 12.6 24.6 10.9 23.5 7.7 22.7 -2.8 22.3 -10.1 23.2 -11.7 23.9 -12.6 24.6 -12.7 25.4 -10.7 27.1 -5.2 28.3 2.0 28.6 8.0 27.9Z" fill="#f29d7d"/><path d="M28.7 28.7 10.5 28.7 15.2 27.1 16.2 26.2 16.5 24.6 14.9 23.2 12.5 22.4 3.6 21.8 -10.9 22.1 -14.5 23.0 -16.5 24.6 -16.2 26.2 -15.2 27.1 -10.5 28.7 -28.7 28.7 -28.7 -28.7 28.7 -28.7 28.7 28.7Z" fill="#ee8c73"/><path d="M11.7 20.6 3.6 21.2 -5.2 21.1 -28.7 18.8 -28.7 -0.6 -24.6 -2.3 -18.1 -6.9 -17.4 -7.8 -13.4 -19.8 -14.1 -23.7 -17.3 -28.7 17.3 -28.7 14.1 -23.7 13.4 -19.8 17.4 -7.8 18.1 -6.9 24.6 -2.3 28.7 -0.6 28.7 18.8 11.7 20.6Z" fill="#ea7c69"/><path d="M4.4 20.6 -6.1 20.5 -10.1 19.7 -13.3 18.5 -17.4 15.9 -20.0 13.3 -21.7 10.9 -22.9 7.7 -23.1 5.2 -22.5 2.0 -20.7 -1.2 -16.3 -6.1 -14.6 -13.3 -12.6 -17.4 -10.1 -20.3 -7.7 -21.9 -2.8 -23.6 1.2 -23.8 4.4 -23.2 7.7 -21.9 10.9 -19.5 13.1 -16.6 14.3 -14.1 16.3 -6.1 21.3 -0.4 22.9 3.6 23.1 6.1 22.4 9.3 20.7 12.5 18.2 15.3 14.9 17.7 11.7 19.2 4.4 20.6Z" fill="#e56b60"/><path d="M6.1 19.9 1.2 20.4 -3.6 20.2 -8.5 19.4 -11.7 18.3 -15.7 16.0 -18.7 13.3 -20.9 10.1 -21.7 7.7 -21.9 4.4 -21.3 2.0 -19.5 -1.2 -15.7 -5.3 -14.5 -11.7 -12.8 -15.7 -10.9 -18.4 -8.5 -20.4 -3.6 -22.5 -0.4 -22.9 3.6 -22.5 7.7 -20.9 10.9 -18.4 12.8 -15.7 14.0 -13.3 15.7 -5.3 20.0 -0.4 21.7 3.6 21.9 6.9 21.2 9.3 20.0 11.7 18.2 13.9 15.7 16.0 12.5 17.9 6.1 19.9Z" fill="#e15b56"/><path d="M2.8 19.9 -2.0 19.9 -6.1 19.4 -12.5 17.2 -15.7 15.1 -18.4 12.5 -20.0 10.1 -21.0 6.9 -21.0 4.4 -20.4 2.0 -19.1 -0.4 -15.1 -5.2 -13.9 -11.7 -12.2 -15.7 -10.1 -18.4 -7.7 -20.2 -4.4 -21.7 -1.2 -22.3 2.8 -22.1 6.1 -21.1 8.5 -19.7 11.1 -17.4 13.7 -12.5 15.1 -5.2 19.6 0.4 21.0 4.4 20.9 7.7 20.0 10.1 16.6 14.4 13.3 16.7 10.1 18.3 2.8 19.9Z" fill="#dd4a4c"/><path d="M5.2 19.1 1.2 19.6 -3.6 19.4 -7.7 18.6 -10.9 17.4 -14.1 15.6 -16.9 13.3 -18.8 10.9 -20.2 7.7 -20.4 5.2 -20.0 2.8 -18.4 -0.4 -14.6 -5.2 -13.5 -11.7 -12.2 -14.9 -10.5 -17.4 -8.5 -19.2 -5.2 -20.9 -2.8 -21.6 1.2 -21.8 4.4 -21.2 7.7 -19.7 10.5 -17.4 12.2 -14.9 13.2 -12.5 14.9 -4.5 18.9 0.4 20.2 3.6 20.4 6.1 20.0 8.5 18.8 10.9 16.9 13.3 11.7 17.0 5.2 19.1Z" fill="#d93a42"/><path d="M3.6 19.0 -0.4 19.2 -4.4 18.9 -8.5 17.9 -11.7 16.5 -14.9 14.4 -16.9 12.5 -18.6 10.1 -19.7 6.9 -19.7 4.4 -19.0 2.0 -14.2 -5.2 -13.1 -11.7 -11.2 -15.7 -7.7 -19.2 -5.2 -20.4 -2.0 -21.3 2.0 -21.3 5.2 -20.4 8.5 -18.6 10.6 -16.6 12.8 -12.5 14.2 -5.2 15.0 -3.6 18.2 0.4 19.7 4.4 19.7 6.9 19.0 9.3 17.6 11.7 15.7 13.7 10.1 17.2 3.6 19.0Z" fill="#d42938"/><path d="M5.2 18.3 1.2 18.8 -2.8 18.7 -6.9 18.0 -10.1 16.8 -13.4 14.9 -16.2 12.5 -18.0 10.1 -18.9 7.7 -19.2 5.2 -18.7 2.8 -17.6 0.4 -14.1 -4.4 -12.7 -11.7 -11.3 -14.9 -7.7 -18.7 -2.8 -20.8 1.2 -21.0 4.4 -20.3 7.7 -18.7 10.1 -16.6 12.4 -12.5 14.1 -4.3 17.6 0.4 18.9 3.6 19.2 6.1 18.7 8.5 16.2 12.5 11.7 16.0 5.2 18.3Z" fill="#d0192f"/><path d="M3.6 18.3 -3.6 18.3 -7.5 17.4 -10.9 15.9 -13.7 14.1 -16.2 11.7 -17.7 9.3 -18.5 6.9 -18.1 2.8 -16.9 0.4 -14.0 -3.6 -13.1 -6.1 -12.5 -10.8 -10.9 -14.8 -8.8 -17.4 -6.6 -19.0 -1.6 -20.6 1.6 -20.6 4.9 -19.8 7.7 -18.3 10.1 -16.0 12.0 -12.5 13.1 -6.1 14.0 -3.6 17.4 1.2 18.5 4.4 18.5 6.9 17.7 9.3 14.7 13.3 9.6 16.6 3.6 18.3Z" fill="#cc0825"/></g><path d="M6.2 -28.7 9.3 -26.6 10.8 -24.6 15.1 -14.1 17.4 -6.9 21.9 -2.8 24.2 0.4 25.2 3.6 25.3 6.9 24.5 10.1 22.7 13.3 19.8 16.8 17.4 18.7 14.9 19.7 11.7 20.4 0.4 21.2 -10.9 20.5 -14.6 19.8 -17.4 18.7 -19.8 16.8 -22.7 13.3 -24.2 10.9 -25.2 7.7 -25.2 3.6 -24.2 0.4 -21.9 -2.8 -17.4 -6.9 -15.1 -14.1 -10.9 -24.5 -9.3 -26.6 -6.2 -28.7M1.2 19.0 -2.8 18.9 -6.1 18.3 -9.3 17.3 -12.5 15.7 -14.9 14.0 -17.4 11.5 -18.9 8.5 -19.4 6.1 -19.2 3.6 -18.3 1.2 -14.1 -4.7 -12.9 -11.7 -11.0 -15.7 -8.7 -18.2 -6.1 -19.9 -3.6 -20.8 -0.4 -21.2 2.8 -20.9 6.1 -19.9 8.7 -18.2 10.9 -15.8 12.9 -11.7 14.1 -4.7 18.3 1.2 19.4 5.2 19.2 7.7 18.2 10.1 16.5 12.5 14.1 14.6 8.5 17.6 5.2 18.5 1.2 19.0M4.4 16.6 0.4 17.0 -2.8 16.9 -6.1 16.1 -9.0 14.9 -13.4 11.7 -15.1 9.3 -15.9 6.9 -15.7 3.5 -13.3 -1.6 -9.9 -13.3 -8.5 -15.4 -6.9 -16.9 -4.7 -18.2 -2.0 -19.0 1.2 -19.1 4.4 -18.3 6.9 -16.9 8.9 -14.9 10.6 -11.7 13.3 -1.6 15.8 3.6 16.0 6.1 15.7 7.7 14.9 9.5 13.4 11.7 9.0 14.9 4.4 16.6M2.8 13.5 0.4 13.8 -2.8 13.5 -5.1 12.5 -7.1 10.9 -9.0 7.7 -11.1 -0.4 -11.2 -2.8 -10.9 -4.4 -9.3 -7.4 -4.4 -12.4 -1.2 -13.9 2.0 -13.7 5.2 -11.7 9.7 -6.9 10.9 -4.4 11.2 -2.8 10.9 0.4 8.5 8.9 6.2 11.7 2.8 13.5M0.4 4.5 -2.0 4.3 -4.4 3.5 -6.9 1.9 -8.4 0.4 -9.3 -1.2 -9.5 -2.8 -9.0 -4.4 -7.7 -6.0 -4.4 -7.5 0.4 -8.0 5.2 -7.2 8.5 -5.2 9.5 -2.8 9.3 -1.2 8.4 0.4 6.9 1.9 4.4 3.5 0.4 4.5M2.0 2.1 -1.2 2.2 -4.4 1.1 -6.9 -1.2 -7.1 -2.8 -6.8 -3.6 -4.4 -5.2 -1.2 -5.9 2.8 -5.7 6.0 -4.4 7.1 -2.8 6.9 -1.2 5.2 0.6 2.0 2.1" fill="none" stroke="#222" stroke-opacity="0.62" stroke-width="0.45"/></g><path d="M-5.2 -25.1 L-1.0 -30.0 Q0 -31.1 1.0 -30.0 L5.2 -25.1" fill="#fff" stroke="#333" stroke-width="0.8"/><rect x="-28.1" y="-6.5" width="2.9" height="13.0" rx="0.9" fill="#f0f0f0" stroke="#3a3a3a" stroke-width="0.75"/><rect x="25.2" y="-6.5" width="2.9" height="13.0" rx="0.9" fill="#f0f0f0" stroke="#3a3a3a" stroke-width="0.75"/><circle r="25.6" fill="none" stroke="#2e2e2e" stroke-width="0.9"/></g><g transform="translate(494.1 299.5)"><clipPath id="cpd01"><circle r="25.6"/></clipPath><g clip-path="url(#cpd01)"><g filter="url(#sm)"><rect x="-30.7" y="-30.7" width="61.4" height="61.4" fill="#97c8df"/><path d="M28.7 28.7 -28.7 28.7 -28.7 -28.7 28.7 -28.7 28.7 28.7ZM5.1 27.1 6.6 26.2 5.3 25.4 2.8 25.2 -4.4 25.3 -6.6 26.2 -5.1 27.1 -2.0 27.4 5.1 27.1Z" fill="#a1cce2"/><path d="M28.7 28.7 -28.7 28.7 -28.7 -28.7 28.7 -28.7 28.7 28.7ZM-20.3 -14.9 -19.9 -15.7 -20.6 -17.1 -22.2 -17.4 -23.6 -16.6 -23.8 -15.7 -23.0 -14.7 -21.4 -14.4 -20.3 -14.9ZM4.6 27.9 8.2 27.1 9.3 26.2 8.6 25.4 6.1 24.8 -0.4 24.5 -6.9 25.0 -8.6 25.4 -9.3 26.2 -8.2 27.1 -4.6 27.9 4.6 27.9Z" fill="#abd2e4"/><path d="M28.7 28.7 -28.7 28.7 -28.7 -28.7 28.7 -28.7 28.7 28.7ZM-19.9 -13.3 -18.9 -14.1 -18.2 -15.7 -18.5 -17.4 -19.2 -18.2 -22.2 -18.9 -23.8 -18.5 -25.2 -17.4 -25.7 -15.7 -24.6 -13.8 -22.2 -12.8 -19.9 -13.3ZM22.6 -14.9 22.8 -16.6 21.8 -17.4 20.6 -17.5 19.4 -16.6 19.7 -14.9 20.6 -14.4 21.4 -14.3 22.6 -14.9ZM8.2 27.9 10.6 27.1 11.4 26.2 11.0 25.4 8.8 24.6 6.1 24.3 -3.6 24.1 -8.8 24.6 -11.0 25.4 -11.4 26.2 -10.6 27.1 -8.5 27.8 -3.6 28.5 2.8 28.5 8.2 27.9Z" fill="#b5d6e7"/><path d="M28.7 28.7 6.5 28.7 10.8 27.9 12.7 27.1 13.4 26.2 13.1 25.4 10.1 24.3 0.4 23.7 -9.3 24.1 -12.5 25.1 -13.4 26.2 -12.7 27.1 -10.8 27.9 -6.5 28.7 -28.7 28.7 -28.7 -28.7 28.7 -28.7 28.7 28.7ZM-19.3 -12.5 -17.7 -14.1 -17.1 -15.7 -17.2 -17.4 -18.3 -19.0 -20.0 -19.8 -22.2 -20.0 -24.6 -19.4 -26.2 -18.2 -27.1 -15.7 -26.6 -14.1 -25.4 -12.9 -22.2 -11.7 -19.3 -12.5ZM23.4 -13.3 24.3 -14.1 24.8 -15.7 23.8 -18.1 21.4 -19.1 19.8 -19.0 18.4 -18.2 17.9 -17.4 17.7 -15.7 19.0 -13.5 21.4 -12.7 23.4 -13.3Z" fill="#bfdce9"/><path d="M28.7 28.7 10.0 28.7 14.8 27.1 15.4 26.2 15.1 25.4 13.3 24.5 10.1 23.7 0.4 23.3 -10.1 23.7 -13.3 24.5 -15.1 25.4 -15.4 26.2 -14.8 27.1 -10.0 28.7 -28.7 28.7 -28.7 -28.7 28.7 -28.7 28.7 28.7ZM-20.9 -10.9 -19.0 -11.7 -17.3 -13.3 -16.2 -15.7 -16.4 -18.2 -17.7 -19.8 -19.8 -20.8 -22.2 -21.0 -24.6 -20.5 -27.0 -19.0 -27.9 -17.7 -28.3 -15.7 -27.9 -14.1 -25.4 -11.6 -23.0 -10.8 -20.9 -10.9ZM22.7 -11.7 24.6 -12.7 25.8 -14.1 26.2 -16.6 25.5 -18.2 23.8 -19.6 22.2 -20.2 19.8 -20.2 18.2 -19.5 16.6 -17.4 16.6 -15.7 17.2 -14.1 18.2 -12.9 19.8 -11.8 22.7 -11.7Z" fill="#cae0ec"/><path d="M28.7 28.7 12.8 28.7 16.8 27.1 17.4 26.2 17.1 25.4 15.7 24.5 12.5 23.5 3.6 23.0 -10.9 23.3 -14.9 24.2 -17.1 25.4 -17.4 26.2 -16.8 27.1 -12.8 28.7 -28.7 28.7 -28.7 -13.2 -27.4 -11.7 -25.4 -10.5 -23.0 -9.9 -20.6 -10.0 -18.2 -11.3 -16.6 -13.1 -15.6 -14.9 -15.3 -17.4 -15.7 -19.0 -16.6 -20.2 -18.2 -21.2 -20.6 -21.9 -23.0 -21.9 -25.4 -21.2 -27.1 -20.3 -28.7 -18.5 -28.7 -28.7 28.7 -28.7 28.7 28.7ZM23.7 -10.9 26.1 -12.5 27.1 -14.1 27.4 -16.6 26.3 -19.0 24.6 -20.4 22.2 -21.3 19.8 -21.3 17.4 -20.3 16.1 -19.0 15.6 -17.4 15.7 -15.7 16.8 -13.3 18.2 -11.7 19.8 -10.8 21.4 -10.5 23.7 -10.9Z" fill="#d4e6ee"/><path d="M28.7 28.7 15.6 28.7 19.0 27.1 19.5 26.2 19.3 25.4 17.4 24.2 14.1 23.2 6.9 22.6 -8.5 22.6 -13.2 23.0 -16.6 23.9 -19.3 25.4 -19.5 26.2 -19.0 27.1 -15.6 28.7 -28.7 28.7 -28.7 -11.4 -27.1 -10.2 -24.6 -9.2 -22.2 -8.9 -19.8 -9.4 -18.2 -10.4 -16.2 -12.5 -14.9 -14.9 -14.5 -17.4 -14.7 -19.0 -15.7 -20.8 -17.4 -22.0 -19.8 -22.7 -24.6 -22.5 -27.1 -21.5 -28.7 -20.3 -28.7 -28.7 28.7 -28.7 28.7 -16.3 27.9 -18.8 26.3 -20.6 23.8 -21.9 21.4 -22.4 19.0 -22.2 16.6 -21.1 15.4 -19.8 14.8 -17.4 15.2 -14.9 16.6 -12.4 18.2 -10.7 20.6 -9.5 23.0 -9.6 26.0 -10.9 27.9 -12.9 28.7 -15.4 28.7 28.7Z" fill="#deeaf1"/><path d="M28.7 28.7 18.4 28.7 21.4 27.1 21.8 26.2 21.6 25.4 20.8 24.6 15.7 22.8 9.3 22.1 -9.3 22.1 -14.1 22.5 -19.2 23.8 -21.6 25.4 -21.8 26.2 -21.4 27.1 -18.4 28.7 -28.7 28.7 -28.7 -9.9 -26.2 -8.6 -23.8 -8.0 -21.4 -7.9 -19.0 -8.9 -16.6 -11.0 -15.0 -13.3 -14.0 -15.7 -13.7 -18.2 -13.9 -19.8 -14.9 -21.6 -16.6 -22.8 -19.0 -23.6 -23.8 -23.8 -26.2 -23.1 -28.7 -21.8 -28.7 -28.7 28.7 -28.7 28.7 -19.9 27.1 -21.5 24.6 -22.8 22.2 -23.4 19.8 -23.4 17.4 -22.8 15.7 -21.9 14.6 -20.6 14.0 -18.2 14.3 -15.7 15.7 -12.5 17.4 -10.4 19.8 -8.8 22.2 -8.4 24.6 -8.9 27.1 -10.2 28.7 -11.9 28.7 28.7Z" fill="#e8f0f3"/><path d="M28.7 28.7 21.7 28.7 24.2 27.1 24.4 25.4 23.7 24.6 18.2 22.5 10.9 21.6 0.4 21.9 -11.7 21.6 -15.7 22.0 -21.4 23.5 -24.4 25.4 -24.2 27.1 -21.7 28.7 -28.7 28.7 -28.7 -8.4 -26.2 -7.3 -23.0 -6.7 -20.6 -7.0 -19.0 -7.8 -16.6 -10.0 -14.3 -13.3 -13.1 -16.6 -12.8 -19.0 -13.3 -21.3 -14.1 -22.6 -15.7 -23.8 -18.2 -24.7 -23.8 -25.0 -28.7 -23.4 -28.7 -28.7 28.7 -28.7 28.7 -21.9 24.6 -24.2 21.4 -24.7 19.0 -24.6 14.9 -23.0 13.7 -21.4 13.1 -19.0 13.4 -16.6 14.5 -13.3 16.6 -10.3 19.0 -8.1 21.4 -7.2 23.8 -7.3 26.2 -8.2 28.7 -9.8 28.7 28.7Z" fill="#f2f4f6"/><path d="M28.7 28.7 25.7 28.7 27.1 27.9 28.3 26.2 27.4 24.6 26.3 23.8 20.6 21.9 13.3 20.9 -0.4 21.5 -13.3 20.9 -19.0 21.5 -24.5 23.0 -27.4 24.6 -28.3 26.2 -27.9 27.1 -25.7 28.7 -28.7 28.7 -28.7 -6.5 -25.4 -5.5 -23.0 -5.2 -20.6 -5.7 -19.0 -6.7 -15.7 -10.1 -13.7 -13.3 -12.4 -16.6 -11.9 -19.8 -12.6 -23.0 -14.9 -25.2 -18.2 -26.3 -21.4 -26.7 -24.6 -26.4 -28.7 -25.2 -28.7 -28.7 28.7 -28.7 28.7 -24.1 23.8 -26.1 20.6 -26.3 17.4 -25.9 14.9 -25.0 13.3 -23.7 12.5 -22.2 12.2 -19.8 12.7 -16.6 14.1 -12.9 16.6 -9.3 19.0 -6.9 20.6 -6.0 23.0 -5.6 26.2 -6.4 28.7 -7.7 28.7 28.7Z" fill="#f7f3f1"/><path d="M-27.1 -28.6 -28.7 -28.1 -28.7 -28.7 -26.6 -28.7 -27.1 -28.6ZM28.7 21.9 22.2 20.3 16.6 19.6 6.1 20.8 -0.4 21.1 -15.7 19.6 -21.4 20.2 -28.7 21.9 -28.7 -3.7 -23.8 -2.6 -22.2 -2.9 -20.6 -3.7 -17.4 -7.1 -14.5 -10.9 -12.3 -14.9 -11.3 -18.2 -10.7 -23.0 -11.2 -25.4 -13.3 -27.4 -16.9 -28.7 17.7 -28.7 13.3 -27.2 11.5 -25.4 11.0 -23.0 11.5 -18.2 12.9 -14.1 14.7 -10.9 17.4 -7.2 20.6 -4.0 22.2 -3.1 23.8 -3.0 28.7 -4.5 28.7 21.9ZM28.7 -27.3 24.3 -28.7 28.7 -28.7 28.7 -27.3Z" fill="#f7ebe5"/><path d="M2.8 20.6 -2.8 20.6 -7.7 20.0 -11.6 19.0 -14.5 17.4 -16.0 15.7 -17.8 12.5 -19.5 7.7 -20.2 3.6 -20.1 0.4 -19.4 -2.0 -12.4 -13.3 -8.0 -24.6 -5.2 -27.2 -1.2 -28.4 2.0 -28.3 4.4 -27.6 6.9 -26.2 8.2 -24.6 12.3 -14.1 18.7 -3.6 20.2 1.2 20.0 5.2 18.7 10.1 17.0 14.1 15.3 16.6 13.3 18.2 10.9 19.2 2.8 20.6Z" fill="#f6e2da"/><path d="M5.2 19.8 0.4 20.2 -4.4 19.9 -8.5 19.0 -10.9 17.9 -13.2 15.7 -15.3 12.5 -17.0 8.5 -18.1 3.6 -18.2 -0.4 -17.4 -3.6 -11.8 -13.3 -8.1 -21.4 -5.2 -24.3 -1.2 -25.6 3.6 -25.1 6.1 -23.9 7.7 -22.3 12.4 -12.5 17.1 -4.4 18.1 -1.2 18.3 2.0 17.7 6.1 16.4 10.1 14.4 14.1 12.5 16.6 10.5 18.2 5.2 19.8Z" fill="#f6dace"/><path d="M5.2 19.1 1.2 19.6 -2.8 19.5 -6.1 18.9 -9.6 17.4 -12.1 14.9 -14.1 11.7 -15.8 7.7 -16.8 3.6 -17.0 -0.4 -16.4 -3.6 -8.5 -18.6 -6.9 -21.0 -5.2 -22.4 -1.2 -23.9 1.2 -23.9 3.6 -23.3 6.1 -22.0 7.4 -20.6 15.4 -6.1 17.0 -1.2 17.0 2.0 16.3 6.1 13.7 12.5 10.1 17.0 8.1 18.2 5.2 19.1Z" fill="#f6d2c2"/><path d="M0.4 19.0 -2.8 18.8 -6.1 18.0 -8.5 16.7 -10.5 14.9 -12.5 12.2 -14.4 8.5 -15.5 4.4 -16.0 0.4 -15.6 -2.8 -14.4 -6.1 -7.7 -18.3 -4.4 -21.4 -0.4 -22.7 2.0 -22.5 4.4 -21.5 7.7 -18.6 14.5 -6.1 15.6 -2.8 16.0 0.4 15.7 3.6 14.6 7.7 12.8 11.7 10.9 14.4 8.7 16.6 6.9 17.6 3.6 18.6 0.4 19.0Z" fill="#f5cab7"/><path d="M1.2 18.2 -2.0 18.1 -4.9 17.4 -7.7 15.8 -9.6 14.1 -11.7 11.3 -13.3 8.1 -14.9 1.2 -14.8 -2.0 -13.9 -5.2 -8.6 -15.7 -6.9 -18.1 -4.4 -20.3 -0.4 -21.6 2.0 -21.4 4.4 -20.4 8.2 -16.6 13.4 -6.9 14.5 -3.6 14.9 -0.4 14.0 6.1 12.8 9.3 10.9 12.5 8.8 14.9 6.6 16.6 4.4 17.5 1.2 18.2Z" fill="#f5c2ab"/><path d="M1.2 17.4 -3.6 16.8 -6.1 15.6 -8.7 13.3 -10.9 10.3 -12.5 7.0 -13.8 0.4 -12.8 -6.1 -9.1 -14.1 -5.2 -18.9 -2.8 -20.3 -0.4 -20.9 2.0 -20.6 4.4 -19.6 8.2 -15.7 12.3 -7.7 13.5 -3.6 13.8 -0.4 12.8 6.1 10.0 11.7 5.8 15.7 3.6 16.8 1.2 17.4Z" fill="#f5ba9f"/><path d="M1.2 16.7 -1.2 16.7 -3.6 16.0 -6.1 14.5 -8.0 12.5 -11.3 6.9 -12.6 0.4 -12.1 -6.1 -9.1 -13.3 -5.2 -18.2 -2.8 -19.7 -0.4 -20.3 2.0 -20.0 4.4 -18.9 8.2 -14.9 11.4 -8.5 12.6 -2.0 12.0 4.4 9.7 10.1 6.1 14.5 3.6 16.0 1.2 16.7Z" fill="#f4b194"/><path d="M2.0 15.9 -0.4 16.1 -2.8 15.6 -5.2 14.2 -7.0 12.5 -8.8 10.1 -10.3 6.9 -11.6 0.4 -11.3 -6.9 -8.7 -13.3 -5.2 -17.7 -2.8 -19.2 -0.4 -19.7 2.0 -19.5 3.6 -18.8 7.2 -15.7 10.3 -10.1 11.7 -4.4 11.4 2.8 9.6 8.5 6.3 13.3 4.4 14.8 2.0 15.9Z" fill="#f4a988"/><path d="M2.8 15.0 0.4 15.6 -2.0 15.3 -4.4 14.1 -6.3 12.5 -8.1 10.1 -9.7 6.9 -11.1 -0.4 -10.9 -6.9 -8.8 -12.5 -5.2 -17.2 -2.8 -18.7 -0.4 -19.3 1.2 -19.2 3.6 -18.4 6.9 -15.6 9.6 -10.9 11.1 -5.2 11.0 0.4 9.7 6.9 6.9 11.9 5.2 13.5 2.8 15.0Z" fill="#f29d7d"/><path d="M1.2 15.0 -0.4 15.1 -2.8 14.5 -5.2 12.9 -7.0 10.9 -9.7 5.2 -10.7 -1.2 -10.3 -7.7 -8.0 -13.3 -4.4 -17.4 -2.0 -18.6 -0.4 -18.9 2.0 -18.6 3.6 -17.9 7.0 -14.9 9.6 -10.1 10.8 -4.4 10.3 2.8 8.1 9.3 5.2 12.9 2.8 14.5 1.2 15.0Z" fill="#ee8c73"/><path d="M2.0 14.3 -0.4 14.6 -2.8 14.0 -4.4 13.0 -6.5 10.9 -9.1 6.1 -10.4 -1.2 -10.2 -6.9 -8.1 -12.5 -6.5 -14.9 -4.4 -17.0 -2.8 -17.9 -0.4 -18.5 1.2 -18.4 3.6 -17.5 6.6 -14.9 9.0 -10.9 10.4 -5.2 10.1 1.2 8.8 6.9 5.9 11.7 4.0 13.3 2.0 14.3Z" fill="#ea7c6a"/><path d="M0.4 14.2 -2.0 13.9 -3.6 13.1 -5.4 11.7 -7.2 9.3 -9.4 3.6 -10.2 -2.8 -9.5 -8.5 -7.4 -13.3 -4.4 -16.6 -2.8 -17.6 -0.4 -18.2 2.0 -17.9 3.6 -17.2 6.9 -14.2 9.0 -10.1 10.2 -4.4 9.6 2.8 7.6 8.5 4.4 12.5 2.8 13.6 0.4 14.2Z" fill="#e56b60"/><path d="M2.0 13.4 -0.4 13.8 -2.0 13.4 -4.4 12.1 -6.1 10.4 -8.6 5.2 -9.8 -1.2 -9.6 -6.9 -7.6 -12.5 -4.4 -16.2 -2.8 -17.2 -0.4 -17.8 2.8 -17.2 6.1 -14.8 8.8 -10.1 9.8 -5.2 9.5 1.2 8.1 6.9 5.2 11.3 2.0 13.4Z" fill="#e15b56"/><path d="M0.4 13.4 -2.0 13.0 -3.6 12.2 -6.9 8.6 -8.8 3.6 -9.6 -2.8 -9.0 -8.5 -6.9 -13.2 -3.6 -16.4 -0.4 -17.5 2.8 -16.9 6.2 -14.1 8.8 -9.3 9.6 -4.4 9.0 2.8 7.3 7.7 4.4 11.6 2.8 12.7 0.4 13.4Z" fill="#dd4a4c"/><path d="M2.0 12.6 -0.4 12.9 -2.0 12.6 -5.4 10.1 -8.0 5.2 -9.3 -2.0 -9.0 -7.7 -7.0 -12.5 -4.1 -15.7 -2.0 -16.9 -0.4 -17.2 2.8 -16.6 6.1 -13.9 8.2 -10.1 9.3 -5.2 9.0 1.2 7.7 6.2 5.2 10.3 2.0 12.6Z" fill="#d93a42"/><path d="M2.8 11.8 0.4 12.5 -1.2 12.4 -2.9 11.7 -4.9 10.1 -7.7 5.3 -9.0 -1.2 -8.9 -6.9 -7.2 -11.7 -4.4 -15.2 -2.8 -16.2 -0.4 -16.9 2.8 -16.2 5.5 -14.1 7.7 -10.8 9.0 -6.1 8.9 -0.4 7.7 5.2 5.6 9.3 2.8 11.8Z" fill="#d42938"/><path d="M1.2 11.9 -1.2 11.9 -2.8 11.3 -5.7 8.5 -7.7 4.3 -8.9 -2.8 -8.5 -7.6 -6.9 -11.8 -5.2 -14.0 -3.6 -15.4 -0.4 -16.5 2.8 -15.9 5.9 -13.3 8.0 -9.3 8.9 -5.2 8.5 0.7 6.9 6.4 4.4 10.0 1.2 11.9Z" fill="#d0192f"/><path d="M2.0 11.1 -0.4 11.5 -2.0 11.1 -3.6 10.2 -5.2 8.5 -7.0 5.2 -8.5 -1.3 -8.5 -6.1 -7.0 -10.9 -4.4 -14.4 -1.2 -16.1 2.0 -15.9 5.2 -13.7 7.7 -9.5 8.5 -6.1 8.5 -1.3 7.0 5.2 4.6 9.3 2.0 11.1Z" fill="#cc0825"/></g><path d="M-28.7 -13.6 -27.1 -11.7 -25.4 -10.7 -23.0 -10.1 -20.6 -10.2 -18.2 -11.5 -16.6 -13.3 -15.7 -15.0 -15.4 -17.4 -15.9 -19.0 -17.4 -20.6 -19.0 -21.3 -21.4 -21.8 -25.4 -21.0 -27.4 -19.8 -28.7 -18.2M23.1 -10.9 25.4 -12.2 26.9 -14.1 27.2 -16.6 26.6 -18.2 25.2 -19.8 23.0 -20.9 20.6 -21.2 18.2 -20.6 16.6 -19.3 16.0 -18.2 15.8 -16.6 16.5 -14.1 17.6 -12.5 19.0 -11.3 20.6 -10.7 23.1 -10.9M12.3 28.7 16.5 27.1 17.0 26.2 16.7 25.4 14.1 24.1 10.9 23.4 -2.0 23.0 -11.7 23.5 -14.9 24.4 -16.7 25.4 -17.0 26.2 -16.5 27.1 -12.3 28.7M-28.7 -2.4 -23.8 -1.5 -21.4 -2.3 -17.4 -6.8 -13.8 -11.7 -11.3 -17.4 -10.2 -23.8 -10.3 -25.4 -10.9 -27.0 -13.1 -28.7M13.5 -28.7 11.7 -27.6 10.9 -26.5 10.5 -23.8 11.5 -17.4 14.1 -11.5 17.4 -6.9 21.4 -2.6 23.8 -1.9 28.7 -3.1M28.7 -28.6 28.5 -28.7M28.7 20.9 18.2 19.0 14.9 19.2 6.1 20.7 -0.4 21.0 -7.1 20.6 -17.4 19.0 -21.4 19.4 -28.7 20.9M2.8 17.4 -0.4 17.7 -3.6 17.2 -6.1 16.0 -8.4 14.1 -10.5 11.7 -12.3 8.5 -13.5 5.2 -14.2 1.2 -14.1 -2.0 -13.1 -6.1 -11.4 -10.1 -8.8 -14.9 -5.2 -19.1 -2.8 -20.6 -0.4 -21.1 2.0 -20.9 3.6 -20.3 6.1 -18.6 7.8 -16.6 9.9 -13.3 12.2 -8.5 13.6 -4.4 14.2 -1.2 14.1 2.0 13.5 5.2 11.0 10.9 7.6 14.9 5.2 16.5 2.8 17.4M2.0 14.3 -0.4 14.6 -2.8 14.0 -4.4 13.0 -6.5 10.9 -9.0 6.1 -10.4 -1.2 -10.1 -6.9 -9.5 -9.3 -8.1 -12.5 -6.5 -14.9 -4.4 -17.0 -2.8 -17.9 -0.4 -18.5 1.2 -18.4 3.6 -17.5 6.6 -14.9 9.0 -10.9 10.4 -5.2 10.0 2.0 8.7 6.9 7.6 9.3 5.8 11.7 4.0 13.3 2.0 14.3M2.0 11.9 -0.4 12.3 -2.0 11.9 -3.6 11.0 -5.2 9.4 -7.7 4.8 -8.9 -2.0 -8.8 -6.9 -6.9 -12.0 -5.2 -14.2 -3.6 -15.6 -0.4 -16.7 2.8 -16.1 4.4 -15.0 6.0 -13.3 8.1 -9.3 9.0 -5.2 8.5 1.2 7.2 6.1 5.2 9.4 3.6 11.0 2.0 11.9M0.4 8.6 -2.0 8.1 -4.4 5.7 -6.9 -0.2 -7.5 -3.6 -6.9 -8.5 -5.2 -11.6 -2.8 -13.9 -0.4 -14.7 1.2 -14.6 2.8 -14.0 5.2 -11.7 6.9 -8.5 7.5 -4.4 6.9 -0.2 5.2 4.4 2.8 7.6 0.4 8.6" fill="none" stroke="#222" stroke-opacity="0.62" stroke-width="0.45"/></g><path d="M-5.2 -25.1 L-1.0 -30.0 Q0 -31.1 1.0 -30.0 L5.2 -25.1" fill="#fff" stroke="#333" stroke-width="0.8"/><rect x="-28.1" y="-6.5" width="2.9" height="13.0" rx="0.9" fill="#f0f0f0" stroke="#3a3a3a" stroke-width="0.75"/><rect x="25.2" y="-6.5" width="2.9" height="13.0" rx="0.9" fill="#f0f0f0" stroke="#3a3a3a" stroke-width="0.75"/><circle r="25.6" fill="none" stroke="#2e2e2e" stroke-width="0.9"/></g><g transform="translate(560.8 299.5)"><clipPath id="cpd02"><circle r="25.6"/></clipPath><g clip-path="url(#cpd02)"><g filter="url(#sm)"><rect x="-30.7" y="-30.7" width="61.4" height="61.4" fill="#61a8ce"/><path d="M28.7 28.7 -28.7 28.7 -28.7 -28.7 28.7 -28.7 28.7 28.7ZM3.3 27.1 5.0 26.2 3.1 25.4 -0.4 25.3 -3.1 25.4 -5.0 26.2 -2.8 27.1 3.3 27.1Z" fill="#6fb0d2"/><path d="M28.7 28.7 -28.7 28.7 -28.7 -28.7 28.7 -28.7 28.7 28.7ZM2.8 27.9 7.0 27.1 8.0 26.2 7.2 25.4 6.1 25.2 -0.4 24.6 -6.1 25.2 -7.2 25.4 -8.0 26.2 -7.0 27.1 -3.6 27.8 2.8 27.9Z" fill="#7db8d7"/><path d="M28.7 28.7 -28.7 28.7 -28.7 -28.7 28.7 -28.7 28.7 28.7ZM6.9 27.9 9.4 27.1 10.2 26.2 9.7 25.4 5.2 24.4 -2.8 24.2 -7.7 24.7 -9.7 25.4 -10.2 26.2 -9.4 27.1 -7.7 27.6 -3.6 28.3 2.0 28.4 6.9 27.9Z" fill="#8bc1dc"/><path d="M28.7 28.7 4.9 28.7 9.5 27.9 11.4 27.1 12.1 26.2 11.7 25.4 9.3 24.4 0.4 23.8 -9.3 24.4 -11.7 25.4 -12.1 26.2 -11.4 27.1 -9.5 27.9 -4.9 28.7 -28.7 28.7 -28.7 -28.7 28.7 -28.7 28.7 28.7ZM-20.0 -14.1 -19.5 -15.7 -20.6 -17.2 -22.2 -17.4 -23.8 -16.5 -24.2 -14.9 -23.0 -13.6 -21.4 -13.4 -20.0 -14.1Z" fill="#97c8df"/><path d="M28.7 28.7 8.4 28.7 13.2 27.1 13.8 26.2 13.5 25.4 12.2 24.6 9.1 23.8 0.4 23.4 -9.1 23.8 -12.2 24.6 -13.5 25.4 -13.8 26.2 -13.2 27.1 -8.4 28.7 -28.7 28.7 -28.7 -28.7 28.7 -28.7 28.7 28.7ZM-19.8 -12.5 -18.1 -14.9 -18.1 -16.6 -19.0 -17.9 -20.6 -18.7 -22.2 -18.9 -23.8 -18.4 -25.2 -17.4 -25.9 -14.9 -24.6 -12.9 -22.2 -11.9 -19.8 -12.5Z" fill="#a1cce2"/><path d="M28.7 28.7 11.0 28.7 15.0 27.1 15.5 26.2 15.3 25.4 13.3 24.3 10.1 23.5 0.4 23.1 -10.1 23.5 -13.3 24.3 -15.3 25.4 -15.5 26.2 -15.0 27.1 -11.0 28.7 -28.7 28.7 -28.7 -28.7 28.7 -28.7 28.7 28.7ZM-21.3 -10.9 -19.8 -11.4 -18.2 -12.7 -17.3 -14.1 -17.0 -16.6 -17.7 -18.2 -19.0 -19.3 -20.6 -19.9 -23.0 -19.9 -26.1 -18.2 -27.0 -16.6 -27.2 -14.9 -26.6 -13.3 -25.0 -11.7 -23.0 -10.9 -21.3 -10.9ZM22.1 -13.3 23.5 -14.9 23.2 -16.6 21.4 -17.6 19.8 -17.3 19.0 -16.4 19.0 -14.8 20.4 -13.3 22.1 -13.3Z" fill="#abd2e4"/><path d="M28.7 28.7 13.3 28.7 16.7 27.1 17.2 26.2 17.0 25.4 14.9 24.1 11.7 23.2 1.2 22.7 -10.9 23.1 -14.1 23.8 -17.0 25.4 -17.2 26.2 -16.7 27.1 -13.3 28.7 -28.7 28.7 -28.7 -28.7 28.7 -28.7 28.7 28.7ZM-20.6 -10.1 -19.0 -10.9 -17.3 -12.5 -16.3 -14.9 -16.2 -17.4 -17.4 -19.5 -19.0 -20.5 -21.4 -21.1 -23.8 -20.7 -25.8 -19.8 -27.5 -18.2 -28.2 -16.6 -28.2 -14.1 -27.1 -12.1 -25.4 -10.8 -23.0 -10.0 -20.6 -10.1ZM22.3 -11.7 24.7 -13.3 25.3 -14.9 25.1 -16.6 23.0 -18.8 21.4 -19.3 19.8 -19.1 18.2 -18.2 17.7 -17.4 17.5 -14.9 19.0 -12.5 20.6 -11.7 22.3 -11.7Z" fill="#b5d6e7"/><path d="M28.7 28.7 15.5 28.7 18.5 27.1 19.0 26.2 18.7 25.4 17.9 24.6 12.5 22.8 5.2 22.4 -7.7 22.4 -12.5 22.8 -16.2 23.8 -18.7 25.4 -19.0 26.2 -18.5 27.1 -15.5 28.7 -28.7 28.7 -28.7 -12.5 -27.3 -10.9 -25.4 -9.7 -23.0 -9.0 -20.6 -9.2 -19.0 -9.9 -17.1 -11.7 -15.8 -14.1 -15.3 -16.6 -15.5 -18.2 -16.6 -20.2 -18.2 -21.4 -20.6 -22.1 -23.0 -22.0 -25.4 -21.1 -27.4 -19.8 -28.7 -18.2 -28.7 -28.7 28.7 -28.7 28.7 28.7ZM23.7 -10.9 25.4 -12.2 26.5 -14.1 26.5 -16.6 25.7 -18.2 23.9 -19.8 22.2 -20.5 19.8 -20.5 18.2 -19.9 16.7 -18.2 16.3 -16.6 16.5 -14.9 17.4 -12.9 19.0 -11.2 20.6 -10.5 23.7 -10.9Z" fill="#bfdce9"/><path d="M28.7 28.7 17.7 28.7 20.4 27.1 20.8 26.2 20.6 25.4 19.8 24.6 14.9 22.8 7.7 22.0 -9.3 22.1 -14.1 22.6 -18.3 23.8 -20.6 25.4 -20.8 26.2 -20.4 27.1 -17.7 28.7 -28.7 28.7 -28.7 -10.8 -27.1 -9.5 -24.6 -8.4 -22.2 -8.1 -19.8 -8.6 -17.4 -10.4 -15.8 -12.5 -14.8 -14.9 -14.5 -17.4 -15.7 -21.0 -17.4 -22.6 -19.0 -23.2 -21.4 -23.3 -23.8 -22.9 -26.2 -21.9 -28.7 -20.0 -28.7 -28.7 28.7 -28.7 28.7 28.7ZM22.0 -9.3 24.6 -10.1 26.6 -11.7 27.8 -14.1 27.8 -16.6 26.7 -19.0 24.6 -20.8 21.4 -22.0 19.0 -21.8 17.4 -21.0 15.8 -19.0 15.4 -17.4 15.6 -14.9 16.6 -12.7 18.2 -10.7 19.8 -9.6 22.0 -9.3Z" fill="#cae0ec"/><path d="M28.7 28.7 20.0 28.7 22.4 27.1 22.6 25.4 21.9 24.6 16.6 22.5 9.3 21.6 -10.1 21.6 -14.9 22.1 -20.6 23.8 -22.6 25.4 -22.4 27.1 -20.0 28.7 -28.7 28.7 -28.7 -9.4 -26.2 -7.9 -23.8 -7.2 -21.4 -7.2 -19.8 -7.7 -17.4 -9.5 -15.6 -11.7 -14.2 -14.9 -13.8 -17.4 -14.9 -22.7 -15.7 -23.8 -17.4 -24.5 -20.6 -24.7 -23.8 -24.1 -26.2 -23.1 -28.7 -21.5 -28.7 -28.7 28.7 -28.7 28.7 -17.9 27.1 -20.4 24.6 -22.2 22.2 -23.3 19.0 -23.6 17.0 -23.0 15.7 -21.6 14.9 -19.8 14.5 -17.4 15.2 -14.1 16.6 -11.5 18.2 -9.6 20.6 -8.3 23.0 -8.3 25.4 -9.2 27.5 -10.9 28.7 -12.9 28.7 28.7Z" fill="#d4e6ee"/><path d="M28.7 28.7 22.4 28.7 23.8 27.9 25.0 26.2 24.2 24.6 23.0 23.9 17.4 21.9 10.9 21.2 -11.7 21.2 -16.6 21.7 -21.2 23.0 -24.2 24.6 -24.8 25.4 -24.6 27.1 -22.4 28.7 -28.7 28.7 -28.7 -8.0 -25.4 -6.5 -22.2 -6.1 -19.8 -6.7 -17.4 -8.6 -15.0 -11.7 -13.6 -14.9 -13.1 -17.4 -13.0 -22.2 -12.0 -24.6 -12.5 -25.4 -14.1 -25.8 -20.6 -25.9 -24.6 -25.1 -28.7 -23.0 -28.7 -28.7 28.7 -28.7 28.7 -20.4 25.4 -23.4 22.2 -24.9 17.4 -25.5 14.9 -25.3 13.6 -24.6 14.0 -22.2 13.8 -17.4 14.2 -14.9 15.7 -11.5 18.2 -8.6 20.6 -7.2 23.0 -7.1 26.2 -8.3 28.7 -10.4 28.7 28.7Z" fill="#deeaf1"/><path d="M28.7 28.7 25.3 28.7 26.5 27.9 27.6 26.2 26.8 24.6 24.6 23.2 18.2 21.3 12.5 20.6 -0.4 21.1 -12.5 20.6 -17.4 21.1 -22.2 22.3 -25.8 23.8 -26.8 24.6 -27.6 26.2 -26.5 27.9 -25.3 28.7 -28.7 28.7 -28.7 -6.5 -26.2 -5.5 -23.0 -4.9 -20.6 -5.3 -19.0 -6.2 -16.6 -8.5 -14.0 -12.5 -12.7 -15.7 -11.5 -22.2 -9.3 -24.1 -4.4 -26.2 -8.7 -27.1 -19.8 -27.2 -24.6 -26.5 -28.7 -24.7 -28.7 -28.7 28.7 -28.7 28.7 -22.6 24.9 -25.4 20.6 -26.7 11.7 -27.0 5.2 -26.2 10.1 -24.0 12.2 -22.2 13.1 -16.6 14.2 -13.3 16.6 -9.3 19.0 -6.9 20.6 -6.0 23.0 -5.8 26.2 -6.8 28.7 -8.4 28.7 28.7Z" fill="#e8f0f3"/><path d="M28.7 -25.1 24.6 -27.3 19.0 -28.3 -19.8 -28.5 -24.6 -27.9 -28.7 -26.5 -28.7 -28.7 28.7 -28.7 28.7 -25.1ZM28.7 23.5 23.0 21.3 15.7 20.0 -0.4 20.7 -14.1 19.9 -22.2 21.1 -28.7 23.5 -28.7 -4.8 -26.2 -3.9 -23.0 -3.5 -20.6 -4.0 -19.0 -5.1 -16.6 -7.6 -14.3 -10.9 -12.4 -14.9 -10.9 -20.9 -10.0 -22.2 -8.5 -23.2 -4.4 -24.4 0.4 -24.8 5.2 -24.4 9.3 -23.1 10.6 -22.2 11.6 -20.6 12.7 -15.7 14.3 -11.7 16.6 -8.3 19.0 -5.7 20.6 -4.6 23.0 -4.2 26.2 -5.0 28.7 -6.3 28.7 23.5Z" fill="#f2f4f6"/><path d="M28.7 -27.9 26.9 -28.7 28.7 -28.7 28.7 -27.9ZM28.7 21.1 22.2 19.6 16.6 18.8 5.2 20.1 -0.4 20.4 -15.7 18.8 -21.4 19.4 -28.7 21.1 -28.7 -2.4 -23.0 -1.3 -21.4 -1.7 -19.8 -2.9 -14.1 -10.1 -12.1 -14.1 -10.1 -20.4 -8.5 -22.2 -5.2 -23.5 -1.2 -24.0 3.6 -23.8 7.7 -22.8 9.3 -22.0 10.5 -20.6 12.3 -14.9 14.1 -10.9 16.6 -7.1 19.8 -3.4 21.4 -2.3 23.0 -2.0 25.4 -2.3 28.7 -3.6 28.7 21.1Z" fill="#f7f3f1"/><path d="M3.6 19.8 -4.4 19.8 -12.5 18.2 -19.2 14.9 -22.3 12.5 -23.2 10.9 -22.6 6.9 -20.9 2.0 -13.1 -10.9 -9.3 -20.0 -6.9 -22.1 -3.6 -23.1 0.4 -23.4 4.4 -23.0 7.7 -22.0 9.3 -20.6 13.3 -11.3 20.4 0.4 22.0 4.4 23.3 9.3 23.4 10.9 22.4 12.5 17.9 15.7 10.9 18.6 3.6 19.8Z" fill="#f7ebe5"/><path d="M6.1 19.1 1.2 19.5 -3.6 19.4 -7.7 18.7 -11.6 17.4 -13.8 15.7 -15.1 14.1 -17.9 7.7 -18.6 2.8 -17.5 -2.0 -12.5 -10.9 -8.5 -19.6 -6.9 -21.2 -4.4 -22.2 -1.2 -22.7 2.8 -22.6 6.1 -21.8 8.1 -20.6 9.3 -19.0 12.5 -11.7 17.0 -3.6 18.2 -0.4 18.6 2.8 18.3 6.1 17.1 10.1 15.1 14.1 13.8 15.7 11.6 17.4 6.1 19.1Z" fill="#f6e2da"/><path d="M2.0 19.0 -2.2 19.0 -6.9 18.3 -9.4 17.4 -11.7 15.9 -13.3 14.0 -15.1 10.9 -16.3 7.7 -17.2 3.6 -17.1 0.4 -16.2 -2.8 -7.9 -19.0 -5.2 -21.2 -1.2 -22.2 4.4 -21.6 7.7 -19.8 16.0 -3.6 17.3 1.2 17.1 4.4 16.1 8.5 14.7 11.7 12.6 14.9 10.8 16.6 8.5 17.7 2.0 19.0Z" fill="#f6dace"/><path d="M3.6 18.2 -0.4 18.5 -4.1 18.2 -7.2 17.4 -10.1 15.7 -12.3 13.3 -13.8 10.9 -15.4 6.9 -16.0 3.6 -16.1 0.4 -15.3 -2.8 -8.0 -17.4 -5.2 -20.4 -1.2 -21.6 3.6 -21.2 5.2 -20.5 7.2 -19.0 9.7 -14.9 13.7 -6.9 16.0 -0.4 16.1 2.8 15.6 6.1 14.5 9.3 12.5 13.0 11.0 14.9 8.9 16.6 3.6 18.2Z" fill="#f6d2c2"/><path d="M4.4 17.4 1.2 17.9 -2.0 17.8 -5.2 17.1 -8.5 15.6 -10.9 13.3 -12.5 10.8 -14.1 7.1 -15.0 3.6 -15.1 0.4 -14.3 -2.8 -8.9 -14.9 -6.9 -18.0 -5.2 -19.5 -1.2 -21.1 1.2 -21.1 3.6 -20.5 6.1 -19.1 7.6 -17.4 12.3 -8.5 15.0 -0.4 14.7 5.2 13.6 8.5 12.0 11.7 8.5 15.6 4.4 17.4Z" fill="#f5cab7"/><path d="M4.4 16.6 1.2 17.3 -2.0 17.2 -5.2 16.2 -7.5 14.9 -10.0 12.5 -11.6 10.1 -13.0 6.9 -13.9 3.6 -14.0 0.4 -13.6 -2.0 -9.7 -12.5 -5.9 -18.2 -3.6 -19.8 -1.2 -20.6 1.2 -20.6 3.6 -19.9 6.1 -18.3 7.5 -16.6 11.4 -9.3 13.9 -1.2 13.7 4.4 11.7 9.9 8.5 14.1 4.4 16.6Z" fill="#f5c2ab"/><path d="M2.0 16.6 -0.4 16.8 -3.6 16.1 -7.7 13.3 -9.7 10.9 -11.4 7.7 -12.8 2.0 -12.0 -5.2 -8.9 -13.3 -5.2 -18.2 -2.8 -19.7 -0.4 -20.2 2.0 -20.0 4.4 -18.9 8.1 -14.9 11.5 -7.7 12.9 -0.4 12.3 5.2 9.7 10.9 6.1 14.8 2.0 16.6Z" fill="#f5ba9f"/><path d="M2.0 16.0 -0.4 16.2 -2.8 15.7 -5.2 14.5 -6.9 13.1 -9.1 10.1 -10.3 7.7 -11.3 4.4 -11.8 1.2 -11.3 -6.1 -9.0 -12.5 -5.2 -17.6 -2.8 -19.2 -0.4 -19.7 2.0 -19.5 3.6 -18.9 7.1 -15.7 10.5 -9.3 11.8 -2.8 11.5 3.6 9.5 9.3 6.1 13.9 2.0 16.0Z" fill="#f4b194"/><path d="M2.8 15.2 0.4 15.7 -2.0 15.5 -4.4 14.4 -6.1 13.1 -7.8 10.9 -9.6 7.7 -11.1 1.2 -10.8 -6.1 -8.6 -12.5 -5.2 -17.1 -2.8 -18.7 -0.4 -19.3 3.6 -18.4 6.9 -15.6 9.8 -10.1 11.2 -4.4 11.0 2.0 9.6 7.7 6.6 12.5 2.8 15.2Z" fill="#f4a988"/><path d="M1.2 15.1 -2.8 14.7 -5.0 13.3 -6.9 11.4 -9.6 6.1 -10.8 -0.4 -10.4 -6.9 -7.9 -13.3 -4.4 -17.4 -2.8 -18.3 -0.4 -18.9 2.0 -18.7 3.6 -18.0 6.9 -14.9 9.8 -9.3 10.8 -3.6 10.4 2.8 8.3 9.3 5.2 13.1 3.6 14.3 1.2 15.1Z" fill="#f29d7d"/><path d="M2.8 14.2 0.4 14.8 -2.0 14.5 -4.3 13.3 -6.1 11.7 -8.9 6.9 -10.3 0.4 -10.2 -6.1 -8.0 -12.5 -6.5 -14.9 -4.4 -17.0 -2.8 -18.0 -0.4 -18.6 2.0 -18.3 3.6 -17.6 6.6 -14.9 8.9 -10.9 10.4 -5.2 10.3 1.2 8.9 6.9 6.1 11.7 2.8 14.2Z" fill="#ee8c73"/><path d="M1.2 14.2 -1.2 14.2 -2.8 13.7 -6.3 10.9 -8.8 6.1 -10.1 -1.2 -9.8 -6.9 -7.7 -12.5 -4.4 -16.6 -2.8 -17.6 -0.4 -18.2 2.8 -17.7 6.2 -14.9 9.0 -10.1 10.2 -4.4 9.8 2.0 8.2 7.7 5.2 12.0 3.6 13.3 1.2 14.2Z" fill="#ea7c6a"/><path d="M2.0 13.6 -0.4 13.9 -2.0 13.6 -4.1 12.5 -5.8 10.9 -8.5 6.1 -9.8 -0.4 -9.6 -6.9 -7.7 -12.1 -4.4 -16.2 -2.8 -17.3 -0.4 -17.9 2.8 -17.3 6.1 -14.8 8.7 -10.1 9.8 -5.2 9.6 1.2 8.2 6.9 5.2 11.5 2.0 13.6Z" fill="#e56b60"/><path d="M1.2 13.4 -1.2 13.4 -2.8 12.8 -6.1 10.0 -8.7 4.4 -9.6 -2.0 -9.1 -7.7 -7.2 -12.5 -4.4 -15.9 -2.8 -16.9 -0.4 -17.6 2.8 -17.0 6.2 -14.1 8.7 -9.3 9.6 -4.4 9.1 2.8 7.5 7.7 4.5 11.7 1.2 13.4Z" fill="#e15b56"/><path d="M2.0 12.7 -0.4 13.1 -2.0 12.7 -3.6 11.9 -5.6 10.1 -8.1 5.2 -9.3 -1.2 -9.1 -6.9 -6.9 -12.5 -3.6 -16.1 -0.4 -17.3 2.8 -16.6 6.1 -13.9 8.2 -10.1 9.3 -5.2 9.0 1.2 7.7 6.5 5.2 10.5 2.0 12.7Z" fill="#dd4a4c"/><path d="M1.2 12.5 -1.2 12.5 -2.8 11.9 -6.1 8.9 -8.1 4.4 -9.1 -2.0 -8.6 -7.7 -6.9 -12.1 -3.7 -15.7 -0.4 -16.9 2.8 -16.3 6.1 -13.5 8.2 -9.3 9.2 -4.4 8.6 2.0 7.2 6.9 4.4 10.8 1.2 12.5Z" fill="#d93a42"/><path d="M2.0 11.8 -0.4 12.2 -2.0 11.8 -5.2 9.4 -7.7 4.7 -8.8 -1.2 -8.6 -6.9 -6.9 -11.7 -5.2 -14.0 -3.6 -15.4 -0.4 -16.6 2.8 -16.0 5.9 -13.3 7.7 -10.1 8.9 -5.2 8.5 1.2 7.2 6.1 5.2 9.4 2.0 11.8Z" fill="#d42938"/><path d="M0.4 11.7 -2.9 10.9 -6.1 7.5 -7.7 3.6 -8.6 -2.8 -8.2 -7.7 -6.1 -12.5 -3.6 -15.1 -0.4 -16.3 2.8 -15.6 5.5 -13.3 7.7 -9.3 8.7 -4.4 8.0 2.0 6.4 6.9 3.6 10.4 0.4 11.7Z" fill="#d0192f"/><path d="M1.2 11.1 -2.0 10.8 -3.6 9.8 -5.2 8.1 -6.9 5.0 -7.7 2.2 -8.3 -2.8 -7.9 -7.7 -6.1 -12.0 -3.3 -14.9 -0.4 -15.9 2.8 -15.3 5.2 -13.2 7.7 -8.7 8.4 -4.4 7.7 2.0 6.4 6.1 4.2 9.3 1.2 11.1Z" fill="#cc0825"/></g><path d="M-19.5 -10.9 -17.7 -12.5 -16.5 -14.9 -16.6 -17.4 -17.4 -18.9 -19.0 -20.1 -21.4 -20.7 -23.8 -20.3 -26.2 -19.0 -27.5 -17.4 -27.9 -15.7 -27.8 -14.1 -26.9 -12.5 -25.4 -11.2 -23.0 -10.3 -21.4 -10.3 -19.5 -10.9M22.9 -12.5 23.9 -13.3 24.7 -14.9 24.6 -16.0 24.0 -17.4 23.0 -18.2 21.4 -18.7 19.0 -18.1 18.2 -17.2 17.8 -15.7 18.8 -13.3 20.6 -12.2 22.9 -12.5M12.4 28.7 16.1 27.1 16.6 26.2 16.3 25.4 14.1 24.1 10.9 23.3 -0.4 22.9 -10.9 23.3 -14.1 24.1 -16.3 25.4 -16.6 26.2 -16.1 27.1 -12.4 28.7M28.7 -23.7 26.5 -25.4 23.8 -26.6 17.4 -27.6 0.4 -27.3 -19.8 -27.8 -24.6 -27.1 -28.7 -25.5M-28.7 -5.8 -26.2 -4.8 -23.0 -4.3 -20.6 -4.7 -19.0 -5.7 -15.7 -9.1 -13.7 -12.5 -12.5 -15.7 -11.6 -20.6 -10.8 -22.2 -9.3 -23.4 -6.9 -24.4 -3.6 -25.2 -0.4 -25.4 5.2 -25.0 8.5 -24.1 10.9 -22.7 11.9 -21.4 13.0 -15.7 14.7 -11.7 17.4 -7.9 19.8 -5.8 21.4 -5.2 23.8 -5.3 26.2 -6.0 28.7 -7.5M28.7 25.2 27.2 23.8 24.6 22.6 19.8 21.2 15.7 20.5 12.5 20.3 -0.4 20.9 -13.3 20.3 -18.2 20.8 -23.0 22.0 -27.1 23.7 -28.7 25.2M-28.7 27.0 -26.8 28.7M26.8 28.7 28.7 27.0M2.8 18.2 -3.6 18.1 -6.9 17.2 -9.6 15.7 -11.7 13.5 -13.4 10.9 -14.8 7.7 -15.7 3.6 -15.8 0.4 -15.0 -2.8 -8.5 -16.3 -6.9 -18.7 -5.2 -20.1 -3.6 -20.9 -1.2 -21.4 2.0 -21.4 4.4 -20.7 6.1 -19.8 7.6 -18.2 10.4 -13.3 14.2 -5.2 15.4 -2.0 15.8 0.4 15.7 3.6 15.0 6.9 13.8 10.1 11.9 13.3 10.1 15.3 8.3 16.6 6.1 17.5 2.8 18.2M1.2 15.1 -0.4 15.2 -2.8 14.6 -4.9 13.3 -6.9 11.3 -8.2 9.3 -9.6 6.1 -10.7 -0.4 -10.3 -6.9 -9.4 -10.1 -7.8 -13.3 -6.1 -15.7 -4.4 -17.3 -2.8 -18.3 -0.4 -18.9 2.0 -18.6 3.6 -17.9 6.9 -14.9 8.4 -12.5 9.8 -9.3 10.8 -3.6 10.4 2.8 9.6 6.1 8.2 9.3 5.2 13.1 3.6 14.2 1.2 15.1M1.2 12.6 -1.2 12.6 -2.8 11.9 -4.4 10.8 -6.1 8.9 -8.1 4.4 -9.1 -2.0 -8.7 -7.7 -6.9 -12.1 -5.2 -14.4 -3.7 -15.7 -0.4 -16.9 2.8 -16.3 4.4 -15.3 6.1 -13.5 8.2 -9.3 9.2 -4.4 8.6 2.0 7.2 6.9 4.4 10.8 2.8 11.9 1.2 12.6M2.0 8.7 0.4 9.2 -1.2 9.0 -2.8 8.2 -4.2 6.9 -6.1 3.2 -7.5 -2.8 -7.3 -6.9 -5.7 -10.9 -3.6 -13.5 -2.0 -14.5 -0.4 -14.9 2.0 -14.5 4.7 -12.5 6.9 -8.6 7.6 -5.2 7.4 -2.0 6.1 3.2 4.4 6.5 2.0 8.7" fill="none" stroke="#222" stroke-opacity="0.62" stroke-width="0.45"/></g><path d="M-5.2 -25.1 L-1.0 -30.0 Q0 -31.1 1.0 -30.0 L5.2 -25.1" fill="#fff" stroke="#333" stroke-width="0.8"/><rect x="-28.1" y="-6.5" width="2.9" height="13.0" rx="0.9" fill="#f0f0f0" stroke="#3a3a3a" stroke-width="0.75"/><rect x="25.2" y="-6.5" width="2.9" height="13.0" rx="0.9" fill="#f0f0f0" stroke="#3a3a3a" stroke-width="0.75"/><circle r="25.6" fill="none" stroke="#2e2e2e" stroke-width="0.9"/></g><g transform="translate(627.4 299.5)"><clipPath id="cpd03"><circle r="25.6"/></clipPath><g clip-path="url(#cpd03)"><g filter="url(#sm)"><rect x="-30.7" y="-30.7" width="61.4" height="61.4" fill="#4497c5"/><path d="M28.7 28.7 -28.7 28.7 -28.7 -28.7 28.7 -28.7 28.7 28.7ZM-20.1 -14.9 -19.8 -15.7 -20.2 -16.6 -21.5 -16.6 -21.9 -14.9 -21.4 -14.4 -20.6 -14.4 -20.1 -14.9ZM21.9 -14.9 21.5 -16.6 20.2 -16.6 19.8 -15.7 20.6 -14.4 21.4 -14.4 21.9 -14.9ZM5.4 27.9 7.9 27.1 9.0 26.2 9.0 25.4 6.9 24.6 0.4 24.3 -6.9 24.6 -9.0 25.4 -9.0 26.2 -7.9 27.1 -5.2 27.9 0.4 28.3 5.4 27.9Z" fill="#539fc9"/><path d="M28.7 28.7 9.2 28.7 12.9 27.1 13.7 25.4 13.3 24.6 12.1 23.8 7.7 23.2 -9.3 23.3 -11.7 23.7 -13.3 24.6 -13.7 25.4 -12.9 27.1 -9.2 28.7 -28.7 28.7 -28.7 -28.7 28.7 -28.7 28.7 28.7ZM-20.5 -11.7 -18.2 -14.1 -17.6 -16.6 -18.2 -18.6 -19.0 -19.3 -20.6 -19.7 -22.2 -19.3 -23.8 -18.2 -24.6 -16.6 -24.8 -14.9 -24.3 -13.3 -23.0 -11.9 -21.4 -11.5 -20.5 -11.7ZM22.6 -11.7 23.8 -12.7 24.6 -14.1 24.8 -15.7 24.3 -17.4 22.2 -19.3 20.6 -19.7 19.0 -19.3 17.7 -17.4 18.2 -14.3 19.0 -13.0 20.6 -11.7 22.6 -11.7Z" fill="#61a8ce"/><path d="M28.7 28.7 15.2 28.7 17.6 27.1 18.3 25.4 18.0 24.6 15.7 22.9 11.7 22.0 0.4 22.7 -13.3 22.1 -16.6 23.3 -18.0 24.6 -18.3 25.4 -17.6 27.1 -15.2 28.7 -28.7 28.7 -28.7 -28.7 28.7 -28.7 28.7 28.7ZM-20.2 -10.1 -17.4 -13.6 -16.5 -15.7 -16.2 -18.2 -16.6 -19.7 -17.4 -20.8 -19.0 -21.6 -20.6 -21.8 -23.0 -21.3 -25.2 -19.8 -26.6 -17.4 -26.9 -14.9 -26.3 -12.5 -24.6 -10.4 -22.2 -9.4 -20.2 -10.1ZM24.2 -10.1 25.8 -11.7 26.6 -13.3 26.9 -15.7 26.3 -18.2 25.2 -19.8 23.0 -21.3 20.6 -21.8 18.2 -21.3 16.6 -19.8 16.2 -18.2 16.5 -15.7 17.5 -13.3 19.0 -11.2 20.6 -9.8 22.2 -9.4 24.2 -10.1Z" fill="#6fb0d2"/><path d="M28.7 28.7 22.3 28.7 24.4 26.2 24.3 24.6 23.8 23.8 19.8 21.3 14.9 20.2 0.4 22.0 -5.2 21.7 -14.1 20.3 -17.4 20.5 -21.8 22.2 -24.3 24.6 -24.4 26.2 -24.0 27.1 -22.3 28.7 -28.7 28.7 -28.7 -11.2 -27.1 -8.9 -24.6 -7.2 -23.0 -6.8 -21.4 -7.3 -19.0 -9.6 -16.6 -13.3 -15.4 -16.6 -14.8 -19.8 -15.0 -21.4 -15.9 -23.0 -18.2 -24.3 -20.6 -24.6 -23.0 -24.2 -25.4 -23.1 -27.4 -21.4 -28.7 -19.5 -28.7 -28.7 28.7 -28.7 28.7 -19.5 27.4 -21.4 25.4 -23.1 23.0 -24.2 20.6 -24.6 18.2 -24.3 15.9 -23.0 15.0 -21.4 14.8 -19.8 15.4 -16.6 16.6 -13.3 19.0 -9.6 21.4 -7.3 23.0 -6.8 24.6 -7.2 27.1 -8.9 28.7 -11.2 28.7 28.7Z" fill="#7db8d7"/><path d="M1.2 21.4 -4.4 21.2 -9.3 20.2 -13.3 18.7 -16.7 16.6 -18.8 14.1 -20.1 11.7 -21.7 6.9 -22.4 2.8 -22.4 -0.4 -21.8 -2.8 -15.8 -13.3 -11.7 -24.0 -9.3 -26.7 -4.9 -28.7 4.9 -28.7 7.7 -27.6 10.1 -26.0 12.2 -23.0 15.7 -13.4 21.1 -4.4 22.4 -0.4 22.1 4.4 21.0 9.3 19.3 13.3 17.6 15.7 14.3 18.2 10.5 19.8 6.1 20.9 1.2 21.4Z" fill="#8bc1dc"/><path d="M3.6 20.7 -1.2 20.9 -5.2 20.4 -9.3 19.3 -12.8 17.4 -15.3 14.9 -17.6 10.9 -19.3 6.1 -20.0 2.0 -20.0 -2.0 -19.2 -5.2 -11.7 -20.6 -10.1 -22.6 -7.7 -24.4 -4.4 -25.7 -2.0 -26.2 1.2 -26.3 4.4 -25.7 7.7 -24.4 10.4 -22.2 12.5 -19.1 18.5 -6.9 20.0 -2.0 20.0 2.0 19.3 6.1 17.6 10.9 15.3 14.9 13.3 17.0 10.9 18.6 7.7 19.8 3.6 20.7Z" fill="#97c8df"/><path d="M5.2 19.8 1.2 20.3 -3.6 20.1 -7.7 19.1 -11.1 17.4 -13.7 14.9 -15.8 11.7 -17.5 7.7 -18.6 3.6 -18.9 -0.4 -18.4 -4.4 -17.2 -7.7 -12.0 -18.2 -10.1 -20.8 -7.7 -22.8 -4.4 -24.2 -2.0 -24.8 1.2 -24.9 4.4 -24.2 7.7 -22.8 10.1 -20.8 12.0 -18.2 16.9 -8.5 18.7 -2.8 18.9 0.4 18.4 4.4 17.0 9.3 15.4 12.5 13.3 15.3 11.1 17.4 8.5 18.8 5.2 19.8Z" fill="#a1cde2"/><path d="M1.2 19.8 -2.8 19.7 -6.1 18.9 -9.3 17.5 -11.7 15.6 -14.2 12.5 -16.3 8.5 -17.4 4.4 -18.0 0.4 -17.7 -3.6 -16.8 -6.9 -10.9 -18.5 -8.5 -21.0 -6.1 -22.5 -3.6 -23.4 -0.4 -23.8 2.8 -23.5 6.1 -22.5 8.5 -21.0 10.5 -19.0 12.5 -15.8 16.5 -7.7 17.6 -4.4 18.0 -1.2 17.7 2.8 16.8 6.9 15.2 10.9 13.1 14.1 10.7 16.6 8.0 18.2 4.4 19.4 1.2 19.8Z" fill="#abd2e4"/><path d="M2.8 19.1 -1.2 19.3 -4.4 18.8 -7.7 17.6 -10.4 15.7 -12.6 13.3 -15.0 9.3 -16.4 5.2 -17.1 1.2 -17.1 -2.8 -16.4 -6.1 -11.3 -16.6 -9.3 -19.2 -6.9 -21.0 -4.4 -22.2 -1.2 -22.9 2.0 -22.8 4.4 -22.2 6.9 -21.0 9.5 -19.0 11.7 -16.0 14.7 -10.1 16.4 -6.1 17.1 -2.8 17.1 1.2 16.4 5.2 15.4 8.5 13.3 12.3 11.3 14.9 8.5 17.1 6.1 18.3 2.8 19.1Z" fill="#b5d6e7"/><path d="M4.4 18.2 1.2 18.7 -2.8 18.5 -6.1 17.6 -9.2 15.7 -11.7 13.3 -13.8 10.1 -15.2 6.9 -16.2 2.8 -16.4 -1.2 -15.9 -5.2 -14.5 -9.3 -11.7 -14.7 -9.9 -17.4 -7.7 -19.6 -5.2 -21.0 -2.0 -22.0 1.2 -22.1 3.6 -21.6 6.9 -20.1 9.2 -18.2 11.1 -15.7 13.7 -10.9 15.4 -6.9 16.2 -3.6 16.5 -0.4 16.0 3.6 13.8 10.1 10.1 15.0 7.7 16.8 4.4 18.2Z" fill="#bfdce9"/><path d="M1.2 18.2 -2.0 18.1 -5.2 17.3 -7.7 16.0 -10.1 14.0 -12.5 10.9 -14.1 7.7 -15.1 4.4 -15.7 0.4 -15.5 -3.6 -14.8 -6.9 -12.7 -11.7 -10.4 -15.7 -8.5 -17.9 -6.1 -19.7 -3.6 -20.8 -0.4 -21.4 2.8 -21.0 5.2 -20.2 7.7 -18.7 9.7 -16.6 11.8 -13.3 14.2 -8.5 15.2 -5.2 15.7 -2.0 15.7 1.2 14.9 5.2 13.8 8.5 11.7 12.1 9.3 14.8 6.9 16.5 4.4 17.6 1.2 18.2Z" fill="#cae0ec"/><path d="M2.8 17.4 -0.4 17.7 -3.6 17.2 -6.9 15.8 -9.0 14.1 -11.1 11.7 -13.0 8.5 -14.2 5.2 -15.0 1.2 -15.0 -2.8 -14.4 -6.1 -10.7 -14.1 -8.9 -16.6 -6.9 -18.4 -4.4 -19.8 -1.2 -20.6 2.0 -20.5 4.4 -19.8 6.9 -18.4 8.9 -16.6 12.8 -10.1 14.4 -6.1 15.0 -2.8 14.6 3.6 12.2 10.1 10.5 12.5 8.1 14.9 5.4 16.6 2.8 17.4Z" fill="#d4e6ee"/><path d="M3.6 16.6 1.2 17.1 -2.0 17.0 -5.2 16.0 -7.7 14.5 -10.1 12.0 -11.9 9.3 -13.2 6.1 -14.2 2.0 -14.4 -2.0 -13.9 -5.2 -12.6 -9.3 -10.6 -13.3 -6.9 -17.6 -4.4 -19.1 -1.2 -19.9 3.6 -19.4 6.1 -18.2 8.5 -16.1 12.2 -10.1 14.2 -3.6 14.1 2.8 11.9 9.3 8.1 14.1 3.6 16.6Z" fill="#deeaf1"/><path d="M0.4 16.6 -2.8 16.2 -5.2 15.3 -9.3 12.0 -11.1 9.3 -12.6 6.1 -13.7 -0.4 -12.9 -6.9 -11.3 -10.9 -9.3 -14.1 -7.7 -16.1 -5.2 -17.9 -2.8 -19.0 -0.4 -19.4 2.0 -19.2 4.4 -18.4 6.9 -16.8 8.7 -14.9 12.3 -8.5 13.5 -4.4 13.8 -1.2 13.4 2.8 12.6 6.1 9.5 11.7 7.7 13.6 5.2 15.3 0.4 16.6Z" fill="#e8f0f3"/><path d="M2.0 15.8 -1.2 15.9 -3.6 15.4 -6.0 14.1 -8.0 12.5 -9.9 10.1 -11.6 6.9 -13.1 0.4 -13.0 -3.6 -12.3 -6.9 -9.3 -13.2 -7.7 -15.3 -5.2 -17.2 -2.8 -18.3 -0.4 -18.7 2.0 -18.5 4.4 -17.7 6.9 -16.0 8.5 -14.3 11.7 -8.5 13.1 -2.8 12.6 3.6 10.4 9.3 6.9 13.5 4.4 15.0 2.0 15.8Z" fill="#f2f4f6"/><path d="M2.8 15.0 0.4 15.4 -2.0 15.2 -4.4 14.3 -7.1 12.5 -9.2 10.1 -10.6 7.7 -12.4 1.2 -12.1 -5.2 -9.6 -11.7 -6.1 -15.9 -3.6 -17.4 -1.2 -18.0 1.2 -18.0 3.6 -17.4 7.7 -14.4 10.8 -9.3 12.4 -3.6 12.2 2.8 10.2 8.5 6.9 12.7 2.8 15.0Z" fill="#f7f3f1"/><path d="M2.8 14.4 0.4 14.8 -2.0 14.6 -4.4 13.7 -6.9 11.9 -10.1 7.3 -11.8 1.2 -11.5 -5.2 -9.3 -11.1 -6.1 -15.2 -3.6 -16.7 -1.2 -17.4 1.2 -17.4 3.6 -16.7 7.1 -14.1 10.2 -9.3 11.8 -3.6 11.7 2.0 9.9 7.7 6.9 11.9 2.8 14.4Z" fill="#f7ebe5"/><path d="M0.4 14.2 -3.7 13.3 -6.1 11.8 -7.7 10.1 -10.3 5.2 -11.3 -0.4 -10.7 -6.1 -8.3 -11.7 -6.3 -14.1 -4.4 -15.6 -0.4 -16.9 3.6 -16.0 6.1 -14.4 7.7 -12.6 10.2 -7.7 11.3 -2.0 10.8 3.6 8.3 9.3 4.4 12.9 0.4 14.2Z" fill="#f6e2da"/><path d="M1.2 13.5 -2.8 13.0 -5.1 11.7 -6.9 10.1 -9.6 5.2 -10.7 -0.4 -10.1 -6.1 -7.7 -11.6 -4.4 -14.9 -0.4 -16.2 3.6 -15.3 7.0 -12.5 9.6 -7.7 10.7 -2.0 10.1 3.6 8.1 8.5 5.1 11.7 1.2 13.5Z" fill="#f6dace"/><path d="M2.0 12.6 0.4 12.9 -2.0 12.6 -4.0 11.7 -6.0 10.1 -8.6 6.1 -10.1 0.4 -9.7 -5.2 -7.7 -10.5 -4.4 -14.2 -2.8 -15.0 -0.4 -15.6 3.0 -14.9 6.2 -12.5 8.7 -8.5 10.1 -2.8 9.8 2.0 8.2 6.9 5.2 10.8 2.0 12.6Z" fill="#f6d2c2"/><path d="M2.0 11.9 0.4 12.2 -2.0 11.9 -5.2 9.8 -7.9 6.1 -9.4 0.4 -9.1 -5.2 -7.2 -10.1 -4.4 -13.4 -2.8 -14.4 -0.4 -15.0 2.8 -14.4 6.1 -11.7 8.4 -7.7 9.4 -2.8 9.2 2.0 7.7 6.5 5.0 10.1 2.0 11.9Z" fill="#f5cab7"/><path d="M2.0 11.2 -1.2 11.4 -2.8 10.8 -4.7 9.3 -7.4 5.2 -8.7 0.4 -8.5 -4.9 -6.9 -9.5 -5.3 -11.7 -3.6 -13.2 -0.4 -14.3 2.8 -13.6 5.3 -11.7 7.7 -7.8 8.7 -3.6 8.6 1.2 7.4 5.2 4.7 9.3 2.0 11.2Z" fill="#f5c2ab"/><path d="M2.0 10.4 0.4 10.8 -1.2 10.7 -2.8 9.9 -4.4 8.5 -6.9 4.3 -8.0 -0.4 -7.7 -5.2 -6.3 -9.3 -3.6 -12.4 -0.4 -13.6 2.8 -12.9 5.2 -10.9 7.0 -7.7 7.9 -3.6 7.9 0.4 6.8 4.4 4.4 8.5 2.0 10.4Z" fill="#f5b99f"/><path d="M2.0 9.5 -0.4 10.1 -2.0 9.5 -3.3 8.5 -5.6 4.4 -7.0 -0.4 -7.0 -5.2 -5.5 -9.3 -3.5 -11.7 -0.4 -13.0 2.0 -12.6 4.4 -10.8 6.3 -7.7 7.1 -4.4 7.0 -0.4 6.1 3.5 3.9 7.7 2.0 9.5Z" fill="#f4b194"/><path d="M1.2 8.9 -1.2 8.9 -2.8 7.5 -5.4 1.2 -6.3 -2.8 -6.0 -6.1 -4.8 -9.3 -2.8 -11.4 -0.4 -12.3 2.0 -11.8 4.2 -10.1 5.5 -7.7 6.2 -4.4 5.9 -0.4 3.9 5.2 2.7 7.7 1.2 8.9Z" fill="#f4a988"/><path d="M0.4 8.0 -1.1 7.7 -2.0 6.4 -2.8 2.8 -4.9 -1.2 -5.4 -3.6 -5.1 -6.9 -4.0 -9.3 -2.3 -10.9 -0.4 -11.6 2.0 -11.1 3.6 -9.7 4.8 -7.7 5.4 -4.4 4.9 -1.2 2.8 2.8 2.2 6.1 1.2 7.6 0.4 8.0Z" fill="#f29d7d"/><path d="M0.4 1.4 -1.2 1.1 -2.8 -0.2 -4.0 -2.0 -4.6 -4.4 -4.3 -6.9 -3.6 -8.5 -2.0 -10.3 -0.4 -10.9 1.2 -10.7 3.1 -9.3 4.0 -7.7 4.6 -5.2 4.3 -2.8 3.6 -1.3 2.0 0.6 0.4 1.4Z" fill="#ee8c73"/><path d="M2.0 -1.2 0.4 -0.4 -1.2 -0.7 -2.8 -2.0 -3.6 -3.6 -3.7 -6.1 -3.3 -7.7 -1.2 -9.9 1.2 -9.9 3.3 -7.7 3.7 -4.4 3.3 -2.8 2.0 -1.2Z" fill="#e97c69"/><path d="M1.2 -2.0 0.4 -1.7 -1.2 -2.0 -2.1 -2.8 -2.9 -4.4 -2.9 -6.1 -2.4 -7.7 -0.4 -9.2 1.8 -8.5 2.8 -6.6 2.8 -4.3 1.2 -2.0Z" fill="#e56b60"/><path d="M1.2 -3.5 -0.4 -3.0 -1.9 -4.4 -1.8 -6.9 -0.4 -8.2 1.2 -7.8 1.8 -6.9 2.1 -5.2 1.2 -3.5Z" fill="#e15b56"/><path d="M0.4 -5.1 -0.5 -5.2 -0.4 -6.3 0.4 -6.3 0.4 -5.1Z" fill="#dd4a4c"/></g><path d="M-24.0 -28.7 -27.1 -27.5 -28.7 -26.5M-28.7 -4.3 -25.4 -2.6 -24.6 -2.6 -23.0 -3.4 -19.0 -8.4 -16.0 -13.3 -14.0 -19.0 -13.0 -25.4 -13.3 -26.5 -14.1 -27.4 -17.0 -28.7M17.0 -28.7 14.1 -27.4 13.3 -26.5 13.0 -25.4 14.0 -19.0 16.0 -13.3 19.0 -8.4 23.0 -3.4 24.6 -2.6 25.4 -2.6 28.7 -4.3M28.7 -26.5 27.1 -27.5 24.0 -28.7M28.7 19.3 23.8 17.7 19.8 17.0 8.7 20.6 0.4 21.6 -3.6 21.5 -8.5 20.6 -19.8 17.0 -23.8 17.7 -28.7 19.3M2.8 19.0 -1.2 19.2 -4.4 18.7 -7.7 17.5 -10.3 15.7 -13.1 12.5 -14.9 9.3 -16.4 5.2 -17.0 1.2 -17.0 -2.8 -16.3 -6.1 -14.3 -10.9 -11.3 -16.6 -9.3 -19.1 -6.9 -20.9 -4.4 -22.1 -1.2 -22.8 2.0 -22.7 4.4 -22.1 6.9 -20.9 9.4 -19.0 11.7 -15.8 14.7 -10.1 16.3 -6.1 17.0 -2.8 17.0 1.2 16.4 5.2 15.3 8.5 13.3 12.2 11.2 14.9 8.5 17.1 6.1 18.2 2.8 19.0M2.0 16.7 -1.2 16.8 -3.6 16.3 -6.1 15.2 -8.5 13.3 -10.5 10.9 -12.3 7.7 -13.4 4.4 -14.0 1.2 -14.0 -2.8 -13.4 -6.1 -11.9 -10.1 -10.2 -13.3 -8.4 -15.7 -6.1 -17.8 -3.6 -19.0 -1.2 -19.6 1.2 -19.6 3.8 -19.0 6.1 -17.8 8.5 -15.7 10.2 -13.3 12.3 -9.3 13.4 -6.1 14.0 -2.8 14.0 0.4 13.6 3.6 12.6 6.9 11.0 10.1 9.3 12.5 6.9 14.7 4.4 16.0 2.0 16.7M1.2 14.2 -1.2 14.2 -3.6 13.5 -6.1 11.9 -7.7 10.2 -9.3 7.7 -10.4 5.2 -11.4 -0.4 -10.8 -6.1 -8.4 -11.7 -6.4 -14.1 -4.4 -15.7 -2.8 -16.4 -0.4 -16.9 2.0 -16.7 3.6 -16.1 6.1 -14.5 7.7 -12.7 10.3 -7.7 11.4 -2.0 10.8 3.6 9.7 6.9 8.5 9.1 5.2 12.5 3.6 13.5 1.2 14.2M2.0 11.0 0.4 11.4 -1.2 11.2 -2.8 10.6 -4.4 9.3 -7.2 5.2 -8.5 0.4 -8.4 -4.4 -6.8 -9.3 -4.2 -12.5 -2.0 -13.8 -0.4 -14.1 2.8 -13.4 5.2 -11.5 7.5 -7.7 8.5 -3.6 8.4 1.2 7.2 5.2 5.2 8.5 3.6 10.0 2.0 11.0M0.4 3.6 -0.4 3.6 -0.5 2.8 -3.6 -0.5 -4.4 -2.2 -4.8 -4.4 -4.6 -6.9 -3.6 -8.9 -2.0 -10.5 -0.4 -11.1 1.2 -10.9 2.8 -9.9 4.3 -7.7 4.8 -5.2 4.6 -2.8 4.0 -1.2 0.5 2.8 0.4 3.6M0.4 6.4 -0.6 6.1 -0.4 3.6 0.4 3.6 0.8 5.2 0.4 6.4" fill="none" stroke="#222" stroke-opacity="0.62" stroke-width="0.45"/></g><path d="M-5.2 -25.1 L-1.0 -30.0 Q0 -31.1 1.0 -30.0 L5.2 -25.1" fill="#fff" stroke="#333" stroke-width="0.8"/><rect x="-28.1" y="-6.5" width="2.9" height="13.0" rx="0.9" fill="#f0f0f0" stroke="#3a3a3a" stroke-width="0.75"/><rect x="25.2" y="-6.5" width="2.9" height="13.0" rx="0.9" fill="#f0f0f0" stroke="#3a3a3a" stroke-width="0.75"/><circle r="25.6" fill="none" stroke="#2e2e2e" stroke-width="0.9"/></g><g transform="translate(427.3 367.8)"><clipPath id="cpd10"><circle r="25.6"/></clipPath><g clip-path="url(#cpd10)"><g filter="url(#sm)"><rect x="-30.7" y="-30.7" width="61.4" height="61.4" fill="#f6d2c2"/><path d="M28.7 28.7 -28.7 28.7 -28.7 -28.7 28.7 -28.7 28.7 28.7ZM17.1 -3.6 17.5 -5.2 17.4 -7.4 16.6 -8.6 15.7 -8.8 14.9 -8.0 14.6 -6.9 14.7 -4.4 15.7 -2.9 16.6 -3.0 17.1 -3.6ZM-16.1 -4.4 -15.7 -6.9 -16.6 -8.1 -17.4 -7.5 -17.6 -5.2 -17.4 -4.3 -16.6 -3.9 -16.1 -4.4Z" fill="#f5cab7"/><path d="M28.7 28.7 -28.7 28.7 -28.7 -28.7 28.7 -28.7 28.7 28.7ZM-15.7 -1.2 -14.4 -3.6 -14.1 -6.9 -14.9 -9.9 -16.6 -11.0 -17.4 -10.6 -18.3 -9.3 -19.0 -7.1 -19.0 -4.4 -18.2 -2.0 -17.5 -1.2 -16.6 -0.9 -15.7 -1.2ZM17.4 -2.0 18.3 -4.4 18.2 -7.7 17.4 -9.5 15.7 -10.4 14.9 -10.0 14.0 -8.5 13.8 -4.4 14.9 -1.8 16.6 -1.3 17.4 -2.0Z" fill="#f5c2ab"/><path d="M28.7 28.7 -28.7 28.7 -28.7 -28.7 28.7 -28.7 28.7 28.7ZM-15.9 0.4 -14.9 -0.3 -14.0 -2.0 -13.4 -6.9 -14.5 -10.9 -15.7 -12.3 -16.6 -12.4 -18.2 -11.3 -19.0 -9.9 -19.7 -5.2 -19.1 -2.0 -18.3 -0.4 -17.4 0.4 -15.9 0.4ZM16.7 -0.4 18.2 -2.0 18.9 -6.1 18.2 -9.4 17.4 -10.7 15.7 -11.4 14.8 -10.9 13.7 -9.3 13.1 -5.2 14.1 -1.6 15.4 -0.4 16.7 -0.4Z" fill="#f5ba9f"/><path d="M28.7 28.7 -28.7 28.7 -28.7 -28.7 28.7 -28.7 28.7 28.7ZM-15.4 1.2 -14.1 -0.2 -13.3 -2.2 -12.9 -6.9 -13.3 -9.9 -14.1 -11.8 -14.9 -12.9 -16.6 -13.6 -18.2 -12.6 -19.2 -10.9 -20.1 -7.7 -20.2 -4.4 -19.4 -1.2 -18.2 0.9 -16.6 1.6 -15.4 1.2ZM16.7 0.4 18.2 -1.0 19.0 -2.8 19.2 -6.9 18.2 -10.5 17.1 -11.7 15.7 -12.2 14.1 -11.2 13.3 -9.7 12.7 -5.2 13.3 -2.0 14.1 -0.6 15.4 0.4 16.7 0.4Z" fill="#f4b194"/><path d="M28.7 28.7 -28.7 28.7 -28.7 -28.7 28.7 -28.7 28.7 28.7ZM-15.3 2.0 -14.1 0.9 -12.9 -2.0 -12.5 -7.7 -13.1 -10.9 -14.1 -13.0 -15.2 -14.1 -16.6 -14.6 -18.2 -13.6 -19.8 -10.9 -20.5 -7.7 -20.6 -4.4 -20.0 -1.2 -18.7 1.2 -17.4 2.3 -15.3 2.0ZM17.7 0.4 19.3 -2.8 19.5 -7.7 18.2 -11.4 17.0 -12.5 15.7 -12.9 14.1 -12.0 13.0 -10.1 12.3 -6.9 12.5 -3.6 13.3 -1.0 14.9 0.9 16.6 1.1 17.7 0.4Z" fill="#f4a988"/><path d="M28.7 28.7 -28.7 28.7 -28.7 -28.7 28.7 -28.7 28.7 28.7ZM-15.3 2.8 -13.8 1.2 -12.7 -1.2 -12.1 -4.4 -12.1 -7.7 -12.5 -10.4 -13.7 -13.3 -14.9 -15.0 -16.6 -15.5 -18.2 -14.6 -19.9 -11.7 -20.8 -8.5 -21.0 -4.4 -20.4 -1.2 -19.0 1.8 -17.4 3.1 -15.3 2.8ZM17.5 1.2 19.0 -0.7 19.7 -2.8 19.9 -7.7 18.2 -12.1 17.4 -13.0 15.7 -13.5 14.1 -12.7 12.6 -10.1 12.1 -7.7 12.1 -4.4 12.8 -1.2 14.1 0.9 15.7 1.8 17.5 1.2Z" fill="#f29d7d"/><path d="M28.7 28.7 -28.7 28.7 -28.7 -28.7 28.7 -28.7 28.7 28.7ZM-15.4 3.6 -14.1 2.6 -12.5 -0.4 -11.7 -4.4 -11.7 -7.7 -12.3 -10.9 -13.3 -13.8 -14.9 -16.0 -16.6 -16.5 -18.2 -15.5 -20.1 -12.5 -21.2 -8.5 -21.4 -4.4 -20.6 -0.3 -19.0 2.7 -17.4 3.8 -15.4 3.6ZM17.2 2.0 18.2 1.2 19.6 -1.2 20.1 -3.6 20.2 -6.9 18.9 -11.7 17.4 -13.6 15.7 -14.2 14.1 -13.4 12.6 -10.9 11.8 -7.7 11.8 -4.4 12.5 -1.1 13.9 1.2 15.7 2.3 17.2 2.0Z" fill="#ee8c73"/><path d="M28.7 28.7 -28.7 28.7 -28.7 -28.7 28.7 -28.7 28.7 28.7ZM-15.7 4.4 -14.1 3.4 -12.5 0.7 -11.7 -2.1 -11.3 -6.1 -11.7 -10.1 -12.5 -13.1 -14.1 -16.3 -15.7 -17.5 -17.4 -17.1 -19.8 -14.1 -21.2 -10.1 -21.7 -6.1 -21.4 -2.0 -20.0 2.0 -18.2 4.1 -15.7 4.4ZM16.5 2.8 18.2 1.9 19.6 -0.4 20.3 -2.8 20.6 -6.1 20.1 -9.3 19.0 -12.3 17.4 -14.2 15.7 -14.8 14.1 -14.1 12.5 -11.7 11.6 -8.5 11.4 -5.2 11.9 -2.0 13.3 1.2 14.9 2.6 16.5 2.8Z" fill="#ea7c6a"/><path d="M28.7 28.7 -28.7 28.7 -28.7 -28.7 28.7 -28.7 28.7 28.7ZM5.3 -24.6 6.1 -25.4 5.2 -26.2 1.0 -27.1 -4.4 -26.7 -6.3 -26.2 -7.3 -25.4 -6.7 -24.6 -2.8 -24.0 1.2 -24.0 5.3 -24.6ZM-14.6 4.4 -13.2 2.8 -11.8 -0.4 -11.2 -3.6 -11.1 -7.7 -12.5 -14.3 -14.1 -17.6 -15.7 -18.8 -16.6 -18.7 -18.2 -17.4 -20.6 -13.4 -21.8 -9.3 -22.0 -4.4 -21.1 0.4 -19.4 3.6 -17.4 5.1 -15.7 5.1 -14.6 4.4ZM17.7 2.8 19.0 1.5 20.2 -1.2 20.8 -4.4 20.7 -7.7 20.0 -10.9 19.0 -13.0 17.4 -14.9 15.7 -15.4 14.1 -14.7 12.2 -11.7 11.3 -8.5 11.2 -4.4 11.8 -1.2 13.3 1.8 15.7 3.4 17.7 2.8Z" fill="#e56b60"/><path d="M28.7 28.7 -28.7 28.7 -28.7 -28.7 28.7 -28.7 28.7 28.7ZM2.9 -23.0 8.3 -23.8 9.7 -24.6 9.8 -25.4 9.2 -26.2 6.1 -27.4 -2.0 -28.0 -8.6 -27.1 -10.5 -26.2 -12.0 -24.6 -11.2 -23.8 -6.9 -23.2 2.9 -23.0ZM-14.8 5.2 -13.2 3.6 -11.7 0.5 -11.0 -2.8 -10.7 -6.9 -11.2 -10.9 -12.5 -15.7 -14.1 -19.7 -14.9 -20.7 -15.7 -20.7 -18.2 -18.6 -20.6 -14.4 -21.9 -10.1 -22.4 -5.2 -21.7 -0.4 -19.8 3.9 -17.4 5.7 -14.8 5.2ZM17.1 3.6 19.0 2.1 20.3 -0.4 21.0 -3.6 21.1 -6.9 20.6 -10.1 19.2 -13.3 17.4 -15.5 15.7 -16.1 14.1 -15.4 12.1 -12.5 11.0 -8.5 10.9 -4.4 11.7 -0.7 13.3 2.4 14.9 3.6 17.1 3.6Z" fill="#e15b56"/><path d="M28.7 28.7 -28.7 28.7 -28.7 -28.7 -4.4 -28.7 -10.1 -27.7 -14.8 -25.4 -16.6 -23.1 -21.4 -13.4 -22.7 -6.9 -22.1 -0.4 -21.3 2.0 -19.8 4.6 -18.2 6.0 -16.6 6.4 -14.9 5.9 -13.3 4.4 -11.7 1.5 -10.8 -2.0 -10.6 -9.3 -12.7 -19.0 -12.5 -20.6 -11.9 -21.4 -9.3 -22.2 7.7 -22.5 10.9 -23.3 12.5 -24.6 11.9 -26.2 10.6 -27.1 7.7 -28.0 3.1 -28.7 28.7 -28.7 28.7 28.7ZM18.0 3.6 19.8 1.5 20.8 -1.2 21.3 -4.4 21.3 -7.7 20.6 -10.9 19.2 -14.1 17.4 -16.2 15.7 -16.8 14.1 -16.2 13.3 -15.4 11.7 -12.4 10.8 -8.5 10.8 -3.6 11.7 0.2 13.3 3.0 15.7 4.3 18.0 3.6Z" fill="#dd4a4c"/><path d="M28.7 28.7 -28.7 28.7 -28.7 -28.7 -9.7 -28.7 -14.6 -27.1 -17.4 -24.7 -21.4 -14.6 -22.6 -10.1 -22.9 -3.6 -21.7 2.0 -19.8 5.4 -18.2 6.6 -16.6 7.0 -14.9 6.5 -12.8 4.4 -11.5 2.0 -10.6 -1.2 -10.2 -8.5 -11.9 -18.2 -11.5 -19.8 -10.9 -20.5 -7.7 -21.4 10.1 -21.9 12.5 -22.3 14.0 -23.0 14.8 -24.6 14.1 -26.2 11.7 -27.7 8.5 -28.7 28.7 -28.7 28.7 28.7ZM17.6 4.4 19.4 2.8 20.6 0.4 21.5 -2.8 21.6 -6.9 21.0 -10.9 19.8 -13.9 18.2 -16.2 15.7 -17.8 14.9 -17.7 13.3 -16.3 11.7 -13.3 10.6 -9.3 10.4 -4.4 11.2 -0.4 12.8 2.8 14.9 4.6 16.6 4.8 17.6 4.4ZM0.8 24.6 -0.8 24.6 -0.4 25.2 0.4 25.2 0.8 24.6Z" fill="#d93a42"/><path d="M28.7 28.7 -28.7 28.7 -28.7 -28.7 -13.0 -28.7 -16.7 -27.1 -18.8 -24.6 -22.5 -12.5 -23.2 -8.5 -23.2 -2.8 -21.8 2.8 -19.8 6.1 -18.2 7.2 -16.6 7.6 -14.9 7.1 -12.9 5.2 -11.5 2.8 -10.5 -0.4 -9.8 -7.7 -11.1 -17.4 -10.8 -19.0 -10.1 -19.8 -7.7 -20.6 -2.0 -20.8 10.9 -20.9 14.1 -20.4 14.9 -20.7 16.3 -23.0 16.5 -25.4 15.2 -27.1 11.7 -28.7 28.7 -28.7 28.7 28.7ZM16.8 5.2 19.0 3.9 20.7 1.2 21.8 -2.8 21.9 -6.9 21.3 -10.9 19.8 -14.7 17.4 -18.0 14.9 -19.6 13.3 -17.7 11.1 -12.5 10.2 -8.5 10.2 -4.4 10.9 -0.4 12.5 3.1 14.9 5.1 16.8 5.2ZM1.0 25.4 1.4 24.6 0.4 24.1 -1.4 24.6 -1.0 25.4 1.0 25.4Z" fill="#d42938"/><path d="M28.7 28.7 -28.7 28.7 -28.7 -28.7 -15.6 -28.7 -18.4 -27.1 -20.0 -24.6 -20.8 -19.8 -23.2 -10.9 -23.7 -6.1 -23.2 -0.4 -21.5 4.4 -19.0 7.4 -16.6 8.2 -14.9 7.7 -13.3 6.5 -10.8 2.0 -9.8 -2.0 -9.5 -6.1 -10.4 -17.4 -9.3 -19.2 -6.9 -19.9 6.1 -20.2 10.1 -19.9 11.7 -19.3 12.3 -18.2 12.2 -17.4 10.5 -11.7 9.9 -7.7 10.0 -3.6 10.6 -0.4 11.9 2.8 14.1 5.2 16.6 5.8 19.0 4.6 20.7 2.0 21.8 -1.2 22.3 -5.2 22.1 -8.5 20.9 -13.3 17.5 -19.8 18.3 -23.8 18.2 -25.4 17.0 -27.1 14.3 -28.7 28.7 -28.7 28.7 28.7ZM1.6 25.4 1.8 24.6 0.4 23.7 -0.7 23.8 -1.8 24.6 -1.6 25.4 -0.4 25.9 1.6 25.4Z" fill="#d0192f"/><path d="M28.7 28.7 -28.7 28.7 -28.7 -28.7 -17.7 -28.7 -20.0 -27.1 -21.3 -24.6 -21.7 -19.0 -24.0 -8.5 -24.1 -4.4 -23.3 1.2 -21.6 5.2 -19.0 8.1 -16.6 8.8 -14.1 7.9 -12.4 6.1 -10.6 2.8 -9.9 0.4 -9.1 -6.1 -9.9 -14.9 -9.6 -17.4 -8.5 -18.7 -5.2 -19.4 6.1 -19.5 9.3 -19.1 10.9 -18.3 11.2 -16.6 9.9 -10.9 9.5 -6.9 9.7 -2.8 10.7 1.2 12.5 4.3 14.9 6.2 17.4 6.2 19.0 5.2 20.8 2.8 21.8 0.4 22.5 -2.8 22.6 -7.7 21.6 -12.5 18.8 -19.8 19.9 -23.8 19.8 -25.4 18.8 -27.1 16.5 -28.7 28.7 -28.7 28.7 28.7ZM2.0 25.4 2.3 24.6 0.4 23.4 -1.2 23.6 -2.3 24.6 -2.0 25.5 -0.4 26.2 2.0 25.4Z" fill="#cc0825"/></g><path d="M-14.9 1.2 -13.2 -2.0 -12.7 -5.2 -12.7 -7.7 -13.3 -10.5 -14.1 -12.3 -14.9 -13.4 -16.6 -14.0 -18.2 -13.0 -19.7 -10.1 -20.4 -6.9 -20.3 -4.4 -19.7 -1.2 -18.2 1.3 -16.6 2.0 -14.9 1.2M17.2 0.4 18.2 -0.6 19.0 -2.3 19.4 -6.9 19.0 -9.1 18.2 -10.9 17.4 -11.8 15.7 -12.5 14.1 -11.5 13.3 -10.1 12.5 -6.9 12.6 -4.4 13.2 -2.0 14.1 -0.2 15.7 0.8 17.2 0.4M-15.4 4.4 -13.6 2.8 -12.3 0.4 -11.5 -2.8 -11.3 -6.9 -11.6 -10.1 -12.5 -13.4 -14.1 -16.6 -15.7 -17.8 -16.6 -17.8 -18.2 -16.7 -19.9 -14.1 -21.4 -9.8 -21.8 -5.2 -21.3 -1.2 -19.8 2.6 -18.9 3.6 -17.4 4.6 -15.4 4.4M16.9 2.8 18.2 2.0 19.8 -0.6 20.5 -3.6 20.6 -6.9 20.0 -10.1 19.0 -12.5 17.4 -14.4 15.7 -14.9 14.1 -14.2 12.5 -11.9 11.5 -8.5 11.4 -5.2 11.8 -2.0 13.3 1.4 14.9 2.8 16.9 2.8M-10.2 -28.7 -14.9 -27.1 -17.4 -25.0 -21.4 -14.8 -22.5 -10.9 -23.1 -5.2 -22.3 0.4 -21.4 2.9 -20.0 5.2 -19.0 6.2 -17.4 7.0 -14.9 6.6 -13.3 5.3 -11.8 2.8 -10.8 -0.4 -10.1 -6.9 -10.4 -10.9 -11.7 -17.4 -11.4 -19.8 -10.1 -20.9 -8.5 -21.2 8.5 -21.6 12.5 -22.1 14.1 -22.8 15.1 -24.6 14.4 -26.2 11.7 -27.9 8.9 -28.7M17.7 4.4 19.4 2.8 21.0 -0.4 21.6 -3.6 21.6 -7.7 20.7 -11.7 19.0 -15.3 16.6 -17.6 14.9 -17.8 12.9 -15.7 11.1 -11.7 10.4 -7.7 10.5 -3.6 11.4 0.4 13.3 3.6 15.7 4.9 17.7 4.4M0.9 24.6 -0.9 24.6 -0.4 25.4 0.4 25.4 0.9 24.6M-19.7 -28.7 -21.5 -27.1 -22.6 -24.6 -22.4 -19.0 -24.3 -9.3 -24.4 -2.8 -23.5 2.0 -21.7 6.1 -19.0 8.9 -16.6 9.4 -14.9 9.0 -13.3 7.8 -11.9 6.1 -10.6 3.6 -9.6 0.4 -8.9 -4.4 -9.3 -15.7 -8.5 -17.5 -7.5 -18.2 -5.2 -18.7 4.4 -18.9 8.5 -18.3 10.1 -17.4 10.4 -15.7 9.5 -10.1 9.2 -6.1 9.6 -2.0 10.8 2.0 12.5 5.0 14.9 6.8 17.4 6.8 19.8 5.1 21.2 2.8 22.4 -0.4 22.9 -6.9 22.4 -10.9 20.0 -19.0 20.2 -20.6 21.4 -23.8 21.4 -25.4 20.5 -27.1 18.5 -28.7M1.1 26.2 2.4 25.4 2.6 24.6 1.2 23.5 -1.2 23.5 -2.6 24.6 -2.4 25.4 -1.2 26.2 1.1 26.2M-27.7 -28.7 -28.7 -27.3M-28.7 -21.7 -27.2 -18.2 -26.7 -15.7 -27.3 -5.2 -26.5 2.0 -24.4 7.7 -22.7 10.1 -20.6 12.0 -18.2 13.0 -15.7 12.6 -13.3 11.0 -11.1 8.5 -9.4 5.2 -8.1 1.2 -6.3 -13.3 -4.4 -15.1 -0.4 -15.9 2.0 -15.8 4.4 -15.2 6.1 -14.3 6.9 -13.3 8.0 -2.0 9.6 3.6 11.4 6.9 13.3 8.7 14.9 9.7 17.4 10.0 19.8 9.3 22.2 7.1 24.2 3.6 25.2 0.4 25.9 -6.1 25.1 -15.7 25.9 -18.2 28.0 -22.2 28.6 -24.6 28.0 -27.1 26.8 -28.7M1.8 27.1 3.4 26.2 4.0 25.4 4.1 24.6 3.7 23.8 2.8 23.1 1.2 22.5 -1.2 22.5 -3.8 23.8 -4.1 25.4 -2.8 26.7 -0.4 27.4 1.8 27.1M5.2 19.9 2.0 20.4 -3.6 20.0 -5.2 19.3 -7.7 17.5 -9.5 14.9 -9.7 13.3 -9.2 11.7 -5.8 5.2 -3.6 -2.1 -2.0 -4.9 -0.4 -6.0 1.2 -5.7 2.8 -3.9 6.1 5.2 10.4 12.5 10.4 14.9 9.5 16.6 7.7 18.4 5.2 19.9" fill="none" stroke="#222" stroke-opacity="0.62" stroke-width="0.45"/></g><path d="M-5.2 -25.1 L-1.0 -30.0 Q0 -31.1 1.0 -30.0 L5.2 -25.1" fill="#fff" stroke="#333" stroke-width="0.8"/><rect x="-28.1" y="-6.5" width="2.9" height="13.0" rx="0.9" fill="#f0f0f0" stroke="#3a3a3a" stroke-width="0.75"/><rect x="25.2" y="-6.5" width="2.9" height="13.0" rx="0.9" fill="#f0f0f0" stroke="#3a3a3a" stroke-width="0.75"/><circle r="25.6" fill="none" stroke="#2e2e2e" stroke-width="0.9"/></g><g transform="translate(494.1 367.8)"><clipPath id="cpd11"><circle r="25.6"/></clipPath><g clip-path="url(#cpd11)"><g filter="url(#sm)"><rect x="-30.7" y="-30.7" width="61.4" height="61.4" fill="#0c75b2"/><path d="M28.7 28.8 -28.8 28.7 -28.7 -28.7 28.7 -28.7 28.7 28.8ZM-2.6 -21.4 3.6 -21.6 4.5 -22.2 1.5 -23.0 -1.8 -23.0 -5.4 -22.2 -5.9 -21.4 -2.6 -21.4Z" fill="#1a7eb7"/><path d="M28.7 28.8 -28.8 28.7 -28.7 -28.7 28.7 -28.7 28.7 28.8ZM-17.2 -14.9 -13.3 -17.9 -9.3 -19.2 -1.2 -20.5 7.7 -20.1 9.1 -20.6 9.2 -21.4 7.1 -23.0 3.6 -23.9 -1.2 -24.2 -6.1 -23.5 -10.2 -22.2 -15.2 -19.8 -17.4 -17.4 -17.6 -15.7 -17.2 -14.9ZM-18.8 -2.8 -18.0 -3.6 -17.6 -6.1 -18.2 -10.8 -19.0 -10.1 -20.0 -6.1 -19.8 -3.7 -18.8 -2.8Z" fill="#2886bc"/><path d="M28.7 28.8 -28.8 28.7 -28.7 -28.7 28.7 -28.7 28.7 28.8ZM-18.2 -1.2 -17.0 -3.6 -16.0 -12.5 -14.6 -14.9 -12.5 -16.7 -8.5 -18.5 -2.0 -19.9 1.2 -20.0 10.1 -19.1 11.8 -19.8 12.0 -20.6 11.7 -21.4 9.7 -23.0 6.9 -24.1 2.8 -24.8 -1.2 -24.9 -8.6 -23.8 -13.7 -22.2 -16.9 -20.6 -18.5 -19.0 -19.2 -17.4 -20.8 -6.9 -20.8 -3.6 -20.2 -2.0 -19.0 -0.9 -18.2 -1.2Z" fill="#368ec0"/><path d="M28.7 28.8 -28.8 28.7 -28.7 -28.7 28.7 -28.7 28.7 28.8ZM-17.6 -0.4 -16.5 -2.8 -15.3 -11.7 -14.0 -14.1 -11.7 -16.2 -6.9 -18.4 -1.2 -19.5 2.8 -19.4 10.1 -18.1 12.5 -18.1 14.1 -19.0 14.4 -19.8 13.8 -21.4 11.8 -23.0 7.8 -24.6 -0.4 -25.6 -8.5 -24.6 -14.2 -23.0 -17.6 -21.4 -19.3 -19.8 -20.3 -17.4 -21.5 -5.2 -21.3 -2.8 -20.2 -0.4 -19.0 0.3 -17.6 -0.4Z" fill="#4497c5"/><path d="M28.7 28.8 -28.8 28.7 -28.7 -28.7 28.7 -28.7 28.7 28.8ZM-18.4 1.2 -17.3 0.4 -16.1 -2.0 -14.5 -11.7 -13.1 -14.1 -10.9 -16.0 -5.2 -18.4 -0.4 -19.2 3.6 -18.9 10.9 -17.2 14.1 -17.0 15.4 -17.4 16.2 -18.2 16.4 -19.8 15.6 -21.4 13.7 -23.0 10.2 -24.6 6.1 -25.7 1.2 -26.2 -3.6 -26.0 -8.5 -25.3 -14.3 -23.8 -18.0 -22.2 -19.8 -20.6 -21.0 -18.2 -22.1 -6.1 -21.9 -2.8 -21.1 -0.4 -19.8 1.1 -18.4 1.2Z" fill="#539fc9"/><path d="M28.7 28.7 -28.7 28.7 -28.7 -28.7 28.7 -28.7 28.7 28.7ZM-18.1 2.0 -16.6 0.5 -15.7 -1.4 -14.6 -9.3 -13.9 -11.7 -12.3 -14.1 -10.3 -15.7 -5.2 -18.1 0.4 -18.8 3.6 -18.5 12.5 -16.1 15.7 -15.6 17.3 -16.6 18.0 -18.2 18.0 -19.8 17.2 -21.4 14.9 -23.3 10.9 -25.1 6.1 -26.2 1.2 -26.7 -4.4 -26.5 -10.8 -25.4 -15.7 -24.1 -19.0 -22.5 -20.8 -20.6 -21.8 -18.2 -22.6 -5.2 -22.2 -2.0 -21.4 0.4 -19.8 2.0 -18.1 2.0Z" fill="#61a8ce"/><path d="M28.7 28.7 -28.7 28.7 -28.7 -28.7 28.7 -28.7 28.7 28.7ZM-18.0 2.8 -16.6 1.6 -15.6 -0.4 -14.3 -8.5 -13.3 -11.7 -11.7 -14.0 -9.5 -15.7 -4.4 -17.9 1.2 -18.5 6.1 -17.6 16.6 -13.9 18.2 -14.9 19.0 -16.6 19.3 -19.0 18.6 -21.4 15.8 -23.8 12.0 -25.4 6.9 -26.7 2.0 -27.2 -3.6 -27.1 -9.8 -26.2 -15.7 -24.8 -19.5 -23.0 -21.4 -21.1 -22.6 -18.2 -23.0 -4.4 -22.5 -1.2 -21.4 1.4 -19.8 2.9 -18.0 2.8Z" fill="#6fb0d3"/><path d="M28.7 28.7 -28.7 28.7 -28.7 -28.7 28.7 -28.7 28.7 28.7ZM-18.1 3.6 -16.6 2.5 -15.1 -0.4 -13.9 -8.5 -12.8 -11.7 -11.0 -14.1 -9.3 -15.5 -3.6 -17.8 -0.4 -18.3 2.8 -18.0 6.9 -17.0 11.6 -14.9 17.4 -11.1 18.2 -11.4 20.1 -16.6 20.5 -19.0 19.8 -21.4 17.4 -23.8 14.0 -25.4 8.5 -26.9 2.8 -27.6 -2.8 -27.6 -9.3 -26.9 -15.7 -25.4 -19.8 -23.7 -22.2 -21.4 -23.2 -19.0 -23.4 -4.4 -23.0 -1.2 -21.7 2.0 -19.8 3.7 -18.1 3.6Z" fill="#7db8d7"/><path d="M28.7 28.7 -28.7 28.7 -28.7 -28.7 28.7 -28.7 28.7 28.7ZM-18.6 4.4 -16.6 3.3 -14.9 0.6 -13.3 -9.3 -11.8 -12.5 -8.2 -15.7 -2.8 -17.7 1.2 -18.0 4.4 -17.4 8.5 -15.9 12.5 -13.8 14.8 -11.7 15.8 -10.1 17.4 -3.5 18.2 -2.7 19.0 -3.0 19.7 -5.2 19.9 -11.7 21.4 -18.2 21.2 -20.6 20.4 -22.2 17.5 -24.6 13.6 -26.2 7.7 -27.6 2.0 -28.2 -4.4 -28.0 -11.4 -27.1 -17.4 -25.5 -20.6 -23.9 -23.0 -21.4 -23.9 -19.0 -23.8 -4.4 -23.2 -0.4 -22.2 2.1 -20.6 4.0 -18.6 4.4Z" fill="#8bc1dc"/><path d="M28.7 28.7 -28.7 28.7 -28.7 -28.7 -0.8 -28.7 -9.3 -28.0 -17.1 -26.2 -21.4 -24.2 -23.9 -21.4 -24.7 -17.4 -23.8 -1.2 -23.0 1.5 -21.8 3.6 -20.6 4.7 -19.0 5.2 -16.6 4.1 -14.9 1.8 -14.0 -1.2 -12.9 -9.3 -11.4 -12.5 -7.6 -15.7 -2.0 -17.6 1.2 -17.7 5.2 -16.9 9.3 -15.1 12.2 -13.3 14.8 -10.1 16.9 -2.0 18.2 -0.9 19.0 -1.0 19.8 -1.8 20.4 -3.6 20.9 -11.7 22.4 -18.2 22.3 -20.6 21.6 -22.2 18.9 -24.6 14.1 -26.7 7.7 -28.1 0.7 -28.7 28.7 -28.7 28.7 28.7Z" fill="#97c8df"/><path d="M28.7 28.7 -28.7 28.7 -28.7 -28.7 -7.8 -28.7 -14.9 -27.4 -19.8 -25.9 -23.0 -23.8 -25.1 -20.6 -25.4 -17.4 -24.1 -0.4 -22.2 4.0 -20.6 5.4 -19.0 5.8 -16.6 4.8 -14.6 2.0 -13.7 -1.2 -12.7 -8.5 -10.9 -12.5 -7.0 -15.7 -2.0 -17.4 1.2 -17.5 4.4 -16.9 8.5 -15.2 11.4 -13.3 13.1 -11.7 14.4 -9.3 15.7 -2.8 16.6 -0.8 18.2 0.5 19.8 -0.2 21.2 -3.6 21.7 -11.7 23.4 -19.0 23.1 -21.4 21.3 -23.8 18.2 -25.8 13.3 -27.5 7.5 -28.7 28.7 -28.7 28.7 28.7Z" fill="#a1cde2"/><path d="M28.7 28.7 -28.7 28.7 -28.7 -28.7 -11.4 -28.7 -17.4 -27.4 -21.4 -25.7 -24.6 -23.1 -25.9 -20.6 -26.1 -17.4 -24.3 0.4 -22.2 4.8 -20.6 6.1 -19.0 6.4 -16.4 5.2 -14.1 2.1 -13.3 -0.9 -12.4 -8.5 -10.5 -12.5 -6.9 -15.5 -2.0 -17.1 1.2 -17.2 4.4 -16.6 7.7 -15.3 10.7 -13.3 12.4 -11.7 13.8 -9.3 15.9 -0.4 17.4 1.3 19.0 1.5 19.8 1.0 20.9 -0.4 21.7 -2.8 22.4 -11.7 24.3 -19.0 24.1 -21.4 22.6 -23.8 19.8 -25.8 15.7 -27.5 10.8 -28.7 28.7 -28.7 28.7 28.7Z" fill="#abd2e4"/><path d="M28.7 28.7 -28.7 28.7 -28.7 -28.7 -14.5 -28.7 -19.8 -27.2 -23.2 -25.4 -25.7 -23.0 -26.9 -19.8 -24.6 0.8 -22.6 5.2 -21.4 6.3 -19.8 7.0 -18.2 6.8 -16.6 5.9 -14.9 4.4 -13.9 2.8 -13.0 -0.4 -12.1 -8.5 -10.1 -12.5 -6.9 -15.2 -2.0 -16.9 1.2 -17.0 4.4 -16.4 7.7 -15.0 10.2 -13.3 11.8 -11.7 13.2 -9.3 14.7 -2.0 15.7 0.7 17.4 2.3 19.0 2.5 19.8 2.1 21.2 0.4 22.1 -2.0 22.9 -10.9 25.1 -18.2 25.2 -21.4 23.8 -23.8 21.9 -25.4 18.2 -27.3 13.5 -28.7 28.7 -28.7 28.7 28.7Z" fill="#b5d7e7"/><path d="M28.7 28.7 -28.7 28.7 -28.7 -28.7 -17.1 -28.7 -21.4 -27.2 -24.6 -25.3 -26.7 -23.0 -27.7 -19.8 -25.0 1.2 -23.0 5.5 -21.4 7.1 -19.8 7.5 -16.6 6.4 -13.9 3.6 -12.8 0.4 -11.8 -8.5 -9.8 -12.5 -6.1 -15.4 -1.2 -16.8 2.0 -16.7 5.2 -15.8 8.5 -14.2 10.6 -12.5 11.9 -10.9 13.1 -8.5 14.2 -2.0 15.4 1.2 17.4 3.2 19.0 3.4 20.1 2.8 21.4 1.4 22.4 -1.2 23.6 -10.9 26.1 -18.2 26.4 -20.6 25.7 -23.0 23.3 -25.4 19.8 -27.3 15.9 -28.7 28.7 -28.7 28.7 28.7Z" fill="#bfdce9"/><path d="M28.7 28.7 -28.7 28.7 -28.7 -28.7 -19.3 -28.7 -23.2 -27.1 -26.2 -24.9 -28.2 -22.2 -28.6 -19.8 -26.8 -10.9 -26.0 -2.0 -25.2 2.0 -23.0 6.4 -21.4 7.7 -19.8 8.1 -16.6 6.9 -13.4 3.6 -12.4 0.4 -11.7 -7.7 -10.0 -11.7 -8.5 -13.5 -6.1 -15.1 -1.2 -16.5 2.0 -16.5 4.4 -15.9 7.7 -14.4 10.1 -12.5 11.5 -10.9 12.6 -8.5 13.9 -1.2 15.1 2.0 17.4 4.0 19.0 4.2 20.6 3.4 21.7 2.0 22.8 -0.4 24.2 -10.9 27.2 -18.2 27.6 -20.6 26.9 -23.0 24.7 -25.4 22.1 -27.1 18.1 -28.7 28.7 -28.7 28.7 28.7Z" fill="#cae1ec"/><path d="M-28.7 -23.4 -28.7 -28.7 -21.3 -28.7 -25.9 -26.2 -28.7 -23.4ZM28.7 -21.9 27.7 -23.8 26.2 -25.4 23.8 -27.1 20.2 -28.7 28.7 -28.7 28.7 -21.9ZM28.7 28.7 -28.7 28.7 -28.7 -15.6 -27.4 -10.9 -26.3 -1.2 -25.1 3.6 -23.0 7.3 -21.4 8.4 -19.8 8.8 -16.6 7.4 -12.9 3.6 -12.0 0.4 -11.4 -7.7 -9.7 -11.7 -6.1 -14.9 -1.2 -16.3 2.0 -16.2 4.4 -15.7 7.6 -14.1 9.7 -12.5 11.0 -10.9 12.2 -8.5 13.5 -0.4 14.9 2.8 17.4 4.8 19.0 5.0 20.4 4.4 22.0 2.8 23.1 0.4 24.9 -10.9 28.7 -19.3 28.7 28.7Z" fill="#d4e6ee"/><path d="M-28.7 -25.1 -28.7 -28.7 -23.1 -28.7 -26.2 -27.1 -28.7 -25.1ZM28.7 -24.5 26.2 -26.6 22.2 -28.7 28.7 -28.7 28.7 -24.5ZM28.7 28.7 -28.7 28.7 -28.7 -13.3 -27.7 -9.3 -26.5 0.4 -25.3 4.4 -23.0 8.1 -21.4 9.2 -19.8 9.4 -16.6 7.8 -12.4 3.6 -11.6 0.4 -11.1 -7.7 -9.4 -11.7 -6.1 -14.6 -1.2 -16.1 2.0 -16.0 4.4 -15.4 7.1 -14.1 9.3 -12.5 10.6 -10.9 11.8 -8.5 13.0 -0.4 14.2 2.8 15.5 4.4 17.4 5.5 19.0 5.8 20.6 5.3 22.2 3.6 23.4 1.2 25.4 -10.3 26.7 -13.3 28.7 -16.6 28.7 28.7Z" fill="#deebf1"/><path d="M-27.9 -27.0 -28.7 -26.4 -28.7 -28.7 -25.0 -28.7 -27.9 -27.0ZM28.7 -26.1 24.3 -28.7 28.7 -28.7 28.7 -26.1ZM28.7 28.7 -28.7 28.7 -28.7 -11.1 -27.0 0.4 -25.6 5.2 -23.0 9.0 -21.4 9.9 -19.8 10.1 -18.2 9.5 -16.6 8.3 -11.9 3.6 -11.3 1.2 -11.1 -6.1 -10.4 -9.3 -8.4 -12.5 -5.2 -14.8 -2.0 -15.8 2.0 -15.8 6.1 -14.5 8.9 -12.5 10.3 -10.9 11.5 -8.5 12.6 -0.4 13.5 2.8 15.7 5.3 19.0 6.5 21.4 5.6 23.4 2.8 24.4 -0.4 26.1 -10.1 28.7 -14.8 28.7 28.7ZM3.5 27.1 5.2 26.2 5.6 25.4 4.8 24.6 2.0 23.9 -2.8 24.0 -4.8 24.6 -5.6 25.4 -5.3 26.2 -2.8 27.2 0.4 27.4 3.5 27.1Z" fill="#e8f0f3"/><path d="M-28.7 -27.7 -28.7 -28.7 -26.9 -28.7 -28.7 -27.7ZM28.7 -27.4 26.5 -28.7 28.7 -28.7 28.7 -27.4ZM28.7 28.7 -28.7 28.7 -28.7 -8.3 -27.4 1.2 -25.9 6.1 -24.6 8.2 -23.0 9.9 -21.4 10.7 -19.8 10.9 -17.4 9.7 -11.4 3.6 -10.9 1.2 -10.8 -6.1 -10.1 -9.3 -8.1 -12.5 -5.2 -14.6 -2.0 -15.6 2.0 -15.6 5.2 -14.6 8.5 -12.5 10.4 -10.1 11.4 -7.7 12.2 0.4 12.9 2.8 14.9 5.3 17.4 6.8 19.0 7.2 21.4 6.5 23.7 3.6 25.0 -0.4 26.6 -9.3 28.7 -13.2 28.7 28.7ZM4.5 27.9 6.9 27.1 7.9 26.2 8.2 25.4 7.7 24.6 3.6 23.2 -1.2 22.9 -6.3 23.8 -7.8 24.6 -8.3 25.4 -8.0 26.2 -7.0 27.1 -4.4 27.9 0.4 28.3 4.5 27.9Z" fill="#f2f5f6"/><path d="M28.7 28.7 4.8 28.7 9.4 27.1 10.2 26.2 10.4 25.4 10.0 24.6 8.9 23.8 6.1 22.8 -0.4 22.2 -6.9 23.0 -10.2 24.6 -10.6 25.4 -10.4 26.2 -9.5 27.1 -4.8 28.7 -28.7 28.7 -28.7 -4.0 -27.6 2.8 -25.4 8.2 -23.8 10.2 -22.2 11.4 -20.6 11.8 -19.0 11.6 -17.4 10.4 -10.9 3.6 -10.5 1.2 -10.5 -6.9 -9.9 -9.3 -8.5 -11.7 -6.1 -13.9 -3.6 -15.0 -0.4 -15.6 2.8 -15.2 7.1 -13.3 10.1 -10.1 11.3 -6.9 11.7 0.5 12.7 3.6 16.6 6.9 19.8 7.9 22.2 6.9 24.4 3.6 25.6 -0.4 27.1 -8.3 28.7 -11.6 28.7 28.7Z" fill="#f7f3f1"/><path d="M28.7 28.7 8.4 28.7 10.9 27.6 12.4 26.2 12.2 24.6 11.4 23.8 6.9 22.1 -0.4 21.5 -7.6 22.2 -11.8 23.8 -12.6 24.6 -12.6 26.2 -10.9 27.7 -8.5 28.7 -28.7 28.7 -28.7 0.6 -27.3 6.1 -25.1 10.1 -22.2 12.5 -20.6 12.9 -19.0 12.7 -17.4 11.5 -15.2 8.5 -10.4 3.6 -10.0 2.0 -10.3 -6.9 -9.6 -9.3 -8.5 -11.3 -6.5 -13.3 -3.6 -14.8 -1.2 -15.3 2.0 -15.2 6.7 -13.3 9.8 -10.1 10.9 -6.9 11.3 1.2 12.0 3.6 13.5 5.2 17.4 7.9 19.0 8.6 20.6 8.6 23.0 7.3 24.8 4.4 25.9 1.2 27.5 -6.9 28.7 -9.8 28.7 28.7Z" fill="#f7ebe5"/><path d="M28.7 28.7 11.4 28.7 13.3 27.6 14.6 26.2 14.5 24.6 13.3 23.5 10.9 22.3 7.7 21.4 -0.4 20.8 -8.1 21.4 -13.5 23.0 -15.1 24.6 -15.0 26.2 -13.3 27.8 -11.6 28.7 -28.7 28.7 -28.7 4.1 -26.7 9.3 -23.8 12.8 -20.6 14.3 -18.2 13.6 -14.7 8.5 -9.9 3.6 -9.6 2.0 -10.1 -6.1 -9.7 -8.5 -8.5 -10.9 -6.9 -12.7 -4.4 -14.2 -2.0 -15.0 1.2 -15.1 6.1 -13.5 8.3 -11.7 9.5 -10.1 10.8 -6.1 10.7 1.2 11.3 3.6 17.4 8.6 19.0 9.4 20.6 9.6 23.1 8.5 25.3 5.2 26.5 2.0 28.7 -7.5 28.7 28.7Z" fill="#f6e2da"/><path d="M28.7 28.7 14.4 28.7 16.6 27.1 17.2 25.4 16.5 23.8 14.9 22.6 11.9 21.4 8.5 20.7 -0.4 20.2 -10.9 20.8 -15.7 22.0 -17.6 23.8 -17.9 25.4 -17.0 27.1 -14.6 28.7 -28.7 28.7 -28.7 7.1 -26.9 10.9 -23.8 14.5 -20.6 16.2 -18.2 15.8 -16.6 13.7 -14.3 8.5 -9.4 3.6 -9.1 2.0 -9.9 -6.1 -9.4 -8.5 -8.2 -10.9 -6.1 -13.1 -2.8 -14.6 0.4 -15.0 4.3 -14.1 7.9 -11.7 9.9 -8.5 10.6 -5.2 10.2 2.0 10.6 3.6 19.0 10.4 20.6 10.7 22.2 10.4 23.8 9.3 25.1 7.7 26.9 3.6 28.7 -3.9 28.7 28.7Z" fill="#f6dace"/><path d="M28.7 28.7 17.8 28.7 20.0 26.2 19.6 23.8 17.4 21.9 13.3 20.4 6.1 19.6 -10.9 19.5 -13.8 19.0 -15.0 18.2 -15.6 15.7 -14.8 10.1 -13.3 7.7 -8.9 3.6 -8.7 2.0 -9.6 -3.6 -9.5 -6.9 -8.5 -10.1 -6.5 -12.5 -3.6 -14.1 0.4 -14.7 4.4 -13.8 7.6 -11.7 9.3 -9.3 10.1 -6.9 10.3 -3.6 9.6 2.0 10.0 3.6 14.9 7.7 18.2 11.2 19.8 12.2 22.2 12.1 25.0 10.1 27.3 6.1 28.7 1.5 28.7 28.7ZM-18.2 28.7 -28.7 28.7 -28.7 10.3 -25.4 15.3 -20.4 19.8 -20.1 20.6 -21.0 23.8 -21.0 25.4 -20.2 27.1 -18.2 28.7Z" fill="#f6d2c2"/><path d="M28.7 28.7 22.4 28.7 24.2 26.2 23.9 23.8 22.2 21.7 19.0 18.5 18.2 18.2 9.3 18.8 -6.1 18.8 -10.9 18.2 -13.3 16.8 -14.1 14.9 -14.3 10.1 -12.9 7.7 -8.4 3.6 -8.3 2.0 -9.4 -3.6 -9.3 -6.9 -8.2 -10.1 -6.1 -12.5 -2.8 -14.2 1.2 -14.5 5.0 -13.3 7.7 -11.3 9.1 -9.3 9.9 -6.1 9.9 -2.8 9.1 2.0 9.3 3.6 15.1 8.5 19.8 16.2 22.2 15.5 24.6 13.6 26.9 10.9 28.7 7.5 28.7 28.7ZM-23.0 28.7 -28.7 28.7 -28.7 14.6 -25.4 19.8 -25.2 25.4 -24.4 27.1 -23.0 28.7Z" fill="#f5cab7"/><path d="M5.2 18.2 -3.6 18.3 -9.9 17.4 -12.3 15.7 -13.9 11.7 -13.9 10.1 -13.2 8.5 -7.9 3.6 -9.2 -4.4 -9.1 -6.9 -8.4 -9.3 -6.1 -12.3 -2.0 -14.1 1.2 -14.3 3.6 -13.7 6.1 -12.5 8.3 -10.1 9.4 -7.7 9.7 -5.2 8.4 2.8 8.6 3.6 13.8 7.7 15.2 9.3 15.8 10.9 15.7 14.7 14.2 16.6 10.9 17.7 5.2 18.2Z" fill="#f5c2ab"/><path d="M6.1 17.4 -2.0 17.7 -8.5 16.8 -10.9 15.5 -13.3 11.7 -13.5 10.1 -12.8 8.5 -7.4 3.6 -9.0 -4.4 -8.9 -6.9 -8.1 -9.3 -6.1 -12.0 -2.8 -13.7 -0.4 -14.1 2.8 -13.7 5.6 -12.5 7.7 -10.6 8.9 -8.5 9.5 -5.2 9.2 -2.0 7.8 2.8 8.0 3.6 13.4 7.7 15.0 10.1 14.8 12.5 13.3 15.2 10.9 16.6 6.1 17.4Z" fill="#f5b99f"/><path d="M6.1 16.6 -0.4 17.1 -6.9 16.3 -9.3 15.3 -10.9 14.1 -12.3 12.5 -13.0 10.9 -12.9 9.3 -11.8 7.7 -6.9 3.6 -8.7 -4.4 -8.6 -6.9 -7.9 -9.3 -6.1 -11.7 -2.8 -13.5 0.4 -13.9 3.5 -13.3 6.1 -11.9 7.8 -10.1 8.9 -7.7 9.2 -4.4 7.4 3.6 12.9 7.7 14.4 10.1 13.9 12.5 11.7 14.8 9.3 15.9 6.1 16.6Z" fill="#f4b194"/><path d="M6.1 15.8 -0.4 16.4 -6.1 15.6 -10.1 13.9 -11.7 12.5 -12.6 10.9 -12.5 9.3 -11.5 7.7 -7.0 4.4 -6.5 3.6 -8.4 -3.6 -8.5 -6.1 -8.0 -8.5 -6.1 -11.4 -2.8 -13.3 1.2 -13.6 4.4 -12.7 6.9 -10.9 8.6 -7.7 8.9 -3.6 6.9 3.6 12.5 7.7 13.7 9.3 13.8 10.9 13.0 12.5 11.7 13.7 9.3 14.9 6.1 15.8Z" fill="#f4a988"/><path d="M6.1 15.0 0.4 15.7 -4.4 15.3 -9.3 13.7 -11.0 12.5 -12.2 10.9 -12.2 9.3 -11.1 7.7 -6.6 4.4 -6.1 3.6 -8.0 -2.8 -8.2 -6.9 -7.4 -9.3 -6.3 -10.9 -2.8 -13.0 0.4 -13.5 4.2 -12.5 6.9 -10.5 8.4 -7.7 8.6 -3.6 6.4 3.6 7.0 4.4 12.0 7.7 13.4 10.1 12.8 11.7 11.7 12.9 10.1 13.8 6.1 15.0Z" fill="#f29d7d"/><path d="M2.8 15.0 -2.0 15.1 -7.7 13.9 -10.9 12.0 -11.9 10.1 -10.7 7.7 -6.2 4.4 -5.7 3.6 -7.9 -3.6 -8.0 -6.1 -7.5 -8.5 -5.2 -11.5 -3.6 -12.5 -1.2 -13.2 1.2 -13.2 3.7 -12.5 6.1 -11.0 7.4 -9.3 8.3 -6.9 8.3 -3.6 5.9 3.6 6.5 4.4 11.6 7.7 12.9 10.1 12.2 11.7 10.1 13.2 6.9 14.3 2.8 15.0Z" fill="#ee8c73"/><path d="M5.2 14.2 0.4 14.8 -4.4 14.3 -9.3 12.8 -11.3 10.9 -11.4 9.3 -10.9 8.3 -6.1 4.7 -5.3 3.6 -7.6 -2.8 -7.7 -6.9 -6.1 -10.4 -2.8 -12.6 0.4 -13.0 3.6 -12.3 6.1 -10.7 7.9 -7.7 8.2 -5.2 7.9 -2.8 5.5 3.6 6.1 4.5 11.2 7.7 11.9 8.5 12.4 10.1 11.6 11.7 10.1 12.7 5.2 14.2Z" fill="#e97c69"/><path d="M3.6 14.2 -1.2 14.4 -6.1 13.6 -9.3 12.4 -10.8 10.9 -11.1 10.1 -11.1 9.3 -10.0 7.7 -6.1 5.0 -4.9 3.6 -7.3 -2.8 -7.5 -6.9 -6.1 -10.1 -4.4 -11.5 -2.0 -12.5 0.4 -12.8 2.8 -12.3 5.2 -11.1 6.9 -9.3 7.8 -6.9 7.8 -3.6 5.1 3.6 6.1 4.8 10.8 7.7 11.9 9.3 11.6 10.9 10.1 12.3 6.9 13.5 3.6 14.2Z" fill="#e56b60"/><path d="M0.4 14.2 -3.6 13.9 -7.7 12.8 -9.6 11.7 -10.7 10.1 -10.3 8.5 -9.6 7.7 -5.9 5.2 -4.6 3.6 -7.2 -3.6 -7.4 -6.1 -6.8 -8.5 -4.4 -11.2 -0.4 -12.5 3.8 -11.7 5.2 -10.8 6.9 -8.8 7.7 -6.1 7.5 -3.6 4.7 3.6 6.1 5.1 10.3 7.7 11.1 8.5 11.5 10.1 10.3 11.7 8.5 12.7 4.4 13.8 0.4 14.2Z" fill="#e15b56"/><path d="M4.4 13.5 -0.4 13.9 -4.4 13.4 -8.5 12.1 -10.3 10.1 -10.1 8.8 -9.2 7.7 -5.5 5.2 -4.2 3.6 -6.8 -2.8 -7.0 -6.9 -5.2 -10.3 -2.0 -12.0 1.2 -12.2 4.4 -11.0 6.3 -9.3 7.3 -6.9 7.1 -2.8 4.4 3.6 5.8 5.2 9.9 7.7 11.0 9.3 11.0 10.1 9.3 11.9 4.4 13.5Z" fill="#dd4a4c"/><path d="M3.6 13.4 -0.4 13.7 -5.2 13.0 -8.5 11.7 -9.9 10.1 -9.9 9.3 -8.8 7.7 -5.2 5.2 -3.9 3.6 -6.3 -2.0 -6.9 -6.1 -6.2 -8.5 -5.2 -9.9 -2.0 -11.7 1.2 -11.9 3.6 -11.2 5.9 -9.3 7.0 -6.9 6.8 -2.8 4.0 3.6 5.3 5.2 9.4 7.7 10.2 8.5 10.6 10.1 8.5 12.0 3.6 13.4Z" fill="#d93a42"/><path d="M2.0 13.4 -1.2 13.4 -5.2 12.8 -7.9 11.7 -9.5 10.1 -9.5 9.3 -8.5 7.7 -4.8 5.2 -3.6 3.6 -6.3 -2.8 -6.7 -5.2 -6.3 -7.7 -4.4 -10.3 -1.2 -11.6 1.2 -11.6 3.6 -10.9 6.2 -8.5 6.9 -6.1 6.8 -3.6 3.7 3.6 4.9 5.2 9.0 7.7 10.1 9.3 9.5 10.9 8.4 11.7 2.0 13.4Z" fill="#d42938"/><path d="M5.2 12.6 0.4 13.2 -3.6 12.9 -7.3 11.7 -9.0 10.1 -9.1 9.3 -8.5 8.2 -4.4 5.3 -3.2 3.6 -5.5 -1.2 -6.4 -5.2 -5.6 -8.5 -4.4 -9.9 -2.8 -10.9 0.4 -11.4 2.8 -10.9 5.2 -9.3 6.2 -7.7 6.6 -5.2 6.3 -2.8 3.3 3.6 4.5 5.2 8.5 7.7 9.7 9.3 9.0 10.9 5.2 12.6Z" fill="#d0192f"/><path d="M4.4 12.5 -3.6 12.7 -6.7 11.7 -8.6 10.1 -8.7 9.3 -7.7 7.8 -4.4 5.7 -2.8 3.6 -5.3 -1.2 -6.1 -3.8 -6.1 -6.1 -4.7 -9.3 -1.7 -10.9 1.2 -11.0 3.6 -10.2 5.2 -8.8 6.2 -6.9 6.1 -2.9 2.9 3.6 4.4 5.6 8.0 7.7 9.2 9.3 8.4 10.9 4.4 12.5Z" fill="#cc0825"/></g><path d="M-17.6 3.6 -16.0 2.0 -14.9 -0.3 -13.5 -9.3 -12.2 -12.5 -10.8 -14.1 -8.6 -15.7 -3.6 -17.8 -0.4 -18.2 3.6 -17.8 8.5 -16.2 12.7 -14.1 15.0 -12.5 17.0 -10.1 18.2 -5.6 18.6 -10.1 20.8 -18.2 20.6 -20.4 19.8 -22.0 17.4 -24.1 13.3 -25.9 7.7 -27.3 2.0 -27.8 -3.6 -27.8 -10.1 -26.9 -16.4 -25.4 -20.0 -23.8 -22.2 -21.7 -23.4 -19.0 -23.5 -3.6 -22.9 -0.4 -21.4 2.7 -19.8 3.9 -17.6 3.6M-21.1 -28.7 -25.8 -26.2 -28.7 -23.3M28.7 -21.5 27.6 -23.8 26.1 -25.4 23.7 -27.1 20.0 -28.7M-28.7 -15.8 -27.3 -10.9 -26.3 -1.2 -25.1 3.6 -23.0 7.2 -21.4 8.4 -19.8 8.7 -18.2 8.3 -16.6 7.3 -14.1 5.2 -12.9 3.6 -12.0 0.4 -11.4 -7.7 -9.7 -11.7 -8.3 -13.3 -6.1 -14.9 -3.6 -15.9 -1.2 -16.4 2.0 -16.3 4.4 -15.7 6.9 -14.6 9.7 -12.5 11.1 -10.9 12.3 -8.5 13.6 -0.4 14.9 2.8 17.4 4.8 19.0 5.0 20.3 4.4 21.9 2.8 23.0 0.4 24.9 -10.9 28.7 -19.7M-28.7 8.7 -26.2 13.0 -23.0 16.2 -19.8 17.7 -18.2 17.7 -17.4 17.2 -14.7 9.3 -13.4 7.7 -9.1 3.6 -8.9 2.0 -9.8 -5.2 -9.5 -7.7 -8.6 -10.1 -6.1 -13.0 -2.0 -14.7 1.2 -14.8 3.6 -14.3 6.1 -13.1 8.5 -10.9 9.8 -8.5 10.4 -6.1 9.9 2.0 10.3 3.6 19.0 11.0 20.6 11.4 22.2 11.1 24.7 9.3 27.0 5.2 28.7 -1.4M16.0 28.7 18.0 27.1 18.6 25.4 17.9 23.8 15.9 22.2 13.3 21.1 10.1 20.4 -0.4 19.9 -14.1 20.3 -16.6 20.8 -18.3 22.2 -19.4 24.6 -19.1 26.2 -18.5 27.1 -16.3 28.7M2.8 15.0 -2.0 15.1 -7.7 13.9 -10.9 12.0 -11.9 10.1 -11.8 9.3 -10.7 7.7 -6.1 4.4 -5.7 3.6 -7.9 -3.6 -8.0 -6.1 -7.5 -8.5 -6.6 -10.1 -5.2 -11.5 -3.5 -12.5 -1.2 -13.1 1.2 -13.2 3.7 -12.5 6.1 -11.0 7.4 -9.3 8.3 -6.9 8.3 -3.6 5.9 3.6 6.5 4.4 11.6 7.7 12.7 9.3 12.9 10.1 12.1 11.7 10.1 13.2 6.1 14.5 2.8 15.0M4.4 12.6 0.4 13.1 -3.6 12.7 -6.9 11.7 -8.7 10.1 -8.5 8.5 -4.2 5.2 -3.0 3.6 -5.7 -2.0 -6.2 -6.1 -5.8 -7.7 -4.8 -9.3 -2.0 -11.0 1.2 -11.1 3.6 -10.3 5.2 -9.0 6.3 -6.9 6.5 -5.2 6.1 -2.8 3.0 3.6 4.3 5.2 8.2 7.7 9.4 9.3 9.3 10.1 8.5 11.0 4.4 12.6M1.2 1.5 -0.4 1.8 -1.2 1.5 -2.8 -0.3 -3.9 -2.8 -4.1 -4.4 -3.6 -6.4 -2.8 -7.4 -1.2 -8.2 1.2 -8.2 2.6 -7.7 3.6 -6.7 4.2 -5.2 4.2 -3.6 3.6 -1.7 2.8 -0.2 1.2 1.5M2.8 11.0 -0.4 11.5 -2.8 11.0 -4.4 10.1 -4.7 8.5 -3.5 6.9 -2.0 5.9 -0.4 5.3 1.2 5.5 3.6 6.9 4.9 8.5 5.0 9.3 4.5 10.1 2.8 11.0" fill="none" stroke="#222" stroke-opacity="0.62" stroke-width="0.45"/></g><path d="M-5.2 -25.1 L-1.0 -30.0 Q0 -31.1 1.0 -30.0 L5.2 -25.1" fill="#fff" stroke="#333" stroke-width="0.8"/><rect x="-28.1" y="-6.5" width="2.9" height="13.0" rx="0.9" fill="#f0f0f0" stroke="#3a3a3a" stroke-width="0.75"/><rect x="25.2" y="-6.5" width="2.9" height="13.0" rx="0.9" fill="#f0f0f0" stroke="#3a3a3a" stroke-width="0.75"/><circle r="25.6" fill="none" stroke="#2e2e2e" stroke-width="0.9"/></g><g transform="translate(560.8 367.8)"><clipPath id="cpd12"><circle r="25.6"/></clipPath><g clip-path="url(#cpd12)"><g filter="url(#sm)"><rect x="-30.7" y="-30.7" width="61.4" height="61.4" fill="#0c75b2"/><path d="M28.7 28.8 -28.8 28.7 -28.7 -28.7 28.7 -28.7 28.7 28.8ZM-17.7 -1.2 -16.6 -4.3 -16.1 -10.1 -15.4 -12.5 -14.5 -14.1 -12.5 -16.1 -7.7 -18.3 -2.0 -19.5 2.0 -19.5 9.3 -18.4 11.7 -18.5 12.9 -19.0 13.5 -19.8 13.0 -21.4 11.0 -23.0 7.7 -24.4 3.6 -25.1 -0.4 -25.3 -8.5 -24.3 -13.1 -23.0 -16.8 -21.4 -18.7 -19.8 -19.8 -17.4 -21.2 -6.1 -20.9 -2.8 -20.1 -1.2 -19.0 -0.4 -17.7 -1.2Z" fill="#1a7eb7"/><path d="M28.7 28.8 -28.8 28.7 -28.7 -28.7 28.7 -28.7 28.7 28.8ZM-18.1 0.4 -16.5 -2.0 -14.9 -11.7 -13.5 -14.1 -11.7 -15.8 -6.9 -18.0 -1.2 -19.2 2.0 -19.1 10.1 -17.6 13.3 -17.6 14.9 -18.2 15.4 -19.0 15.5 -19.8 14.8 -21.4 12.8 -23.0 9.1 -24.6 5.2 -25.5 0.4 -25.9 -4.4 -25.6 -9.3 -24.8 -14.1 -23.5 -17.4 -22.1 -19.2 -20.6 -20.6 -17.9 -21.7 -6.9 -21.6 -3.6 -21.0 -1.2 -19.8 0.4 -18.1 0.4Z" fill="#2886bc"/><path d="M28.7 28.8 -28.8 28.7 -28.7 -28.7 28.7 -28.7 28.7 28.8ZM-18.0 1.2 -16.6 -0.4 -16.0 -2.0 -14.3 -11.7 -12.7 -14.1 -10.8 -15.7 -6.1 -17.9 -0.4 -18.9 3.6 -18.6 11.7 -16.7 14.9 -16.4 16.6 -17.3 17.0 -18.2 17.1 -19.8 16.3 -21.4 14.5 -23.0 10.9 -24.7 6.1 -25.9 1.2 -26.4 -3.6 -26.3 -9.1 -25.4 -14.9 -23.9 -18.2 -22.5 -20.2 -20.6 -21.3 -18.2 -22.2 -5.2 -21.8 -2.0 -20.8 0.4 -19.8 1.3 -18.0 1.2Z" fill="#368ec0"/><path d="M28.7 28.8 -28.8 28.7 -28.7 -28.7 28.7 -28.7 28.7 28.8ZM-17.9 2.0 -16.6 0.7 -15.7 -1.2 -14.5 -9.3 -13.7 -11.7 -12.0 -14.1 -10.1 -15.7 -5.2 -17.8 0.4 -18.6 5.2 -17.9 14.1 -15.3 16.6 -15.2 18.0 -16.6 18.5 -18.2 18.4 -19.8 17.7 -21.4 15.7 -23.2 11.7 -25.1 7.2 -26.2 2.0 -26.8 -2.8 -26.8 -8.5 -26.1 -14.8 -24.6 -18.6 -23.0 -21.1 -20.6 -22.1 -18.2 -22.6 -5.2 -22.3 -2.0 -21.4 0.5 -19.8 2.1 -17.9 2.0Z" fill="#4497c5"/><path d="M28.7 28.8 -28.8 28.7 -28.7 -28.7 28.7 -28.7 28.7 28.8ZM-18.0 2.8 -16.6 1.6 -15.5 -0.4 -13.6 -10.9 -12.1 -13.3 -10.1 -15.2 -4.4 -17.7 1.2 -18.3 6.9 -17.1 15.7 -13.6 17.4 -13.5 18.6 -14.9 19.5 -17.4 19.5 -19.8 18.9 -21.4 16.2 -23.8 12.5 -25.4 7.7 -26.7 2.0 -27.3 -4.4 -27.1 -10.5 -26.2 -16.6 -24.7 -19.8 -23.0 -21.9 -20.6 -22.7 -18.2 -23.0 -4.4 -22.5 -1.2 -21.4 1.5 -19.8 2.9 -18.0 2.8Z" fill="#539fc9"/><path d="M28.7 28.7 -28.7 28.7 -28.7 -28.7 28.7 -28.7 28.7 28.7ZM-18.1 3.6 -16.6 2.5 -15.1 -0.4 -13.1 -10.9 -11.6 -13.3 -9.3 -15.3 -6.1 -16.9 -2.8 -17.8 0.4 -18.0 3.6 -17.7 7.7 -16.5 12.5 -14.3 15.3 -12.5 17.4 -10.2 18.2 -10.2 20.5 -17.4 20.5 -19.8 19.8 -21.7 17.6 -23.8 14.1 -25.5 8.5 -27.0 2.8 -27.7 -2.8 -27.7 -9.3 -27.0 -15.7 -25.5 -19.8 -23.8 -22.2 -21.5 -23.3 -19.0 -23.4 -4.4 -23.0 -1.2 -21.6 2.0 -19.8 3.6 -18.1 3.6Z" fill="#61a8ce"/><path d="M28.7 28.7 -28.7 28.7 -28.7 -28.7 28.7 -28.7 28.7 28.7ZM-17.0 3.6 -14.9 0.4 -13.3 -9.3 -11.7 -12.5 -7.9 -15.7 -2.8 -17.5 0.4 -17.8 4.4 -17.2 9.3 -15.4 13.0 -13.3 14.7 -11.7 15.7 -10.1 17.4 -3.3 18.2 -2.5 19.0 -2.7 19.8 -4.8 20.0 -11.7 21.5 -18.2 21.3 -20.6 20.5 -22.2 17.6 -24.6 13.7 -26.2 8.5 -27.5 2.0 -28.2 -4.4 -28.0 -11.6 -27.1 -17.4 -25.6 -20.6 -24.0 -23.0 -21.5 -23.9 -19.0 -23.6 -2.8 -22.9 0.4 -21.4 3.2 -19.0 4.4 -17.0 3.6Z" fill="#6fb0d3"/><path d="M28.7 28.7 -28.7 28.7 -28.7 -28.7 28.7 -28.7 28.7 28.7ZM-17.2 4.4 -15.6 2.8 -14.5 0.4 -13.1 -8.5 -11.3 -12.5 -7.7 -15.6 -2.0 -17.4 1.2 -17.5 4.4 -17.0 8.5 -15.4 12.1 -13.3 14.8 -10.1 16.9 -2.0 18.2 -0.9 19.0 -1.0 19.8 -1.8 20.4 -3.6 20.9 -11.7 22.4 -18.2 22.3 -20.6 21.5 -22.2 18.9 -24.6 14.9 -26.4 9.3 -27.9 2.8 -28.6 -4.4 -28.5 -11.7 -27.5 -17.4 -26.1 -21.4 -24.1 -23.4 -22.2 -24.6 -19.0 -23.9 -2.0 -23.0 1.3 -21.4 3.9 -19.0 5.0 -17.2 4.4Z" fill="#7db8d7"/><path d="M28.7 28.7 -28.7 28.7 -28.7 -28.7 -7.3 -28.7 -14.9 -27.4 -19.8 -25.8 -23.0 -23.6 -24.9 -20.6 -25.3 -17.4 -24.0 -0.4 -22.2 3.8 -20.6 5.3 -19.0 5.6 -16.6 4.6 -14.7 2.0 -13.7 -1.2 -12.8 -8.5 -10.9 -12.5 -6.9 -15.7 -2.0 -17.2 1.2 -17.3 4.4 -16.7 7.7 -15.5 11.4 -13.3 13.1 -11.7 14.5 -9.3 15.7 -2.9 16.6 -0.9 18.2 0.4 19.8 -0.3 21.1 -3.6 21.6 -11.7 23.3 -19.0 22.9 -21.4 21.2 -23.8 18.2 -25.8 13.3 -27.5 7.0 -28.7 28.7 -28.7 28.7 28.7Z" fill="#8bc1dc"/><path d="M28.7 28.7 -28.7 28.7 -28.7 -28.7 -10.7 -28.7 -17.4 -27.3 -21.4 -25.6 -24.5 -23.0 -25.7 -20.6 -25.9 -17.4 -24.1 0.4 -22.2 4.5 -20.6 5.9 -19.0 6.2 -16.6 5.2 -14.2 2.0 -13.4 -1.2 -12.4 -8.5 -10.5 -12.5 -6.9 -15.4 -2.0 -17.0 1.2 -17.1 4.4 -16.5 7.7 -15.2 10.7 -13.3 12.4 -11.7 13.9 -9.3 15.4 -2.0 16.6 0.3 18.2 1.4 19.8 0.8 20.7 -0.4 21.6 -2.8 22.3 -11.7 24.1 -19.0 23.9 -21.4 22.3 -23.8 19.8 -25.6 15.7 -27.3 10.2 -28.7 28.7 -28.7 28.7 28.7Z" fill="#97c8df"/><path d="M28.7 28.7 -28.7 28.7 -28.7 -28.7 -13.6 -28.7 -19.0 -27.3 -22.8 -25.4 -25.4 -23.0 -26.6 -19.8 -25.1 -2.8 -24.3 1.2 -22.2 5.3 -20.6 6.5 -19.0 6.7 -16.0 5.2 -14.1 2.8 -13.2 -0.4 -12.1 -8.5 -10.7 -11.7 -7.2 -14.9 -2.0 -16.7 1.2 -16.9 4.4 -16.2 7.7 -14.9 10.9 -12.7 13.3 -9.3 14.9 -2.0 15.7 0.3 17.4 2.0 19.0 2.2 19.8 1.8 21.0 0.4 21.9 -2.0 22.8 -10.9 24.9 -18.2 24.9 -21.4 23.4 -23.8 21.4 -25.5 17.4 -27.4 12.7 -28.7 28.7 -28.7 28.7 28.7Z" fill="#a1cde2"/><path d="M28.7 28.7 -28.7 28.7 -28.7 -28.7 -16.1 -28.7 -20.6 -27.3 -23.9 -25.4 -26.3 -23.0 -27.4 -19.8 -24.7 1.2 -22.9 5.2 -21.4 6.7 -19.8 7.3 -18.2 7.1 -16.6 6.2 -14.1 3.6 -13.0 0.4 -11.9 -8.5 -10.1 -12.1 -8.5 -13.8 -6.1 -15.3 -1.2 -16.6 2.0 -16.5 5.2 -15.7 8.5 -14.1 10.6 -12.5 12.9 -9.3 14.6 -1.2 15.6 1.2 17.4 2.9 19.8 2.7 21.2 1.2 22.2 -1.2 23.4 -10.9 25.7 -18.2 26.0 -20.6 25.2 -23.0 22.8 -25.4 19.8 -27.1 15.0 -28.7 28.7 -28.7 28.7 28.7Z" fill="#abd2e4"/><path d="M28.7 28.7 -28.7 28.7 -28.7 -28.7 -18.3 -28.7 -22.2 -27.2 -25.4 -25.1 -27.2 -23.0 -28.2 -19.8 -26.5 -10.9 -25.8 -2.0 -24.9 2.0 -22.9 6.1 -21.4 7.3 -19.8 7.8 -16.6 6.7 -13.6 3.6 -12.6 0.4 -11.8 -7.7 -10.1 -11.7 -6.9 -14.6 -2.0 -16.3 1.2 -16.4 4.4 -15.8 7.7 -14.3 10.1 -12.6 11.6 -10.9 12.8 -8.5 14.1 -1.2 15.5 2.0 16.6 3.2 18.2 3.9 20.6 3.0 21.9 1.2 22.7 -1.2 23.9 -10.9 26.7 -18.2 27.1 -20.6 26.3 -23.0 24.0 -25.4 21.3 -27.1 17.1 -28.7 28.7 -28.7 28.7 28.7Z" fill="#b5d7e7"/><path d="M-28.7 -22.1 -28.7 -28.7 -20.2 -28.7 -25.4 -26.0 -27.7 -23.8 -28.7 -22.1ZM28.7 28.7 -28.7 28.7 -28.7 -17.2 -27.0 -10.9 -25.3 2.0 -23.8 5.6 -21.4 8.0 -19.8 8.4 -17.4 7.7 -14.9 5.8 -13.2 3.6 -12.2 0.4 -11.3 -8.5 -9.3 -12.3 -5.8 -14.9 -1.2 -16.2 2.0 -16.1 5.2 -15.3 7.7 -14.1 10.1 -12.1 12.4 -8.5 13.6 -1.2 14.8 2.0 16.6 4.0 19.0 4.6 21.4 3.0 22.8 0.4 24.5 -10.9 27.7 -18.2 28.2 -20.6 27.5 -23.0 25.4 -25.4 22.9 -27.1 19.0 -28.7 28.7 -28.7 28.7 28.7Z" fill="#bfdce9"/><path d="M-28.7 -24.0 -28.7 -28.7 -21.9 -28.7 -26.2 -26.4 -28.7 -24.0ZM28.7 -23.1 25.7 -26.2 20.9 -28.7 28.7 -28.7 28.7 -23.1ZM28.7 28.7 -28.7 28.7 -28.7 -14.8 -27.4 -10.1 -26.4 -1.2 -25.3 3.6 -23.0 7.5 -21.4 8.6 -19.8 9.0 -16.6 7.6 -13.9 5.2 -12.7 3.6 -11.9 0.4 -11.2 -7.7 -9.4 -11.7 -6.1 -14.6 -1.2 -16.0 2.0 -15.9 4.4 -15.3 7.1 -14.1 9.3 -12.5 10.8 -10.9 12.0 -8.5 13.3 -0.4 14.6 2.8 15.7 4.1 17.4 5.1 19.0 5.3 20.6 4.7 22.2 2.9 23.0 1.2 23.9 -2.0 25.2 -10.9 28.7 -18.0 28.7 28.7Z" fill="#cae1ec"/><path d="M-27.9 -26.1 -28.7 -25.4 -28.7 -28.7 -23.6 -28.7 -27.9 -26.1ZM28.7 -25.0 26.0 -27.1 22.8 -28.7 28.7 -28.7 28.7 -25.0ZM28.7 28.7 -28.7 28.7 -28.7 -12.9 -27.8 -9.3 -26.6 0.4 -25.4 4.4 -23.0 8.3 -21.4 9.3 -19.8 9.6 -16.6 8.1 -12.3 3.6 -11.6 1.2 -11.0 -7.7 -9.1 -11.7 -6.1 -14.3 -1.2 -15.8 1.2 -15.8 4.4 -15.1 6.9 -14.0 9.3 -12.2 11.6 -8.5 12.9 -0.4 14.1 3.0 15.3 4.4 17.4 5.7 19.0 6.0 20.6 5.5 22.2 3.9 23.6 1.2 25.6 -10.1 26.5 -12.5 28.7 -16.1 28.7 28.7Z" fill="#d4e6ee"/><path d="M-28.7 -26.6 -28.7 -28.7 -25.3 -28.7 -28.7 -26.6ZM28.7 -26.3 24.7 -28.7 28.7 -28.7 28.7 -26.3ZM28.7 28.7 -28.7 28.7 -28.7 -10.8 -27.0 0.4 -25.6 5.2 -23.0 9.1 -21.4 10.0 -19.8 10.2 -18.2 9.7 -16.6 8.5 -11.8 3.6 -11.2 1.2 -11.0 -6.1 -10.2 -9.3 -8.1 -12.5 -5.2 -14.5 -2.0 -15.5 2.0 -15.5 5.2 -14.6 8.6 -12.5 10.0 -10.9 11.3 -8.5 12.5 -0.0 13.4 2.8 15.7 5.4 19.0 6.7 21.4 5.8 23.5 2.8 24.7 -1.2 26.2 -10.1 28.7 -14.5 28.7 28.7ZM2.9 26.2 3.4 25.4 1.2 24.5 -1.9 24.6 -3.5 25.4 -2.9 26.2 -1.2 26.6 2.9 26.2Z" fill="#deebf1"/><path d="M-28.7 -27.8 -28.7 -28.7 -27.1 -28.7 -28.7 -27.8ZM28.7 -27.5 26.6 -28.7 28.7 -28.7 28.7 -27.5ZM28.7 28.7 -28.7 28.7 -28.7 -8.1 -27.4 1.2 -25.9 6.1 -24.6 8.2 -23.0 9.9 -21.4 10.8 -19.8 11.0 -17.4 9.8 -11.4 3.6 -10.8 1.2 -10.8 -5.2 -10.3 -8.5 -8.6 -11.7 -5.2 -14.3 -2.0 -15.3 2.0 -15.3 5.2 -14.4 8.2 -12.5 10.3 -10.1 11.3 -7.7 12.1 0.4 13.3 3.6 15.7 6.0 19.0 7.3 21.4 6.6 23.7 3.6 25.1 -0.4 26.7 -9.3 28.7 -13.1 28.7 28.7ZM5.1 27.1 6.4 26.2 6.7 25.4 6.0 24.6 2.8 23.6 -3.6 23.7 -6.1 24.6 -6.8 25.4 -6.5 26.2 -5.1 27.1 -2.0 27.7 1.2 27.8 5.1 27.1Z" fill="#e8f0f3"/><path d="M28.7 28.7 -28.7 28.7 -28.7 -4.3 -27.5 2.8 -25.4 8.1 -23.8 10.2 -22.2 11.3 -20.6 11.8 -19.0 11.6 -17.4 10.6 -10.9 3.6 -10.5 1.2 -10.4 -6.9 -9.7 -9.3 -8.3 -11.7 -6.1 -13.6 -3.6 -14.7 -0.4 -15.3 2.8 -15.0 5.2 -14.1 7.7 -12.7 10.4 -9.3 11.3 -6.1 11.8 1.2 12.6 3.6 16.6 7.0 19.8 8.0 22.2 6.9 24.4 3.6 25.6 -0.4 27.1 -8.3 28.7 -11.6 28.7 28.7ZM6.0 27.9 8.0 27.1 8.9 26.2 9.1 25.4 7.4 23.8 4.4 23.0 -0.4 22.6 -4.8 23.0 -7.5 23.8 -8.8 24.6 -9.2 25.4 -9.0 26.2 -8.0 27.1 -3.6 28.4 1.2 28.6 6.0 27.9Z" fill="#f2f5f6"/><path d="M28.7 28.7 6.4 28.7 10.4 27.1 11.1 26.2 10.9 24.6 9.3 23.5 6.9 22.6 -0.4 21.9 -7.7 22.8 -10.1 23.7 -11.2 24.6 -11.3 26.2 -10.5 27.1 -6.4 28.7 -28.7 28.7 -28.7 0.0 -27.1 6.1 -24.6 10.4 -21.4 12.6 -19.8 12.8 -18.2 12.2 -10.4 3.6 -10.1 2.0 -10.2 -6.9 -8.5 -11.1 -6.1 -13.3 -3.6 -14.5 -1.2 -15.0 2.0 -14.9 6.3 -13.3 9.6 -10.1 11.0 -6.1 11.4 2.0 12.6 4.4 17.4 8.0 19.0 8.6 20.6 8.6 23.0 7.2 24.7 4.4 26.1 0.4 27.4 -6.9 28.7 -10.0 28.7 28.7Z" fill="#f7f3f1"/><path d="M28.7 28.7 9.7 28.7 11.7 27.7 13.3 26.2 13.1 24.6 12.4 23.8 7.7 21.9 -0.4 21.2 -8.5 22.0 -13.0 23.8 -13.7 24.6 -13.6 26.2 -11.7 27.8 -9.7 28.7 -28.7 28.7 -28.7 3.3 -26.9 8.5 -24.6 11.7 -21.4 13.9 -19.8 14.0 -18.2 13.4 -16.6 11.7 -14.6 8.5 -10.0 3.6 -9.6 2.0 -10.0 -6.1 -9.5 -8.5 -8.3 -10.9 -6.8 -12.5 -4.4 -14.0 -2.0 -14.7 1.2 -14.8 6.1 -13.3 9.3 -10.1 10.7 -6.1 10.9 2.0 12.0 4.4 17.4 8.6 19.0 9.4 20.6 9.5 23.0 8.3 25.2 5.2 26.6 1.2 28.7 -8.0 28.7 28.7Z" fill="#f7ebe5"/><path d="M28.7 28.7 12.6 28.7 14.1 27.8 15.6 26.2 15.5 24.6 13.8 23.0 7.7 21.1 -0.4 20.5 -9.3 21.2 -12.5 21.9 -14.9 23.0 -16.3 24.6 -16.0 26.2 -14.3 27.9 -12.8 28.7 -28.7 28.7 -28.7 6.2 -26.5 10.9 -23.8 13.9 -20.6 15.6 -18.2 15.1 -16.6 13.3 -14.2 8.5 -9.5 3.6 -9.2 2.0 -9.9 -5.2 -9.5 -7.7 -8.6 -10.1 -6.1 -12.9 -2.0 -14.5 1.2 -14.6 3.6 -14.1 6.1 -13.0 8.5 -10.9 9.9 -8.5 10.4 -6.1 10.3 2.0 10.8 3.6 16.6 8.7 19.0 10.2 20.6 10.5 22.2 10.0 24.8 7.7 26.7 3.6 28.7 -5.1 28.7 28.7Z" fill="#f6e2da"/><path d="M28.7 28.7 15.7 28.7 17.7 27.1 18.3 25.4 17.7 23.8 15.6 22.2 12.5 21.0 9.3 20.4 -0.4 19.9 -15.7 20.5 -18.2 22.2 -19.2 24.6 -18.2 27.1 -16.0 28.7 -28.7 28.7 -28.7 9.0 -26.8 12.5 -23.8 15.8 -19.8 18.0 -17.4 17.9 -16.6 16.6 -14.3 9.3 -9.0 3.6 -8.8 2.0 -9.6 -5.2 -9.3 -7.7 -8.3 -10.1 -6.2 -12.5 -3.6 -13.9 -0.4 -14.5 3.6 -13.9 7.4 -11.7 9.6 -8.5 10.2 -5.2 9.8 2.0 10.1 3.6 19.0 11.4 20.6 11.8 22.2 11.5 25.0 9.3 27.1 5.2 28.7 -0.6 28.7 28.7Z" fill="#f6dace"/><path d="M28.7 28.7 19.4 28.7 21.1 27.1 21.5 24.6 19.7 22.2 15.7 20.1 10.1 19.4 -9.3 19.1 -12.5 18.4 -13.9 17.4 -14.5 15.7 -14.3 10.1 -12.8 7.7 -8.5 3.6 -9.4 -6.1 -8.5 -9.3 -6.8 -11.7 -3.6 -13.7 0.4 -14.3 4.4 -13.4 7.1 -11.7 9.0 -9.3 9.8 -6.9 10.0 -3.6 9.2 2.0 9.5 3.6 14.3 7.7 18.2 12.6 19.8 13.7 22.2 13.6 24.6 12.0 26.7 9.3 28.7 4.7 28.7 28.7ZM-20.6 28.7 -28.7 28.7 -28.7 12.3 -26.5 15.7 -23.0 19.8 -22.5 21.4 -22.6 25.4 -21.7 27.1 -19.9 28.7 -20.6 28.7Z" fill="#f6d2c2"/><path d="M11.7 18.2 2.0 18.7 -6.9 18.4 -10.9 17.6 -13.0 15.7 -13.9 11.7 -13.6 9.3 -12.4 7.7 -8.0 3.6 -9.1 -3.6 -8.9 -7.7 -7.3 -10.9 -4.4 -13.1 -1.2 -14.0 2.8 -13.7 6.1 -12.2 8.7 -9.3 9.5 -6.9 9.7 -4.4 8.7 2.0 8.8 3.6 13.8 7.7 15.2 9.3 16.8 14.1 16.6 15.7 15.7 16.8 11.7 18.2ZM28.7 28.7 25.2 28.7 26.5 27.1 26.8 24.6 23.6 19.0 24.1 17.4 28.7 10.9 28.7 28.7ZM-26.2 28.7 -28.7 28.7 -28.7 18.0 -27.7 20.6 -27.7 25.4 -27.1 27.1 -25.7 28.7 -26.2 28.7Z" fill="#f5cab7"/><path d="M10.1 17.4 1.2 18.1 -6.9 17.7 -10.4 16.6 -12.5 13.9 -13.5 10.9 -13.2 9.3 -12.1 7.7 -7.5 3.6 -8.9 -3.6 -8.6 -7.7 -7.0 -10.9 -4.4 -12.9 -1.2 -13.8 2.8 -13.5 6.1 -12.0 8.5 -9.2 9.3 -6.9 9.5 -4.4 8.0 2.8 8.2 3.6 13.3 7.7 14.6 9.3 15.2 10.9 14.9 13.9 14.1 15.5 12.7 16.6 10.1 17.4Z" fill="#f5c2ab"/><path d="M2.8 17.4 -3.6 17.3 -8.5 16.3 -10.9 14.6 -12.4 12.5 -13.0 10.9 -12.8 9.3 -11.7 7.7 -7.0 3.6 -8.7 -4.4 -8.6 -6.9 -7.8 -9.3 -5.2 -12.1 -1.2 -13.6 1.2 -13.6 3.6 -13.0 6.1 -11.7 7.7 -10.1 8.8 -7.7 9.2 -4.4 7.6 3.6 12.9 7.7 14.4 10.1 14.4 11.7 13.8 13.3 11.7 15.6 8.5 16.7 2.8 17.4Z" fill="#f5b99f"/><path d="M3.6 16.6 -2.8 16.7 -7.7 15.6 -10.9 13.5 -12.6 10.9 -12.4 9.3 -11.4 7.7 -6.6 3.6 -8.4 -3.6 -8.5 -6.1 -7.9 -8.5 -5.5 -11.7 -2.0 -13.3 1.2 -13.4 3.6 -12.8 6.1 -11.4 7.7 -9.6 8.8 -6.9 8.9 -4.4 7.1 3.6 12.5 7.7 13.9 10.1 13.3 12.4 10.9 14.7 7.7 16.0 3.6 16.6Z" fill="#f4b194"/><path d="M3.6 15.8 -1.2 16.1 -6.1 15.3 -10.1 13.4 -12.1 10.9 -12.1 9.3 -11.0 7.7 -6.7 4.4 -6.2 3.6 -8.2 -3.6 -8.3 -6.1 -7.7 -8.5 -5.2 -11.6 -2.0 -13.0 1.2 -13.2 3.6 -12.6 6.1 -11.1 7.6 -9.3 8.5 -6.9 8.7 -4.4 6.6 3.6 7.1 4.4 12.0 7.7 13.4 10.1 13.0 11.7 10.9 13.7 8.5 14.8 3.6 15.8Z" fill="#f4a988"/><path d="M4.4 15.1 -0.4 15.5 -6.1 14.6 -10.1 12.8 -11.7 10.9 -11.7 9.3 -10.9 8.0 -6.2 4.4 -5.8 3.6 -8.0 -3.6 -8.0 -6.1 -7.4 -8.5 -5.2 -11.3 -2.0 -12.8 1.2 -12.9 3.6 -12.3 6.0 -10.9 7.3 -9.3 8.3 -6.9 8.4 -3.6 6.1 3.6 6.6 4.4 11.6 7.7 12.7 9.3 12.8 10.9 10.9 13.0 7.7 14.4 4.4 15.1Z" fill="#f29d7d"/><path d="M0.4 15.0 -3.6 14.7 -7.7 13.6 -10.1 12.3 -11.5 10.1 -10.3 7.7 -6.1 4.7 -5.4 3.6 -7.7 -3.6 -7.8 -6.1 -7.2 -8.5 -6.1 -10.3 -4.4 -11.6 -0.4 -12.8 2.0 -12.6 4.4 -11.7 7.1 -9.3 8.0 -6.9 8.1 -3.6 5.6 3.6 6.1 4.4 11.2 7.7 12.4 10.1 11.7 11.7 8.5 13.6 4.4 14.6 0.4 15.0Z" fill="#ee8c73"/><path d="M4.4 14.2 -0.4 14.6 -6.1 13.8 -9.3 12.4 -10.2 11.7 -11.1 10.1 -9.9 7.7 -6.1 5.0 -5.0 3.6 -7.3 -2.8 -7.5 -6.9 -5.9 -10.1 -4.4 -11.3 -2.0 -12.3 0.4 -12.6 2.8 -12.1 5.2 -10.9 6.8 -9.3 7.8 -6.9 7.8 -3.6 5.2 3.6 6.1 4.8 10.7 7.7 11.9 9.3 11.7 10.9 10.1 12.4 4.4 14.2Z" fill="#e97c69"/><path d="M2.0 14.2 -2.8 14.1 -6.9 13.2 -9.7 11.7 -10.7 10.1 -10.2 8.5 -9.5 7.7 -5.9 5.2 -4.6 3.6 -7.3 -3.6 -7.3 -6.1 -6.9 -8.1 -4.7 -10.9 -1.2 -12.2 1.2 -12.2 3.6 -11.6 5.2 -10.6 6.9 -8.7 7.7 -6.1 7.6 -3.6 4.8 3.6 6.1 5.1 10.3 7.7 11.4 9.3 11.2 10.9 9.3 12.4 6.1 13.5 2.0 14.2Z" fill="#e56b60"/><path d="M5.2 13.4 0.4 14.0 -4.4 13.5 -8.5 12.1 -10.2 10.1 -10.1 9.0 -9.2 7.7 -5.5 5.2 -4.3 3.6 -6.6 -2.0 -7.1 -6.1 -5.9 -9.3 -4.4 -10.8 -2.8 -11.6 -0.4 -12.0 2.8 -11.6 5.5 -10.1 7.0 -7.7 7.5 -5.2 7.2 -2.8 4.4 3.6 5.8 5.2 9.8 7.7 11.0 9.3 11.0 10.1 9.3 12.0 5.2 13.4Z" fill="#e15b56"/><path d="M3.6 13.4 -0.4 13.7 -5.2 13.0 -8.5 11.8 -9.8 10.1 -9.8 9.3 -8.8 7.7 -5.1 5.2 -3.9 3.6 -6.4 -2.0 -6.9 -6.1 -6.2 -8.5 -5.2 -9.7 -2.0 -11.5 1.2 -11.7 3.6 -11.0 5.9 -9.3 7.0 -6.9 6.9 -2.8 4.0 3.6 5.3 5.2 9.4 7.7 10.2 8.5 10.5 10.1 10.1 10.9 8.5 12.0 3.6 13.4Z" fill="#dd4a4c"/><path d="M2.0 13.4 -1.2 13.5 -5.2 12.8 -7.9 11.7 -9.4 10.1 -9.3 9.0 -8.3 7.7 -4.7 5.2 -3.5 3.6 -6.4 -2.8 -6.7 -5.2 -6.2 -7.7 -4.4 -10.1 -1.2 -11.4 1.2 -11.4 3.2 -10.9 4.6 -10.1 6.1 -8.5 6.9 -6.1 6.8 -3.6 3.6 3.6 4.9 5.2 8.9 7.7 10.1 9.3 9.5 10.9 8.4 11.7 5.2 12.8 2.0 13.4Z" fill="#d93a42"/><path d="M5.2 12.6 0.4 13.2 -3.6 12.9 -7.3 11.7 -8.9 10.1 -8.5 8.3 -4.3 5.2 -3.2 3.6 -5.9 -2.0 -6.4 -5.2 -6.1 -7.4 -5.2 -8.9 -4.0 -10.1 -2.3 -10.9 1.2 -11.1 3.6 -10.4 5.2 -9.2 6.5 -6.9 6.4 -2.8 3.2 3.6 4.5 5.2 8.4 7.7 9.6 9.3 9.0 10.9 5.2 12.6Z" fill="#d42938"/><path d="M4.4 12.5 0.4 13.0 -3.6 12.7 -6.6 11.7 -8.5 10.1 -8.2 8.5 -4.0 5.2 -2.8 3.6 -5.6 -2.0 -6.2 -5.2 -5.2 -8.5 -3.6 -10.0 -2.0 -10.7 0.6 -10.9 3.6 -10.1 5.2 -8.7 6.2 -6.9 6.1 -2.8 2.9 3.6 4.1 5.2 7.9 7.7 9.1 9.3 8.4 10.9 4.4 12.5Z" fill="#d0192f"/><path d="M2.8 12.6 -3.2 12.5 -5.9 11.7 -8.0 10.1 -7.7 8.5 -3.6 5.4 -2.3 3.6 -5.4 -2.0 -5.8 -5.2 -4.8 -8.5 -3.6 -9.6 -2.0 -10.3 0.4 -10.5 2.9 -10.1 5.2 -8.2 6.1 -6.1 5.5 -2.0 2.4 3.6 3.7 5.2 8.2 8.5 8.5 10.0 7.7 10.9 6.2 11.7 2.8 12.6Z" fill="#cc0825"/></g><path d="M-17.2 2.8 -15.9 1.2 -15.0 -1.2 -14.0 -8.5 -13.3 -10.9 -11.8 -13.3 -9.3 -15.4 -6.9 -16.7 -3.6 -17.7 -0.4 -18.1 2.8 -17.9 6.9 -16.9 10.9 -15.3 17.4 -11.8 18.2 -12.3 19.9 -16.6 20.3 -19.0 19.6 -21.4 17.1 -23.8 13.6 -25.4 8.5 -26.8 2.8 -27.5 -3.6 -27.5 -10.1 -26.6 -15.7 -25.3 -19.8 -23.5 -21.9 -21.4 -23.1 -18.2 -23.2 -3.6 -22.6 -0.4 -21.4 2.0 -20.6 2.9 -19.0 3.5 -17.2 2.8M-19.1 -28.7 -23.1 -27.1 -26.2 -24.8 -28.1 -22.2 -28.6 -19.8 -26.7 -10.9 -25.9 -2.0 -25.1 2.0 -23.0 6.2 -21.4 7.6 -19.8 8.1 -18.2 7.8 -16.6 6.9 -14.6 5.2 -13.4 3.6 -12.4 0.4 -11.6 -7.7 -9.9 -11.7 -8.4 -13.3 -6.1 -14.9 -1.2 -16.3 2.0 -16.3 4.4 -15.7 7.7 -14.2 10.0 -12.5 11.4 -10.9 12.6 -8.5 13.9 -1.2 15.1 2.0 16.6 3.6 18.2 4.2 19.8 3.9 20.6 3.4 21.7 2.0 22.7 -0.4 24.2 -10.9 27.1 -18.2 27.5 -20.6 26.8 -23.0 24.6 -25.4 22.0 -27.1 17.9 -28.7M-28.7 4.1 -26.7 9.3 -23.8 12.8 -22.2 13.9 -20.6 14.4 -18.2 13.8 -16.6 12.1 -14.5 8.5 -9.8 3.6 -9.5 2.0 -10.0 -6.1 -9.5 -8.5 -8.3 -10.9 -6.8 -12.5 -4.4 -13.9 -2.0 -14.7 1.2 -14.8 3.6 -14.3 6.1 -13.2 8.0 -11.7 9.7 -9.3 10.7 -5.2 10.7 2.0 11.9 4.4 17.4 8.8 19.0 9.6 20.6 9.7 23.2 8.5 25.4 5.2 26.5 2.0 28.7 -7.3M10.4 28.7 12.5 27.6 13.8 26.2 13.7 24.6 13.0 23.8 10.9 22.7 7.7 21.7 -0.4 21.0 -8.5 21.8 -11.7 22.7 -13.7 23.8 -14.3 24.6 -14.2 26.2 -12.5 27.8 -10.6 28.7M3.6 15.8 -1.2 16.0 -6.1 15.2 -10.1 13.4 -12.1 10.9 -12.1 9.3 -11.0 7.7 -6.6 4.4 -6.1 3.6 -8.2 -3.6 -8.2 -6.1 -7.7 -8.5 -6.8 -10.1 -5.2 -11.6 -2.0 -13.0 1.2 -13.2 3.6 -12.6 6.1 -11.1 7.6 -9.3 8.5 -6.9 8.7 -4.4 8.3 -2.0 6.5 2.8 6.5 3.6 7.1 4.4 12.0 7.7 13.4 10.1 12.9 11.7 10.9 13.6 8.5 14.7 3.6 15.8M5.2 12.6 0.4 13.3 -3.6 12.9 -7.4 11.7 -9.0 10.1 -9.0 9.3 -8.5 8.3 -4.4 5.2 -3.2 3.6 -5.9 -2.0 -6.5 -5.2 -6.1 -7.5 -5.2 -9.0 -4.0 -10.1 -2.3 -10.9 0.4 -11.2 3.6 -10.4 5.2 -9.2 6.5 -6.9 6.7 -5.2 6.4 -2.8 3.3 3.6 4.5 5.2 8.5 7.7 9.6 9.3 9.0 10.9 5.2 12.6M1.2 1.6 -0.4 1.9 -1.2 1.5 -2.8 -0.1 -3.8 -2.0 -4.3 -4.4 -4.0 -6.1 -3.6 -6.9 -2.0 -8.0 -0.4 -8.4 2.0 -8.1 3.6 -7.0 4.2 -6.1 4.5 -4.4 3.9 -2.0 2.8 -0.0 1.2 1.6M2.8 11.0 -0.4 11.5 -2.8 11.0 -4.4 10.1 -4.7 8.5 -3.4 6.9 -2.0 5.9 -0.4 5.3 1.2 5.5 3.5 6.9 4.9 8.5 5.0 9.3 4.5 10.1 2.8 11.0" fill="none" stroke="#222" stroke-opacity="0.62" stroke-width="0.45"/></g><path d="M-5.2 -25.1 L-1.0 -30.0 Q0 -31.1 1.0 -30.0 L5.2 -25.1" fill="#fff" stroke="#333" stroke-width="0.8"/><rect x="-28.1" y="-6.5" width="2.9" height="13.0" rx="0.9" fill="#f0f0f0" stroke="#3a3a3a" stroke-width="0.75"/><rect x="25.2" y="-6.5" width="2.9" height="13.0" rx="0.9" fill="#f0f0f0" stroke="#3a3a3a" stroke-width="0.75"/><circle r="25.6" fill="none" stroke="#2e2e2e" stroke-width="0.9"/></g><g transform="translate(627.4 367.8)"><clipPath id="cpd13"><circle r="25.6"/></clipPath><g clip-path="url(#cpd13)"><g filter="url(#sm)"><rect x="-30.7" y="-30.7" width="61.4" height="61.4" fill="#0c75b2"/><path d="M28.7 28.8 -28.8 28.7 -28.7 -28.7 28.7 -28.7 28.7 28.8ZM18.3 1.2 19.8 -0.1 20.4 -2.0 20.7 -5.2 20.4 -8.5 18.5 -17.4 17.4 -19.3 14.9 -21.1 6.1 -24.0 2.0 -24.5 -2.8 -24.5 -7.3 -23.8 -14.1 -22.0 -17.4 -20.3 -19.2 -18.2 -20.6 -13.3 -21.5 -4.4 -20.6 -0.4 -19.0 1.4 -17.4 1.1 -15.8 -1.2 -14.3 -10.1 -13.3 -12.5 -12.0 -14.1 -10.1 -15.4 -7.7 -16.2 0.4 -16.9 8.5 -16.4 10.9 -15.6 12.5 -14.3 14.2 -10.9 15.5 -1.2 16.6 0.6 17.4 1.2 18.3 1.2Z" fill="#1a7eb7"/><path d="M28.7 28.8 -28.8 28.7 -28.7 -28.7 28.7 -28.7 28.7 28.8ZM18.5 2.0 19.8 1.0 20.8 -1.2 21.2 -4.4 20.9 -8.5 19.5 -17.4 18.2 -19.8 15.7 -21.7 12.5 -23.0 6.1 -24.6 -2.8 -25.1 -9.3 -24.1 -14.9 -22.5 -18.2 -20.7 -19.8 -18.8 -21.0 -14.9 -22.0 -4.4 -21.3 -0.4 -19.6 2.0 -18.2 2.4 -17.4 2.1 -15.7 0.2 -14.9 -2.1 -13.6 -10.1 -11.7 -13.3 -10.1 -14.5 -7.7 -15.5 0.4 -16.4 8.5 -15.6 11.7 -13.9 12.8 -12.5 13.7 -10.1 15.3 -0.4 16.6 1.6 17.4 2.1 18.5 2.0Z" fill="#2886bc"/><path d="M28.7 28.8 -28.8 28.7 -28.7 -28.7 28.7 -28.7 28.7 28.8ZM18.6 2.8 20.3 1.2 21.2 -1.2 21.6 -4.4 21.4 -8.5 20.0 -18.2 18.5 -20.6 16.4 -22.2 12.3 -23.8 6.1 -25.2 1.2 -25.7 -3.6 -25.6 -9.8 -24.6 -15.7 -23.0 -18.5 -21.4 -20.6 -19.0 -21.7 -14.9 -22.4 -4.4 -21.6 0.4 -19.8 2.8 -19.0 3.2 -17.4 3.0 -15.6 1.2 -14.5 -2.0 -13.2 -9.3 -12.1 -11.7 -10.9 -13.1 -6.9 -15.0 0.4 -16.0 7.7 -15.1 11.2 -13.3 13.1 -10.1 14.1 -2.8 15.0 0.4 16.6 2.5 18.6 2.8Z" fill="#368ec0"/><path d="M28.7 28.8 -28.8 28.7 -28.7 -28.7 28.7 -28.7 28.7 28.8ZM18.3 3.6 19.8 2.8 21.2 0.4 21.9 -2.8 22.0 -6.1 20.8 -18.2 19.5 -20.6 17.4 -22.5 14.1 -23.9 8.1 -25.4 2.8 -26.1 -2.8 -26.2 -9.3 -25.3 -15.3 -23.8 -18.6 -22.2 -21.0 -19.8 -22.3 -15.7 -22.8 -3.6 -21.8 1.2 -19.8 3.6 -17.4 3.8 -15.0 1.2 -14.1 -1.4 -12.6 -9.3 -10.6 -12.5 -6.9 -14.5 0.4 -15.6 7.7 -14.5 11.1 -12.5 12.8 -9.3 13.9 -2.0 14.9 1.2 16.6 3.2 18.3 3.6Z" fill="#4497c5"/><path d="M28.7 28.7 -28.7 28.7 -28.7 -28.7 28.7 -28.7 28.7 28.7ZM-17.2 4.4 -15.7 3.3 -14.5 1.2 -12.3 -8.5 -10.9 -11.3 -9.3 -12.8 -6.9 -14.0 -0.4 -15.2 6.1 -14.4 8.5 -13.6 10.2 -12.5 12.2 -9.3 13.6 -1.2 14.9 2.3 16.1 3.6 17.4 4.3 19.8 3.6 21.7 0.4 22.4 -4.4 21.8 -16.6 20.4 -20.6 17.8 -23.0 14.1 -24.6 7.7 -26.1 2.0 -26.7 -3.6 -26.6 -10.1 -25.7 -14.9 -24.6 -19.0 -22.8 -21.2 -20.6 -22.6 -17.4 -23.3 -3.6 -22.6 0.4 -21.4 2.9 -19.7 4.4 -17.2 4.4Z" fill="#539fc9"/><path d="M28.7 28.7 -28.7 28.7 -28.7 -28.7 28.7 -28.7 28.7 28.7ZM-17.5 5.2 -15.7 4.1 -14.1 1.5 -12.1 -7.7 -10.5 -10.9 -8.7 -12.5 -6.9 -13.5 -0.4 -14.9 6.1 -13.9 8.5 -13.0 10.1 -11.8 12.0 -8.5 13.3 -0.8 14.8 2.8 15.7 4.1 17.4 5.0 19.8 4.4 21.9 1.2 22.7 -3.6 22.4 -16.6 21.2 -20.6 19.0 -23.0 15.7 -24.7 9.6 -26.2 2.8 -27.1 -3.6 -27.1 -10.2 -26.2 -15.7 -24.9 -19.7 -23.0 -22.1 -20.6 -23.3 -17.4 -23.6 -2.8 -22.8 1.2 -21.4 3.8 -19.8 5.1 -17.5 5.2Z" fill="#61a8ce"/><path d="M28.7 28.7 -28.7 28.7 -28.7 -28.7 28.7 -28.7 28.7 28.7ZM-18.0 6.1 -15.7 4.8 -14.1 2.6 -13.1 -0.4 -11.6 -7.7 -9.8 -10.9 -6.1 -13.3 -0.4 -14.6 5.2 -13.7 9.4 -11.7 11.5 -8.5 13.0 -0.4 14.2 2.8 16.6 5.3 18.2 5.7 19.8 5.1 21.1 3.6 22.2 1.5 23.1 -3.6 23.0 -17.4 21.5 -21.4 19.0 -23.8 15.2 -25.4 9.3 -26.8 2.8 -27.6 -3.6 -27.6 -10.1 -26.8 -15.7 -25.5 -19.8 -23.7 -22.3 -21.4 -23.7 -18.2 -24.1 -3.6 -23.5 0.4 -22.2 3.6 -20.6 5.4 -18.0 6.1Z" fill="#6fb0d3"/><path d="M28.7 28.7 -28.7 28.7 -28.7 -28.7 28.7 -28.7 28.7 28.7ZM19.2 6.1 21.1 4.4 22.4 2.0 23.2 -1.2 23.5 -5.2 23.4 -19.0 22.2 -21.6 19.8 -24.0 15.7 -25.9 10.1 -27.2 2.8 -28.1 -3.6 -28.0 -10.9 -27.2 -16.6 -25.8 -20.6 -23.9 -23.1 -21.4 -24.2 -19.0 -24.6 -16.6 -24.4 -2.8 -23.1 2.8 -22.2 4.5 -20.6 6.1 -19.0 6.7 -17.4 6.6 -14.7 4.4 -12.9 0.4 -11.1 -7.7 -9.1 -10.9 -4.8 -13.3 0.4 -14.3 6.1 -13.0 9.5 -10.9 11.3 -7.7 12.6 -0.4 14.1 3.5 16.6 6.0 18.2 6.3 19.2 6.1Z" fill="#7db8d7"/><path d="M28.7 28.7 -28.7 28.7 -28.7 -28.7 28.7 -28.7 28.7 28.7ZM18.5 6.9 20.6 5.8 22.2 3.6 23.3 0.4 23.9 -3.6 24.1 -19.0 23.0 -21.7 20.6 -24.2 16.6 -26.2 10.9 -27.6 3.6 -28.5 -3.6 -28.5 -11.7 -27.5 -17.4 -26.1 -21.4 -24.1 -23.8 -21.6 -24.9 -19.0 -25.2 -16.6 -24.7 -2.0 -23.2 3.6 -22.2 5.3 -20.6 6.8 -19.0 7.4 -17.4 7.2 -15.7 6.3 -14.2 4.4 -12.5 0.7 -10.6 -7.7 -8.5 -10.8 -4.4 -13.1 0.4 -14.0 5.2 -12.9 7.7 -11.8 9.3 -10.4 10.8 -7.7 12.4 0.4 13.7 3.6 15.7 6.1 17.4 6.9 18.5 6.9Z" fill="#8bc1dc"/><path d="M28.7 28.7 -28.7 28.7 -28.7 -28.7 -7.3 -28.7 -14.9 -27.4 -19.8 -25.8 -23.6 -23.0 -25.4 -19.8 -25.8 -15.7 -24.8 0.4 -23.7 3.6 -22.3 6.1 -20.6 7.5 -19.0 8.1 -17.4 7.9 -15.7 7.0 -13.6 4.4 -12.2 1.2 -10.4 -6.9 -8.5 -10.1 -5.0 -12.5 -0.4 -13.7 4.4 -12.9 8.5 -10.5 10.3 -7.7 12.3 1.2 14.1 5.1 15.7 6.7 17.4 7.5 19.0 7.4 20.6 6.5 22.7 3.6 24.0 -1.2 24.9 -17.4 24.4 -20.6 22.2 -23.7 19.0 -25.8 14.1 -27.4 7.0 -28.7 28.7 -28.7 28.7 28.7Z" fill="#97c8df"/><path d="M28.7 28.7 -28.7 28.7 -28.7 -28.7 -11.1 -28.7 -17.4 -27.3 -21.4 -25.6 -24.5 -23.0 -26.1 -19.8 -26.4 -15.7 -25.6 -2.8 -25.0 1.2 -23.9 4.4 -22.3 6.9 -20.6 8.2 -19.0 8.7 -17.4 8.6 -15.7 7.7 -13.3 4.8 -11.8 1.2 -9.9 -6.9 -8.5 -9.5 -5.2 -12.0 -0.4 -13.5 4.4 -12.5 8.3 -10.1 10.1 -7.0 11.9 1.2 13.7 5.2 15.7 7.4 17.4 8.1 19.0 8.1 20.6 7.2 22.8 4.4 24.2 -0.4 25.5 -17.4 25.2 -20.6 23.8 -23.0 20.6 -25.7 16.6 -27.4 10.7 -28.7 28.7 -28.7 28.7 28.7Z" fill="#a1cde2"/><path d="M28.7 28.7 -28.7 28.7 -28.7 -28.7 -14.2 -28.7 -19.0 -27.4 -23.0 -25.3 -26.0 -22.2 -27.1 -19.0 -26.0 -2.8 -25.2 2.0 -23.0 6.9 -21.4 8.5 -19.0 9.4 -17.4 9.2 -15.7 8.4 -13.1 5.2 -11.4 1.2 -9.7 -6.1 -8.0 -9.3 -4.4 -12.1 -0.4 -13.2 2.0 -13.0 4.4 -12.2 6.7 -10.9 8.4 -9.3 9.9 -6.1 12.0 2.8 13.3 5.5 14.9 7.4 17.4 8.7 19.0 8.7 20.6 7.9 23.0 4.9 24.5 0.4 26.2 -19.8 24.8 -23.0 22.2 -25.4 18.2 -27.4 13.6 -28.7 28.7 -28.7 28.7 28.7Z" fill="#abd2e4"/><path d="M28.7 28.7 -28.7 28.7 -28.7 -28.7 -16.7 -28.7 -21.4 -27.0 -25.0 -24.6 -26.9 -22.2 -27.8 -19.0 -26.4 -2.0 -25.5 2.8 -23.0 7.7 -21.4 9.2 -19.0 10.1 -17.4 9.9 -15.7 9.1 -12.5 5.2 -11.2 2.0 -9.2 -6.1 -7.5 -9.3 -4.4 -11.7 -0.4 -13.0 2.0 -12.7 4.7 -11.7 7.0 -10.1 8.4 -8.5 9.5 -6.1 11.6 2.8 12.7 5.2 14.5 7.7 17.4 9.4 19.0 9.4 20.8 8.5 23.0 5.9 24.7 1.2 27.0 -19.8 25.8 -23.0 23.8 -25.1 20.6 -27.1 16.1 -28.7 28.7 -28.7 28.7 28.7Z" fill="#b5d7e7"/><path d="M-28.7 -19.1 -28.7 -28.7 -18.9 -28.7 -23.0 -26.9 -26.1 -24.6 -27.9 -22.2 -28.7 -19.1ZM28.7 28.7 -28.7 28.7 -28.7 -18.0 -26.0 2.8 -24.3 6.9 -21.4 10.0 -19.8 10.7 -17.4 10.7 -14.3 8.5 -11.3 3.6 -9.0 -5.2 -7.6 -8.5 -6.1 -10.1 -3.8 -11.7 0.4 -12.7 4.0 -11.7 7.2 -9.3 9.0 -6.1 10.9 2.0 12.5 5.8 15.7 9.4 17.4 10.1 19.0 10.1 20.6 9.4 22.2 8.0 23.8 5.3 24.8 2.8 25.5 -1.2 26.3 -10.1 28.0 -19.0 27.3 -22.2 25.5 -24.6 22.2 -27.0 18.3 -28.7 28.7 -28.7 28.7 28.7Z" fill="#bfdce9"/><path d="M-28.7 -22.7 -28.7 -28.7 -20.8 -28.7 -25.4 -26.2 -28.7 -22.7ZM28.7 -21.4 27.4 -23.8 25.9 -25.4 20.2 -28.7 28.7 -28.7 28.7 -21.4ZM28.7 28.7 -28.7 28.7 -28.7 -13.6 -27.1 -0.4 -26.2 3.6 -24.4 7.7 -21.4 10.8 -19.8 11.5 -17.4 11.4 -15.7 10.6 -14.1 9.1 -10.8 3.6 -8.5 -5.2 -7.1 -8.5 -3.6 -11.5 0.4 -12.5 4.4 -11.1 7.3 -8.5 8.8 -5.2 10.7 2.8 12.2 6.1 14.9 9.5 16.6 10.5 18.2 10.9 19.8 10.6 21.7 9.3 23.6 6.9 24.7 4.4 25.9 -0.4 27.0 -10.9 28.7 -17.3 28.7 28.7Z" fill="#cae1ec"/><path d="M-28.7 -24.4 -28.7 -28.7 -22.6 -28.7 -26.2 -26.6 -28.7 -24.4ZM28.7 -23.9 26.2 -26.3 22.1 -28.7 28.7 -28.7 28.7 -23.9ZM28.7 28.7 -28.7 28.7 -28.7 -10.4 -27.5 0.4 -26.2 5.2 -23.8 9.6 -20.6 12.1 -17.4 12.2 -15.7 11.5 -14.1 10.0 -10.3 3.6 -8.0 -5.2 -6.6 -8.5 -4.1 -10.9 -0.4 -12.2 1.2 -12.1 3.6 -11.3 6.8 -8.5 8.1 -6.1 10.0 2.0 11.7 6.1 14.9 10.3 16.6 11.3 18.2 11.6 20.6 11.0 22.2 9.7 24.9 5.2 26.2 0.4 27.4 -10.1 28.7 -14.4 28.7 28.7Z" fill="#d4e6ee"/><path d="M-28.7 -25.8 -28.7 -28.7 -24.4 -28.7 -28.7 -25.8ZM28.7 -25.5 24.0 -28.7 28.7 -28.7 28.7 -25.5ZM28.7 28.7 -28.7 28.7 -28.7 -6.1 -27.5 2.8 -25.4 8.5 -23.6 10.9 -21.4 12.6 -19.8 13.2 -17.4 13.1 -15.7 12.4 -14.1 10.9 -10.5 5.2 -8.9 1.2 -7.3 -6.1 -5.5 -9.3 -2.0 -11.6 -0.4 -12.0 2.0 -11.7 4.8 -10.1 6.9 -7.7 7.9 -5.2 9.7 2.8 12.5 8.3 15.7 11.7 17.4 12.4 19.0 12.4 22.2 10.6 23.8 8.7 25.2 6.1 26.5 1.2 27.7 -8.5 28.7 -12.1 28.7 28.7ZM1.0 27.1 3.0 26.2 2.2 25.4 -0.4 25.2 -2.3 25.4 -3.0 26.2 -1.2 27.0 1.0 27.1Z" fill="#deebf1"/><path d="M-27.9 -27.7 -28.7 -27.2 -28.7 -28.7 -26.3 -28.7 -27.9 -27.7ZM28.7 -26.9 25.9 -28.7 28.7 -28.7 28.7 -26.9ZM28.7 28.7 -28.7 28.7 -28.7 -0.5 -27.2 6.1 -24.6 10.9 -23.0 12.5 -20.6 13.9 -18.2 14.2 -16.6 13.8 -14.9 12.8 -13.3 10.9 -9.5 4.4 -8.4 1.2 -6.8 -6.1 -5.7 -8.5 -4.2 -10.1 -2.0 -11.4 -0.4 -11.8 2.0 -11.4 4.4 -10.1 6.4 -7.7 7.4 -5.2 9.2 2.8 12.5 9.2 15.7 12.7 17.4 13.3 19.0 13.3 22.2 11.6 23.8 9.8 25.5 6.9 26.9 2.0 28.7 -9.7 28.7 28.7ZM4.3 27.1 5.2 26.2 4.8 25.4 1.2 24.5 -2.8 24.7 -4.8 25.4 -5.2 26.2 -4.3 27.1 -1.2 27.8 2.0 27.7 4.3 27.1Z" fill="#e8f0f3"/><path d="M-28.7 -28.5 -28.4 -28.7 -28.7 -28.5ZM28.7 -28.3 28.0 -28.7 28.7 -28.7 28.7 -28.3ZM28.7 28.7 -28.7 28.7 -28.7 3.2 -26.5 9.3 -23.4 13.3 -19.8 15.2 -17.4 15.2 -15.7 14.5 -13.3 12.1 -8.9 4.4 -7.8 1.2 -6.4 -6.1 -5.3 -8.5 -3.8 -10.1 -2.0 -11.1 1.2 -11.4 3.9 -10.1 6.0 -7.7 6.9 -5.2 8.9 3.6 13.3 11.4 15.7 13.7 19.0 14.3 21.4 13.3 23.0 12.0 25.8 7.7 27.5 2.0 28.7 -6.4 28.7 28.7ZM4.3 27.9 6.2 27.1 6.9 26.2 6.6 25.4 5.2 24.6 2.8 24.1 -3.6 24.2 -6.1 25.0 -6.9 26.2 -6.1 27.2 -2.8 28.2 1.2 28.3 4.3 27.9Z" fill="#f2f5f6"/><path d="M28.7 28.7 3.4 28.7 6.1 28.1 8.0 27.1 8.5 26.2 8.3 25.4 7.3 24.6 4.9 23.8 -0.4 23.3 -5.2 23.9 -8.4 25.4 -8.6 26.2 -8.1 27.1 -6.1 28.1 -3.4 28.7 -28.7 28.7 -28.7 6.0 -26.2 11.4 -23.0 14.9 -20.6 16.2 -19.0 16.5 -15.7 15.8 -13.3 13.6 -7.9 3.6 -6.9 0.4 -6.0 -6.1 -4.9 -8.5 -2.0 -10.9 1.2 -11.2 3.6 -9.9 5.5 -7.7 6.4 -5.2 8.0 2.8 13.3 12.7 15.7 14.9 19.0 15.4 22.2 14.0 25.4 10.1 27.4 5.2 28.7 -1.3 28.7 28.7Z" fill="#f7f3f1"/><path d="M28.7 28.7 6.5 28.7 9.8 27.1 10.3 26.2 10.1 25.4 9.3 24.6 5.2 23.2 -0.4 22.8 -6.1 23.3 -9.5 24.6 -10.3 25.4 -10.4 26.2 -9.9 27.1 -6.6 28.7 -28.7 28.7 -28.7 8.7 -26.2 13.3 -22.2 16.9 -18.2 17.9 -14.9 16.9 -12.5 14.2 -10.4 9.3 -6.8 2.8 -6.1 0.4 -5.7 -5.2 -5.0 -7.7 -3.8 -9.3 -2.0 -10.6 -0.4 -11.0 1.2 -10.9 3.6 -9.6 5.1 -7.7 5.9 -5.2 6.6 0.4 7.3 2.8 13.2 14.1 15.7 16.3 17.4 16.8 19.8 16.6 22.2 15.4 23.7 14.1 26.8 9.3 28.7 3.5 28.7 28.7Z" fill="#f7ebe5"/><path d="M28.7 28.7 9.2 28.7 10.9 27.9 12.3 26.2 12.3 25.4 10.9 24.1 6.1 22.6 -0.4 22.2 -6.9 22.7 -11.7 24.4 -12.6 25.4 -12.6 26.2 -11.0 27.9 -9.3 28.7 -28.7 28.7 -28.7 11.6 -25.9 15.7 -22.2 18.7 -18.2 19.6 -15.7 19.2 -14.1 18.3 -11.9 15.7 -9.7 9.3 -5.6 2.0 -5.3 -5.2 -4.6 -7.7 -3.4 -9.3 -2.0 -10.3 -0.4 -10.8 1.2 -10.7 3.5 -9.3 4.7 -7.7 5.5 -5.2 6.1 2.0 10.1 9.3 12.3 14.9 14.1 17.2 15.7 18.1 18.2 18.5 22.2 17.1 25.9 13.3 28.7 7.4 28.7 28.7Z" fill="#f6e2da"/><path d="M28.7 28.7 12.4 28.7 14.7 27.1 15.4 25.4 14.1 23.4 11.7 22.4 3.6 21.5 -10.1 21.8 -12.5 21.4 -10.4 16.6 -9.4 10.1 -4.7 2.0 -4.8 -6.1 -4.2 -7.7 -2.8 -9.5 -1.2 -10.4 1.2 -10.4 3.1 -9.3 4.4 -7.7 5.1 -5.2 5.1 2.0 9.4 9.3 11.6 17.4 14.1 20.1 15.7 20.9 18.2 21.0 22.2 19.6 25.7 16.6 28.7 11.6 28.7 28.7ZM-13.3 28.7 -28.7 28.7 -28.7 15.1 -26.2 18.3 -23.8 20.4 -21.4 21.6 -17.1 23.0 -16.4 23.8 -15.8 26.2 -12.7 28.7 -13.3 28.7Z" fill="#f6dace"/><path d="M6.1 19.9 -0.4 20.3 -6.1 19.5 -7.5 18.2 -8.8 14.1 -9.0 11.7 -8.3 9.3 -4.3 3.6 -3.7 2.0 -4.5 -4.4 -4.2 -6.9 -2.8 -9.1 -1.2 -10.1 1.3 -10.1 2.8 -9.2 4.0 -7.7 4.6 -4.4 4.1 2.0 4.8 3.6 8.3 8.5 9.3 10.9 9.4 14.1 8.4 18.2 7.7 19.3 6.1 19.9ZM28.7 28.7 18.6 28.7 21.7 26.2 28.7 18.4 28.7 28.7ZM-20.6 28.7 -28.7 28.7 -28.7 21.5 -23.8 26.1 -19.9 28.7 -20.6 28.7Z" fill="#f6d2c2"/><path d="M1.2 18.2 -2.0 18.0 -5.2 16.4 -7.4 14.1 -8.1 11.7 -7.2 8.5 -3.8 4.4 -3.1 2.8 -2.9 0.4 -4.0 -4.4 -3.8 -6.9 -2.2 -9.3 -0.4 -10.0 2.3 -9.3 4.0 -6.9 4.2 -4.4 3.1 2.0 4.2 4.4 7.6 8.5 8.5 11.7 7.9 14.1 6.9 15.6 4.4 17.2 1.2 18.2Z" fill="#f5cab7"/><path d="M2.8 16.0 -0.4 16.5 -2.8 15.9 -5.8 14.1 -7.1 11.7 -7.0 10.1 -6.3 8.5 -3.5 5.2 -2.2 2.8 -2.2 0.4 -3.6 -4.4 -3.5 -6.9 -2.0 -9.1 -0.4 -9.8 2.0 -9.1 3.6 -6.9 3.8 -4.4 2.3 0.4 2.4 2.8 3.6 5.1 6.7 8.5 7.6 10.9 7.3 12.5 6.3 14.1 2.8 16.0Z" fill="#f5c2ab"/><path d="M2.0 15.1 -0.4 15.4 -3.6 14.3 -5.7 12.5 -6.2 10.9 -5.4 8.5 -2.5 5.2 -1.3 2.8 -1.3 0.4 -3.0 -3.6 -3.3 -6.1 -2.2 -8.5 -0.4 -9.5 2.0 -8.7 3.2 -6.9 3.3 -4.4 1.5 0.4 1.4 2.8 2.7 5.2 5.7 8.5 6.6 10.9 5.4 13.3 2.0 15.1Z" fill="#f5b99f"/><path d="M0.4 -0.0 -0.4 -0.1 -1.2 -1.1 -2.9 -5.2 -2.4 -7.7 -0.4 -9.2 1.9 -8.5 3.0 -6.1 2.7 -3.6 0.4 -0.0ZM1.2 14.3 -0.4 14.4 -2.8 13.6 -4.3 12.5 -5.1 10.9 -4.3 8.5 -0.4 3.8 0.4 3.8 1.2 4.6 4.7 8.5 5.4 10.1 5.2 11.6 4.6 12.5 1.2 14.3Z" fill="#f4b194"/><path d="M0.4 -1.5 -0.4 -1.5 -1.2 -2.2 -2.5 -5.2 -2.0 -7.7 -0.4 -8.8 1.3 -8.5 2.1 -7.7 2.7 -6.1 2.0 -3.3 0.4 -1.5ZM1.2 13.4 -0.4 13.6 -2.0 13.0 -4.0 10.9 -3.3 8.5 -0.4 5.4 0.4 5.4 2.0 6.7 4.3 10.1 3.8 11.7 1.2 13.4Z" fill="#f4a988"/><path d="M0.4 -2.4 -0.4 -2.5 -1.2 -3.2 -2.1 -5.2 -2.0 -6.9 -0.4 -8.5 1.2 -8.1 2.3 -6.1 2.0 -4.4 0.4 -2.4ZM0.4 12.7 -2.0 11.9 -2.9 10.1 -2.3 8.5 -0.4 6.7 1.2 7.1 2.4 8.5 3.1 10.1 2.4 11.7 0.4 12.7Z" fill="#f29d7d"/><path d="M0.4 -3.3 -0.7 -3.6 -1.7 -5.2 -1.6 -6.9 -0.4 -8.0 1.1 -7.7 1.8 -6.1 1.4 -4.4 0.4 -3.3ZM1.2 11.2 -0.4 11.6 -1.4 10.9 -1.6 9.3 -0.4 8.0 0.4 7.9 1.7 9.3 1.8 10.1 1.2 11.2Z" fill="#ee8c73"/><path d="M0.4 -4.2 -0.4 -4.3 -1.1 -5.2 -1.2 -6.2 -0.4 -7.4 0.4 -7.4 1.2 -6.5 1.2 -5.2 0.4 -4.2Z" fill="#e97c69"/><path d="M0.4 -5.9 -0.4 -6.1 0.4 -6.2 0.4 -5.9Z" fill="#e56b60"/></g><path d="M19.3 2.0 20.6 0.1 21.4 -3.6 20.4 -14.9 19.9 -17.4 19.0 -19.4 17.4 -21.1 15.7 -22.1 11.0 -23.8 6.1 -24.9 1.2 -25.4 -3.6 -25.3 -9.3 -24.4 -14.9 -22.9 -18.2 -21.2 -20.2 -19.0 -21.4 -14.9 -22.2 -4.4 -21.4 0.1 -19.8 2.4 -19.0 2.8 -17.4 2.6 -15.7 0.8 -14.7 -2.0 -13.3 -10.1 -12.5 -11.7 -11.2 -13.3 -9.3 -14.6 -6.9 -15.3 0.4 -16.2 8.5 -15.2 10.1 -14.6 11.7 -13.3 13.4 -10.1 14.4 -2.8 15.3 0.4 16.5 2.0 17.4 2.5 18.2 2.6 19.3 2.0M-16.9 6.1 -14.9 4.4 -13.6 2.0 -11.5 -6.9 -10.1 -10.1 -8.5 -11.7 -6.1 -13.0 -0.4 -14.4 5.2 -13.5 7.7 -12.5 9.3 -11.4 11.2 -8.5 12.8 -0.4 14.1 3.2 16.6 5.7 18.2 6.0 19.8 5.5 21.4 3.8 22.2 2.1 23.3 -2.8 23.3 -17.4 22.8 -19.8 22.0 -21.4 19.6 -23.8 15.7 -25.6 9.8 -27.1 2.8 -27.9 -3.6 -27.8 -10.9 -26.9 -16.6 -25.6 -20.6 -23.6 -22.8 -21.4 -24.1 -18.2 -24.4 -14.9 -24.2 -2.0 -23.2 2.0 -21.4 5.1 -19.0 6.5 -16.9 6.1M-16.0 -28.7 -20.8 -27.1 -24.6 -24.6 -26.6 -22.2 -27.6 -19.0 -26.2 -2.0 -25.3 2.8 -24.4 5.2 -22.8 7.7 -20.9 9.3 -19.0 9.9 -17.4 9.7 -15.7 8.9 -12.7 5.2 -11.1 1.2 -9.4 -6.1 -7.6 -9.3 -4.4 -11.8 -0.4 -13.0 2.0 -12.8 4.4 -11.9 8.0 -9.3 9.6 -6.1 12.0 3.6 13.3 6.0 14.9 7.9 16.6 8.9 18.2 9.3 19.8 8.9 21.5 7.7 23.6 4.4 24.8 0.4 25.7 -10.9 26.8 -17.4 26.8 -19.8 25.5 -23.0 23.0 -25.4 19.8 -27.2 15.4 -28.7M-25.9 -28.7 -28.7 -26.9M28.7 -26.6 25.5 -28.7M-28.7 -1.5 -27.3 5.2 -25.9 8.5 -24.6 10.5 -21.4 13.3 -19.8 13.9 -17.4 13.9 -15.7 13.2 -14.1 11.7 -10.1 5.2 -8.7 2.0 -6.9 -6.1 -5.8 -8.5 -4.3 -10.1 -2.0 -11.4 -0.4 -11.8 2.0 -11.5 4.5 -10.1 6.5 -7.7 7.5 -5.2 9.6 3.6 12.5 9.0 14.1 11.1 15.7 12.4 17.4 13.1 19.0 13.1 20.6 12.5 22.2 11.4 23.8 9.6 25.3 6.9 26.8 2.0 28.7 -10.3M3.8 27.1 4.7 26.2 4.3 25.4 1.2 24.6 -2.8 24.9 -4.3 25.4 -4.8 26.2 -3.8 27.1 -1.2 27.6 1.2 27.6 3.8 27.1M-28.7 14.6 -25.4 18.6 -22.2 20.9 -17.4 22.1 -14.9 22.0 -14.1 21.4 -10.9 17.4 -9.5 10.1 -4.8 2.0 -4.6 0.4 -4.9 -5.2 -4.3 -7.7 -2.8 -9.5 -0.4 -10.6 2.1 -10.1 3.2 -9.3 4.4 -7.7 5.1 -5.2 5.0 0.4 5.3 2.0 9.5 9.3 11.7 17.0 14.1 19.6 15.7 20.3 18.2 20.5 19.8 20.3 22.2 19.2 26.0 15.7 28.7 11.0M11.9 28.7 13.3 27.9 14.7 26.2 14.6 24.6 13.3 23.4 10.9 22.6 6.9 21.9 -1.2 21.5 -14.1 22.5 -15.3 23.8 -15.5 25.4 -14.6 27.1 -12.1 28.7M0.4 0.1 -0.4 -0.0 -1.2 -1.0 -2.6 -3.6 -2.9 -5.2 -2.4 -7.7 -1.8 -8.5 -0.4 -9.2 0.4 -9.2 1.9 -8.5 3.0 -6.1 2.7 -3.6 0.4 0.1M1.2 14.3 -0.4 14.5 -2.8 13.6 -4.4 12.5 -5.2 10.9 -4.4 8.5 -0.4 3.8 0.4 3.7 1.2 4.5 4.7 8.5 5.5 10.1 5.3 11.7 4.7 12.5 1.2 14.3" fill="none" stroke="#222" stroke-opacity="0.62" stroke-width="0.45"/></g><path d="M-5.2 -25.1 L-1.0 -30.0 Q0 -31.1 1.0 -30.0 L5.2 -25.1" fill="#fff" stroke="#333" stroke-width="0.8"/><rect x="-28.1" y="-6.5" width="2.9" height="13.0" rx="0.9" fill="#f0f0f0" stroke="#3a3a3a" stroke-width="0.75"/><rect x="25.2" y="-6.5" width="2.9" height="13.0" rx="0.9" fill="#f0f0f0" stroke="#3a3a3a" stroke-width="0.75"/><circle r="25.6" fill="none" stroke="#2e2e2e" stroke-width="0.9"/></g><rect x="327.7" y="234.0" width="3.2" height="22.9" fill="url(#cbg)"/><text x="325.8" y="234.9" font-size="7.0" fill="#1a1a1a" text-anchor="end">0.1</text><text x="325.8" y="249.0" font-size="7.0" fill="#1a1a1a" text-anchor="end">µV</text><text x="325.8" y="261.8" font-size="7.0" fill="#1a1a1a" text-anchor="end">-0.1</text><rect x="327.7" y="283.2" width="3.2" height="22.9" fill="url(#cbg)"/><text x="325.8" y="284.1" font-size="7.0" fill="#1a1a1a" text-anchor="end">0.1</text><text x="325.8" y="298.2" font-size="7.0" fill="#1a1a1a" text-anchor="end">µV</text><text x="325.8" y="311.0" font-size="7.0" fill="#1a1a1a" text-anchor="end">-0.1</text><rect x="327.7" y="332.40000000000003" width="3.2" height="22.9" fill="url(#cbg)"/><text x="325.8" y="333.3" font-size="7.0" fill="#1a1a1a" text-anchor="end">0.1</text><text x="325.8" y="347.4" font-size="7.0" fill="#1a1a1a" text-anchor="end">µV</text><text x="325.8" y="360.2" font-size="7.0" fill="#1a1a1a" text-anchor="end">-0.1</text><rect x="327.7" y="381.6" width="3.2" height="22.9" fill="url(#cbg)"/><text x="325.8" y="382.5" font-size="7.0" fill="#1a1a1a" text-anchor="end">1.0</text><text x="325.8" y="396.6" font-size="7.0" fill="#1a1a1a" text-anchor="end">µV</text><text x="325.8" y="409.4" font-size="7.0" fill="#1a1a1a" text-anchor="end">-1.0</text><rect x="664.4" y="76.0" width="3.0" height="29.0" fill="url(#cbg2)"/><text x="671.6" y="79.4" font-size="6.7" fill="#1a1a1a">0.7</text><text x="671.6" y="92.8" font-size="6.7" fill="#1a1a1a">a.u.</text><text x="671.6" y="106.0" font-size="6.7" fill="#1a1a1a">0.3</text><rect x="664.4" y="144.3" width="3.0" height="28.5" fill="url(#cbg2)"/><text x="671.6" y="147.4" font-size="6.7" fill="#1a1a1a">0.5</text><text x="671.6" y="160.8" font-size="6.7" fill="#1a1a1a">µV</text><text x="671.6" y="174.3" font-size="6.7" fill="#1a1a1a">0</text><rect x="663.3" y="285.0" width="3.0" height="29.3" fill="url(#cbg2)"/><text x="670.4" y="288.9" font-size="6.7" fill="#1a1a1a">0.7</text><text x="670.4" y="302.0" font-size="6.7" fill="#1a1a1a">a.u.</text><text x="670.4" y="315.4" font-size="6.7" fill="#1a1a1a">0.3</text><rect x="661.5" y="354.3" width="3.0" height="29.0" fill="url(#cbg2)"/><text x="668.7" y="358.3" font-size="6.7" fill="#1a1a1a">0.5</text><text x="668.7" y="368.3" font-size="6.7" fill="#1a1a1a">µV</text><text x="668.7" y="384.6" font-size="6.7" fill="#1a1a1a">0</text>
</svg></body></html>
